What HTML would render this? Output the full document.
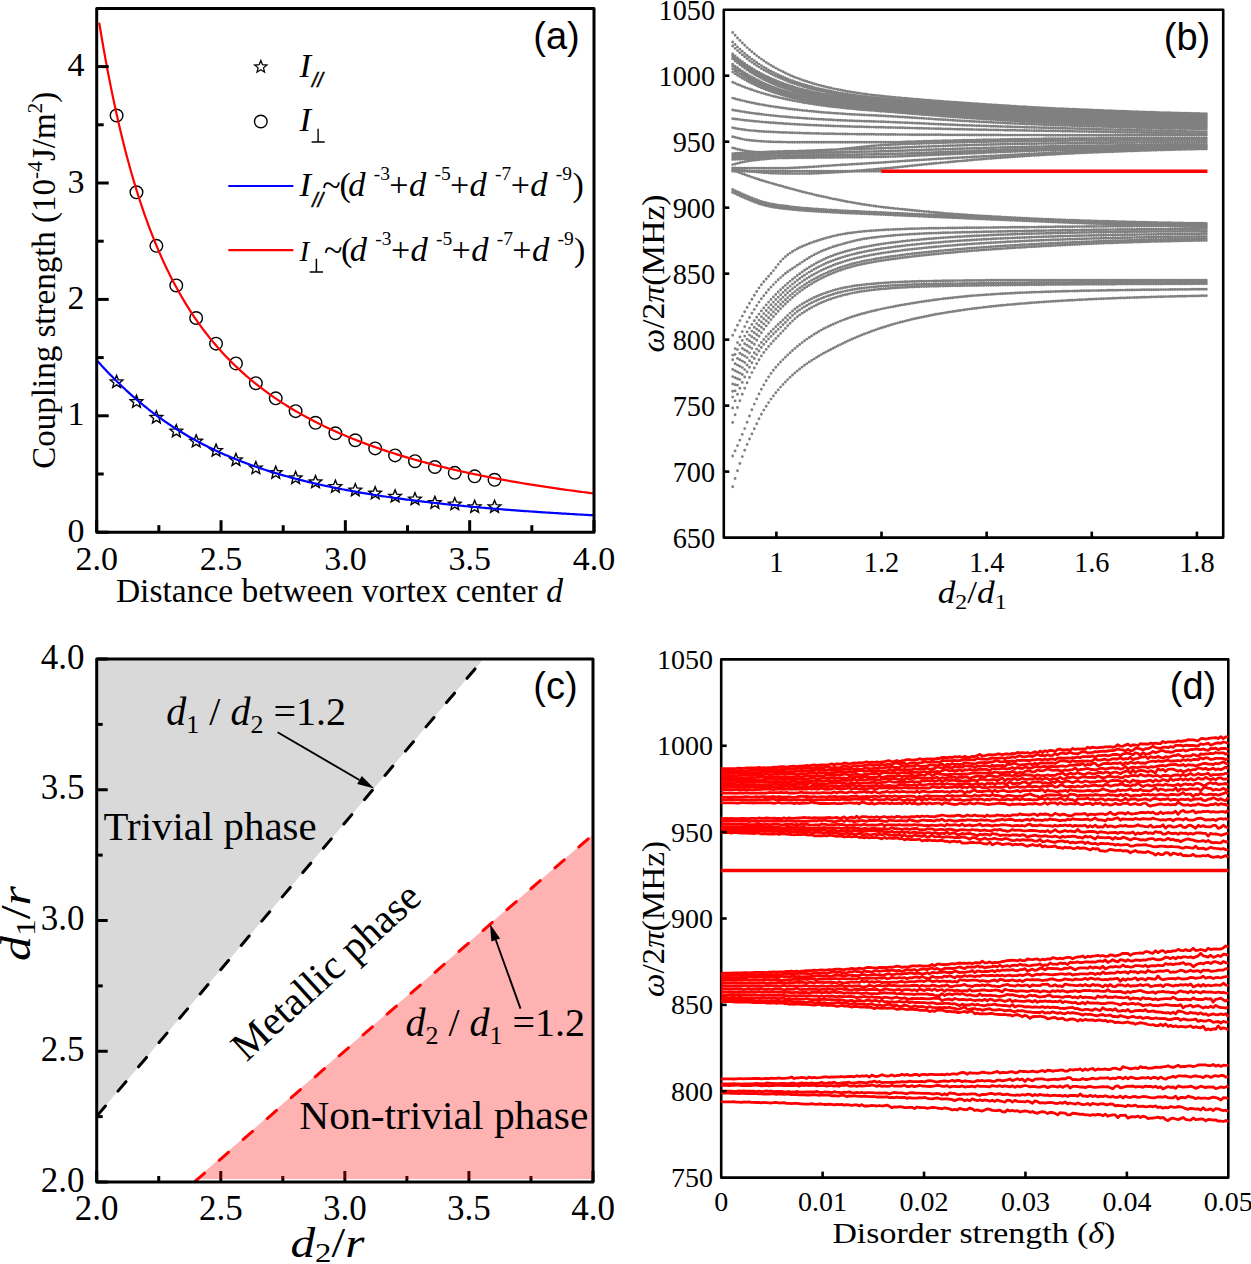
<!DOCTYPE html>
<html><head><meta charset="utf-8"><style>
html,body{margin:0;padding:0;background:#fff;}
svg{display:block;}
text{fill:#000;}
</style></head><body>
<svg width="1251" height="1264" viewBox="0 0 1251 1264">
<rect width="1251" height="1264" fill="#fff"/>
<path d="M116.59,375.44 L118.30,379.69 L122.87,380.00 L119.35,382.94 L120.47,387.38 L116.59,384.95 L112.71,387.38 L113.83,382.94 L110.32,380.00 L114.89,379.69ZM136.48,395.23 L138.19,399.48 L142.76,399.79 L139.25,402.73 L140.36,407.17 L136.48,404.74 L132.60,407.17 L133.72,402.73 L130.21,399.79 L134.78,399.48ZM156.38,410.95 L158.08,415.20 L162.65,415.51 L159.14,418.44 L160.26,422.89 L156.38,420.45 L152.50,422.89 L153.61,418.44 L150.10,415.51 L154.67,415.20ZM176.27,424.68 L177.97,428.93 L182.54,429.24 L179.03,432.18 L180.15,436.62 L176.27,434.19 L172.39,436.62 L173.51,432.18 L169.99,429.24 L174.56,428.93ZM196.16,434.81 L197.87,439.06 L202.44,439.37 L198.92,442.31 L200.04,446.75 L196.16,444.31 L192.28,446.75 L193.40,442.31 L189.88,439.37 L194.45,439.06ZM216.05,444.12 L217.76,448.37 L222.33,448.68 L218.81,451.62 L219.93,456.06 L216.05,453.62 L212.17,456.06 L213.29,451.62 L209.78,448.68 L214.35,448.37ZM235.94,453.43 L237.65,457.68 L242.22,457.99 L238.71,460.93 L239.82,465.37 L235.94,462.94 L232.06,465.37 L233.18,460.93 L229.67,457.99 L234.24,457.68ZM255.84,461.58 L257.54,465.83 L262.11,466.14 L258.60,469.08 L259.72,473.52 L255.84,471.08 L251.96,473.52 L253.07,469.08 L249.56,466.14 L254.13,465.83ZM275.73,466.24 L277.43,470.49 L282.00,470.80 L278.49,473.73 L279.61,478.18 L275.73,475.74 L271.85,478.18 L272.97,473.73 L269.45,470.80 L274.02,470.49ZM295.62,471.47 L297.33,475.72 L301.90,476.03 L298.38,478.97 L299.50,483.41 L295.62,480.98 L291.74,483.41 L292.86,478.97 L289.34,476.03 L293.91,475.72ZM315.51,475.55 L317.22,479.80 L321.79,480.11 L318.27,483.05 L319.39,487.49 L315.51,485.05 L311.63,487.49 L312.75,483.05 L309.24,480.11 L313.81,479.80ZM335.40,480.20 L337.11,484.45 L341.68,484.76 L338.17,487.70 L339.28,492.14 L335.40,489.71 L331.52,492.14 L332.64,487.70 L329.13,484.76 L333.70,484.45ZM355.30,483.70 L357.00,487.95 L361.57,488.26 L358.06,491.19 L359.18,495.64 L355.30,493.20 L351.42,495.64 L352.53,491.19 L349.02,488.26 L353.59,487.95ZM375.19,486.72 L376.89,490.97 L381.46,491.28 L377.95,494.22 L379.07,498.66 L375.19,496.23 L371.31,498.66 L372.43,494.22 L368.91,491.28 L373.48,490.97ZM395.08,489.87 L396.79,494.12 L401.36,494.43 L397.84,497.36 L398.96,501.80 L395.08,499.37 L391.20,501.80 L392.32,497.36 L388.80,494.43 L393.37,494.12ZM414.97,492.66 L416.68,496.91 L421.25,497.22 L417.73,500.16 L418.85,504.60 L414.97,502.16 L411.09,504.60 L412.21,500.16 L408.70,497.22 L413.27,496.91ZM434.86,496.27 L436.57,500.52 L441.14,500.83 L437.63,503.76 L438.74,508.21 L434.86,505.77 L430.98,508.21 L432.10,503.76 L428.59,500.83 L433.16,500.52ZM454.76,497.66 L456.46,501.91 L461.03,502.22 L457.52,505.16 L458.64,509.60 L454.76,507.17 L450.88,509.60 L451.99,505.16 L448.48,502.22 L453.05,501.91ZM474.65,500.34 L476.35,504.59 L480.92,504.90 L477.41,507.84 L478.53,512.28 L474.65,509.85 L470.77,512.28 L471.89,507.84 L468.37,504.90 L472.94,504.59ZM494.54,500.34 L496.25,504.59 L500.82,504.90 L497.30,507.84 L498.42,512.28 L494.54,509.85 L490.66,512.28 L491.78,507.84 L488.26,504.90 L492.83,504.59Z" fill="none" stroke="#000" stroke-width="1.4" stroke-linejoin="miter"/>
<circle cx="116.59" cy="115.49" r="6.3" fill="none" stroke="#000" stroke-width="1.4"/>
<circle cx="136.48" cy="192.31" r="6.3" fill="none" stroke="#000" stroke-width="1.4"/>
<circle cx="156.38" cy="245.86" r="6.3" fill="none" stroke="#000" stroke-width="1.4"/>
<circle cx="176.27" cy="285.43" r="6.3" fill="none" stroke="#000" stroke-width="1.4"/>
<circle cx="196.16" cy="318.02" r="6.3" fill="none" stroke="#000" stroke-width="1.4"/>
<circle cx="216.05" cy="343.63" r="6.3" fill="none" stroke="#000" stroke-width="1.4"/>
<circle cx="235.94" cy="363.42" r="6.3" fill="none" stroke="#000" stroke-width="1.4"/>
<circle cx="255.84" cy="383.21" r="6.3" fill="none" stroke="#000" stroke-width="1.4"/>
<circle cx="275.73" cy="398.34" r="6.3" fill="none" stroke="#000" stroke-width="1.4"/>
<circle cx="295.62" cy="411.14" r="6.3" fill="none" stroke="#000" stroke-width="1.4"/>
<circle cx="315.51" cy="422.78" r="6.3" fill="none" stroke="#000" stroke-width="1.4"/>
<circle cx="335.40" cy="433.26" r="6.3" fill="none" stroke="#000" stroke-width="1.4"/>
<circle cx="355.30" cy="440.24" r="6.3" fill="none" stroke="#000" stroke-width="1.4"/>
<circle cx="375.19" cy="448.39" r="6.3" fill="none" stroke="#000" stroke-width="1.4"/>
<circle cx="395.08" cy="455.38" r="6.3" fill="none" stroke="#000" stroke-width="1.4"/>
<circle cx="414.97" cy="461.20" r="6.3" fill="none" stroke="#000" stroke-width="1.4"/>
<circle cx="434.86" cy="467.02" r="6.3" fill="none" stroke="#000" stroke-width="1.4"/>
<circle cx="454.76" cy="472.84" r="6.3" fill="none" stroke="#000" stroke-width="1.4"/>
<circle cx="474.65" cy="476.33" r="6.3" fill="none" stroke="#000" stroke-width="1.4"/>
<circle cx="494.54" cy="479.82" r="6.3" fill="none" stroke="#000" stroke-width="1.4"/>
<path d="M99.19,22.58 L100.84,32.54 L102.49,42.20 L104.13,51.57 L105.78,60.66 L107.43,69.48 L109.08,78.05 L110.73,86.36 L112.38,94.44 L114.03,102.29 L115.68,109.91 L117.33,117.32 L118.98,124.52 L120.63,131.52 L122.28,138.33 L123.93,144.95 L125.58,151.40 L127.23,157.67 L128.88,163.77 L130.52,169.71 L132.17,175.49 L133.82,181.13 L135.47,186.62 L137.12,191.96 L138.77,197.17 L140.42,202.25 L142.07,207.21 L143.72,212.04 L145.37,216.75 L147.02,221.34 L148.67,225.83 L150.32,230.20 L151.97,234.47 L153.62,238.65 L155.27,242.72 L156.91,246.70 L158.56,250.59 L160.21,254.38 L161.86,258.10 L163.51,261.73 L165.16,265.27 L166.81,268.74 L168.46,272.14 L170.11,275.46 L171.76,278.71 L173.41,281.89 L175.06,285.00 L176.71,288.05 L178.36,291.03 L180.01,293.95 L181.66,296.81 L183.30,299.62 L184.95,302.37 L186.60,305.06 L188.25,307.70 L189.90,310.29 L191.55,312.83 L193.20,315.32 L194.85,317.76 L196.50,320.16 L198.15,322.51 L199.80,324.82 L201.45,327.08 L203.10,329.31 L204.75,331.49 L206.40,333.64 L208.05,335.74 L209.69,337.81 L211.34,339.84 L212.99,341.84 L214.64,343.81 L216.29,345.73 L217.94,347.63 L219.59,349.50 L221.24,351.33 L222.89,353.14 L224.54,354.91 L226.19,356.66 L227.84,358.38 L229.49,360.07 L231.14,361.73 L232.79,363.37 L234.44,364.98 L236.08,366.57 L237.73,368.13 L239.38,369.67 L241.03,371.18 L242.68,372.68 L244.33,374.15 L245.98,375.60 L247.63,377.02 L249.28,378.43 L250.93,379.82 L252.58,381.19 L254.23,382.53 L255.88,383.86 L257.53,385.17 L259.18,386.46 L260.83,387.74 L262.47,388.99 L264.12,390.23 L265.77,391.46 L267.42,392.66 L269.07,393.85 L270.72,395.03 L272.37,396.19 L274.02,397.33 L275.67,398.46 L277.32,399.58 L278.97,400.68 L280.62,401.76 L282.27,402.84 L283.92,403.90 L285.57,404.94 L287.22,405.98 L288.87,407.00 L290.51,408.01 L292.16,409.00 L293.81,409.99 L295.46,410.96 L297.11,411.92 L298.76,412.87 L300.41,413.81 L302.06,414.73 L303.71,415.65 L305.36,416.56 L307.01,417.45 L308.66,418.34 L310.31,419.21 L311.96,420.08 L313.61,420.93 L315.26,421.78 L316.90,422.62 L318.55,423.44 L320.20,424.26 L321.85,425.07 L323.50,425.87 L325.15,426.66 L326.80,427.45 L328.45,428.22 L330.10,428.99 L331.75,429.75 L333.40,430.50 L335.05,431.24 L336.70,431.97 L338.35,432.70 L340.00,433.42 L341.65,434.13 L343.29,434.84 L344.94,435.53 L346.59,436.23 L348.24,436.91 L349.89,437.59 L351.54,438.26 L353.19,438.92 L354.84,439.58 L356.49,440.23 L358.14,440.87 L359.79,441.51 L361.44,442.14 L363.09,442.76 L364.74,443.38 L366.39,443.99 L368.04,444.60 L369.68,445.20 L371.33,445.80 L372.98,446.39 L374.63,446.97 L376.28,447.55 L377.93,448.13 L379.58,448.69 L381.23,449.26 L382.88,449.81 L384.53,450.37 L386.18,450.91 L387.83,451.45 L389.48,451.99 L391.13,452.52 L392.78,453.05 L394.43,453.57 L396.07,454.09 L397.72,454.61 L399.37,455.11 L401.02,455.62 L402.67,456.12 L404.32,456.61 L405.97,457.10 L407.62,457.59 L409.27,458.07 L410.92,458.55 L412.57,459.02 L414.22,459.49 L415.87,459.96 L417.52,460.42 L419.17,460.88 L420.82,461.33 L422.46,461.78 L424.11,462.23 L425.76,462.67 L427.41,463.11 L429.06,463.54 L430.71,463.97 L432.36,464.40 L434.01,464.82 L435.66,465.24 L437.31,465.66 L438.96,466.07 L440.61,466.48 L442.26,466.89 L443.91,467.29 L445.56,467.69 L447.21,468.09 L448.85,468.48 L450.50,468.87 L452.15,469.26 L453.80,469.64 L455.45,470.02 L457.10,470.40 L458.75,470.77 L460.40,471.14 L462.05,471.51 L463.70,471.88 L465.35,472.24 L467.00,472.60 L468.65,472.95 L470.30,473.31 L471.95,473.66 L473.60,474.01 L475.24,474.35 L476.89,474.69 L478.54,475.03 L480.19,475.37 L481.84,475.71 L483.49,476.04 L485.14,476.37 L486.79,476.69 L488.44,477.02 L490.09,477.34 L491.74,477.66 L493.39,477.98 L495.04,478.29 L496.69,478.60 L498.34,478.91 L499.99,479.22 L501.63,479.52 L503.28,479.83 L504.93,480.13 L506.58,480.42 L508.23,480.72 L509.88,481.01 L511.53,481.31 L513.18,481.59 L514.83,481.88 L516.48,482.17 L518.13,482.45 L519.78,482.73 L521.43,483.01 L523.08,483.28 L524.73,483.56 L526.38,483.83 L528.02,484.10 L529.67,484.37 L531.32,484.64 L532.97,484.90 L534.62,485.16 L536.27,485.42 L537.92,485.68 L539.57,485.94 L541.22,486.19 L542.87,486.45 L544.52,486.70 L546.17,486.95 L547.82,487.19 L549.47,487.44 L551.12,487.68 L552.77,487.93 L554.41,488.17 L556.06,488.41 L557.71,488.64 L559.36,488.88 L561.01,489.11 L562.66,489.34 L564.31,489.57 L565.96,489.80 L567.61,490.03 L569.26,490.26 L570.91,490.48 L572.56,490.70 L574.21,490.92 L575.86,491.14 L577.51,491.36 L579.16,491.58 L580.80,491.79 L582.45,492.01 L584.10,492.22 L585.75,492.43 L587.40,492.64 L589.05,492.84 L590.70,493.05 L592.35,493.25 L594.00,493.46" fill="none" stroke="#ff0000" stroke-width="2.2"/>
<path d="M96.70,360.17 L98.36,362.01 L100.02,363.83 L101.67,365.64 L103.33,367.43 L104.99,369.20 L106.65,370.95 L108.30,372.69 L109.96,374.40 L111.62,376.10 L113.28,377.78 L114.93,379.45 L116.59,381.09 L118.25,382.72 L119.91,384.33 L121.57,385.92 L123.22,387.50 L124.88,389.05 L126.54,390.59 L128.20,392.11 L129.85,393.61 L131.51,395.10 L133.17,396.56 L134.83,398.01 L136.48,399.45 L138.14,400.86 L139.80,402.26 L141.46,403.64 L143.11,405.00 L144.77,406.35 L146.43,407.68 L148.09,408.99 L149.75,410.29 L151.40,411.57 L153.06,412.83 L154.72,414.08 L156.38,415.32 L158.03,416.53 L159.69,417.74 L161.35,418.92 L163.01,420.10 L164.66,421.25 L166.32,422.40 L167.98,423.52 L169.64,424.64 L171.29,425.74 L172.95,426.82 L174.61,427.89 L176.27,428.95 L177.93,430.00 L179.58,431.03 L181.24,432.04 L182.90,433.05 L184.56,434.04 L186.21,435.02 L187.87,435.99 L189.53,436.94 L191.19,437.89 L192.84,438.82 L194.50,439.73 L196.16,440.64 L197.82,441.54 L199.48,442.42 L201.13,443.29 L202.79,444.15 L204.45,445.01 L206.11,445.85 L207.76,446.67 L209.42,447.49 L211.08,448.30 L212.74,449.10 L214.39,449.89 L216.05,450.67 L217.71,451.44 L219.37,452.19 L221.03,452.94 L222.68,453.68 L224.34,454.42 L226.00,455.14 L227.66,455.85 L229.31,456.55 L230.97,457.25 L232.63,457.94 L234.29,458.62 L235.94,459.29 L237.60,459.95 L239.26,460.60 L240.92,461.25 L242.57,461.88 L244.23,462.51 L245.89,463.14 L247.55,463.75 L249.21,464.36 L250.86,464.96 L252.52,465.55 L254.18,466.14 L255.84,466.72 L257.49,467.29 L259.15,467.85 L260.81,468.41 L262.47,468.96 L264.12,469.51 L265.78,470.05 L267.44,470.58 L269.10,471.11 L270.76,471.63 L272.41,472.14 L274.07,472.65 L275.73,473.15 L277.39,473.65 L279.04,474.14 L280.70,474.62 L282.36,475.10 L284.02,475.57 L285.67,476.04 L287.33,476.51 L288.99,476.96 L290.65,477.42 L292.30,477.86 L293.96,478.30 L295.62,478.74 L297.28,479.17 L298.94,479.60 L300.59,480.02 L302.25,480.44 L303.91,480.86 L305.57,481.26 L307.22,481.67 L308.88,482.07 L310.54,482.46 L312.20,482.85 L313.85,483.24 L315.51,483.62 L317.17,484.00 L318.83,484.38 L320.49,484.75 L322.14,485.11 L323.80,485.48 L325.46,485.83 L327.12,486.19 L328.77,486.54 L330.43,486.89 L332.09,487.23 L333.75,487.57 L335.40,487.90 L337.06,488.24 L338.72,488.57 L340.38,488.89 L342.03,489.21 L343.69,489.53 L345.35,489.85 L347.01,490.16 L348.67,490.47 L350.32,490.78 L351.98,491.08 L353.64,491.38 L355.30,491.68 L356.95,491.97 L358.61,492.26 L360.27,492.55 L361.93,492.83 L363.58,493.11 L365.24,493.39 L366.90,493.67 L368.56,493.94 L370.22,494.21 L371.87,494.48 L373.53,494.75 L375.19,495.01 L376.85,495.27 L378.50,495.53 L380.16,495.78 L381.82,496.04 L383.48,496.29 L385.13,496.53 L386.79,496.78 L388.45,497.02 L390.11,497.26 L391.76,497.50 L393.42,497.74 L395.08,497.97 L396.74,498.20 L398.40,498.43 L400.05,498.66 L401.71,498.88 L403.37,499.11 L405.03,499.33 L406.68,499.55 L408.34,499.76 L410.00,499.98 L411.66,500.19 L413.31,500.40 L414.97,500.61 L416.63,500.82 L418.29,501.02 L419.94,501.22 L421.60,501.43 L423.26,501.63 L424.92,501.82 L426.58,502.02 L428.23,502.21 L429.89,502.41 L431.55,502.60 L433.21,502.78 L434.86,502.97 L436.52,503.16 L438.18,503.34 L439.84,503.52 L441.49,503.70 L443.15,503.88 L444.81,504.06 L446.47,504.24 L448.13,504.41 L449.78,504.58 L451.44,504.75 L453.10,504.92 L454.76,505.09 L456.41,505.26 L458.07,505.43 L459.73,505.59 L461.39,505.75 L463.04,505.91 L464.70,506.07 L466.36,506.23 L468.02,506.39 L469.68,506.54 L471.33,506.70 L472.99,506.85 L474.65,507.00 L476.31,507.15 L477.96,507.30 L479.62,507.45 L481.28,507.60 L482.94,507.74 L484.59,507.89 L486.25,508.03 L487.91,508.17 L489.57,508.32 L491.22,508.46 L492.88,508.59 L494.54,508.73 L496.20,508.87 L497.86,509.00 L499.51,509.14 L501.17,509.27 L502.83,509.40 L504.49,509.53 L506.14,509.66 L507.80,509.79 L509.46,509.92 L511.12,510.05 L512.77,510.17 L514.43,510.30 L516.09,510.42 L517.75,510.54 L519.41,510.67 L521.06,510.79 L522.72,510.91 L524.38,511.03 L526.04,511.14 L527.69,511.26 L529.35,511.38 L531.01,511.49 L532.67,511.61 L534.32,511.72 L535.98,511.83 L537.64,511.95 L539.30,512.06 L540.95,512.17 L542.61,512.28 L544.27,512.39 L545.93,512.49 L547.59,512.60 L549.24,512.71 L550.90,512.81 L552.56,512.92 L554.22,513.02 L555.87,513.12 L557.53,513.22 L559.19,513.33 L560.85,513.43 L562.50,513.53 L564.16,513.63 L565.82,513.72 L567.48,513.82 L569.13,513.92 L570.79,514.02 L572.45,514.11 L574.11,514.21 L575.77,514.30 L577.42,514.39 L579.08,514.49 L580.74,514.58 L582.40,514.67 L584.05,514.76 L585.71,514.85 L587.37,514.94 L589.03,515.03 L590.68,515.12 L592.34,515.21 L594.00,515.29" fill="none" stroke="#0000ff" stroke-width="2.2"/>
<rect x="96.70" y="8.60" width="497.30" height="523.60" fill="none" stroke="#000" stroke-width="3" stroke-linejoin="round"/>
<line x1="96.70" y1="532.20" x2="108.70" y2="532.20" stroke="#000" stroke-width="3" />
<text x="84.5" y="541.7" text-anchor="end" style="font-size:34px;font-family:'Liberation Serif', serif;" >0</text>
<line x1="96.70" y1="415.80" x2="108.70" y2="415.80" stroke="#000" stroke-width="3" />
<text x="84.5" y="425.3" text-anchor="end" style="font-size:34px;font-family:'Liberation Serif', serif;" >1</text>
<line x1="96.70" y1="299.40" x2="108.70" y2="299.40" stroke="#000" stroke-width="3" />
<text x="84.5" y="308.9" text-anchor="end" style="font-size:34px;font-family:'Liberation Serif', serif;" >2</text>
<line x1="96.70" y1="183.00" x2="108.70" y2="183.00" stroke="#000" stroke-width="3" />
<text x="84.5" y="192.5" text-anchor="end" style="font-size:34px;font-family:'Liberation Serif', serif;" >3</text>
<line x1="96.70" y1="66.60" x2="108.70" y2="66.60" stroke="#000" stroke-width="3" />
<text x="84.5" y="76.1" text-anchor="end" style="font-size:34px;font-family:'Liberation Serif', serif;" >4</text>
<line x1="96.70" y1="474.00" x2="103.70" y2="474.00" stroke="#000" stroke-width="3" />
<line x1="96.70" y1="357.60" x2="103.70" y2="357.60" stroke="#000" stroke-width="3" />
<line x1="96.70" y1="241.20" x2="103.70" y2="241.20" stroke="#000" stroke-width="3" />
<line x1="96.70" y1="124.80" x2="103.70" y2="124.80" stroke="#000" stroke-width="3" />
<line x1="96.70" y1="532.20" x2="96.70" y2="520.20" stroke="#000" stroke-width="3" />
<text x="96.7" y="569.9" text-anchor="middle" style="font-size:34px;font-family:'Liberation Serif', serif;" >2.0</text>
<line x1="221.03" y1="532.20" x2="221.03" y2="520.20" stroke="#000" stroke-width="3" />
<text x="221.0" y="569.9" text-anchor="middle" style="font-size:34px;font-family:'Liberation Serif', serif;" >2.5</text>
<line x1="345.35" y1="532.20" x2="345.35" y2="520.20" stroke="#000" stroke-width="3" />
<text x="345.4" y="569.9" text-anchor="middle" style="font-size:34px;font-family:'Liberation Serif', serif;" >3.0</text>
<line x1="469.68" y1="532.20" x2="469.68" y2="520.20" stroke="#000" stroke-width="3" />
<text x="469.7" y="569.9" text-anchor="middle" style="font-size:34px;font-family:'Liberation Serif', serif;" >3.5</text>
<line x1="594.00" y1="532.20" x2="594.00" y2="520.20" stroke="#000" stroke-width="3" />
<text x="594.0" y="569.9" text-anchor="middle" style="font-size:34px;font-family:'Liberation Serif', serif;" >4.0</text>
<line x1="158.86" y1="532.20" x2="158.86" y2="525.20" stroke="#000" stroke-width="3" />
<line x1="283.19" y1="532.20" x2="283.19" y2="525.20" stroke="#000" stroke-width="3" />
<line x1="407.51" y1="532.20" x2="407.51" y2="525.20" stroke="#000" stroke-width="3" />
<line x1="531.84" y1="532.20" x2="531.84" y2="525.20" stroke="#000" stroke-width="3" />
<text x="339.4" y="602.3" text-anchor="middle" style="font-size:34px;font-family:'Liberation Serif', serif;" textLength="447" lengthAdjust="spacingAndGlyphs">Distance between vortex center <tspan font-style="italic">d</tspan></text>
<text transform="translate(55,280.2) rotate(-90)" text-anchor="middle" textLength="377" lengthAdjust="spacingAndGlyphs" style="font-size:34px;font-family:'Liberation Serif', serif">Coupling strength (10<tspan dy="-13" style="font-size:22px">-4</tspan><tspan dy="13">J/m</tspan><tspan dy="-13" style="font-size:22px">2</tspan><tspan dy="13">)</tspan></text>
<text x="556.5" y="48.5" text-anchor="middle" style="font-size:38px;font-family:'Liberation Sans', sans-serif;" >(a)</text>
<path d="M260.80,60.60 L262.46,64.72 L266.89,65.02 L263.48,67.87 L264.56,72.18 L260.80,69.82 L257.04,72.18 L258.12,67.87 L254.71,65.02 L259.14,64.72Z" fill="none" stroke="#000" stroke-width="1.3"/>
<circle cx="260.8" cy="121.5" r="6.3" fill="none" stroke="#000" stroke-width="1.4"/>
<text x="299.6" y="76.5" style="font-size:34.6px;font-family:'Liberation Serif', serif;font-style:italic">I</text>
<text x="312.0" y="86.5" style="font-size:19.5px;font-family:'Liberation Sans', sans-serif;font-style:italic;stroke:#000;stroke-width:0.5">//</text>
<text x="299.6" y="131.1" style="font-size:34.6px;font-family:'Liberation Serif', serif;font-style:italic">I</text>
<path d="M311.6 142.0H324.7M318.1 142.0V128.7" stroke="#000" stroke-width="1.4" fill="none"/>
<line x1="228.30" y1="186.00" x2="293.40" y2="186.00" stroke="#0000ff" stroke-width="2.2" />
<line x1="228.30" y1="250.20" x2="293.40" y2="250.20" stroke="#ff0000" stroke-width="2.2" />
<text x="299.4" y="196.0" style="font-size:34.6px;font-family:'Liberation Serif', serif;font-style:italic">I</text>
<text x="312.3" y="206.5" style="font-size:19.5px;font-family:'Liberation Sans', sans-serif;font-style:italic;stroke:#000;stroke-width:0.5">//</text>
<text x="322.3" y="196.0" style="font-size:34px;font-family:'Liberation Serif', serif;">~</text>
<text x="339.4" y="196.0" style="font-size:34px;font-family:'Liberation Serif', serif;">(</text>
<text x="348.2" y="196.0" style="font-size:34.5px;font-family:'Liberation Serif', serif;font-style:italic">d</text>
<text x="373.7" y="179.7" style="font-size:19.5px;font-family:'Liberation Serif', serif;">-3</text>
<text x="389.3" y="196.0" style="font-size:34px;font-family:'Liberation Serif', serif;">+</text>
<text x="408.9" y="196.0" style="font-size:34.5px;font-family:'Liberation Serif', serif;font-style:italic">d</text>
<text x="434.4" y="179.7" style="font-size:19.5px;font-family:'Liberation Serif', serif;">-5</text>
<text x="450.0" y="196.0" style="font-size:34px;font-family:'Liberation Serif', serif;">+</text>
<text x="469.6" y="196.0" style="font-size:34.5px;font-family:'Liberation Serif', serif;font-style:italic">d</text>
<text x="495.1" y="179.7" style="font-size:19.5px;font-family:'Liberation Serif', serif;">-7</text>
<text x="510.7" y="196.0" style="font-size:34px;font-family:'Liberation Serif', serif;">+</text>
<text x="530.3" y="196.0" style="font-size:34.5px;font-family:'Liberation Serif', serif;font-style:italic">d</text>
<text x="555.8" y="179.7" style="font-size:19.5px;font-family:'Liberation Serif', serif;">-9</text>
<text x="572.4" y="196.0" style="font-size:34px;font-family:'Liberation Serif', serif;">)</text>
<text x="299.4" y="260.8" style="font-size:29px;font-family:'Liberation Serif', serif;font-style:italic">I</text>
<path d="M309.7 272.0H323.0M316.4 272.0V258.7" stroke="#000" stroke-width="1.5" fill="none"/>
<text x="323.9" y="260.8" style="font-size:34px;font-family:'Liberation Serif', serif;">~</text>
<text x="341.0" y="260.8" style="font-size:34px;font-family:'Liberation Serif', serif;">(</text>
<text x="349.8" y="260.8" style="font-size:34.5px;font-family:'Liberation Serif', serif;font-style:italic">d</text>
<text x="375.3" y="244.5" style="font-size:19.5px;font-family:'Liberation Serif', serif;">-3</text>
<text x="390.9" y="260.8" style="font-size:34px;font-family:'Liberation Serif', serif;">+</text>
<text x="410.5" y="260.8" style="font-size:34.5px;font-family:'Liberation Serif', serif;font-style:italic">d</text>
<text x="436.0" y="244.5" style="font-size:19.5px;font-family:'Liberation Serif', serif;">-5</text>
<text x="451.6" y="260.8" style="font-size:34px;font-family:'Liberation Serif', serif;">+</text>
<text x="471.2" y="260.8" style="font-size:34.5px;font-family:'Liberation Serif', serif;font-style:italic">d</text>
<text x="496.7" y="244.5" style="font-size:19.5px;font-family:'Liberation Serif', serif;">-7</text>
<text x="512.3" y="260.8" style="font-size:34px;font-family:'Liberation Serif', serif;">+</text>
<text x="531.9" y="260.8" style="font-size:34.5px;font-family:'Liberation Serif', serif;font-style:italic">d</text>
<text x="557.4" y="244.5" style="font-size:19.5px;font-family:'Liberation Serif', serif;">-9</text>
<text x="574.0" y="260.8" style="font-size:34px;font-family:'Liberation Serif', serif;">)</text>
<path d="M732.7 32.5h0M735.1 35.3h0M737.5 38.0h0M739.9 40.5h0M742.3 43.0h0M744.7 45.3h0M747.1 47.6h0M749.5 49.7h0M751.9 51.8h0M754.3 53.7h0M756.7 55.6h0M759.0 57.4h0M761.4 59.1h0M763.8 60.8h0M766.2 62.4h0M768.6 63.9h0M771.0 65.4h0M773.4 66.8h0M775.8 68.1h0M778.2 69.4h0M780.6 70.6h0M783.0 71.8h0M785.4 73.0h0M787.7 74.1h0M790.1 75.2h0M792.5 76.2h0M794.9 77.2h0M797.3 78.1h0M799.7 79.0h0M802.1 79.9h0M804.5 80.7h0M806.9 81.5h0M809.3 82.3h0M811.7 83.0h0M814.1 83.7h0M816.5 84.4h0M818.8 85.1h0M821.2 85.7h0M823.6 86.3h0M826.0 86.9h0M828.4 87.5h0M830.8 88.0h0M833.2 88.6h0M835.6 89.1h0M838.0 89.5h0M840.4 90.0h0M842.8 90.5h0M845.2 90.9h0M847.5 91.4h0M849.9 91.8h0M852.3 92.2h0M854.7 92.5h0M857.1 92.9h0M859.5 93.3h0M861.9 93.6h0M864.3 93.9h0M866.7 94.3h0M869.1 94.6h0M871.5 94.9h0M873.9 95.2h0M876.2 95.4h0M878.6 95.7h0M881.0 96.0h0M883.4 96.2h0M885.8 96.5h0M888.2 96.7h0M890.6 96.9h0M893.0 97.2h0M895.4 97.4h0M897.8 97.6h0M900.2 97.8h0M902.6 98.1h0M905.0 98.3h0M907.3 98.5h0M909.7 98.7h0M912.1 98.9h0M914.5 99.1h0M916.9 99.3h0M919.3 99.5h0M921.7 99.7h0M924.1 99.9h0M926.5 100.1h0M928.9 100.3h0M931.3 100.5h0M933.7 100.7h0M936.0 100.9h0M938.4 101.0h0M940.8 101.2h0M943.2 101.4h0M945.6 101.6h0M948.0 101.7h0M950.4 101.9h0M952.8 102.1h0M955.2 102.3h0M957.6 102.4h0M960.0 102.6h0M962.4 102.8h0M964.7 102.9h0M967.1 103.1h0M969.5 103.3h0M971.9 103.4h0M974.3 103.6h0M976.7 103.8h0M979.1 103.9h0M981.5 104.1h0M983.9 104.2h0M986.3 104.4h0M988.7 104.6h0M991.1 104.7h0M993.4 104.9h0M995.8 105.0h0M998.2 105.2h0M1000.6 105.4h0M1003.0 105.5h0M1005.4 105.7h0M1007.8 105.8h0M1010.2 106.0h0M1012.6 106.1h0M1015.0 106.3h0M1017.4 106.4h0M1019.8 106.6h0M1022.2 106.7h0M1024.5 106.8h0M1026.9 107.0h0M1029.3 107.1h0M1031.7 107.2h0M1034.1 107.4h0M1036.5 107.5h0M1038.9 107.6h0M1041.3 107.8h0M1043.7 107.9h0M1046.1 108.0h0M1048.5 108.1h0M1050.9 108.2h0M1053.2 108.4h0M1055.6 108.5h0M1058.0 108.6h0M1060.4 108.7h0M1062.8 108.8h0M1065.2 108.9h0M1067.6 109.0h0M1070.0 109.1h0M1072.4 109.2h0M1074.8 109.3h0M1077.2 109.4h0M1079.6 109.5h0M1081.9 109.6h0M1084.3 109.7h0M1086.7 109.8h0M1089.1 109.9h0M1091.5 110.0h0M1093.9 110.1h0M1096.3 110.2h0M1098.7 110.3h0M1101.1 110.4h0M1103.5 110.5h0M1105.9 110.6h0M1108.3 110.7h0M1110.7 110.8h0M1113.0 110.9h0M1115.4 111.0h0M1117.8 111.1h0M1120.2 111.2h0M1122.6 111.3h0M1125.0 111.3h0M1127.4 111.4h0M1129.8 111.5h0M1132.2 111.6h0M1134.6 111.7h0M1137.0 111.8h0M1139.4 111.9h0M1141.7 111.9h0M1144.1 112.0h0M1146.5 112.1h0M1148.9 112.2h0M1151.3 112.3h0M1153.7 112.3h0M1156.1 112.4h0M1158.5 112.5h0M1160.9 112.6h0M1163.3 112.6h0M1165.7 112.7h0M1168.1 112.8h0M1170.4 112.8h0M1172.8 112.9h0M1175.2 113.0h0M1177.6 113.0h0M1180.0 113.1h0M1182.4 113.2h0M1184.8 113.2h0M1187.2 113.3h0M1189.6 113.3h0M1192.0 113.4h0M1194.4 113.4h0M1196.8 113.5h0M1199.1 113.5h0M1201.5 113.6h0M1203.9 113.6h0M1206.3 113.7h0M732.7 42.0h0M735.1 44.5h0M737.5 46.9h0M739.9 49.1h0M742.3 51.3h0M744.7 53.4h0M747.1 55.4h0M749.5 57.3h0M751.9 59.1h0M754.3 60.8h0M756.7 62.5h0M759.0 64.1h0M761.4 65.6h0M763.8 67.1h0M766.2 68.5h0M768.6 69.9h0M771.0 71.2h0M773.4 72.5h0M775.8 73.6h0M778.2 74.8h0M780.6 75.9h0M783.0 76.9h0M785.4 78.0h0M787.7 78.9h0M790.1 79.9h0M792.5 80.8h0M794.9 81.6h0M797.3 82.5h0M799.7 83.3h0M802.1 84.1h0M804.5 84.8h0M806.9 85.5h0M809.3 86.2h0M811.7 86.8h0M814.1 87.5h0M816.5 88.1h0M818.8 88.7h0M821.2 89.2h0M823.6 89.8h0M826.0 90.3h0M828.4 90.8h0M830.8 91.3h0M833.2 91.8h0M835.6 92.2h0M838.0 92.7h0M840.4 93.1h0M842.8 93.5h0M845.2 93.9h0M847.5 94.3h0M849.9 94.6h0M852.3 95.0h0M854.7 95.3h0M857.1 95.6h0M859.5 95.9h0M861.9 96.3h0M864.3 96.5h0M866.7 96.8h0M869.1 97.1h0M871.5 97.4h0M873.9 97.6h0M876.2 97.9h0M878.6 98.1h0M881.0 98.3h0M883.4 98.6h0M885.8 98.8h0M888.2 99.0h0M890.6 99.2h0M893.0 99.4h0M895.4 99.6h0M897.8 99.9h0M900.2 100.1h0M902.6 100.3h0M905.0 100.5h0M907.3 100.6h0M909.7 100.8h0M912.1 101.0h0M914.5 101.2h0M916.9 101.4h0M919.3 101.6h0M921.7 101.8h0M924.1 101.9h0M926.5 102.1h0M928.9 102.3h0M931.3 102.5h0M933.7 102.6h0M936.0 102.8h0M938.4 103.0h0M940.8 103.1h0M943.2 103.3h0M945.6 103.5h0M948.0 103.6h0M950.4 103.8h0M952.8 104.0h0M955.2 104.1h0M957.6 104.3h0M960.0 104.4h0M962.4 104.6h0M964.7 104.7h0M967.1 104.9h0M969.5 105.0h0M971.9 105.2h0M974.3 105.3h0M976.7 105.5h0M979.1 105.6h0M981.5 105.8h0M983.9 105.9h0M986.3 106.1h0M988.7 106.2h0M991.1 106.4h0M993.4 106.5h0M995.8 106.7h0M998.2 106.8h0M1000.6 106.9h0M1003.0 107.1h0M1005.4 107.2h0M1007.8 107.4h0M1010.2 107.5h0M1012.6 107.6h0M1015.0 107.8h0M1017.4 107.9h0M1019.8 108.0h0M1022.2 108.2h0M1024.5 108.3h0M1026.9 108.4h0M1029.3 108.5h0M1031.7 108.7h0M1034.1 108.8h0M1036.5 108.9h0M1038.9 109.0h0M1041.3 109.1h0M1043.7 109.2h0M1046.1 109.4h0M1048.5 109.5h0M1050.9 109.6h0M1053.2 109.7h0M1055.6 109.8h0M1058.0 109.9h0M1060.4 110.0h0M1062.8 110.1h0M1065.2 110.2h0M1067.6 110.3h0M1070.0 110.4h0M1072.4 110.5h0M1074.8 110.6h0M1077.2 110.7h0M1079.6 110.8h0M1081.9 110.9h0M1084.3 111.0h0M1086.7 111.1h0M1089.1 111.2h0M1091.5 111.3h0M1093.9 111.4h0M1096.3 111.5h0M1098.7 111.6h0M1101.1 111.7h0M1103.5 111.8h0M1105.9 111.9h0M1108.3 112.0h0M1110.7 112.1h0M1113.0 112.1h0M1115.4 112.2h0M1117.8 112.3h0M1120.2 112.4h0M1122.6 112.5h0M1125.0 112.6h0M1127.4 112.7h0M1129.8 112.8h0M1132.2 112.8h0M1134.6 112.9h0M1137.0 113.0h0M1139.4 113.1h0M1141.7 113.2h0M1144.1 113.3h0M1146.5 113.3h0M1148.9 113.4h0M1151.3 113.5h0M1153.7 113.6h0M1156.1 113.6h0M1158.5 113.7h0M1160.9 113.8h0M1163.3 113.9h0M1165.7 113.9h0M1168.1 114.0h0M1170.4 114.1h0M1172.8 114.1h0M1175.2 114.2h0M1177.6 114.3h0M1180.0 114.3h0M1182.4 114.4h0M1184.8 114.5h0M1187.2 114.5h0M1189.6 114.6h0M1192.0 114.7h0M1194.4 114.7h0M1196.8 114.8h0M1199.1 114.8h0M1201.5 114.9h0M1203.9 114.9h0M1206.3 115.0h0M732.7 46.0h0M735.1 48.4h0M737.5 50.6h0M739.9 52.8h0M742.3 54.9h0M744.7 56.8h0M747.1 58.7h0M749.5 60.6h0M751.9 62.3h0M754.3 64.0h0M756.7 65.6h0M759.0 67.1h0M761.4 68.6h0M763.8 70.0h0M766.2 71.3h0M768.6 72.6h0M771.0 73.9h0M773.4 75.1h0M775.8 76.2h0M778.2 77.3h0M780.6 78.3h0M783.0 79.3h0M785.4 80.3h0M787.7 81.3h0M790.1 82.2h0M792.5 83.0h0M794.9 83.8h0M797.3 84.6h0M799.7 85.4h0M802.1 86.1h0M804.5 86.9h0M806.9 87.5h0M809.3 88.2h0M811.7 88.8h0M814.1 89.4h0M816.5 90.0h0M818.8 90.6h0M821.2 91.1h0M823.6 91.6h0M826.0 92.1h0M828.4 92.6h0M830.8 93.1h0M833.2 93.5h0M835.6 93.9h0M838.0 94.4h0M840.4 94.8h0M842.8 95.2h0M845.2 95.5h0M847.5 95.9h0M849.9 96.2h0M852.3 96.6h0M854.7 96.9h0M857.1 97.2h0M859.5 97.5h0M861.9 97.8h0M864.3 98.1h0M866.7 98.3h0M869.1 98.6h0M871.5 98.9h0M873.9 99.1h0M876.2 99.3h0M878.6 99.6h0M881.0 99.8h0M883.4 100.0h0M885.8 100.2h0M888.2 100.4h0M890.6 100.7h0M893.0 100.9h0M895.4 101.1h0M897.8 101.3h0M900.2 101.5h0M902.6 101.7h0M905.0 101.9h0M907.3 102.1h0M909.7 102.2h0M912.1 102.4h0M914.5 102.6h0M916.9 102.8h0M919.3 103.0h0M921.7 103.2h0M924.1 103.3h0M926.5 103.5h0M928.9 103.7h0M931.3 103.9h0M933.7 104.0h0M936.0 104.2h0M938.4 104.4h0M940.8 104.5h0M943.2 104.7h0M945.6 104.9h0M948.0 105.0h0M950.4 105.2h0M952.8 105.3h0M955.2 105.5h0M957.6 105.7h0M960.0 105.8h0M962.4 106.0h0M964.7 106.1h0M967.1 106.3h0M969.5 106.4h0M971.9 106.6h0M974.3 106.7h0M976.7 106.9h0M979.1 107.0h0M981.5 107.2h0M983.9 107.3h0M986.3 107.4h0M988.7 107.6h0M991.1 107.7h0M993.4 107.9h0M995.8 108.0h0M998.2 108.2h0M1000.6 108.3h0M1003.0 108.4h0M1005.4 108.6h0M1007.8 108.7h0M1010.2 108.8h0M1012.6 109.0h0M1015.0 109.1h0M1017.4 109.2h0M1019.8 109.4h0M1022.2 109.5h0M1024.5 109.6h0M1026.9 109.7h0M1029.3 109.9h0M1031.7 110.0h0M1034.1 110.1h0M1036.5 110.2h0M1038.9 110.4h0M1041.3 110.5h0M1043.7 110.6h0M1046.1 110.7h0M1048.5 110.8h0M1050.9 110.9h0M1053.2 111.0h0M1055.6 111.1h0M1058.0 111.2h0M1060.4 111.3h0M1062.8 111.4h0M1065.2 111.5h0M1067.6 111.6h0M1070.0 111.7h0M1072.4 111.8h0M1074.8 111.9h0M1077.2 112.0h0M1079.6 112.1h0M1081.9 112.2h0M1084.3 112.3h0M1086.7 112.4h0M1089.1 112.5h0M1091.5 112.6h0M1093.9 112.7h0M1096.3 112.8h0M1098.7 112.9h0M1101.1 113.0h0M1103.5 113.1h0M1105.9 113.2h0M1108.3 113.2h0M1110.7 113.3h0M1113.0 113.4h0M1115.4 113.5h0M1117.8 113.6h0M1120.2 113.7h0M1122.6 113.8h0M1125.0 113.9h0M1127.4 113.9h0M1129.8 114.0h0M1132.2 114.1h0M1134.6 114.2h0M1137.0 114.3h0M1139.4 114.3h0M1141.7 114.4h0M1144.1 114.5h0M1146.5 114.6h0M1148.9 114.7h0M1151.3 114.7h0M1153.7 114.8h0M1156.1 114.9h0M1158.5 115.0h0M1160.9 115.0h0M1163.3 115.1h0M1165.7 115.2h0M1168.1 115.2h0M1170.4 115.3h0M1172.8 115.4h0M1175.2 115.4h0M1177.6 115.5h0M1180.0 115.6h0M1182.4 115.6h0M1184.8 115.7h0M1187.2 115.7h0M1189.6 115.8h0M1192.0 115.9h0M1194.4 115.9h0M1196.8 116.0h0M1199.1 116.0h0M1201.5 116.1h0M1203.9 116.1h0M1206.3 116.2h0M732.7 53.9h0M735.1 56.0h0M737.5 58.0h0M739.9 59.9h0M742.3 61.7h0M744.7 63.5h0M747.1 65.1h0M749.5 66.7h0M751.9 68.3h0M754.3 69.7h0M756.7 71.1h0M759.0 72.5h0M761.4 73.8h0M763.8 75.0h0M766.2 76.2h0M768.6 77.3h0M771.0 78.4h0M773.4 79.5h0M775.8 80.5h0M778.2 81.4h0M780.6 82.4h0M783.0 83.3h0M785.4 84.1h0M787.7 84.9h0M790.1 85.7h0M792.5 86.5h0M794.9 87.2h0M797.3 87.9h0M799.7 88.6h0M802.1 89.2h0M804.5 89.9h0M806.9 90.5h0M809.3 91.0h0M811.7 91.6h0M814.1 92.1h0M816.5 92.6h0M818.8 93.1h0M821.2 93.6h0M823.6 94.1h0M826.0 94.5h0M828.4 94.9h0M830.8 95.3h0M833.2 95.7h0M835.6 96.1h0M838.0 96.5h0M840.4 96.8h0M842.8 97.2h0M845.2 97.5h0M847.5 97.8h0M849.9 98.1h0M852.3 98.4h0M854.7 98.7h0M857.1 99.0h0M859.5 99.2h0M861.9 99.5h0M864.3 99.7h0M866.7 100.0h0M869.1 100.2h0M871.5 100.4h0M873.9 100.6h0M876.2 100.8h0M878.6 101.0h0M881.0 101.3h0M883.4 101.5h0M885.8 101.7h0M888.2 101.9h0M890.6 102.1h0M893.0 102.3h0M895.4 102.5h0M897.8 102.6h0M900.2 102.8h0M902.6 103.0h0M905.0 103.2h0M907.3 103.4h0M909.7 103.6h0M912.1 103.8h0M914.5 104.0h0M916.9 104.2h0M919.3 104.3h0M921.7 104.5h0M924.1 104.7h0M926.5 104.9h0M928.9 105.0h0M931.3 105.2h0M933.7 105.4h0M936.0 105.6h0M938.4 105.7h0M940.8 105.9h0M943.2 106.1h0M945.6 106.2h0M948.0 106.4h0M950.4 106.6h0M952.8 106.7h0M955.2 106.9h0M957.6 107.0h0M960.0 107.2h0M962.4 107.3h0M964.7 107.5h0M967.1 107.6h0M969.5 107.8h0M971.9 107.9h0M974.3 108.1h0M976.7 108.2h0M979.1 108.4h0M981.5 108.5h0M983.9 108.7h0M986.3 108.8h0M988.7 109.0h0M991.1 109.1h0M993.4 109.2h0M995.8 109.4h0M998.2 109.5h0M1000.6 109.7h0M1003.0 109.8h0M1005.4 109.9h0M1007.8 110.1h0M1010.2 110.2h0M1012.6 110.3h0M1015.0 110.5h0M1017.4 110.6h0M1019.8 110.7h0M1022.2 110.8h0M1024.5 111.0h0M1026.9 111.1h0M1029.3 111.2h0M1031.7 111.3h0M1034.1 111.5h0M1036.5 111.6h0M1038.9 111.7h0M1041.3 111.8h0M1043.7 111.9h0M1046.1 112.0h0M1048.5 112.1h0M1050.9 112.2h0M1053.2 112.3h0M1055.6 112.4h0M1058.0 112.5h0M1060.4 112.6h0M1062.8 112.7h0M1065.2 112.8h0M1067.6 112.9h0M1070.0 113.0h0M1072.4 113.1h0M1074.8 113.2h0M1077.2 113.3h0M1079.6 113.4h0M1081.9 113.5h0M1084.3 113.6h0M1086.7 113.7h0M1089.1 113.8h0M1091.5 113.9h0M1093.9 114.0h0M1096.3 114.1h0M1098.7 114.2h0M1101.1 114.3h0M1103.5 114.3h0M1105.9 114.4h0M1108.3 114.5h0M1110.7 114.6h0M1113.0 114.7h0M1115.4 114.8h0M1117.8 114.9h0M1120.2 115.0h0M1122.6 115.0h0M1125.0 115.1h0M1127.4 115.2h0M1129.8 115.3h0M1132.2 115.4h0M1134.6 115.4h0M1137.0 115.5h0M1139.4 115.6h0M1141.7 115.7h0M1144.1 115.8h0M1146.5 115.8h0M1148.9 115.9h0M1151.3 116.0h0M1153.7 116.1h0M1156.1 116.1h0M1158.5 116.2h0M1160.9 116.3h0M1163.3 116.3h0M1165.7 116.4h0M1168.1 116.5h0M1170.4 116.5h0M1172.8 116.6h0M1175.2 116.7h0M1177.6 116.7h0M1180.0 116.8h0M1182.4 116.8h0M1184.8 116.9h0M1187.2 117.0h0M1189.6 117.0h0M1192.0 117.1h0M1194.4 117.1h0M1196.8 117.2h0M1199.1 117.2h0M1201.5 117.3h0M1203.9 117.3h0M1206.3 117.4h0M732.7 55.5h0M735.1 57.6h0M737.5 59.5h0M739.9 61.4h0M742.3 63.2h0M744.7 65.0h0M747.1 66.6h0M749.5 68.2h0M751.9 69.8h0M754.3 71.2h0M756.7 72.6h0M759.0 74.0h0M761.4 75.2h0M763.8 76.5h0M766.2 77.7h0M768.6 78.8h0M771.0 79.9h0M773.4 80.9h0M775.8 81.9h0M778.2 82.9h0M780.6 83.8h0M783.0 84.7h0M785.4 85.5h0M787.7 86.3h0M790.1 87.1h0M792.5 87.9h0M794.9 88.6h0M797.3 89.3h0M799.7 90.0h0M802.1 90.6h0M804.5 91.3h0M806.9 91.8h0M809.3 92.4h0M811.7 93.0h0M814.1 93.5h0M816.5 94.0h0M818.8 94.5h0M821.2 95.0h0M823.6 95.4h0M826.0 95.9h0M828.4 96.3h0M830.8 96.7h0M833.2 97.1h0M835.6 97.4h0M838.0 97.8h0M840.4 98.2h0M842.8 98.5h0M845.2 98.8h0M847.5 99.2h0M849.9 99.5h0M852.3 99.8h0M854.7 100.0h0M857.1 100.3h0M859.5 100.6h0M861.9 100.8h0M864.3 101.1h0M866.7 101.3h0M869.1 101.5h0M871.5 101.7h0M873.9 101.9h0M876.2 102.2h0M878.6 102.4h0M881.0 102.6h0M883.4 102.8h0M885.8 103.0h0M888.2 103.2h0M890.6 103.4h0M893.0 103.6h0M895.4 103.8h0M897.8 104.0h0M900.2 104.2h0M902.6 104.3h0M905.0 104.5h0M907.3 104.7h0M909.7 104.9h0M912.1 105.1h0M914.5 105.3h0M916.9 105.5h0M919.3 105.6h0M921.7 105.8h0M924.1 106.0h0M926.5 106.2h0M928.9 106.4h0M931.3 106.5h0M933.7 106.7h0M936.0 106.9h0M938.4 107.0h0M940.8 107.2h0M943.2 107.4h0M945.6 107.5h0M948.0 107.7h0M950.4 107.9h0M952.8 108.0h0M955.2 108.2h0M957.6 108.3h0M960.0 108.5h0M962.4 108.7h0M964.7 108.8h0M967.1 109.0h0M969.5 109.1h0M971.9 109.3h0M974.3 109.4h0M976.7 109.6h0M979.1 109.7h0M981.5 109.8h0M983.9 110.0h0M986.3 110.1h0M988.7 110.3h0M991.1 110.4h0M993.4 110.6h0M995.8 110.7h0M998.2 110.8h0M1000.6 111.0h0M1003.0 111.1h0M1005.4 111.3h0M1007.8 111.4h0M1010.2 111.5h0M1012.6 111.7h0M1015.0 111.8h0M1017.4 111.9h0M1019.8 112.0h0M1022.2 112.2h0M1024.5 112.3h0M1026.9 112.4h0M1029.3 112.5h0M1031.7 112.7h0M1034.1 112.8h0M1036.5 112.9h0M1038.9 113.0h0M1041.3 113.1h0M1043.7 113.2h0M1046.1 113.4h0M1048.5 113.5h0M1050.9 113.6h0M1053.2 113.7h0M1055.6 113.8h0M1058.0 113.9h0M1060.4 114.0h0M1062.8 114.1h0M1065.2 114.2h0M1067.6 114.3h0M1070.0 114.4h0M1072.4 114.4h0M1074.8 114.5h0M1077.2 114.6h0M1079.6 114.7h0M1081.9 114.8h0M1084.3 114.9h0M1086.7 115.0h0M1089.1 115.1h0M1091.5 115.2h0M1093.9 115.3h0M1096.3 115.4h0M1098.7 115.5h0M1101.1 115.5h0M1103.5 115.6h0M1105.9 115.7h0M1108.3 115.8h0M1110.7 115.9h0M1113.0 116.0h0M1115.4 116.1h0M1117.8 116.1h0M1120.2 116.2h0M1122.6 116.3h0M1125.0 116.4h0M1127.4 116.5h0M1129.8 116.6h0M1132.2 116.6h0M1134.6 116.7h0M1137.0 116.8h0M1139.4 116.9h0M1141.7 116.9h0M1144.1 117.0h0M1146.5 117.1h0M1148.9 117.2h0M1151.3 117.2h0M1153.7 117.3h0M1156.1 117.4h0M1158.5 117.4h0M1160.9 117.5h0M1163.3 117.6h0M1165.7 117.6h0M1168.1 117.7h0M1170.4 117.8h0M1172.8 117.8h0M1175.2 117.9h0M1177.6 117.9h0M1180.0 118.0h0M1182.4 118.1h0M1184.8 118.1h0M1187.2 118.2h0M1189.6 118.2h0M1192.0 118.3h0M1194.4 118.3h0M1196.8 118.4h0M1199.1 118.4h0M1201.5 118.5h0M1203.9 118.5h0M1206.3 118.6h0M732.7 57.2h0M735.1 59.3h0M737.5 61.2h0M739.9 63.1h0M742.3 64.9h0M744.7 66.6h0M747.1 68.3h0M749.5 69.8h0M751.9 71.4h0M754.3 72.8h0M756.7 74.2h0M759.0 75.5h0M761.4 76.8h0M763.8 78.0h0M766.2 79.2h0M768.6 80.3h0M771.0 81.4h0M773.4 82.4h0M775.8 83.4h0M778.2 84.4h0M780.6 85.3h0M783.0 86.1h0M785.4 87.0h0M787.7 87.8h0M790.1 88.6h0M792.5 89.3h0M794.9 90.1h0M797.3 90.7h0M799.7 91.4h0M802.1 92.1h0M804.5 92.7h0M806.9 93.3h0M809.3 93.8h0M811.7 94.4h0M814.1 94.9h0M816.5 95.4h0M818.8 95.9h0M821.2 96.4h0M823.6 96.8h0M826.0 97.2h0M828.4 97.7h0M830.8 98.1h0M833.2 98.4h0M835.6 98.8h0M838.0 99.2h0M840.4 99.5h0M842.8 99.9h0M845.2 100.2h0M847.5 100.5h0M849.9 100.8h0M852.3 101.1h0M854.7 101.4h0M857.1 101.6h0M859.5 101.9h0M861.9 102.2h0M864.3 102.4h0M866.7 102.6h0M869.1 102.8h0M871.5 103.1h0M873.9 103.3h0M876.2 103.5h0M878.6 103.7h0M881.0 103.9h0M883.4 104.1h0M885.8 104.3h0M888.2 104.5h0M890.6 104.7h0M893.0 104.9h0M895.4 105.1h0M897.8 105.3h0M900.2 105.5h0M902.6 105.7h0M905.0 105.9h0M907.3 106.0h0M909.7 106.2h0M912.1 106.4h0M914.5 106.6h0M916.9 106.8h0M919.3 107.0h0M921.7 107.1h0M924.1 107.3h0M926.5 107.5h0M928.9 107.7h0M931.3 107.8h0M933.7 108.0h0M936.0 108.2h0M938.4 108.4h0M940.8 108.5h0M943.2 108.7h0M945.6 108.9h0M948.0 109.0h0M950.4 109.2h0M952.8 109.3h0M955.2 109.5h0M957.6 109.7h0M960.0 109.8h0M962.4 110.0h0M964.7 110.1h0M967.1 110.3h0M969.5 110.4h0M971.9 110.6h0M974.3 110.7h0M976.7 110.9h0M979.1 111.0h0M981.5 111.2h0M983.9 111.3h0M986.3 111.5h0M988.7 111.6h0M991.1 111.7h0M993.4 111.9h0M995.8 112.0h0M998.2 112.2h0M1000.6 112.3h0M1003.0 112.4h0M1005.4 112.6h0M1007.8 112.7h0M1010.2 112.8h0M1012.6 113.0h0M1015.0 113.1h0M1017.4 113.2h0M1019.8 113.4h0M1022.2 113.5h0M1024.5 113.6h0M1026.9 113.7h0M1029.3 113.9h0M1031.7 114.0h0M1034.1 114.1h0M1036.5 114.2h0M1038.9 114.3h0M1041.3 114.5h0M1043.7 114.6h0M1046.1 114.7h0M1048.5 114.8h0M1050.9 114.9h0M1053.2 115.0h0M1055.6 115.1h0M1058.0 115.2h0M1060.4 115.3h0M1062.8 115.4h0M1065.2 115.5h0M1067.6 115.6h0M1070.0 115.7h0M1072.4 115.8h0M1074.8 115.9h0M1077.2 115.9h0M1079.6 116.0h0M1081.9 116.1h0M1084.3 116.2h0M1086.7 116.3h0M1089.1 116.4h0M1091.5 116.5h0M1093.9 116.6h0M1096.3 116.7h0M1098.7 116.8h0M1101.1 116.8h0M1103.5 116.9h0M1105.9 117.0h0M1108.3 117.1h0M1110.7 117.2h0M1113.0 117.3h0M1115.4 117.3h0M1117.8 117.4h0M1120.2 117.5h0M1122.6 117.6h0M1125.0 117.7h0M1127.4 117.7h0M1129.8 117.8h0M1132.2 117.9h0M1134.6 118.0h0M1137.0 118.1h0M1139.4 118.1h0M1141.7 118.2h0M1144.1 118.3h0M1146.5 118.3h0M1148.9 118.4h0M1151.3 118.5h0M1153.7 118.6h0M1156.1 118.6h0M1158.5 118.7h0M1160.9 118.8h0M1163.3 118.8h0M1165.7 118.9h0M1168.1 118.9h0M1170.4 119.0h0M1172.8 119.1h0M1175.2 119.1h0M1177.6 119.2h0M1180.0 119.2h0M1182.4 119.3h0M1184.8 119.3h0M1187.2 119.4h0M1189.6 119.4h0M1192.0 119.5h0M1194.4 119.5h0M1196.8 119.6h0M1199.1 119.6h0M1201.5 119.7h0M1203.9 119.7h0M1206.3 119.7h0M732.7 58.9h0M735.1 61.0h0M737.5 62.9h0M739.9 64.8h0M742.3 66.5h0M744.7 68.3h0M747.1 69.9h0M749.5 71.5h0M751.9 73.0h0M754.3 74.4h0M756.7 75.8h0M759.0 77.1h0M761.4 78.3h0M763.8 79.6h0M766.2 80.7h0M768.6 81.8h0M771.0 82.9h0M773.4 83.9h0M775.8 84.9h0M778.2 85.8h0M780.6 86.7h0M783.0 87.6h0M785.4 88.5h0M787.7 89.3h0M790.1 90.0h0M792.5 90.8h0M794.9 91.5h0M797.3 92.2h0M799.7 92.8h0M802.1 93.5h0M804.5 94.1h0M806.9 94.7h0M809.3 95.2h0M811.7 95.8h0M814.1 96.3h0M816.5 96.8h0M818.8 97.3h0M821.2 97.7h0M823.6 98.2h0M826.0 98.6h0M828.4 99.0h0M830.8 99.4h0M833.2 99.8h0M835.6 100.2h0M838.0 100.5h0M840.4 100.9h0M842.8 101.2h0M845.2 101.5h0M847.5 101.9h0M849.9 102.2h0M852.3 102.4h0M854.7 102.7h0M857.1 103.0h0M859.5 103.2h0M861.9 103.5h0M864.3 103.7h0M866.7 103.9h0M869.1 104.2h0M871.5 104.4h0M873.9 104.6h0M876.2 104.8h0M878.6 105.0h0M881.0 105.2h0M883.4 105.4h0M885.8 105.6h0M888.2 105.8h0M890.6 106.0h0M893.0 106.2h0M895.4 106.4h0M897.8 106.6h0M900.2 106.8h0M902.6 107.0h0M905.0 107.2h0M907.3 107.4h0M909.7 107.5h0M912.1 107.7h0M914.5 107.9h0M916.9 108.1h0M919.3 108.3h0M921.7 108.5h0M924.1 108.6h0M926.5 108.8h0M928.9 109.0h0M931.3 109.2h0M933.7 109.3h0M936.0 109.5h0M938.4 109.7h0M940.8 109.8h0M943.2 110.0h0M945.6 110.2h0M948.0 110.3h0M950.4 110.5h0M952.8 110.7h0M955.2 110.8h0M957.6 111.0h0M960.0 111.1h0M962.4 111.3h0M964.7 111.4h0M967.1 111.6h0M969.5 111.7h0M971.9 111.9h0M974.3 112.0h0M976.7 112.2h0M979.1 112.3h0M981.5 112.5h0M983.9 112.6h0M986.3 112.8h0M988.7 112.9h0M991.1 113.1h0M993.4 113.2h0M995.8 113.3h0M998.2 113.5h0M1000.6 113.6h0M1003.0 113.8h0M1005.4 113.9h0M1007.8 114.0h0M1010.2 114.2h0M1012.6 114.3h0M1015.0 114.4h0M1017.4 114.6h0M1019.8 114.7h0M1022.2 114.8h0M1024.5 115.0h0M1026.9 115.1h0M1029.3 115.2h0M1031.7 115.3h0M1034.1 115.4h0M1036.5 115.6h0M1038.9 115.7h0M1041.3 115.8h0M1043.7 115.9h0M1046.1 116.0h0M1048.5 116.1h0M1050.9 116.2h0M1053.2 116.3h0M1055.6 116.4h0M1058.0 116.5h0M1060.4 116.6h0M1062.8 116.7h0M1065.2 116.8h0M1067.6 116.9h0M1070.0 117.0h0M1072.4 117.1h0M1074.8 117.2h0M1077.2 117.3h0M1079.6 117.3h0M1081.9 117.4h0M1084.3 117.5h0M1086.7 117.6h0M1089.1 117.7h0M1091.5 117.8h0M1093.9 117.9h0M1096.3 118.0h0M1098.7 118.0h0M1101.1 118.1h0M1103.5 118.2h0M1105.9 118.3h0M1108.3 118.4h0M1110.7 118.5h0M1113.0 118.5h0M1115.4 118.6h0M1117.8 118.7h0M1120.2 118.8h0M1122.6 118.9h0M1125.0 118.9h0M1127.4 119.0h0M1129.8 119.1h0M1132.2 119.2h0M1134.6 119.2h0M1137.0 119.3h0M1139.4 119.4h0M1141.7 119.5h0M1144.1 119.5h0M1146.5 119.6h0M1148.9 119.7h0M1151.3 119.7h0M1153.7 119.8h0M1156.1 119.9h0M1158.5 119.9h0M1160.9 120.0h0M1163.3 120.1h0M1165.7 120.1h0M1168.1 120.2h0M1170.4 120.2h0M1172.8 120.3h0M1175.2 120.3h0M1177.6 120.4h0M1180.0 120.5h0M1182.4 120.5h0M1184.8 120.6h0M1187.2 120.6h0M1189.6 120.6h0M1192.0 120.7h0M1194.4 120.7h0M1196.8 120.8h0M1199.1 120.8h0M1201.5 120.9h0M1203.9 120.9h0M1206.3 120.9h0M732.7 64.2h0M735.1 66.1h0M737.5 67.8h0M739.9 69.5h0M742.3 71.2h0M744.7 72.7h0M747.1 74.2h0M749.5 75.7h0M751.9 77.0h0M754.3 78.3h0M756.7 79.6h0M759.0 80.8h0M761.4 82.0h0M763.8 83.1h0M766.2 84.1h0M768.6 85.2h0M771.0 86.1h0M773.4 87.1h0M775.8 88.0h0M778.2 88.8h0M780.6 89.6h0M783.0 90.4h0M785.4 91.2h0M787.7 91.9h0M790.1 92.7h0M792.5 93.3h0M794.9 94.0h0M797.3 94.6h0M799.7 95.2h0M802.1 95.8h0M804.5 96.4h0M806.9 96.9h0M809.3 97.4h0M811.7 97.9h0M814.1 98.4h0M816.5 98.8h0M818.8 99.3h0M821.2 99.7h0M823.6 100.1h0M826.0 100.5h0M828.4 100.9h0M830.8 101.2h0M833.2 101.6h0M835.6 101.9h0M838.0 102.3h0M840.4 102.6h0M842.8 102.9h0M845.2 103.2h0M847.5 103.5h0M849.9 103.7h0M852.3 104.0h0M854.7 104.3h0M857.1 104.5h0M859.5 104.7h0M861.9 105.0h0M864.3 105.2h0M866.7 105.4h0M869.1 105.6h0M871.5 105.8h0M873.9 106.0h0M876.2 106.2h0M878.6 106.3h0M881.0 106.5h0M883.4 106.7h0M885.8 106.9h0M888.2 107.1h0M890.6 107.3h0M893.0 107.5h0M895.4 107.7h0M897.8 107.9h0M900.2 108.1h0M902.6 108.2h0M905.0 108.4h0M907.3 108.6h0M909.7 108.8h0M912.1 109.0h0M914.5 109.2h0M916.9 109.4h0M919.3 109.5h0M921.7 109.7h0M924.1 109.9h0M926.5 110.1h0M928.9 110.3h0M931.3 110.4h0M933.7 110.6h0M936.0 110.8h0M938.4 111.0h0M940.8 111.1h0M943.2 111.3h0M945.6 111.5h0M948.0 111.6h0M950.4 111.8h0M952.8 112.0h0M955.2 112.1h0M957.6 112.3h0M960.0 112.5h0M962.4 112.6h0M964.7 112.8h0M967.1 112.9h0M969.5 113.1h0M971.9 113.2h0M974.3 113.4h0M976.7 113.5h0M979.1 113.7h0M981.5 113.8h0M983.9 114.0h0M986.3 114.1h0M988.7 114.2h0M991.1 114.4h0M993.4 114.5h0M995.8 114.7h0M998.2 114.8h0M1000.6 115.0h0M1003.0 115.1h0M1005.4 115.2h0M1007.8 115.4h0M1010.2 115.5h0M1012.6 115.6h0M1015.0 115.8h0M1017.4 115.9h0M1019.8 116.0h0M1022.2 116.2h0M1024.5 116.3h0M1026.9 116.4h0M1029.3 116.5h0M1031.7 116.7h0M1034.1 116.8h0M1036.5 116.9h0M1038.9 117.0h0M1041.3 117.1h0M1043.7 117.2h0M1046.1 117.3h0M1048.5 117.4h0M1050.9 117.5h0M1053.2 117.6h0M1055.6 117.7h0M1058.0 117.8h0M1060.4 117.9h0M1062.8 118.0h0M1065.2 118.1h0M1067.6 118.2h0M1070.0 118.3h0M1072.4 118.4h0M1074.8 118.5h0M1077.2 118.6h0M1079.6 118.6h0M1081.9 118.7h0M1084.3 118.8h0M1086.7 118.9h0M1089.1 119.0h0M1091.5 119.1h0M1093.9 119.2h0M1096.3 119.3h0M1098.7 119.3h0M1101.1 119.4h0M1103.5 119.5h0M1105.9 119.6h0M1108.3 119.7h0M1110.7 119.7h0M1113.0 119.8h0M1115.4 119.9h0M1117.8 120.0h0M1120.2 120.1h0M1122.6 120.1h0M1125.0 120.2h0M1127.4 120.3h0M1129.8 120.4h0M1132.2 120.4h0M1134.6 120.5h0M1137.0 120.6h0M1139.4 120.7h0M1141.7 120.7h0M1144.1 120.8h0M1146.5 120.9h0M1148.9 120.9h0M1151.3 121.0h0M1153.7 121.1h0M1156.1 121.1h0M1158.5 121.2h0M1160.9 121.2h0M1163.3 121.3h0M1165.7 121.4h0M1168.1 121.4h0M1170.4 121.5h0M1172.8 121.5h0M1175.2 121.6h0M1177.6 121.6h0M1180.0 121.7h0M1182.4 121.7h0M1184.8 121.8h0M1187.2 121.8h0M1189.6 121.9h0M1192.0 121.9h0M1194.4 121.9h0M1196.8 122.0h0M1199.1 122.0h0M1201.5 122.1h0M1203.9 122.1h0M1206.3 122.1h0M732.7 66.4h0M735.1 68.3h0M737.5 70.0h0M739.9 71.6h0M742.3 73.2h0M744.7 74.7h0M747.1 76.2h0M749.5 77.6h0M751.9 78.9h0M754.3 80.2h0M756.7 81.4h0M759.0 82.6h0M761.4 83.7h0M763.8 84.8h0M766.2 85.8h0M768.6 86.8h0M771.0 87.8h0M773.4 88.7h0M775.8 89.5h0M778.2 90.4h0M780.6 91.2h0M783.0 91.9h0M785.4 92.7h0M787.7 93.4h0M790.1 94.1h0M792.5 94.8h0M794.9 95.4h0M797.3 96.0h0M799.7 96.6h0M802.1 97.2h0M804.5 97.7h0M806.9 98.2h0M809.3 98.7h0M811.7 99.2h0M814.1 99.6h0M816.5 100.1h0M818.8 100.5h0M821.2 100.9h0M823.6 101.3h0M826.0 101.7h0M828.4 102.1h0M830.8 102.4h0M833.2 102.8h0M835.6 103.1h0M838.0 103.4h0M840.4 103.7h0M842.8 104.0h0M845.2 104.3h0M847.5 104.6h0M849.9 104.9h0M852.3 105.1h0M854.7 105.4h0M857.1 105.6h0M859.5 105.8h0M861.9 106.1h0M864.3 106.3h0M866.7 106.5h0M869.1 106.6h0M871.5 106.8h0M873.9 107.0h0M876.2 107.2h0M878.6 107.4h0M881.0 107.6h0M883.4 107.8h0M885.8 108.0h0M888.2 108.2h0M890.6 108.4h0M893.0 108.5h0M895.4 108.7h0M897.8 108.9h0M900.2 109.1h0M902.6 109.3h0M905.0 109.5h0M907.3 109.7h0M909.7 109.9h0M912.1 110.1h0M914.5 110.3h0M916.9 110.5h0M919.3 110.6h0M921.7 110.8h0M924.1 111.0h0M926.5 111.2h0M928.9 111.4h0M931.3 111.6h0M933.7 111.8h0M936.0 111.9h0M938.4 112.1h0M940.8 112.3h0M943.2 112.5h0M945.6 112.6h0M948.0 112.8h0M950.4 113.0h0M952.8 113.2h0M955.2 113.3h0M957.6 113.5h0M960.0 113.6h0M962.4 113.8h0M964.7 114.0h0M967.1 114.1h0M969.5 114.3h0M971.9 114.4h0M974.3 114.6h0M976.7 114.7h0M979.1 114.9h0M981.5 115.0h0M983.9 115.2h0M986.3 115.3h0M988.7 115.5h0M991.1 115.6h0M993.4 115.8h0M995.8 115.9h0M998.2 116.1h0M1000.6 116.2h0M1003.0 116.4h0M1005.4 116.5h0M1007.8 116.6h0M1010.2 116.8h0M1012.6 116.9h0M1015.0 117.1h0M1017.4 117.2h0M1019.8 117.3h0M1022.2 117.5h0M1024.5 117.6h0M1026.9 117.7h0M1029.3 117.8h0M1031.7 118.0h0M1034.1 118.1h0M1036.5 118.2h0M1038.9 118.3h0M1041.3 118.4h0M1043.7 118.5h0M1046.1 118.7h0M1048.5 118.8h0M1050.9 118.9h0M1053.2 119.0h0M1055.6 119.1h0M1058.0 119.2h0M1060.4 119.2h0M1062.8 119.3h0M1065.2 119.4h0M1067.6 119.5h0M1070.0 119.6h0M1072.4 119.7h0M1074.8 119.8h0M1077.2 119.9h0M1079.6 120.0h0M1081.9 120.0h0M1084.3 120.1h0M1086.7 120.2h0M1089.1 120.3h0M1091.5 120.4h0M1093.9 120.5h0M1096.3 120.6h0M1098.7 120.6h0M1101.1 120.7h0M1103.5 120.8h0M1105.9 120.9h0M1108.3 121.0h0M1110.7 121.0h0M1113.0 121.1h0M1115.4 121.2h0M1117.8 121.3h0M1120.2 121.4h0M1122.6 121.4h0M1125.0 121.5h0M1127.4 121.6h0M1129.8 121.7h0M1132.2 121.7h0M1134.6 121.8h0M1137.0 121.9h0M1139.4 121.9h0M1141.7 122.0h0M1144.1 122.1h0M1146.5 122.1h0M1148.9 122.2h0M1151.3 122.3h0M1153.7 122.3h0M1156.1 122.4h0M1158.5 122.4h0M1160.9 122.5h0M1163.3 122.6h0M1165.7 122.6h0M1168.1 122.7h0M1170.4 122.7h0M1172.8 122.8h0M1175.2 122.8h0M1177.6 122.9h0M1180.0 122.9h0M1182.4 123.0h0M1184.8 123.0h0M1187.2 123.0h0M1189.6 123.1h0M1192.0 123.1h0M1194.4 123.2h0M1196.8 123.2h0M1199.1 123.2h0M1201.5 123.3h0M1203.9 123.3h0M1206.3 123.3h0M732.7 69.1h0M735.1 70.8h0M737.5 72.5h0M739.9 74.1h0M742.3 75.6h0M744.7 77.0h0M747.1 78.4h0M749.5 79.8h0M751.9 81.0h0M754.3 82.3h0M756.7 83.4h0M759.0 84.5h0M761.4 85.6h0M763.8 86.7h0M766.2 87.6h0M768.6 88.6h0M771.0 89.5h0M773.4 90.4h0M775.8 91.2h0M778.2 92.0h0M780.6 92.8h0M783.0 93.5h0M785.4 94.2h0M787.7 94.9h0M790.1 95.6h0M792.5 96.2h0M794.9 96.8h0M797.3 97.4h0M799.7 98.0h0M802.1 98.5h0M804.5 99.0h0M806.9 99.5h0M809.3 100.0h0M811.7 100.5h0M814.1 100.9h0M816.5 101.3h0M818.8 101.8h0M821.2 102.2h0M823.6 102.5h0M826.0 102.9h0M828.4 103.3h0M830.8 103.6h0M833.2 103.9h0M835.6 104.2h0M838.0 104.5h0M840.4 104.8h0M842.8 105.1h0M845.2 105.4h0M847.5 105.7h0M849.9 105.9h0M852.3 106.2h0M854.7 106.4h0M857.1 106.6h0M859.5 106.8h0M861.9 107.0h0M864.3 107.2h0M866.7 107.4h0M869.1 107.6h0M871.5 107.8h0M873.9 108.0h0M876.2 108.1h0M878.6 108.3h0M881.0 108.5h0M883.4 108.7h0M885.8 108.9h0M888.2 109.1h0M890.6 109.3h0M893.0 109.5h0M895.4 109.7h0M897.8 109.9h0M900.2 110.1h0M902.6 110.3h0M905.0 110.4h0M907.3 110.6h0M909.7 110.8h0M912.1 111.0h0M914.5 111.2h0M916.9 111.4h0M919.3 111.6h0M921.7 111.8h0M924.1 112.0h0M926.5 112.2h0M928.9 112.4h0M931.3 112.6h0M933.7 112.8h0M936.0 113.0h0M938.4 113.2h0M940.8 113.3h0M943.2 113.5h0M945.6 113.7h0M948.0 113.9h0M950.4 114.1h0M952.8 114.3h0M955.2 114.4h0M957.6 114.6h0M960.0 114.8h0M962.4 114.9h0M964.7 115.1h0M967.1 115.3h0M969.5 115.4h0M971.9 115.6h0M974.3 115.7h0M976.7 115.9h0M979.1 116.1h0M981.5 116.2h0M983.9 116.4h0M986.3 116.5h0M988.7 116.7h0M991.1 116.8h0M993.4 117.0h0M995.8 117.1h0M998.2 117.3h0M1000.6 117.4h0M1003.0 117.6h0M1005.4 117.7h0M1007.8 117.9h0M1010.2 118.0h0M1012.6 118.2h0M1015.0 118.3h0M1017.4 118.5h0M1019.8 118.6h0M1022.2 118.7h0M1024.5 118.9h0M1026.9 119.0h0M1029.3 119.1h0M1031.7 119.3h0M1034.1 119.4h0M1036.5 119.5h0M1038.9 119.6h0M1041.3 119.7h0M1043.7 119.9h0M1046.1 120.0h0M1048.5 120.1h0M1050.9 120.2h0M1053.2 120.3h0M1055.6 120.4h0M1058.0 120.5h0M1060.4 120.6h0M1062.8 120.7h0M1065.2 120.7h0M1067.6 120.8h0M1070.0 120.9h0M1072.4 121.0h0M1074.8 121.1h0M1077.2 121.2h0M1079.6 121.3h0M1081.9 121.4h0M1084.3 121.4h0M1086.7 121.5h0M1089.1 121.6h0M1091.5 121.7h0M1093.9 121.8h0M1096.3 121.9h0M1098.7 122.0h0M1101.1 122.0h0M1103.5 122.1h0M1105.9 122.2h0M1108.3 122.3h0M1110.7 122.4h0M1113.0 122.4h0M1115.4 122.5h0M1117.8 122.6h0M1120.2 122.7h0M1122.6 122.7h0M1125.0 122.8h0M1127.4 122.9h0M1129.8 123.0h0M1132.2 123.0h0M1134.6 123.1h0M1137.0 123.2h0M1139.4 123.2h0M1141.7 123.3h0M1144.1 123.4h0M1146.5 123.4h0M1148.9 123.5h0M1151.3 123.5h0M1153.7 123.6h0M1156.1 123.7h0M1158.5 123.7h0M1160.9 123.8h0M1163.3 123.8h0M1165.7 123.9h0M1168.1 123.9h0M1170.4 124.0h0M1172.8 124.0h0M1175.2 124.1h0M1177.6 124.1h0M1180.0 124.2h0M1182.4 124.2h0M1184.8 124.2h0M1187.2 124.3h0M1189.6 124.3h0M1192.0 124.3h0M1194.4 124.4h0M1196.8 124.4h0M1199.1 124.4h0M1201.5 124.5h0M1203.9 124.5h0M1206.3 124.5h0M732.7 72.1h0M735.1 73.8h0M737.5 75.3h0M739.9 76.8h0M742.3 78.3h0M744.7 79.6h0M747.1 81.0h0M749.5 82.2h0M751.9 83.4h0M754.3 84.6h0M756.7 85.7h0M759.0 86.8h0M761.4 87.8h0M763.8 88.8h0M766.2 89.7h0M768.6 90.6h0M771.0 91.5h0M773.4 92.3h0M775.8 93.1h0M778.2 93.8h0M780.6 94.5h0M783.0 95.3h0M785.4 95.9h0M787.7 96.6h0M790.1 97.2h0M792.5 97.8h0M794.9 98.4h0M797.3 98.9h0M799.7 99.5h0M802.1 100.0h0M804.5 100.5h0M806.9 100.9h0M809.3 101.4h0M811.7 101.8h0M814.1 102.2h0M816.5 102.6h0M818.8 103.0h0M821.2 103.4h0M823.6 103.8h0M826.0 104.1h0M828.4 104.5h0M830.8 104.8h0M833.2 105.1h0M835.6 105.4h0M838.0 105.7h0M840.4 106.0h0M842.8 106.2h0M845.2 106.5h0M847.5 106.7h0M849.9 107.0h0M852.3 107.2h0M854.7 107.4h0M857.1 107.6h0M859.5 107.8h0M861.9 108.0h0M864.3 108.2h0M866.7 108.4h0M869.1 108.6h0M871.5 108.7h0M873.9 108.9h0M876.2 109.1h0M878.6 109.3h0M881.0 109.4h0M883.4 109.6h0M885.8 109.8h0M888.2 110.0h0M890.6 110.2h0M893.0 110.4h0M895.4 110.6h0M897.8 110.8h0M900.2 111.0h0M902.6 111.2h0M905.0 111.4h0M907.3 111.6h0M909.7 111.8h0M912.1 112.0h0M914.5 112.2h0M916.9 112.4h0M919.3 112.6h0M921.7 112.8h0M924.1 113.0h0M926.5 113.2h0M928.9 113.4h0M931.3 113.6h0M933.7 113.8h0M936.0 114.0h0M938.4 114.2h0M940.8 114.4h0M943.2 114.6h0M945.6 114.8h0M948.0 115.0h0M950.4 115.2h0M952.8 115.4h0M955.2 115.5h0M957.6 115.7h0M960.0 115.9h0M962.4 116.1h0M964.7 116.2h0M967.1 116.4h0M969.5 116.6h0M971.9 116.7h0M974.3 116.9h0M976.7 117.1h0M979.1 117.2h0M981.5 117.4h0M983.9 117.5h0M986.3 117.7h0M988.7 117.9h0M991.1 118.0h0M993.4 118.2h0M995.8 118.3h0M998.2 118.5h0M1000.6 118.7h0M1003.0 118.8h0M1005.4 119.0h0M1007.8 119.1h0M1010.2 119.3h0M1012.6 119.4h0M1015.0 119.6h0M1017.4 119.7h0M1019.8 119.9h0M1022.2 120.0h0M1024.5 120.1h0M1026.9 120.3h0M1029.3 120.4h0M1031.7 120.5h0M1034.1 120.7h0M1036.5 120.8h0M1038.9 120.9h0M1041.3 121.0h0M1043.7 121.2h0M1046.1 121.3h0M1048.5 121.4h0M1050.9 121.5h0M1053.2 121.6h0M1055.6 121.7h0M1058.0 121.8h0M1060.4 121.9h0M1062.8 122.0h0M1065.2 122.1h0M1067.6 122.2h0M1070.0 122.2h0M1072.4 122.3h0M1074.8 122.4h0M1077.2 122.5h0M1079.6 122.6h0M1081.9 122.7h0M1084.3 122.8h0M1086.7 122.9h0M1089.1 123.0h0M1091.5 123.0h0M1093.9 123.1h0M1096.3 123.2h0M1098.7 123.3h0M1101.1 123.4h0M1103.5 123.5h0M1105.9 123.5h0M1108.3 123.6h0M1110.7 123.7h0M1113.0 123.8h0M1115.4 123.9h0M1117.8 123.9h0M1120.2 124.0h0M1122.6 124.1h0M1125.0 124.2h0M1127.4 124.2h0M1129.8 124.3h0M1132.2 124.4h0M1134.6 124.4h0M1137.0 124.5h0M1139.4 124.6h0M1141.7 124.6h0M1144.1 124.7h0M1146.5 124.8h0M1148.9 124.8h0M1151.3 124.9h0M1153.7 125.0h0M1156.1 125.0h0M1158.5 125.1h0M1160.9 125.1h0M1163.3 125.2h0M1165.7 125.2h0M1168.1 125.3h0M1170.4 125.3h0M1172.8 125.4h0M1175.2 125.4h0M1177.6 125.5h0M1180.0 125.5h0M1182.4 125.5h0M1184.8 125.6h0M1187.2 125.6h0M1189.6 125.6h0M1192.0 125.7h0M1194.4 125.7h0M1196.8 125.7h0M1199.1 125.8h0M1201.5 125.8h0M1203.9 125.8h0M1206.3 125.8h0M732.7 82.3h0M735.1 83.3h0M737.5 84.4h0M739.9 85.3h0M742.3 86.3h0M744.7 87.2h0M747.1 88.1h0M749.5 89.0h0M751.9 89.8h0M754.3 90.6h0M756.7 91.4h0M759.0 92.1h0M761.4 92.9h0M763.8 93.6h0M766.2 94.3h0M768.6 94.9h0M771.0 95.6h0M773.4 96.2h0M775.8 96.8h0M778.2 97.4h0M780.6 97.9h0M783.0 98.5h0M785.4 99.0h0M787.7 99.5h0M790.1 100.0h0M792.5 100.5h0M794.9 100.9h0M797.3 101.4h0M799.7 101.8h0M802.1 102.3h0M804.5 102.7h0M806.9 103.1h0M809.3 103.5h0M811.7 103.8h0M814.1 104.2h0M816.5 104.6h0M818.8 104.9h0M821.2 105.2h0M823.6 105.6h0M826.0 105.9h0M828.4 106.2h0M830.8 106.5h0M833.2 106.8h0M835.6 107.1h0M838.0 107.3h0M840.4 107.6h0M842.8 107.9h0M845.2 108.1h0M847.5 108.4h0M849.9 108.6h0M852.3 108.8h0M854.7 109.1h0M857.1 109.3h0M859.5 109.5h0M861.9 109.7h0M864.3 109.9h0M866.7 110.1h0M869.1 110.2h0M871.5 110.4h0M873.9 110.6h0M876.2 110.8h0M878.6 111.0h0M881.0 111.2h0M883.4 111.3h0M885.8 111.5h0M888.2 111.7h0M890.6 111.9h0M893.0 112.1h0M895.4 112.3h0M897.8 112.5h0M900.2 112.7h0M902.6 112.9h0M905.0 113.1h0M907.3 113.3h0M909.7 113.5h0M912.1 113.7h0M914.5 113.9h0M916.9 114.1h0M919.3 114.3h0M921.7 114.5h0M924.1 114.7h0M926.5 114.8h0M928.9 115.0h0M931.3 115.2h0M933.7 115.4h0M936.0 115.6h0M938.4 115.8h0M940.8 116.0h0M943.2 116.2h0M945.6 116.4h0M948.0 116.5h0M950.4 116.7h0M952.8 116.9h0M955.2 117.1h0M957.6 117.2h0M960.0 117.4h0M962.4 117.6h0M964.7 117.7h0M967.1 117.9h0M969.5 118.1h0M971.9 118.2h0M974.3 118.4h0M976.7 118.5h0M979.1 118.7h0M981.5 118.8h0M983.9 119.0h0M986.3 119.2h0M988.7 119.3h0M991.1 119.5h0M993.4 119.6h0M995.8 119.8h0M998.2 119.9h0M1000.6 120.1h0M1003.0 120.2h0M1005.4 120.4h0M1007.8 120.5h0M1010.2 120.7h0M1012.6 120.8h0M1015.0 121.0h0M1017.4 121.1h0M1019.8 121.2h0M1022.2 121.4h0M1024.5 121.5h0M1026.9 121.6h0M1029.3 121.8h0M1031.7 121.9h0M1034.1 122.0h0M1036.5 122.1h0M1038.9 122.3h0M1041.3 122.4h0M1043.7 122.5h0M1046.1 122.6h0M1048.5 122.7h0M1050.9 122.8h0M1053.2 122.9h0M1055.6 123.0h0M1058.0 123.1h0M1060.4 123.2h0M1062.8 123.3h0M1065.2 123.4h0M1067.6 123.5h0M1070.0 123.6h0M1072.4 123.7h0M1074.8 123.7h0M1077.2 123.8h0M1079.6 123.9h0M1081.9 124.0h0M1084.3 124.1h0M1086.7 124.2h0M1089.1 124.3h0M1091.5 124.3h0M1093.9 124.4h0M1096.3 124.5h0M1098.7 124.6h0M1101.1 124.7h0M1103.5 124.8h0M1105.9 124.8h0M1108.3 124.9h0M1110.7 125.0h0M1113.0 125.1h0M1115.4 125.1h0M1117.8 125.2h0M1120.2 125.3h0M1122.6 125.4h0M1125.0 125.4h0M1127.4 125.5h0M1129.8 125.6h0M1132.2 125.7h0M1134.6 125.7h0M1137.0 125.8h0M1139.4 125.9h0M1141.7 125.9h0M1144.1 126.0h0M1146.5 126.1h0M1148.9 126.1h0M1151.3 126.2h0M1153.7 126.2h0M1156.1 126.3h0M1158.5 126.4h0M1160.9 126.4h0M1163.3 126.5h0M1165.7 126.5h0M1168.1 126.6h0M1170.4 126.6h0M1172.8 126.7h0M1175.2 126.7h0M1177.6 126.8h0M1180.0 126.8h0M1182.4 126.8h0M1184.8 126.9h0M1187.2 126.9h0M1189.6 127.0h0M1192.0 127.0h0M1194.4 127.0h0M1196.8 127.0h0M1199.1 127.1h0M1201.5 127.1h0M1203.9 127.1h0M1206.3 127.1h0M732.7 98.1h0M735.1 98.8h0M737.5 99.4h0M739.9 100.0h0M742.3 100.6h0M744.7 101.1h0M747.1 101.7h0M749.5 102.2h0M751.9 102.7h0M754.3 103.2h0M756.7 103.7h0M759.0 104.2h0M761.4 104.6h0M763.8 105.0h0M766.2 105.4h0M768.6 105.9h0M771.0 106.2h0M773.4 106.6h0M775.8 107.0h0M778.2 107.3h0M780.6 107.7h0M783.0 108.0h0M785.4 108.3h0M787.7 108.7h0M790.1 109.0h0M792.5 109.3h0M794.9 109.5h0M797.3 109.8h0M799.7 110.1h0M802.1 110.4h0M804.5 110.6h0M806.9 110.8h0M809.3 111.1h0M811.7 111.3h0M814.1 111.5h0M816.5 111.8h0M818.8 112.0h0M821.2 112.2h0M823.6 112.4h0M826.0 112.6h0M828.4 112.8h0M830.8 112.9h0M833.2 113.1h0M835.6 113.3h0M838.0 113.4h0M840.4 113.6h0M842.8 113.8h0M845.2 113.9h0M847.5 114.1h0M849.9 114.2h0M852.3 114.4h0M854.7 114.5h0M857.1 114.6h0M859.5 114.8h0M861.9 114.9h0M864.3 115.0h0M866.7 115.1h0M869.1 115.2h0M871.5 115.3h0M873.9 115.4h0M876.2 115.5h0M878.6 115.7h0M881.0 115.8h0M883.4 115.9h0M885.8 116.0h0M888.2 116.2h0M890.6 116.3h0M893.0 116.5h0M895.4 116.6h0M897.8 116.7h0M900.2 116.9h0M902.6 117.0h0M905.0 117.2h0M907.3 117.3h0M909.7 117.5h0M912.1 117.7h0M914.5 117.8h0M916.9 118.0h0M919.3 118.1h0M921.7 118.3h0M924.1 118.4h0M926.5 118.6h0M928.9 118.8h0M931.3 118.9h0M933.7 119.1h0M936.0 119.2h0M938.4 119.4h0M940.8 119.5h0M943.2 119.7h0M945.6 119.8h0M948.0 120.0h0M950.4 120.1h0M952.8 120.3h0M955.2 120.4h0M957.6 120.6h0M960.0 120.7h0M962.4 120.9h0M964.7 121.0h0M967.1 121.1h0M969.5 121.2h0M971.9 121.4h0M974.3 121.5h0M976.7 121.6h0M979.1 121.7h0M981.5 121.9h0M983.9 122.0h0M986.3 122.1h0M988.7 122.2h0M991.1 122.3h0M993.4 122.5h0M995.8 122.6h0M998.2 122.7h0M1000.6 122.8h0M1003.0 122.9h0M1005.4 123.0h0M1007.8 123.2h0M1010.2 123.3h0M1012.6 123.4h0M1015.0 123.5h0M1017.4 123.6h0M1019.8 123.7h0M1022.2 123.8h0M1024.5 123.9h0M1026.9 124.0h0M1029.3 124.1h0M1031.7 124.2h0M1034.1 124.3h0M1036.5 124.4h0M1038.9 124.5h0M1041.3 124.6h0M1043.7 124.7h0M1046.1 124.8h0M1048.5 124.9h0M1050.9 125.0h0M1053.2 125.1h0M1055.6 125.2h0M1058.0 125.2h0M1060.4 125.3h0M1062.8 125.4h0M1065.2 125.5h0M1067.6 125.6h0M1070.0 125.6h0M1072.4 125.7h0M1074.8 125.8h0M1077.2 125.9h0M1079.6 125.9h0M1081.9 126.0h0M1084.3 126.1h0M1086.7 126.2h0M1089.1 126.3h0M1091.5 126.3h0M1093.9 126.4h0M1096.3 126.5h0M1098.7 126.6h0M1101.1 126.6h0M1103.5 126.7h0M1105.9 126.8h0M1108.3 126.8h0M1110.7 126.9h0M1113.0 127.0h0M1115.4 127.1h0M1117.8 127.1h0M1120.2 127.2h0M1122.6 127.3h0M1125.0 127.3h0M1127.4 127.4h0M1129.8 127.5h0M1132.2 127.5h0M1134.6 127.6h0M1137.0 127.7h0M1139.4 127.7h0M1141.7 127.8h0M1144.1 127.8h0M1146.5 127.9h0M1148.9 128.0h0M1151.3 128.0h0M1153.7 128.1h0M1156.1 128.1h0M1158.5 128.2h0M1160.9 128.3h0M1163.3 128.3h0M1165.7 128.4h0M1168.1 128.4h0M1170.4 128.5h0M1172.8 128.5h0M1175.2 128.6h0M1177.6 128.6h0M1180.0 128.7h0M1182.4 128.7h0M1184.8 128.8h0M1187.2 128.8h0M1189.6 128.8h0M1192.0 128.9h0M1194.4 128.9h0M1196.8 129.0h0M1199.1 129.0h0M1201.5 129.0h0M1203.9 129.1h0M1206.3 129.1h0M732.7 110.0h0M735.1 110.4h0M737.5 110.8h0M739.9 111.2h0M742.3 111.6h0M744.7 112.0h0M747.1 112.4h0M749.5 112.7h0M751.9 113.1h0M754.3 113.4h0M756.7 113.7h0M759.0 114.0h0M761.4 114.3h0M763.8 114.6h0M766.2 114.9h0M768.6 115.1h0M771.0 115.4h0M773.4 115.6h0M775.8 115.9h0M778.2 116.1h0M780.6 116.4h0M783.0 116.6h0M785.4 116.8h0M787.7 117.0h0M790.1 117.2h0M792.5 117.4h0M794.9 117.6h0M797.3 117.8h0M799.7 117.9h0M802.1 118.1h0M804.5 118.3h0M806.9 118.5h0M809.3 118.6h0M811.7 118.8h0M814.1 118.9h0M816.5 119.1h0M818.8 119.2h0M821.2 119.3h0M823.6 119.5h0M826.0 119.6h0M828.4 119.7h0M830.8 119.8h0M833.2 120.0h0M835.6 120.1h0M838.0 120.2h0M840.4 120.3h0M842.8 120.4h0M845.2 120.5h0M847.5 120.6h0M849.9 120.7h0M852.3 120.8h0M854.7 120.9h0M857.1 121.0h0M859.5 121.0h0M861.9 121.1h0M864.3 121.2h0M866.7 121.3h0M869.1 121.3h0M871.5 121.4h0M873.9 121.5h0M876.2 121.6h0M878.6 121.6h0M881.0 121.7h0M883.4 121.8h0M885.8 121.9h0M888.2 122.0h0M890.6 122.1h0M893.0 122.2h0M895.4 122.3h0M897.8 122.4h0M900.2 122.5h0M902.6 122.6h0M905.0 122.7h0M907.3 122.8h0M909.7 122.9h0M912.1 123.0h0M914.5 123.1h0M916.9 123.2h0M919.3 123.3h0M921.7 123.4h0M924.1 123.5h0M926.5 123.6h0M928.9 123.7h0M931.3 123.9h0M933.7 124.0h0M936.0 124.1h0M938.4 124.2h0M940.8 124.3h0M943.2 124.4h0M945.6 124.5h0M948.0 124.6h0M950.4 124.7h0M952.8 124.8h0M955.2 124.9h0M957.6 125.0h0M960.0 125.1h0M962.4 125.2h0M964.7 125.3h0M967.1 125.4h0M969.5 125.4h0M971.9 125.5h0M974.3 125.6h0M976.7 125.7h0M979.1 125.8h0M981.5 125.9h0M983.9 125.9h0M986.3 126.0h0M988.7 126.1h0M991.1 126.2h0M993.4 126.3h0M995.8 126.3h0M998.2 126.4h0M1000.6 126.5h0M1003.0 126.6h0M1005.4 126.6h0M1007.8 126.7h0M1010.2 126.8h0M1012.6 126.9h0M1015.0 126.9h0M1017.4 127.0h0M1019.8 127.1h0M1022.2 127.1h0M1024.5 127.2h0M1026.9 127.3h0M1029.3 127.4h0M1031.7 127.4h0M1034.1 127.5h0M1036.5 127.6h0M1038.9 127.6h0M1041.3 127.7h0M1043.7 127.8h0M1046.1 127.8h0M1048.5 127.9h0M1050.9 128.0h0M1053.2 128.0h0M1055.6 128.1h0M1058.0 128.2h0M1060.4 128.2h0M1062.8 128.3h0M1065.2 128.3h0M1067.6 128.4h0M1070.0 128.5h0M1072.4 128.5h0M1074.8 128.6h0M1077.2 128.7h0M1079.6 128.7h0M1081.9 128.8h0M1084.3 128.9h0M1086.7 128.9h0M1089.1 129.0h0M1091.5 129.0h0M1093.9 129.1h0M1096.3 129.2h0M1098.7 129.2h0M1101.1 129.3h0M1103.5 129.4h0M1105.9 129.4h0M1108.3 129.5h0M1110.7 129.5h0M1113.0 129.6h0M1115.4 129.7h0M1117.8 129.7h0M1120.2 129.8h0M1122.6 129.8h0M1125.0 129.9h0M1127.4 130.0h0M1129.8 130.0h0M1132.2 130.1h0M1134.6 130.1h0M1137.0 130.2h0M1139.4 130.3h0M1141.7 130.3h0M1144.1 130.4h0M1146.5 130.4h0M1148.9 130.5h0M1151.3 130.5h0M1153.7 130.6h0M1156.1 130.7h0M1158.5 130.7h0M1160.9 130.8h0M1163.3 130.8h0M1165.7 130.9h0M1168.1 130.9h0M1170.4 131.0h0M1172.8 131.0h0M1175.2 131.1h0M1177.6 131.1h0M1180.0 131.2h0M1182.4 131.2h0M1184.8 131.3h0M1187.2 131.4h0M1189.6 131.4h0M1192.0 131.5h0M1194.4 131.5h0M1196.8 131.6h0M1199.1 131.6h0M1201.5 131.7h0M1203.9 131.7h0M1206.3 131.8h0M732.7 118.7h0M735.1 119.0h0M737.5 119.3h0M739.9 119.6h0M742.3 119.9h0M744.7 120.2h0M747.1 120.4h0M749.5 120.7h0M751.9 120.9h0M754.3 121.2h0M756.7 121.4h0M759.0 121.6h0M761.4 121.9h0M763.8 122.1h0M766.2 122.3h0M768.6 122.5h0M771.0 122.7h0M773.4 122.8h0M775.8 123.0h0M778.2 123.2h0M780.6 123.3h0M783.0 123.5h0M785.4 123.7h0M787.7 123.8h0M790.1 124.0h0M792.5 124.1h0M794.9 124.3h0M797.3 124.4h0M799.7 124.5h0M802.1 124.6h0M804.5 124.8h0M806.9 124.9h0M809.3 125.0h0M811.7 125.1h0M814.1 125.2h0M816.5 125.3h0M818.8 125.4h0M821.2 125.5h0M823.6 125.6h0M826.0 125.7h0M828.4 125.8h0M830.8 125.9h0M833.2 126.0h0M835.6 126.1h0M838.0 126.1h0M840.4 126.2h0M842.8 126.3h0M845.2 126.4h0M847.5 126.4h0M849.9 126.5h0M852.3 126.6h0M854.7 126.7h0M857.1 126.7h0M859.5 126.8h0M861.9 126.8h0M864.3 126.9h0M866.7 127.0h0M869.1 127.0h0M871.5 127.1h0M873.9 127.1h0M876.2 127.2h0M878.6 127.2h0M881.0 127.3h0M883.4 127.3h0M885.8 127.4h0M888.2 127.5h0M890.6 127.5h0M893.0 127.6h0M895.4 127.6h0M897.8 127.7h0M900.2 127.8h0M902.6 127.8h0M905.0 127.9h0M907.3 127.9h0M909.7 128.0h0M912.1 128.1h0M914.5 128.1h0M916.9 128.2h0M919.3 128.3h0M921.7 128.3h0M924.1 128.4h0M926.5 128.4h0M928.9 128.5h0M931.3 128.6h0M933.7 128.6h0M936.0 128.7h0M938.4 128.8h0M940.8 128.8h0M943.2 128.9h0M945.6 128.9h0M948.0 129.0h0M950.4 129.0h0M952.8 129.1h0M955.2 129.2h0M957.6 129.2h0M960.0 129.3h0M962.4 129.3h0M964.7 129.4h0M967.1 129.4h0M969.5 129.5h0M971.9 129.5h0M974.3 129.6h0M976.7 129.6h0M979.1 129.7h0M981.5 129.7h0M983.9 129.8h0M986.3 129.8h0M988.7 129.9h0M991.1 129.9h0M993.4 129.9h0M995.8 130.0h0M998.2 130.0h0M1000.6 130.1h0M1003.0 130.1h0M1005.4 130.2h0M1007.8 130.2h0M1010.2 130.2h0M1012.6 130.3h0M1015.0 130.3h0M1017.4 130.4h0M1019.8 130.4h0M1022.2 130.4h0M1024.5 130.5h0M1026.9 130.5h0M1029.3 130.6h0M1031.7 130.6h0M1034.1 130.7h0M1036.5 130.7h0M1038.9 130.7h0M1041.3 130.8h0M1043.7 130.8h0M1046.1 130.9h0M1048.5 130.9h0M1050.9 130.9h0M1053.2 131.0h0M1055.6 131.0h0M1058.0 131.1h0M1060.4 131.1h0M1062.8 131.2h0M1065.2 131.2h0M1067.6 131.3h0M1070.0 131.3h0M1072.4 131.3h0M1074.8 131.4h0M1077.2 131.4h0M1079.6 131.5h0M1081.9 131.5h0M1084.3 131.6h0M1086.7 131.6h0M1089.1 131.7h0M1091.5 131.7h0M1093.9 131.8h0M1096.3 131.8h0M1098.7 131.8h0M1101.1 131.9h0M1103.5 131.9h0M1105.9 132.0h0M1108.3 132.0h0M1110.7 132.1h0M1113.0 132.1h0M1115.4 132.2h0M1117.8 132.2h0M1120.2 132.3h0M1122.6 132.3h0M1125.0 132.4h0M1127.4 132.4h0M1129.8 132.5h0M1132.2 132.5h0M1134.6 132.5h0M1137.0 132.6h0M1139.4 132.6h0M1141.7 132.7h0M1144.1 132.7h0M1146.5 132.8h0M1148.9 132.8h0M1151.3 132.9h0M1153.7 132.9h0M1156.1 133.0h0M1158.5 133.0h0M1160.9 133.1h0M1163.3 133.1h0M1165.7 133.2h0M1168.1 133.2h0M1170.4 133.3h0M1172.8 133.3h0M1175.2 133.4h0M1177.6 133.4h0M1180.0 133.5h0M1182.4 133.5h0M1184.8 133.6h0M1187.2 133.6h0M1189.6 133.7h0M1192.0 133.7h0M1194.4 133.8h0M1196.8 133.8h0M1199.1 133.8h0M1201.5 133.9h0M1203.9 133.9h0M1206.3 134.0h0M732.7 127.8h0M735.1 128.3h0M737.5 128.7h0M739.9 129.1h0M742.3 129.5h0M744.7 129.8h0M747.1 130.1h0M749.5 130.4h0M751.9 130.6h0M754.3 130.8h0M756.7 131.0h0M759.0 131.2h0M761.4 131.4h0M763.8 131.5h0M766.2 131.7h0M768.6 131.8h0M771.0 131.9h0M773.4 132.0h0M775.8 132.1h0M778.2 132.3h0M780.6 132.4h0M783.0 132.5h0M785.4 132.5h0M787.7 132.6h0M790.1 132.7h0M792.5 132.8h0M794.9 132.9h0M797.3 132.9h0M799.7 133.0h0M802.1 133.1h0M804.5 133.2h0M806.9 133.2h0M809.3 133.3h0M811.7 133.4h0M814.1 133.4h0M816.5 133.5h0M818.8 133.5h0M821.2 133.6h0M823.6 133.7h0M826.0 133.7h0M828.4 133.7h0M830.8 133.8h0M833.2 133.8h0M835.6 133.9h0M838.0 133.9h0M840.4 133.9h0M842.8 134.0h0M845.2 134.0h0M847.5 134.0h0M849.9 134.1h0M852.3 134.1h0M854.7 134.1h0M857.1 134.2h0M859.5 134.2h0M861.9 134.2h0M864.3 134.2h0M866.7 134.3h0M869.1 134.3h0M871.5 134.3h0M873.9 134.3h0M876.2 134.4h0M878.6 134.4h0M881.0 134.4h0M883.4 134.4h0M885.8 134.5h0M888.2 134.5h0M890.6 134.5h0M893.0 134.5h0M895.4 134.5h0M897.8 134.6h0M900.2 134.6h0M902.6 134.6h0M905.0 134.6h0M907.3 134.6h0M909.7 134.7h0M912.1 134.7h0M914.5 134.7h0M916.9 134.7h0M919.3 134.7h0M921.7 134.7h0M924.1 134.8h0M926.5 134.8h0M928.9 134.8h0M931.3 134.8h0M933.7 134.8h0M936.0 134.8h0M938.4 134.8h0M940.8 134.8h0M943.2 134.9h0M945.6 134.9h0M948.0 134.9h0M950.4 134.9h0M952.8 134.9h0M955.2 134.9h0M957.6 134.9h0M960.0 134.9h0M962.4 134.9h0M964.7 134.9h0M967.1 134.9h0M969.5 135.0h0M971.9 135.0h0M974.3 135.0h0M976.7 135.0h0M979.1 135.0h0M981.5 135.0h0M983.9 135.0h0M986.3 135.0h0M988.7 135.0h0M991.1 135.0h0M993.4 135.0h0M995.8 135.0h0M998.2 135.0h0M1000.6 135.0h0M1003.0 135.1h0M1005.4 135.1h0M1007.8 135.1h0M1010.2 135.1h0M1012.6 135.1h0M1015.0 135.1h0M1017.4 135.1h0M1019.8 135.1h0M1022.2 135.1h0M1024.5 135.1h0M1026.9 135.1h0M1029.3 135.1h0M1031.7 135.1h0M1034.1 135.1h0M1036.5 135.1h0M1038.9 135.1h0M1041.3 135.1h0M1043.7 135.1h0M1046.1 135.2h0M1048.5 135.2h0M1050.9 135.2h0M1053.2 135.2h0M1055.6 135.2h0M1058.0 135.2h0M1060.4 135.2h0M1062.8 135.2h0M1065.2 135.2h0M1067.6 135.2h0M1070.0 135.2h0M1072.4 135.2h0M1074.8 135.2h0M1077.2 135.2h0M1079.6 135.2h0M1081.9 135.2h0M1084.3 135.2h0M1086.7 135.2h0M1089.1 135.2h0M1091.5 135.2h0M1093.9 135.2h0M1096.3 135.2h0M1098.7 135.2h0M1101.1 135.2h0M1103.5 135.2h0M1105.9 135.2h0M1108.3 135.2h0M1110.7 135.2h0M1113.0 135.2h0M1115.4 135.2h0M1117.8 135.2h0M1120.2 135.2h0M1122.6 135.2h0M1125.0 135.2h0M1127.4 135.2h0M1129.8 135.2h0M1132.2 135.2h0M1134.6 135.2h0M1137.0 135.2h0M1139.4 135.2h0M1141.7 135.2h0M1144.1 135.2h0M1146.5 135.2h0M1148.9 135.2h0M1151.3 135.2h0M1153.7 135.2h0M1156.1 135.2h0M1158.5 135.2h0M1160.9 135.2h0M1163.3 135.2h0M1165.7 135.2h0M1168.1 135.2h0M1170.4 135.2h0M1172.8 135.2h0M1175.2 135.2h0M1177.6 135.2h0M1180.0 135.2h0M1182.4 135.2h0M1184.8 135.2h0M1187.2 135.2h0M1189.6 135.2h0M1192.0 135.2h0M1194.4 135.2h0M1196.8 135.2h0M1199.1 135.2h0M1201.5 135.2h0M1203.9 135.2h0M1206.3 135.2h0M732.7 136.7h0M735.1 137.3h0M737.5 137.9h0M739.9 138.5h0M742.3 139.1h0M744.7 139.6h0M747.1 140.0h0M749.5 140.3h0M751.9 140.5h0M754.3 140.7h0M756.7 140.9h0M759.0 141.1h0M761.4 141.3h0M763.8 141.4h0M766.2 141.6h0M768.6 141.7h0M771.0 141.8h0M773.4 141.9h0M775.8 141.9h0M778.2 142.0h0M780.6 142.0h0M783.0 142.1h0M785.4 142.1h0M787.7 142.2h0M790.1 142.2h0M792.5 142.3h0M794.9 142.3h0M797.3 142.3h0M799.7 142.3h0M802.1 142.3h0M804.5 142.3h0M806.9 142.3h0M809.3 142.3h0M811.7 142.3h0M814.1 142.3h0M816.5 142.3h0M818.8 142.3h0M821.2 142.3h0M823.6 142.3h0M826.0 142.3h0M828.4 142.3h0M830.8 142.3h0M833.2 142.3h0M835.6 142.3h0M838.0 142.3h0M840.4 142.3h0M842.8 142.3h0M845.2 142.3h0M847.5 142.3h0M849.9 142.3h0M852.3 142.3h0M854.7 142.3h0M857.1 142.3h0M859.5 142.3h0M861.9 142.3h0M864.3 142.3h0M866.7 142.3h0M869.1 142.3h0M871.5 142.3h0M873.9 142.3h0M876.2 142.3h0M878.6 142.3h0M881.0 142.3h0M883.4 142.3h0M885.8 142.3h0M888.2 142.3h0M890.6 142.3h0M893.0 142.2h0M895.4 142.2h0M897.8 142.1h0M900.2 142.1h0M902.6 142.0h0M905.0 141.9h0M907.3 141.8h0M909.7 141.8h0M912.1 141.7h0M914.5 141.6h0M916.9 141.5h0M919.3 141.4h0M921.7 141.4h0M924.1 141.3h0M926.5 141.2h0M928.9 141.2h0M931.3 141.1h0M933.7 141.0h0M936.0 141.0h0M938.4 140.9h0M940.8 140.9h0M943.2 140.8h0M945.6 140.7h0M948.0 140.7h0M950.4 140.6h0M952.8 140.6h0M955.2 140.5h0M957.6 140.5h0M960.0 140.4h0M962.4 140.3h0M964.7 140.3h0M967.1 140.2h0M969.5 140.2h0M971.9 140.1h0M974.3 140.1h0M976.7 140.0h0M979.1 139.9h0M981.5 139.9h0M983.9 139.8h0M986.3 139.8h0M988.7 139.7h0M991.1 139.7h0M993.4 139.6h0M995.8 139.6h0M998.2 139.6h0M1000.6 139.5h0M1003.0 139.5h0M1005.4 139.4h0M1007.8 139.4h0M1010.2 139.3h0M1012.6 139.3h0M1015.0 139.3h0M1017.4 139.2h0M1019.8 139.2h0M1022.2 139.2h0M1024.5 139.1h0M1026.9 139.1h0M1029.3 139.1h0M1031.7 139.0h0M1034.1 139.0h0M1036.5 138.9h0M1038.9 138.9h0M1041.3 138.9h0M1043.7 138.8h0M1046.1 138.8h0M1048.5 138.8h0M1050.9 138.7h0M1053.2 138.7h0M1055.6 138.7h0M1058.0 138.7h0M1060.4 138.6h0M1062.8 138.6h0M1065.2 138.6h0M1067.6 138.6h0M1070.0 138.5h0M1072.4 138.5h0M1074.8 138.5h0M1077.2 138.5h0M1079.6 138.4h0M1081.9 138.4h0M1084.3 138.4h0M1086.7 138.4h0M1089.1 138.4h0M1091.5 138.4h0M1093.9 138.4h0M1096.3 138.4h0M1098.7 138.3h0M1101.1 138.3h0M1103.5 138.3h0M1105.9 138.3h0M1108.3 138.3h0M1110.7 138.3h0M1113.0 138.3h0M1115.4 138.3h0M1117.8 138.3h0M1120.2 138.3h0M1122.6 138.3h0M1125.0 138.3h0M1127.4 138.2h0M1129.8 138.2h0M1132.2 138.2h0M1134.6 138.2h0M1137.0 138.2h0M1139.4 138.2h0M1141.7 138.2h0M1144.1 138.2h0M1146.5 138.2h0M1148.9 138.2h0M1151.3 138.2h0M1153.7 138.2h0M1156.1 138.2h0M1158.5 138.2h0M1160.9 138.2h0M1163.3 138.2h0M1165.7 138.2h0M1168.1 138.1h0M1170.4 138.1h0M1172.8 138.1h0M1175.2 138.1h0M1177.6 138.1h0M1180.0 138.1h0M1182.4 138.1h0M1184.8 138.1h0M1187.2 138.1h0M1189.6 138.1h0M1192.0 138.1h0M1194.4 138.1h0M1196.8 138.1h0M1199.1 138.1h0M1201.5 138.1h0M1203.9 138.1h0M1206.3 138.1h0M732.7 147.9h0M735.1 148.5h0M737.5 149.2h0M739.9 149.8h0M742.3 150.3h0M744.7 150.8h0M747.1 151.2h0M749.5 151.5h0M751.9 151.7h0M754.3 151.9h0M756.7 152.1h0M759.0 152.3h0M761.4 152.4h0M763.8 152.5h0M766.2 152.7h0M768.6 152.8h0M771.0 152.8h0M773.4 152.9h0M775.8 152.9h0M778.2 152.9h0M780.6 152.9h0M783.0 152.8h0M785.4 152.8h0M787.7 152.7h0M790.1 152.7h0M792.5 152.6h0M794.9 152.5h0M797.3 152.4h0M799.7 152.3h0M802.1 152.3h0M804.5 152.2h0M806.9 152.0h0M809.3 151.9h0M811.7 151.7h0M814.1 151.5h0M816.5 151.3h0M818.8 151.1h0M821.2 150.9h0M823.6 150.7h0M826.0 150.5h0M828.4 150.3h0M830.8 150.1h0M833.2 149.9h0M835.6 149.7h0M838.0 149.4h0M840.4 149.2h0M842.8 148.9h0M845.2 148.7h0M847.5 148.4h0M849.9 148.2h0M852.3 147.9h0M854.7 147.6h0M857.1 147.4h0M859.5 147.1h0M861.9 146.9h0M864.3 146.6h0M866.7 146.4h0M869.1 146.2h0M871.5 146.0h0M873.9 145.8h0M876.2 145.6h0M878.6 145.4h0M881.0 145.3h0M883.4 145.1h0M885.8 145.0h0M888.2 144.9h0M890.6 144.7h0M893.0 144.6h0M895.4 144.5h0M897.8 144.4h0M900.2 144.3h0M902.6 144.1h0M905.0 144.0h0M907.3 143.9h0M909.7 143.8h0M912.1 143.7h0M914.5 143.7h0M916.9 143.6h0M919.3 143.5h0M921.7 143.4h0M924.1 143.3h0M926.5 143.2h0M928.9 143.2h0M931.3 143.1h0M933.7 143.0h0M936.0 142.9h0M938.4 142.9h0M940.8 142.8h0M943.2 142.7h0M945.6 142.7h0M948.0 142.6h0M950.4 142.5h0M952.8 142.5h0M955.2 142.4h0M957.6 142.4h0M960.0 142.3h0M962.4 142.2h0M964.7 142.2h0M967.1 142.1h0M969.5 142.1h0M971.9 142.0h0M974.3 142.0h0M976.7 141.9h0M979.1 141.9h0M981.5 141.8h0M983.9 141.8h0M986.3 141.7h0M988.7 141.7h0M991.1 141.6h0M993.4 141.6h0M995.8 141.5h0M998.2 141.5h0M1000.6 141.5h0M1003.0 141.4h0M1005.4 141.4h0M1007.8 141.4h0M1010.2 141.3h0M1012.6 141.3h0M1015.0 141.3h0M1017.4 141.2h0M1019.8 141.2h0M1022.2 141.2h0M1024.5 141.1h0M1026.9 141.1h0M1029.3 141.1h0M1031.7 141.0h0M1034.1 141.0h0M1036.5 141.0h0M1038.9 140.9h0M1041.3 140.9h0M1043.7 140.9h0M1046.1 140.9h0M1048.5 140.8h0M1050.9 140.8h0M1053.2 140.8h0M1055.6 140.8h0M1058.0 140.7h0M1060.4 140.7h0M1062.8 140.7h0M1065.2 140.7h0M1067.6 140.7h0M1070.0 140.6h0M1072.4 140.6h0M1074.8 140.6h0M1077.2 140.6h0M1079.6 140.6h0M1081.9 140.5h0M1084.3 140.5h0M1086.7 140.5h0M1089.1 140.5h0M1091.5 140.5h0M1093.9 140.5h0M1096.3 140.5h0M1098.7 140.5h0M1101.1 140.4h0M1103.5 140.4h0M1105.9 140.4h0M1108.3 140.4h0M1110.7 140.4h0M1113.0 140.4h0M1115.4 140.4h0M1117.8 140.4h0M1120.2 140.3h0M1122.6 140.3h0M1125.0 140.3h0M1127.4 140.3h0M1129.8 140.3h0M1132.2 140.3h0M1134.6 140.3h0M1137.0 140.3h0M1139.4 140.3h0M1141.7 140.2h0M1144.1 140.2h0M1146.5 140.2h0M1148.9 140.2h0M1151.3 140.2h0M1153.7 140.2h0M1156.1 140.2h0M1158.5 140.2h0M1160.9 140.2h0M1163.3 140.2h0M1165.7 140.2h0M1168.1 140.2h0M1170.4 140.1h0M1172.8 140.1h0M1175.2 140.1h0M1177.6 140.1h0M1180.0 140.1h0M1182.4 140.1h0M1184.8 140.1h0M1187.2 140.1h0M1189.6 140.1h0M1192.0 140.1h0M1194.4 140.1h0M1196.8 140.1h0M1199.1 140.1h0M1201.5 140.1h0M1203.9 140.1h0M1206.3 140.1h0M732.7 153.6h0M735.1 153.4h0M737.5 153.3h0M739.9 153.2h0M742.3 153.1h0M744.7 153.0h0M747.1 152.9h0M749.5 152.8h0M751.9 152.7h0M754.3 152.6h0M756.7 152.4h0M759.0 152.3h0M761.4 152.2h0M763.8 152.1h0M766.2 152.0h0M768.6 151.9h0M771.0 151.8h0M773.4 151.7h0M775.8 151.6h0M778.2 151.5h0M780.6 151.4h0M783.0 151.4h0M785.4 151.3h0M787.7 151.3h0M790.1 151.2h0M792.5 151.2h0M794.9 151.1h0M797.3 151.1h0M799.7 151.0h0M802.1 150.9h0M804.5 150.9h0M806.9 150.8h0M809.3 150.7h0M811.7 150.6h0M814.1 150.5h0M816.5 150.4h0M818.8 150.3h0M821.2 150.2h0M823.6 150.1h0M826.0 150.0h0M828.4 149.9h0M830.8 149.8h0M833.2 149.7h0M835.6 149.6h0M838.0 149.6h0M840.4 149.5h0M842.8 149.4h0M845.2 149.3h0M847.5 149.3h0M849.9 149.2h0M852.3 149.1h0M854.7 149.1h0M857.1 149.0h0M859.5 148.9h0M861.9 148.9h0M864.3 148.8h0M866.7 148.7h0M869.1 148.7h0M871.5 148.6h0M873.9 148.5h0M876.2 148.4h0M878.6 148.4h0M881.0 148.3h0M883.4 148.2h0M885.8 148.1h0M888.2 148.0h0M890.6 148.0h0M893.0 147.9h0M895.4 147.8h0M897.8 147.7h0M900.2 147.6h0M902.6 147.5h0M905.0 147.4h0M907.3 147.3h0M909.7 147.2h0M912.1 147.1h0M914.5 147.0h0M916.9 146.9h0M919.3 146.8h0M921.7 146.7h0M924.1 146.6h0M926.5 146.6h0M928.9 146.5h0M931.3 146.4h0M933.7 146.3h0M936.0 146.2h0M938.4 146.2h0M940.8 146.1h0M943.2 146.0h0M945.6 145.9h0M948.0 145.8h0M950.4 145.8h0M952.8 145.7h0M955.2 145.6h0M957.6 145.5h0M960.0 145.4h0M962.4 145.4h0M964.7 145.3h0M967.1 145.2h0M969.5 145.1h0M971.9 145.1h0M974.3 145.0h0M976.7 144.9h0M979.1 144.9h0M981.5 144.8h0M983.9 144.7h0M986.3 144.7h0M988.7 144.6h0M991.1 144.5h0M993.4 144.5h0M995.8 144.4h0M998.2 144.4h0M1000.6 144.3h0M1003.0 144.3h0M1005.4 144.2h0M1007.8 144.1h0M1010.2 144.1h0M1012.6 144.1h0M1015.0 144.0h0M1017.4 144.0h0M1019.8 143.9h0M1022.2 143.9h0M1024.5 143.8h0M1026.9 143.8h0M1029.3 143.8h0M1031.7 143.7h0M1034.1 143.7h0M1036.5 143.7h0M1038.9 143.6h0M1041.3 143.6h0M1043.7 143.5h0M1046.1 143.5h0M1048.5 143.5h0M1050.9 143.4h0M1053.2 143.4h0M1055.6 143.4h0M1058.0 143.3h0M1060.4 143.3h0M1062.8 143.3h0M1065.2 143.3h0M1067.6 143.2h0M1070.0 143.2h0M1072.4 143.2h0M1074.8 143.2h0M1077.2 143.1h0M1079.6 143.1h0M1081.9 143.1h0M1084.3 143.1h0M1086.7 143.0h0M1089.1 143.0h0M1091.5 143.0h0M1093.9 143.0h0M1096.3 143.0h0M1098.7 142.9h0M1101.1 142.9h0M1103.5 142.9h0M1105.9 142.9h0M1108.3 142.9h0M1110.7 142.8h0M1113.0 142.8h0M1115.4 142.8h0M1117.8 142.8h0M1120.2 142.8h0M1122.6 142.7h0M1125.0 142.7h0M1127.4 142.7h0M1129.8 142.7h0M1132.2 142.7h0M1134.6 142.7h0M1137.0 142.6h0M1139.4 142.6h0M1141.7 142.6h0M1144.1 142.6h0M1146.5 142.6h0M1148.9 142.6h0M1151.3 142.6h0M1153.7 142.5h0M1156.1 142.5h0M1158.5 142.5h0M1160.9 142.5h0M1163.3 142.5h0M1165.7 142.5h0M1168.1 142.5h0M1170.4 142.4h0M1172.8 142.4h0M1175.2 142.4h0M1177.6 142.4h0M1180.0 142.4h0M1182.4 142.4h0M1184.8 142.4h0M1187.2 142.4h0M1189.6 142.4h0M1192.0 142.4h0M1194.4 142.4h0M1196.8 142.4h0M1199.1 142.3h0M1201.5 142.3h0M1203.9 142.3h0M1206.3 142.3h0M732.7 155.5h0M735.1 155.4h0M737.5 155.3h0M739.9 155.2h0M742.3 155.1h0M744.7 155.0h0M747.1 154.9h0M749.5 154.8h0M751.9 154.7h0M754.3 154.6h0M756.7 154.5h0M759.0 154.4h0M761.4 154.3h0M763.8 154.2h0M766.2 154.1h0M768.6 154.1h0M771.0 154.0h0M773.4 153.9h0M775.8 153.8h0M778.2 153.8h0M780.6 153.7h0M783.0 153.6h0M785.4 153.6h0M787.7 153.5h0M790.1 153.5h0M792.5 153.4h0M794.9 153.3h0M797.3 153.3h0M799.7 153.2h0M802.1 153.2h0M804.5 153.1h0M806.9 153.0h0M809.3 153.0h0M811.7 152.9h0M814.1 152.9h0M816.5 152.8h0M818.8 152.7h0M821.2 152.7h0M823.6 152.6h0M826.0 152.6h0M828.4 152.5h0M830.8 152.5h0M833.2 152.4h0M835.6 152.3h0M838.0 152.3h0M840.4 152.2h0M842.8 152.2h0M845.2 152.1h0M847.5 152.1h0M849.9 152.0h0M852.3 152.0h0M854.7 151.9h0M857.1 151.9h0M859.5 151.8h0M861.9 151.8h0M864.3 151.7h0M866.7 151.7h0M869.1 151.6h0M871.5 151.6h0M873.9 151.5h0M876.2 151.4h0M878.6 151.4h0M881.0 151.3h0M883.4 151.3h0M885.8 151.2h0M888.2 151.1h0M890.6 151.0h0M893.0 151.0h0M895.4 150.9h0M897.8 150.8h0M900.2 150.7h0M902.6 150.7h0M905.0 150.6h0M907.3 150.5h0M909.7 150.4h0M912.1 150.3h0M914.5 150.2h0M916.9 150.2h0M919.3 150.1h0M921.7 150.0h0M924.1 149.9h0M926.5 149.8h0M928.9 149.8h0M931.3 149.7h0M933.7 149.6h0M936.0 149.5h0M938.4 149.5h0M940.8 149.4h0M943.2 149.3h0M945.6 149.2h0M948.0 149.1h0M950.4 149.1h0M952.8 149.0h0M955.2 148.9h0M957.6 148.8h0M960.0 148.8h0M962.4 148.7h0M964.7 148.6h0M967.1 148.5h0M969.5 148.5h0M971.9 148.4h0M974.3 148.3h0M976.7 148.2h0M979.1 148.2h0M981.5 148.1h0M983.9 148.0h0M986.3 147.9h0M988.7 147.9h0M991.1 147.8h0M993.4 147.7h0M995.8 147.7h0M998.2 147.6h0M1000.6 147.5h0M1003.0 147.5h0M1005.4 147.4h0M1007.8 147.3h0M1010.2 147.3h0M1012.6 147.2h0M1015.0 147.2h0M1017.4 147.1h0M1019.8 147.1h0M1022.2 147.0h0M1024.5 146.9h0M1026.9 146.9h0M1029.3 146.8h0M1031.7 146.8h0M1034.1 146.7h0M1036.5 146.7h0M1038.9 146.6h0M1041.3 146.6h0M1043.7 146.5h0M1046.1 146.4h0M1048.5 146.4h0M1050.9 146.3h0M1053.2 146.3h0M1055.6 146.2h0M1058.0 146.2h0M1060.4 146.2h0M1062.8 146.1h0M1065.2 146.1h0M1067.6 146.0h0M1070.0 146.0h0M1072.4 145.9h0M1074.8 145.9h0M1077.2 145.8h0M1079.6 145.8h0M1081.9 145.8h0M1084.3 145.7h0M1086.7 145.7h0M1089.1 145.7h0M1091.5 145.6h0M1093.9 145.6h0M1096.3 145.6h0M1098.7 145.5h0M1101.1 145.5h0M1103.5 145.5h0M1105.9 145.5h0M1108.3 145.4h0M1110.7 145.4h0M1113.0 145.4h0M1115.4 145.3h0M1117.8 145.3h0M1120.2 145.3h0M1122.6 145.3h0M1125.0 145.2h0M1127.4 145.2h0M1129.8 145.2h0M1132.2 145.1h0M1134.6 145.1h0M1137.0 145.1h0M1139.4 145.1h0M1141.7 145.0h0M1144.1 145.0h0M1146.5 145.0h0M1148.9 145.0h0M1151.3 144.9h0M1153.7 144.9h0M1156.1 144.9h0M1158.5 144.9h0M1160.9 144.9h0M1163.3 144.8h0M1165.7 144.8h0M1168.1 144.8h0M1170.4 144.8h0M1172.8 144.8h0M1175.2 144.7h0M1177.6 144.7h0M1180.0 144.7h0M1182.4 144.7h0M1184.8 144.7h0M1187.2 144.7h0M1189.6 144.6h0M1192.0 144.6h0M1194.4 144.6h0M1196.8 144.6h0M1199.1 144.6h0M1201.5 144.6h0M1203.9 144.6h0M1206.3 144.6h0M732.7 157.5h0M735.1 157.4h0M737.5 157.3h0M739.9 157.2h0M742.3 157.0h0M744.7 156.9h0M747.1 156.8h0M749.5 156.7h0M751.9 156.7h0M754.3 156.6h0M756.7 156.5h0M759.0 156.4h0M761.4 156.3h0M763.8 156.3h0M766.2 156.2h0M768.6 156.1h0M771.0 156.1h0M773.4 156.0h0M775.8 155.9h0M778.2 155.9h0M780.6 155.8h0M783.0 155.8h0M785.4 155.7h0M787.7 155.7h0M790.1 155.6h0M792.5 155.6h0M794.9 155.5h0M797.3 155.5h0M799.7 155.5h0M802.1 155.4h0M804.5 155.4h0M806.9 155.3h0M809.3 155.3h0M811.7 155.2h0M814.1 155.2h0M816.5 155.1h0M818.8 155.1h0M821.2 155.0h0M823.6 155.0h0M826.0 154.9h0M828.4 154.9h0M830.8 154.8h0M833.2 154.8h0M835.6 154.8h0M838.0 154.7h0M840.4 154.7h0M842.8 154.7h0M845.2 154.7h0M847.5 154.6h0M849.9 154.6h0M852.3 154.6h0M854.7 154.6h0M857.1 154.5h0M859.5 154.5h0M861.9 154.5h0M864.3 154.5h0M866.7 154.4h0M869.1 154.4h0M871.5 154.4h0M873.9 154.3h0M876.2 154.3h0M878.6 154.3h0M881.0 154.2h0M883.4 154.2h0M885.8 154.1h0M888.2 154.1h0M890.6 154.0h0M893.0 153.9h0M895.4 153.9h0M897.8 153.8h0M900.2 153.7h0M902.6 153.6h0M905.0 153.6h0M907.3 153.5h0M909.7 153.4h0M912.1 153.3h0M914.5 153.2h0M916.9 153.1h0M919.3 153.0h0M921.7 152.9h0M924.1 152.9h0M926.5 152.8h0M928.9 152.7h0M931.3 152.6h0M933.7 152.5h0M936.0 152.4h0M938.4 152.3h0M940.8 152.3h0M943.2 152.2h0M945.6 152.1h0M948.0 152.0h0M950.4 151.9h0M952.8 151.8h0M955.2 151.7h0M957.6 151.6h0M960.0 151.5h0M962.4 151.4h0M964.7 151.4h0M967.1 151.3h0M969.5 151.2h0M971.9 151.1h0M974.3 151.0h0M976.7 150.9h0M979.1 150.8h0M981.5 150.7h0M983.9 150.6h0M986.3 150.5h0M988.7 150.4h0M991.1 150.3h0M993.4 150.3h0M995.8 150.2h0M998.2 150.1h0M1000.6 150.0h0M1003.0 149.9h0M1005.4 149.8h0M1007.8 149.8h0M1010.2 149.7h0M1012.6 149.6h0M1015.0 149.5h0M1017.4 149.5h0M1019.8 149.4h0M1022.2 149.3h0M1024.5 149.2h0M1026.9 149.2h0M1029.3 149.1h0M1031.7 149.0h0M1034.1 148.9h0M1036.5 148.9h0M1038.9 148.8h0M1041.3 148.7h0M1043.7 148.7h0M1046.1 148.6h0M1048.5 148.5h0M1050.9 148.5h0M1053.2 148.4h0M1055.6 148.3h0M1058.0 148.3h0M1060.4 148.2h0M1062.8 148.1h0M1065.2 148.1h0M1067.6 148.0h0M1070.0 148.0h0M1072.4 147.9h0M1074.8 147.8h0M1077.2 147.8h0M1079.6 147.7h0M1081.9 147.7h0M1084.3 147.6h0M1086.7 147.6h0M1089.1 147.5h0M1091.5 147.5h0M1093.9 147.4h0M1096.3 147.4h0M1098.7 147.4h0M1101.1 147.3h0M1103.5 147.3h0M1105.9 147.2h0M1108.3 147.2h0M1110.7 147.1h0M1113.0 147.1h0M1115.4 147.1h0M1117.8 147.0h0M1120.2 147.0h0M1122.6 146.9h0M1125.0 146.9h0M1127.4 146.9h0M1129.8 146.8h0M1132.2 146.8h0M1134.6 146.7h0M1137.0 146.7h0M1139.4 146.7h0M1141.7 146.6h0M1144.1 146.6h0M1146.5 146.6h0M1148.9 146.5h0M1151.3 146.5h0M1153.7 146.4h0M1156.1 146.4h0M1158.5 146.4h0M1160.9 146.4h0M1163.3 146.3h0M1165.7 146.3h0M1168.1 146.3h0M1170.4 146.2h0M1172.8 146.2h0M1175.2 146.2h0M1177.6 146.2h0M1180.0 146.1h0M1182.4 146.1h0M1184.8 146.1h0M1187.2 146.1h0M1189.6 146.0h0M1192.0 146.0h0M1194.4 146.0h0M1196.8 146.0h0M1199.1 146.0h0M1201.5 145.9h0M1203.9 145.9h0M1206.3 145.9h0M732.7 159.5h0M735.1 159.4h0M737.5 159.3h0M739.9 159.2h0M742.3 159.1h0M744.7 159.0h0M747.1 158.9h0M749.5 158.9h0M751.9 158.8h0M754.3 158.7h0M756.7 158.6h0M759.0 158.6h0M761.4 158.5h0M763.8 158.4h0M766.2 158.4h0M768.6 158.3h0M771.0 158.3h0M773.4 158.2h0M775.8 158.2h0M778.2 158.1h0M780.6 158.1h0M783.0 158.1h0M785.4 158.0h0M787.7 158.0h0M790.1 157.9h0M792.5 157.9h0M794.9 157.9h0M797.3 157.8h0M799.7 157.8h0M802.1 157.8h0M804.5 157.8h0M806.9 157.7h0M809.3 157.7h0M811.7 157.7h0M814.1 157.7h0M816.5 157.6h0M818.8 157.6h0M821.2 157.6h0M823.6 157.6h0M826.0 157.5h0M828.4 157.5h0M830.8 157.5h0M833.2 157.5h0M835.6 157.4h0M838.0 157.4h0M840.4 157.4h0M842.8 157.4h0M845.2 157.3h0M847.5 157.3h0M849.9 157.3h0M852.3 157.3h0M854.7 157.2h0M857.1 157.2h0M859.5 157.2h0M861.9 157.2h0M864.3 157.1h0M866.7 157.1h0M869.1 157.1h0M871.5 157.0h0M873.9 157.0h0M876.2 156.9h0M878.6 156.9h0M881.0 156.9h0M883.4 156.8h0M885.8 156.8h0M888.2 156.7h0M890.6 156.6h0M893.0 156.6h0M895.4 156.5h0M897.8 156.4h0M900.2 156.3h0M902.6 156.2h0M905.0 156.1h0M907.3 156.0h0M909.7 155.9h0M912.1 155.8h0M914.5 155.7h0M916.9 155.6h0M919.3 155.5h0M921.7 155.4h0M924.1 155.3h0M926.5 155.2h0M928.9 155.1h0M931.3 155.0h0M933.7 154.9h0M936.0 154.8h0M938.4 154.7h0M940.8 154.6h0M943.2 154.5h0M945.6 154.4h0M948.0 154.3h0M950.4 154.2h0M952.8 154.1h0M955.2 154.0h0M957.6 153.9h0M960.0 153.8h0M962.4 153.7h0M964.7 153.6h0M967.1 153.5h0M969.5 153.4h0M971.9 153.3h0M974.3 153.2h0M976.7 153.1h0M979.1 153.0h0M981.5 152.9h0M983.9 152.8h0M986.3 152.6h0M988.7 152.5h0M991.1 152.4h0M993.4 152.3h0M995.8 152.2h0M998.2 152.1h0M1000.6 152.1h0M1003.0 152.0h0M1005.4 151.9h0M1007.8 151.8h0M1010.2 151.7h0M1012.6 151.6h0M1015.0 151.5h0M1017.4 151.4h0M1019.8 151.3h0M1022.2 151.2h0M1024.5 151.1h0M1026.9 151.0h0M1029.3 151.0h0M1031.7 150.9h0M1034.1 150.8h0M1036.5 150.7h0M1038.9 150.6h0M1041.3 150.5h0M1043.7 150.4h0M1046.1 150.3h0M1048.5 150.3h0M1050.9 150.2h0M1053.2 150.1h0M1055.6 150.0h0M1058.0 149.9h0M1060.4 149.8h0M1062.8 149.8h0M1065.2 149.7h0M1067.6 149.6h0M1070.0 149.5h0M1072.4 149.5h0M1074.8 149.4h0M1077.2 149.3h0M1079.6 149.3h0M1081.9 149.2h0M1084.3 149.1h0M1086.7 149.1h0M1089.1 149.0h0M1091.5 148.9h0M1093.9 148.9h0M1096.3 148.8h0M1098.7 148.8h0M1101.1 148.7h0M1103.5 148.7h0M1105.9 148.6h0M1108.3 148.5h0M1110.7 148.5h0M1113.0 148.4h0M1115.4 148.4h0M1117.8 148.3h0M1120.2 148.3h0M1122.6 148.2h0M1125.0 148.2h0M1127.4 148.1h0M1129.8 148.1h0M1132.2 148.0h0M1134.6 148.0h0M1137.0 147.9h0M1139.4 147.9h0M1141.7 147.8h0M1144.1 147.8h0M1146.5 147.7h0M1148.9 147.7h0M1151.3 147.6h0M1153.7 147.6h0M1156.1 147.5h0M1158.5 147.5h0M1160.9 147.5h0M1163.3 147.4h0M1165.7 147.4h0M1168.1 147.3h0M1170.4 147.3h0M1172.8 147.3h0M1175.2 147.2h0M1177.6 147.2h0M1180.0 147.1h0M1182.4 147.1h0M1184.8 147.1h0M1187.2 147.0h0M1189.6 147.0h0M1192.0 147.0h0M1194.4 147.0h0M1196.8 146.9h0M1199.1 146.9h0M1201.5 146.9h0M1203.9 146.9h0M1206.3 146.8h0M732.7 164.6h0M735.1 164.0h0M737.5 163.4h0M739.9 162.8h0M742.3 162.2h0M744.7 161.7h0M747.1 161.3h0M749.5 160.9h0M751.9 160.6h0M754.3 160.3h0M756.7 160.0h0M759.0 159.7h0M761.4 159.4h0M763.8 159.2h0M766.2 159.0h0M768.6 158.8h0M771.0 158.6h0M773.4 158.4h0M775.8 158.2h0M778.2 158.1h0M780.6 157.9h0M783.0 157.8h0M785.4 157.7h0M787.7 157.5h0M790.1 157.4h0M792.5 157.3h0M794.9 157.2h0M797.3 157.1h0M799.7 157.0h0M802.1 156.9h0M804.5 156.8h0M806.9 156.6h0M809.3 156.5h0M811.7 156.4h0M814.1 156.2h0M816.5 156.1h0M818.8 156.0h0M821.2 155.9h0M823.6 155.7h0M826.0 155.6h0M828.4 155.6h0M830.8 155.5h0M833.2 155.4h0M835.6 155.3h0M838.0 155.2h0M840.4 155.2h0M842.8 155.1h0M845.2 155.1h0M847.5 155.0h0M849.9 154.9h0M852.3 154.9h0M854.7 154.8h0M857.1 154.8h0M859.5 154.7h0M861.9 154.7h0M864.3 154.6h0M866.7 154.6h0M869.1 154.5h0M871.5 154.4h0M873.9 154.4h0M876.2 154.3h0M878.6 154.3h0M881.0 154.2h0M883.4 154.2h0M885.8 154.1h0M888.2 154.0h0M890.6 154.0h0M893.0 153.9h0M895.4 153.9h0M897.8 153.8h0M900.2 153.7h0M902.6 153.7h0M905.0 153.6h0M907.3 153.6h0M909.7 153.5h0M912.1 153.4h0M914.5 153.4h0M916.9 153.3h0M919.3 153.3h0M921.7 153.2h0M924.1 153.1h0M926.5 153.1h0M928.9 153.0h0M931.3 153.0h0M933.7 152.9h0M936.0 152.8h0M938.4 152.8h0M940.8 152.7h0M943.2 152.7h0M945.6 152.6h0M948.0 152.5h0M950.4 152.5h0M952.8 152.4h0M955.2 152.3h0M957.6 152.3h0M960.0 152.2h0M962.4 152.2h0M964.7 152.1h0M967.1 152.0h0M969.5 152.0h0M971.9 151.9h0M974.3 151.8h0M976.7 151.8h0M979.1 151.7h0M981.5 151.6h0M983.9 151.6h0M986.3 151.5h0M988.7 151.5h0M991.1 151.4h0M993.4 151.3h0M995.8 151.3h0M998.2 151.2h0M1000.6 151.2h0M1003.0 151.1h0M1005.4 151.1h0M1007.8 151.0h0M1010.2 151.0h0M1012.6 150.9h0M1015.0 150.9h0M1017.4 150.8h0M1019.8 150.8h0M1022.2 150.7h0M1024.5 150.7h0M1026.9 150.6h0M1029.3 150.6h0M1031.7 150.6h0M1034.1 150.5h0M1036.5 150.5h0M1038.9 150.4h0M1041.3 150.4h0M1043.7 150.4h0M1046.1 150.3h0M1048.5 150.3h0M1050.9 150.2h0M1053.2 150.2h0M1055.6 150.2h0M1058.0 150.1h0M1060.4 150.1h0M1062.8 150.0h0M1065.2 150.0h0M1067.6 150.0h0M1070.0 149.9h0M1072.4 149.9h0M1074.8 149.9h0M1077.2 149.8h0M1079.6 149.8h0M1081.9 149.7h0M1084.3 149.7h0M1086.7 149.7h0M1089.1 149.6h0M1091.5 149.6h0M1093.9 149.6h0M1096.3 149.5h0M1098.7 149.5h0M1101.1 149.4h0M1103.5 149.4h0M1105.9 149.4h0M1108.3 149.3h0M1110.7 149.3h0M1113.0 149.3h0M1115.4 149.2h0M1117.8 149.2h0M1120.2 149.2h0M1122.6 149.1h0M1125.0 149.1h0M1127.4 149.0h0M1129.8 149.0h0M1132.2 149.0h0M1134.6 148.9h0M1137.0 148.9h0M1139.4 148.9h0M1141.7 148.8h0M1144.1 148.8h0M1146.5 148.8h0M1148.9 148.7h0M1151.3 148.7h0M1153.7 148.6h0M1156.1 148.6h0M1158.5 148.6h0M1160.9 148.5h0M1163.3 148.5h0M1165.7 148.5h0M1168.1 148.4h0M1170.4 148.4h0M1172.8 148.4h0M1175.2 148.3h0M1177.6 148.3h0M1180.0 148.3h0M1182.4 148.2h0M1184.8 148.2h0M1187.2 148.2h0M1189.6 148.1h0M1192.0 148.1h0M1194.4 148.1h0M1196.8 148.0h0M1199.1 148.0h0M1201.5 148.0h0M1203.9 147.9h0M1206.3 147.9h0M732.7 167.9h0M735.1 168.0h0M737.5 168.1h0M739.9 168.2h0M742.3 168.2h0M744.7 168.3h0M747.1 168.3h0M749.5 168.3h0M751.9 168.3h0M754.3 168.3h0M756.7 168.3h0M759.0 168.3h0M761.4 168.3h0M763.8 168.3h0M766.2 168.3h0M768.6 168.3h0M771.0 168.3h0M773.4 168.3h0M775.8 168.3h0M778.2 168.3h0M780.6 168.3h0M783.0 168.2h0M785.4 168.2h0M787.7 168.1h0M790.1 168.0h0M792.5 167.9h0M794.9 167.8h0M797.3 167.7h0M799.7 167.5h0M802.1 167.4h0M804.5 167.3h0M806.9 167.2h0M809.3 167.0h0M811.7 166.9h0M814.1 166.7h0M816.5 166.6h0M818.8 166.4h0M821.2 166.2h0M823.6 166.0h0M826.0 165.9h0M828.4 165.7h0M830.8 165.6h0M833.2 165.4h0M835.6 165.3h0M838.0 165.1h0M840.4 165.0h0M842.8 164.8h0M845.2 164.7h0M847.5 164.6h0M849.9 164.4h0M852.3 164.3h0M854.7 164.1h0M857.1 164.0h0M859.5 163.9h0M861.9 163.7h0M864.3 163.6h0M866.7 163.4h0M869.1 163.3h0M871.5 163.1h0M873.9 163.0h0M876.2 162.9h0M878.6 162.7h0M881.0 162.6h0M883.4 162.4h0M885.8 162.3h0M888.2 162.1h0M890.6 161.9h0M893.0 161.8h0M895.4 161.6h0M897.8 161.5h0M900.2 161.3h0M902.6 161.1h0M905.0 161.0h0M907.3 160.8h0M909.7 160.7h0M912.1 160.5h0M914.5 160.3h0M916.9 160.2h0M919.3 160.0h0M921.7 159.9h0M924.1 159.7h0M926.5 159.6h0M928.9 159.4h0M931.3 159.3h0M933.7 159.1h0M936.0 159.0h0M938.4 158.8h0M940.8 158.7h0M943.2 158.6h0M945.6 158.4h0M948.0 158.3h0M950.4 158.2h0M952.8 158.0h0M955.2 157.9h0M957.6 157.8h0M960.0 157.6h0M962.4 157.5h0M964.7 157.4h0M967.1 157.2h0M969.5 157.1h0M971.9 157.0h0M974.3 156.8h0M976.7 156.7h0M979.1 156.6h0M981.5 156.5h0M983.9 156.3h0M986.3 156.2h0M988.7 156.1h0M991.1 156.0h0M993.4 155.9h0M995.8 155.7h0M998.2 155.6h0M1000.6 155.5h0M1003.0 155.4h0M1005.4 155.2h0M1007.8 155.1h0M1010.2 155.0h0M1012.6 154.9h0M1015.0 154.8h0M1017.4 154.6h0M1019.8 154.5h0M1022.2 154.4h0M1024.5 154.3h0M1026.9 154.2h0M1029.3 154.0h0M1031.7 153.9h0M1034.1 153.8h0M1036.5 153.7h0M1038.9 153.5h0M1041.3 153.4h0M1043.7 153.3h0M1046.1 153.2h0M1048.5 153.1h0M1050.9 152.9h0M1053.2 152.8h0M1055.6 152.7h0M1058.0 152.6h0M1060.4 152.5h0M1062.8 152.4h0M1065.2 152.2h0M1067.6 152.1h0M1070.0 152.0h0M1072.4 151.9h0M1074.8 151.8h0M1077.2 151.7h0M1079.6 151.6h0M1081.9 151.5h0M1084.3 151.4h0M1086.7 151.4h0M1089.1 151.3h0M1091.5 151.2h0M1093.9 151.1h0M1096.3 151.0h0M1098.7 150.9h0M1101.1 150.9h0M1103.5 150.8h0M1105.9 150.7h0M1108.3 150.6h0M1110.7 150.6h0M1113.0 150.5h0M1115.4 150.4h0M1117.8 150.3h0M1120.2 150.3h0M1122.6 150.2h0M1125.0 150.1h0M1127.4 150.0h0M1129.8 150.0h0M1132.2 149.9h0M1134.6 149.8h0M1137.0 149.8h0M1139.4 149.7h0M1141.7 149.6h0M1144.1 149.6h0M1146.5 149.5h0M1148.9 149.4h0M1151.3 149.4h0M1153.7 149.3h0M1156.1 149.3h0M1158.5 149.2h0M1160.9 149.1h0M1163.3 149.1h0M1165.7 149.0h0M1168.1 149.0h0M1170.4 148.9h0M1172.8 148.9h0M1175.2 148.8h0M1177.6 148.8h0M1180.0 148.7h0M1182.4 148.7h0M1184.8 148.6h0M1187.2 148.6h0M1189.6 148.5h0M1192.0 148.5h0M1194.4 148.5h0M1196.8 148.4h0M1199.1 148.4h0M1201.5 148.4h0M1203.9 148.3h0M1206.3 148.3h0M732.7 169.4h0M735.1 169.7h0M737.5 170.0h0M739.9 170.3h0M742.3 170.6h0M744.7 170.8h0M747.1 171.1h0M749.5 171.3h0M751.9 171.5h0M754.3 171.8h0M756.7 172.0h0M759.0 172.2h0M761.4 172.4h0M763.8 172.7h0M766.2 172.8h0M768.6 173.0h0M771.0 173.2h0M773.4 173.3h0M775.8 173.3h0M778.2 173.4h0M780.6 173.4h0M783.0 173.5h0M785.4 173.5h0M787.7 173.5h0M790.1 173.5h0M792.5 173.6h0M794.9 173.6h0M797.3 173.6h0M799.7 173.6h0M802.1 173.6h0M804.5 173.6h0M806.9 173.6h0M809.3 173.5h0M811.7 173.5h0M814.1 173.4h0M816.5 173.3h0M818.8 173.2h0M821.2 173.1h0M823.6 172.9h0M826.0 172.8h0M828.4 172.7h0M830.8 172.6h0M833.2 172.5h0M835.6 172.3h0M838.0 172.2h0M840.4 172.1h0M842.8 171.9h0M845.2 171.7h0M847.5 171.6h0M849.9 171.4h0M852.3 171.2h0M854.7 171.0h0M857.1 170.8h0M859.5 170.6h0M861.9 170.4h0M864.3 170.2h0M866.7 170.0h0M869.1 169.8h0M871.5 169.6h0M873.9 169.4h0M876.2 169.2h0M878.6 169.0h0M881.0 168.8h0M883.4 168.6h0M885.8 168.3h0M888.2 168.1h0M890.6 167.9h0M893.0 167.7h0M895.4 167.4h0M897.8 167.2h0M900.2 166.9h0M902.6 166.7h0M905.0 166.4h0M907.3 166.2h0M909.7 165.9h0M912.1 165.7h0M914.5 165.4h0M916.9 165.2h0M919.3 164.9h0M921.7 164.7h0M924.1 164.4h0M926.5 164.2h0M928.9 163.9h0M931.3 163.7h0M933.7 163.5h0M936.0 163.3h0M938.4 163.1h0M940.8 162.8h0M943.2 162.6h0M945.6 162.4h0M948.0 162.2h0M950.4 162.0h0M952.8 161.7h0M955.2 161.5h0M957.6 161.3h0M960.0 161.1h0M962.4 160.9h0M964.7 160.7h0M967.1 160.5h0M969.5 160.2h0M971.9 160.0h0M974.3 159.8h0M976.7 159.6h0M979.1 159.4h0M981.5 159.2h0M983.9 159.0h0M986.3 158.8h0M988.7 158.6h0M991.1 158.5h0M993.4 158.3h0M995.8 158.1h0M998.2 157.9h0M1000.6 157.7h0M1003.0 157.5h0M1005.4 157.4h0M1007.8 157.2h0M1010.2 157.0h0M1012.6 156.9h0M1015.0 156.7h0M1017.4 156.6h0M1019.8 156.4h0M1022.2 156.2h0M1024.5 156.1h0M1026.9 155.9h0M1029.3 155.8h0M1031.7 155.6h0M1034.1 155.5h0M1036.5 155.3h0M1038.9 155.2h0M1041.3 155.1h0M1043.7 154.9h0M1046.1 154.8h0M1048.5 154.6h0M1050.9 154.5h0M1053.2 154.4h0M1055.6 154.2h0M1058.0 154.1h0M1060.4 154.0h0M1062.8 153.8h0M1065.2 153.7h0M1067.6 153.6h0M1070.0 153.5h0M1072.4 153.4h0M1074.8 153.2h0M1077.2 153.1h0M1079.6 153.0h0M1081.9 152.9h0M1084.3 152.8h0M1086.7 152.7h0M1089.1 152.6h0M1091.5 152.5h0M1093.9 152.4h0M1096.3 152.3h0M1098.7 152.2h0M1101.1 152.1h0M1103.5 152.0h0M1105.9 151.9h0M1108.3 151.8h0M1110.7 151.8h0M1113.0 151.7h0M1115.4 151.6h0M1117.8 151.5h0M1120.2 151.4h0M1122.6 151.3h0M1125.0 151.2h0M1127.4 151.1h0M1129.8 151.0h0M1132.2 151.0h0M1134.6 150.9h0M1137.0 150.8h0M1139.4 150.7h0M1141.7 150.6h0M1144.1 150.5h0M1146.5 150.5h0M1148.9 150.4h0M1151.3 150.3h0M1153.7 150.2h0M1156.1 150.2h0M1158.5 150.1h0M1160.9 150.0h0M1163.3 150.0h0M1165.7 149.9h0M1168.1 149.8h0M1170.4 149.7h0M1172.8 149.7h0M1175.2 149.6h0M1177.6 149.6h0M1180.0 149.5h0M1182.4 149.4h0M1184.8 149.4h0M1187.2 149.3h0M1189.6 149.3h0M1192.0 149.2h0M1194.4 149.2h0M1196.8 149.1h0M1199.1 149.1h0M1201.5 149.0h0M1203.9 149.0h0M1206.3 149.0h0M732.7 170.0h0M735.1 171.0h0M737.5 171.9h0M739.9 172.8h0M742.3 173.7h0M744.7 174.5h0M747.1 175.4h0M749.5 176.3h0M751.9 177.1h0M754.3 177.9h0M756.7 178.7h0M759.0 179.5h0M761.4 180.2h0M763.8 180.9h0M766.2 181.7h0M768.6 182.4h0M771.0 183.1h0M773.4 183.8h0M775.8 184.5h0M778.2 185.2h0M780.6 185.8h0M783.0 186.5h0M785.4 187.2h0M787.7 187.8h0M790.1 188.5h0M792.5 189.1h0M794.9 189.8h0M797.3 190.4h0M799.7 191.0h0M802.1 191.7h0M804.5 192.3h0M806.9 192.9h0M809.3 193.4h0M811.7 194.0h0M814.1 194.6h0M816.5 195.2h0M818.8 195.7h0M821.2 196.3h0M823.6 196.8h0M826.0 197.3h0M828.4 197.8h0M830.8 198.4h0M833.2 198.9h0M835.6 199.3h0M838.0 199.8h0M840.4 200.3h0M842.8 200.8h0M845.2 201.2h0M847.5 201.7h0M849.9 202.1h0M852.3 202.5h0M854.7 202.9h0M857.1 203.4h0M859.5 203.8h0M861.9 204.2h0M864.3 204.5h0M866.7 204.9h0M869.1 205.3h0M871.5 205.6h0M873.9 206.0h0M876.2 206.3h0M878.6 206.6h0M881.0 206.9h0M883.4 207.2h0M885.8 207.5h0M888.2 207.8h0M890.6 208.1h0M893.0 208.3h0M895.4 208.6h0M897.8 208.8h0M900.2 209.1h0M902.6 209.3h0M905.0 209.5h0M907.3 209.8h0M909.7 210.0h0M912.1 210.2h0M914.5 210.5h0M916.9 210.7h0M919.3 210.9h0M921.7 211.1h0M924.1 211.4h0M926.5 211.6h0M928.9 211.8h0M931.3 212.1h0M933.7 212.3h0M936.0 212.5h0M938.4 212.7h0M940.8 213.0h0M943.2 213.2h0M945.6 213.4h0M948.0 213.6h0M950.4 213.8h0M952.8 214.0h0M955.2 214.2h0M957.6 214.3h0M960.0 214.5h0M962.4 214.7h0M964.7 214.8h0M967.1 215.0h0M969.5 215.1h0M971.9 215.3h0M974.3 215.4h0M976.7 215.6h0M979.1 215.7h0M981.5 215.9h0M983.9 216.0h0M986.3 216.2h0M988.7 216.3h0M991.1 216.4h0M993.4 216.6h0M995.8 216.7h0M998.2 216.8h0M1000.6 217.0h0M1003.0 217.1h0M1005.4 217.2h0M1007.8 217.4h0M1010.2 217.5h0M1012.6 217.6h0M1015.0 217.7h0M1017.4 217.9h0M1019.8 218.0h0M1022.2 218.1h0M1024.5 218.2h0M1026.9 218.3h0M1029.3 218.4h0M1031.7 218.6h0M1034.1 218.7h0M1036.5 218.8h0M1038.9 218.9h0M1041.3 219.0h0M1043.7 219.1h0M1046.1 219.2h0M1048.5 219.3h0M1050.9 219.4h0M1053.2 219.5h0M1055.6 219.6h0M1058.0 219.7h0M1060.4 219.8h0M1062.8 219.9h0M1065.2 220.0h0M1067.6 220.1h0M1070.0 220.1h0M1072.4 220.2h0M1074.8 220.3h0M1077.2 220.4h0M1079.6 220.5h0M1081.9 220.6h0M1084.3 220.6h0M1086.7 220.7h0M1089.1 220.8h0M1091.5 220.9h0M1093.9 220.9h0M1096.3 221.0h0M1098.7 221.1h0M1101.1 221.1h0M1103.5 221.2h0M1105.9 221.3h0M1108.3 221.3h0M1110.7 221.4h0M1113.0 221.5h0M1115.4 221.5h0M1117.8 221.6h0M1120.2 221.7h0M1122.6 221.7h0M1125.0 221.8h0M1127.4 221.9h0M1129.8 221.9h0M1132.2 222.0h0M1134.6 222.0h0M1137.0 222.1h0M1139.4 222.2h0M1141.7 222.2h0M1144.1 222.3h0M1146.5 222.3h0M1148.9 222.4h0M1151.3 222.4h0M1153.7 222.5h0M1156.1 222.5h0M1158.5 222.6h0M1160.9 222.7h0M1163.3 222.7h0M1165.7 222.7h0M1168.1 222.8h0M1170.4 222.8h0M1172.8 222.9h0M1175.2 222.9h0M1177.6 223.0h0M1180.0 223.0h0M1182.4 223.0h0M1184.8 223.1h0M1187.2 223.1h0M1189.6 223.2h0M1192.0 223.2h0M1194.4 223.2h0M1196.8 223.3h0M1199.1 223.3h0M1201.5 223.3h0M1203.9 223.3h0M1206.3 223.4h0M732.7 189.4h0M735.1 190.6h0M737.5 191.7h0M739.9 192.8h0M742.3 193.9h0M744.7 195.0h0M747.1 196.0h0M749.5 197.0h0M751.9 198.0h0M754.3 198.9h0M756.7 199.8h0M759.0 200.6h0M761.4 201.4h0M763.8 202.1h0M766.2 202.8h0M768.6 203.4h0M771.0 203.9h0M773.4 204.3h0M775.8 204.7h0M778.2 205.1h0M780.6 205.4h0M783.0 205.7h0M785.4 206.0h0M787.7 206.3h0M790.1 206.6h0M792.5 206.9h0M794.9 207.2h0M797.3 207.4h0M799.7 207.6h0M802.1 207.9h0M804.5 208.1h0M806.9 208.3h0M809.3 208.5h0M811.7 208.7h0M814.1 208.9h0M816.5 209.0h0M818.8 209.2h0M821.2 209.4h0M823.6 209.5h0M826.0 209.7h0M828.4 209.9h0M830.8 210.0h0M833.2 210.2h0M835.6 210.3h0M838.0 210.5h0M840.4 210.6h0M842.8 210.7h0M845.2 210.9h0M847.5 211.0h0M849.9 211.1h0M852.3 211.2h0M854.7 211.3h0M857.1 211.4h0M859.5 211.5h0M861.9 211.7h0M864.3 211.8h0M866.7 211.9h0M869.1 212.0h0M871.5 212.1h0M873.9 212.2h0M876.2 212.3h0M878.6 212.4h0M881.0 212.5h0M883.4 212.6h0M885.8 212.7h0M888.2 212.9h0M890.6 213.0h0M893.0 213.1h0M895.4 213.2h0M897.8 213.3h0M900.2 213.4h0M902.6 213.5h0M905.0 213.6h0M907.3 213.7h0M909.7 213.9h0M912.1 214.0h0M914.5 214.1h0M916.9 214.2h0M919.3 214.3h0M921.7 214.4h0M924.1 214.5h0M926.5 214.6h0M928.9 214.7h0M931.3 214.8h0M933.7 214.9h0M936.0 215.0h0M938.4 215.1h0M940.8 215.2h0M943.2 215.3h0M945.6 215.4h0M948.0 215.5h0M950.4 215.7h0M952.8 215.8h0M955.2 215.9h0M957.6 216.0h0M960.0 216.1h0M962.4 216.2h0M964.7 216.3h0M967.1 216.4h0M969.5 216.5h0M971.9 216.6h0M974.3 216.7h0M976.7 216.8h0M979.1 216.9h0M981.5 217.0h0M983.9 217.1h0M986.3 217.2h0M988.7 217.3h0M991.1 217.4h0M993.4 217.5h0M995.8 217.6h0M998.2 217.7h0M1000.6 217.8h0M1003.0 217.9h0M1005.4 218.1h0M1007.8 218.2h0M1010.2 218.3h0M1012.6 218.4h0M1015.0 218.5h0M1017.4 218.6h0M1019.8 218.7h0M1022.2 218.8h0M1024.5 218.9h0M1026.9 219.0h0M1029.3 219.1h0M1031.7 219.2h0M1034.1 219.3h0M1036.5 219.4h0M1038.9 219.5h0M1041.3 219.6h0M1043.7 219.7h0M1046.1 219.8h0M1048.5 219.9h0M1050.9 220.0h0M1053.2 220.1h0M1055.6 220.2h0M1058.0 220.3h0M1060.4 220.4h0M1062.8 220.5h0M1065.2 220.6h0M1067.6 220.6h0M1070.0 220.7h0M1072.4 220.8h0M1074.8 220.9h0M1077.2 221.0h0M1079.6 221.1h0M1081.9 221.2h0M1084.3 221.3h0M1086.7 221.3h0M1089.1 221.4h0M1091.5 221.5h0M1093.9 221.6h0M1096.3 221.7h0M1098.7 221.8h0M1101.1 221.8h0M1103.5 221.9h0M1105.9 222.0h0M1108.3 222.1h0M1110.7 222.1h0M1113.0 222.2h0M1115.4 222.3h0M1117.8 222.4h0M1120.2 222.4h0M1122.6 222.5h0M1125.0 222.6h0M1127.4 222.7h0M1129.8 222.7h0M1132.2 222.8h0M1134.6 222.9h0M1137.0 223.0h0M1139.4 223.0h0M1141.7 223.1h0M1144.1 223.2h0M1146.5 223.2h0M1148.9 223.3h0M1151.3 223.4h0M1153.7 223.4h0M1156.1 223.5h0M1158.5 223.6h0M1160.9 223.6h0M1163.3 223.7h0M1165.7 223.8h0M1168.1 223.8h0M1170.4 223.9h0M1172.8 224.0h0M1175.2 224.0h0M1177.6 224.1h0M1180.0 224.2h0M1182.4 224.2h0M1184.8 224.3h0M1187.2 224.3h0M1189.6 224.4h0M1192.0 224.5h0M1194.4 224.5h0M1196.8 224.6h0M1199.1 224.6h0M1201.5 224.7h0M1203.9 224.7h0M1206.3 224.8h0M732.7 191.4h0M735.1 192.6h0M737.5 193.7h0M739.9 194.8h0M742.3 195.9h0M744.7 197.0h0M747.1 198.1h0M749.5 199.1h0M751.9 200.1h0M754.3 201.0h0M756.7 201.9h0M759.0 202.7h0M761.4 203.5h0M763.8 204.2h0M766.2 204.8h0M768.6 205.4h0M771.0 205.9h0M773.4 206.3h0M775.8 206.6h0M778.2 207.0h0M780.6 207.3h0M783.0 207.6h0M785.4 207.8h0M787.7 208.1h0M790.1 208.4h0M792.5 208.6h0M794.9 208.8h0M797.3 209.0h0M799.7 209.3h0M802.1 209.4h0M804.5 209.6h0M806.9 209.8h0M809.3 210.0h0M811.7 210.1h0M814.1 210.3h0M816.5 210.5h0M818.8 210.6h0M821.2 210.8h0M823.6 210.9h0M826.0 211.1h0M828.4 211.2h0M830.8 211.3h0M833.2 211.5h0M835.6 211.6h0M838.0 211.7h0M840.4 211.8h0M842.8 212.0h0M845.2 212.1h0M847.5 212.2h0M849.9 212.3h0M852.3 212.4h0M854.7 212.5h0M857.1 212.6h0M859.5 212.7h0M861.9 212.8h0M864.3 212.9h0M866.7 213.0h0M869.1 213.1h0M871.5 213.2h0M873.9 213.3h0M876.2 213.4h0M878.6 213.5h0M881.0 213.6h0M883.4 213.7h0M885.8 213.8h0M888.2 213.9h0M890.6 214.0h0M893.0 214.1h0M895.4 214.2h0M897.8 214.4h0M900.2 214.5h0M902.6 214.6h0M905.0 214.7h0M907.3 214.8h0M909.7 214.9h0M912.1 215.0h0M914.5 215.1h0M916.9 215.3h0M919.3 215.4h0M921.7 215.5h0M924.1 215.6h0M926.5 215.7h0M928.9 215.8h0M931.3 215.9h0M933.7 216.1h0M936.0 216.2h0M938.4 216.3h0M940.8 216.4h0M943.2 216.5h0M945.6 216.6h0M948.0 216.7h0M950.4 216.8h0M952.8 216.9h0M955.2 217.0h0M957.6 217.1h0M960.0 217.3h0M962.4 217.4h0M964.7 217.5h0M967.1 217.6h0M969.5 217.7h0M971.9 217.8h0M974.3 217.9h0M976.7 218.0h0M979.1 218.1h0M981.5 218.2h0M983.9 218.3h0M986.3 218.4h0M988.7 218.5h0M991.1 218.6h0M993.4 218.7h0M995.8 218.8h0M998.2 218.9h0M1000.6 219.0h0M1003.0 219.1h0M1005.4 219.2h0M1007.8 219.3h0M1010.2 219.4h0M1012.6 219.5h0M1015.0 219.6h0M1017.4 219.7h0M1019.8 219.8h0M1022.2 219.9h0M1024.5 220.0h0M1026.9 220.1h0M1029.3 220.2h0M1031.7 220.3h0M1034.1 220.4h0M1036.5 220.5h0M1038.9 220.6h0M1041.3 220.7h0M1043.7 220.8h0M1046.1 220.9h0M1048.5 221.0h0M1050.9 221.1h0M1053.2 221.2h0M1055.6 221.2h0M1058.0 221.3h0M1060.4 221.4h0M1062.8 221.5h0M1065.2 221.6h0M1067.6 221.7h0M1070.0 221.8h0M1072.4 221.9h0M1074.8 222.0h0M1077.2 222.1h0M1079.6 222.1h0M1081.9 222.2h0M1084.3 222.3h0M1086.7 222.4h0M1089.1 222.5h0M1091.5 222.6h0M1093.9 222.6h0M1096.3 222.7h0M1098.7 222.8h0M1101.1 222.9h0M1103.5 223.0h0M1105.9 223.1h0M1108.3 223.1h0M1110.7 223.2h0M1113.0 223.3h0M1115.4 223.4h0M1117.8 223.5h0M1120.2 223.5h0M1122.6 223.6h0M1125.0 223.7h0M1127.4 223.8h0M1129.8 223.9h0M1132.2 223.9h0M1134.6 224.0h0M1137.0 224.1h0M1139.4 224.2h0M1141.7 224.2h0M1144.1 224.3h0M1146.5 224.4h0M1148.9 224.5h0M1151.3 224.5h0M1153.7 224.6h0M1156.1 224.7h0M1158.5 224.8h0M1160.9 224.8h0M1163.3 224.9h0M1165.7 225.0h0M1168.1 225.0h0M1170.4 225.1h0M1172.8 225.2h0M1175.2 225.2h0M1177.6 225.3h0M1180.0 225.4h0M1182.4 225.5h0M1184.8 225.5h0M1187.2 225.6h0M1189.6 225.7h0M1192.0 225.7h0M1194.4 225.8h0M1196.8 225.9h0M1199.1 225.9h0M1201.5 226.0h0M1203.9 226.0h0M1206.3 226.1h0M732.7 192.5h0M735.1 193.6h0M737.5 194.7h0M739.9 195.9h0M742.3 197.0h0M744.7 198.0h0M747.1 199.1h0M749.5 200.1h0M751.9 201.0h0M754.3 202.0h0M756.7 202.8h0M759.0 203.7h0M761.4 204.4h0M763.8 205.1h0M766.2 205.8h0M768.6 206.3h0M771.0 206.8h0M773.4 207.2h0M775.8 207.6h0M778.2 207.9h0M780.6 208.2h0M783.0 208.5h0M785.4 208.8h0M787.7 209.0h0M790.1 209.3h0M792.5 209.5h0M794.9 209.8h0M797.3 210.0h0M799.7 210.2h0M802.1 210.4h0M804.5 210.6h0M806.9 210.7h0M809.3 210.9h0M811.7 211.1h0M814.1 211.2h0M816.5 211.4h0M818.8 211.5h0M821.2 211.7h0M823.6 211.8h0M826.0 212.0h0M828.4 212.1h0M830.8 212.3h0M833.2 212.4h0M835.6 212.5h0M838.0 212.6h0M840.4 212.8h0M842.8 212.9h0M845.2 213.0h0M847.5 213.1h0M849.9 213.2h0M852.3 213.3h0M854.7 213.4h0M857.1 213.5h0M859.5 213.6h0M861.9 213.7h0M864.3 213.8h0M866.7 213.9h0M869.1 214.0h0M871.5 214.1h0M873.9 214.2h0M876.2 214.3h0M878.6 214.4h0M881.0 214.5h0M883.4 214.6h0M885.8 214.7h0M888.2 214.8h0M890.6 214.9h0M893.0 215.0h0M895.4 215.2h0M897.8 215.3h0M900.2 215.4h0M902.6 215.5h0M905.0 215.6h0M907.3 215.7h0M909.7 215.8h0M912.1 215.9h0M914.5 216.0h0M916.9 216.1h0M919.3 216.2h0M921.7 216.3h0M924.1 216.5h0M926.5 216.6h0M928.9 216.7h0M931.3 216.8h0M933.7 216.9h0M936.0 217.0h0M938.4 217.1h0M940.8 217.2h0M943.2 217.3h0M945.6 217.4h0M948.0 217.5h0M950.4 217.6h0M952.8 217.7h0M955.2 217.8h0M957.6 217.9h0M960.0 218.0h0M962.4 218.1h0M964.7 218.3h0M967.1 218.4h0M969.5 218.5h0M971.9 218.6h0M974.3 218.7h0M976.7 218.8h0M979.1 218.9h0M981.5 219.0h0M983.9 219.1h0M986.3 219.2h0M988.7 219.3h0M991.1 219.4h0M993.4 219.5h0M995.8 219.6h0M998.2 219.7h0M1000.6 219.8h0M1003.0 219.9h0M1005.4 220.0h0M1007.8 220.1h0M1010.2 220.2h0M1012.6 220.3h0M1015.0 220.4h0M1017.4 220.5h0M1019.8 220.6h0M1022.2 220.7h0M1024.5 220.8h0M1026.9 220.9h0M1029.3 221.0h0M1031.7 221.1h0M1034.1 221.2h0M1036.5 221.3h0M1038.9 221.4h0M1041.3 221.5h0M1043.7 221.6h0M1046.1 221.7h0M1048.5 221.8h0M1050.9 221.9h0M1053.2 222.0h0M1055.6 222.1h0M1058.0 222.2h0M1060.4 222.3h0M1062.8 222.4h0M1065.2 222.5h0M1067.6 222.6h0M1070.0 222.7h0M1072.4 222.8h0M1074.8 222.9h0M1077.2 223.0h0M1079.6 223.1h0M1081.9 223.1h0M1084.3 223.2h0M1086.7 223.3h0M1089.1 223.4h0M1091.5 223.5h0M1093.9 223.6h0M1096.3 223.7h0M1098.7 223.7h0M1101.1 223.8h0M1103.5 223.9h0M1105.9 224.0h0M1108.3 224.1h0M1110.7 224.2h0M1113.0 224.2h0M1115.4 224.3h0M1117.8 224.4h0M1120.2 224.5h0M1122.6 224.6h0M1125.0 224.6h0M1127.4 224.7h0M1129.8 224.8h0M1132.2 224.9h0M1134.6 224.9h0M1137.0 225.0h0M1139.4 225.1h0M1141.7 225.2h0M1144.1 225.2h0M1146.5 225.3h0M1148.9 225.4h0M1151.3 225.5h0M1153.7 225.5h0M1156.1 225.6h0M1158.5 225.7h0M1160.9 225.8h0M1163.3 225.8h0M1165.7 225.9h0M1168.1 226.0h0M1170.4 226.0h0M1172.8 226.1h0M1175.2 226.2h0M1177.6 226.3h0M1180.0 226.3h0M1182.4 226.4h0M1184.8 226.5h0M1187.2 226.5h0M1189.6 226.6h0M1192.0 226.7h0M1194.4 226.7h0M1196.8 226.8h0M1199.1 226.8h0M1201.5 226.9h0M1203.9 227.0h0M1206.3 227.0h0M732.7 335.2h0M735.1 330.2h0M737.5 325.3h0M739.9 320.6h0M742.3 316.1h0M744.7 311.7h0M747.1 307.4h0M749.5 303.3h0M751.9 299.2h0M754.3 295.2h0M756.7 291.5h0M759.0 287.9h0M761.4 284.7h0M763.8 281.8h0M766.2 279.0h0M768.6 276.3h0M771.0 273.5h0M773.4 270.6h0M775.8 267.5h0M778.2 264.4h0M780.6 261.5h0M783.0 258.9h0M785.4 256.8h0M787.7 254.8h0M790.1 253.1h0M792.5 251.5h0M794.9 250.1h0M797.3 248.7h0M799.7 247.5h0M802.1 246.4h0M804.5 245.4h0M806.9 244.4h0M809.3 243.5h0M811.7 242.6h0M814.1 241.8h0M816.5 241.0h0M818.8 240.2h0M821.2 239.5h0M823.6 238.7h0M826.0 238.0h0M828.4 237.4h0M830.8 236.7h0M833.2 236.1h0M835.6 235.6h0M838.0 235.0h0M840.4 234.6h0M842.8 234.1h0M845.2 233.7h0M847.5 233.3h0M849.9 233.0h0M852.3 232.7h0M854.7 232.4h0M857.1 232.1h0M859.5 231.8h0M861.9 231.6h0M864.3 231.3h0M866.7 231.1h0M869.1 230.9h0M871.5 230.7h0M873.9 230.6h0M876.2 230.4h0M878.6 230.3h0M881.0 230.1h0M883.4 230.0h0M885.8 229.8h0M888.2 229.7h0M890.6 229.6h0M893.0 229.5h0M895.4 229.4h0M897.8 229.3h0M900.2 229.2h0M902.6 229.1h0M905.0 229.0h0M907.3 228.9h0M909.7 228.8h0M912.1 228.8h0M914.5 228.7h0M916.9 228.6h0M919.3 228.6h0M921.7 228.5h0M924.1 228.4h0M926.5 228.4h0M928.9 228.3h0M931.3 228.3h0M933.7 228.3h0M936.0 228.2h0M938.4 228.2h0M940.8 228.1h0M943.2 228.1h0M945.6 228.1h0M948.0 228.0h0M950.4 228.0h0M952.8 228.0h0M955.2 228.0h0M957.6 227.9h0M960.0 227.9h0M962.4 227.9h0M964.7 227.8h0M967.1 227.8h0M969.5 227.8h0M971.9 227.8h0M974.3 227.7h0M976.7 227.7h0M979.1 227.7h0M981.5 227.7h0M983.9 227.6h0M986.3 227.6h0M988.7 227.6h0M991.1 227.6h0M993.4 227.5h0M995.8 227.5h0M998.2 227.5h0M1000.6 227.4h0M1003.0 227.4h0M1005.4 227.4h0M1007.8 227.4h0M1010.2 227.3h0M1012.6 227.3h0M1015.0 227.3h0M1017.4 227.3h0M1019.8 227.2h0M1022.2 227.2h0M1024.5 227.2h0M1026.9 227.2h0M1029.3 227.1h0M1031.7 227.1h0M1034.1 227.1h0M1036.5 227.1h0M1038.9 227.0h0M1041.3 227.0h0M1043.7 227.0h0M1046.1 227.0h0M1048.5 226.9h0M1050.9 226.9h0M1053.2 226.9h0M1055.6 226.8h0M1058.0 226.8h0M1060.4 226.8h0M1062.8 226.8h0M1065.2 226.7h0M1067.6 226.7h0M1070.0 226.7h0M1072.4 226.7h0M1074.8 226.6h0M1077.2 226.6h0M1079.6 226.6h0M1081.9 226.6h0M1084.3 226.6h0M1086.7 226.5h0M1089.1 226.5h0M1091.5 226.5h0M1093.9 226.5h0M1096.3 226.4h0M1098.7 226.4h0M1101.1 226.4h0M1103.5 226.4h0M1105.9 226.4h0M1108.3 226.3h0M1110.7 226.3h0M1113.0 226.3h0M1115.4 226.3h0M1117.8 226.3h0M1120.2 226.2h0M1122.6 226.2h0M1125.0 226.2h0M1127.4 226.2h0M1129.8 226.2h0M1132.2 226.2h0M1134.6 226.1h0M1137.0 226.1h0M1139.4 226.1h0M1141.7 226.1h0M1144.1 226.1h0M1146.5 226.1h0M1148.9 226.0h0M1151.3 226.0h0M1153.7 226.0h0M1156.1 226.0h0M1158.5 226.0h0M1160.9 226.0h0M1163.3 226.0h0M1165.7 225.9h0M1168.1 225.9h0M1170.4 225.9h0M1172.8 225.9h0M1175.2 225.9h0M1177.6 225.9h0M1180.0 225.9h0M1182.4 225.9h0M1184.8 225.8h0M1187.2 225.8h0M1189.6 225.8h0M1192.0 225.8h0M1194.4 225.8h0M1196.8 225.8h0M1199.1 225.8h0M1201.5 225.8h0M1203.9 225.8h0M1206.3 225.7h0M732.7 355.1h0M735.1 348.6h0M737.5 342.6h0M739.9 336.9h0M742.3 331.6h0M744.7 326.6h0M747.1 321.9h0M749.5 317.5h0M751.9 313.3h0M754.3 309.4h0M756.7 305.6h0M759.0 302.1h0M761.4 298.8h0M763.8 295.7h0M766.2 292.7h0M768.6 289.8h0M771.0 287.1h0M773.4 284.6h0M775.8 282.1h0M778.2 279.8h0M780.6 277.6h0M783.0 275.5h0M785.4 273.5h0M787.7 271.7h0M790.1 270.0h0M792.5 268.5h0M794.9 266.9h0M797.3 265.3h0M799.7 263.7h0M802.1 262.1h0M804.5 260.5h0M806.9 259.0h0M809.3 257.5h0M811.7 256.1h0M814.1 254.8h0M816.5 253.6h0M818.8 252.4h0M821.2 251.3h0M823.6 250.3h0M826.0 249.4h0M828.4 248.5h0M830.8 247.6h0M833.2 246.8h0M835.6 246.0h0M838.0 245.3h0M840.4 244.6h0M842.8 243.9h0M845.2 243.2h0M847.5 242.6h0M849.9 242.0h0M852.3 241.4h0M854.7 240.8h0M857.1 240.3h0M859.5 239.7h0M861.9 239.3h0M864.3 238.8h0M866.7 238.5h0M869.1 238.1h0M871.5 237.8h0M873.9 237.5h0M876.2 237.2h0M878.6 236.9h0M881.0 236.6h0M883.4 236.4h0M885.8 236.1h0M888.2 235.9h0M890.6 235.7h0M893.0 235.5h0M895.4 235.3h0M897.8 235.1h0M900.2 234.9h0M902.6 234.7h0M905.0 234.6h0M907.3 234.4h0M909.7 234.3h0M912.1 234.1h0M914.5 234.0h0M916.9 233.9h0M919.3 233.7h0M921.7 233.6h0M924.1 233.5h0M926.5 233.4h0M928.9 233.3h0M931.3 233.2h0M933.7 233.1h0M936.0 233.1h0M938.4 233.0h0M940.8 232.9h0M943.2 232.8h0M945.6 232.8h0M948.0 232.7h0M950.4 232.6h0M952.8 232.6h0M955.2 232.5h0M957.6 232.4h0M960.0 232.4h0M962.4 232.3h0M964.7 232.3h0M967.1 232.2h0M969.5 232.2h0M971.9 232.1h0M974.3 232.0h0M976.7 232.0h0M979.1 231.9h0M981.5 231.9h0M983.9 231.8h0M986.3 231.8h0M988.7 231.7h0M991.1 231.7h0M993.4 231.6h0M995.8 231.6h0M998.2 231.5h0M1000.6 231.5h0M1003.0 231.4h0M1005.4 231.4h0M1007.8 231.3h0M1010.2 231.3h0M1012.6 231.2h0M1015.0 231.2h0M1017.4 231.2h0M1019.8 231.1h0M1022.2 231.1h0M1024.5 231.0h0M1026.9 231.0h0M1029.3 230.9h0M1031.7 230.9h0M1034.1 230.8h0M1036.5 230.8h0M1038.9 230.7h0M1041.3 230.7h0M1043.7 230.7h0M1046.1 230.6h0M1048.5 230.6h0M1050.9 230.5h0M1053.2 230.5h0M1055.6 230.4h0M1058.0 230.4h0M1060.4 230.4h0M1062.8 230.3h0M1065.2 230.3h0M1067.6 230.2h0M1070.0 230.2h0M1072.4 230.2h0M1074.8 230.1h0M1077.2 230.1h0M1079.6 230.1h0M1081.9 230.0h0M1084.3 230.0h0M1086.7 229.9h0M1089.1 229.9h0M1091.5 229.9h0M1093.9 229.8h0M1096.3 229.8h0M1098.7 229.8h0M1101.1 229.8h0M1103.5 229.7h0M1105.9 229.7h0M1108.3 229.7h0M1110.7 229.6h0M1113.0 229.6h0M1115.4 229.6h0M1117.8 229.5h0M1120.2 229.5h0M1122.6 229.5h0M1125.0 229.5h0M1127.4 229.4h0M1129.8 229.4h0M1132.2 229.4h0M1134.6 229.4h0M1137.0 229.3h0M1139.4 229.3h0M1141.7 229.3h0M1144.1 229.3h0M1146.5 229.2h0M1148.9 229.2h0M1151.3 229.2h0M1153.7 229.2h0M1156.1 229.2h0M1158.5 229.1h0M1160.9 229.1h0M1163.3 229.1h0M1165.7 229.1h0M1168.1 229.1h0M1170.4 229.0h0M1172.8 229.0h0M1175.2 229.0h0M1177.6 229.0h0M1180.0 229.0h0M1182.4 228.9h0M1184.8 228.9h0M1187.2 228.9h0M1189.6 228.9h0M1192.0 228.9h0M1194.4 228.9h0M1196.8 228.8h0M1199.1 228.8h0M1201.5 228.8h0M1203.9 228.8h0M1206.3 228.8h0M732.7 359.7h0M735.1 354.5h0M737.5 349.6h0M739.9 344.9h0M742.3 340.4h0M744.7 336.1h0M747.1 332.0h0M749.5 328.1h0M751.9 324.4h0M754.3 320.8h0M756.7 317.3h0M759.0 314.1h0M761.4 310.9h0M763.8 307.9h0M766.2 304.9h0M768.6 302.1h0M771.0 299.5h0M773.4 296.9h0M775.8 294.4h0M778.2 292.0h0M780.6 289.7h0M783.0 287.5h0M785.4 285.4h0M787.7 283.3h0M790.1 281.3h0M792.5 279.3h0M794.9 277.4h0M797.3 275.5h0M799.7 273.7h0M802.1 272.0h0M804.5 270.3h0M806.9 268.7h0M809.3 267.2h0M811.7 265.8h0M814.1 264.4h0M816.5 263.0h0M818.8 261.8h0M821.2 260.6h0M823.6 259.4h0M826.0 258.3h0M828.4 257.3h0M830.8 256.3h0M833.2 255.4h0M835.6 254.5h0M838.0 253.7h0M840.4 252.9h0M842.8 252.2h0M845.2 251.5h0M847.5 250.9h0M849.9 250.2h0M852.3 249.6h0M854.7 249.1h0M857.1 248.5h0M859.5 248.0h0M861.9 247.5h0M864.3 247.0h0M866.7 246.6h0M869.1 246.1h0M871.5 245.7h0M873.9 245.3h0M876.2 244.9h0M878.6 244.5h0M881.0 244.1h0M883.4 243.8h0M885.8 243.4h0M888.2 243.1h0M890.6 242.8h0M893.0 242.5h0M895.4 242.2h0M897.8 241.9h0M900.2 241.6h0M902.6 241.3h0M905.0 241.1h0M907.3 240.8h0M909.7 240.6h0M912.1 240.3h0M914.5 240.1h0M916.9 239.9h0M919.3 239.7h0M921.7 239.4h0M924.1 239.2h0M926.5 239.0h0M928.9 238.8h0M931.3 238.7h0M933.7 238.5h0M936.0 238.3h0M938.4 238.1h0M940.8 237.9h0M943.2 237.8h0M945.6 237.6h0M948.0 237.4h0M950.4 237.3h0M952.8 237.1h0M955.2 237.0h0M957.6 236.8h0M960.0 236.7h0M962.4 236.6h0M964.7 236.4h0M967.1 236.3h0M969.5 236.2h0M971.9 236.0h0M974.3 235.9h0M976.7 235.8h0M979.1 235.7h0M981.5 235.6h0M983.9 235.5h0M986.3 235.4h0M988.7 235.2h0M991.1 235.1h0M993.4 235.0h0M995.8 234.9h0M998.2 234.8h0M1000.6 234.8h0M1003.0 234.7h0M1005.4 234.6h0M1007.8 234.5h0M1010.2 234.4h0M1012.6 234.3h0M1015.0 234.2h0M1017.4 234.1h0M1019.8 234.1h0M1022.2 234.0h0M1024.5 233.9h0M1026.9 233.8h0M1029.3 233.8h0M1031.7 233.7h0M1034.1 233.6h0M1036.5 233.6h0M1038.9 233.5h0M1041.3 233.4h0M1043.7 233.4h0M1046.1 233.3h0M1048.5 233.2h0M1050.9 233.2h0M1053.2 233.1h0M1055.6 233.1h0M1058.0 233.0h0M1060.4 233.0h0M1062.8 232.9h0M1065.2 232.9h0M1067.6 232.8h0M1070.0 232.8h0M1072.4 232.7h0M1074.8 232.7h0M1077.2 232.6h0M1079.6 232.6h0M1081.9 232.5h0M1084.3 232.5h0M1086.7 232.5h0M1089.1 232.4h0M1091.5 232.4h0M1093.9 232.3h0M1096.3 232.3h0M1098.7 232.3h0M1101.1 232.2h0M1103.5 232.2h0M1105.9 232.2h0M1108.3 232.1h0M1110.7 232.1h0M1113.0 232.1h0M1115.4 232.0h0M1117.8 232.0h0M1120.2 232.0h0M1122.6 231.9h0M1125.0 231.9h0M1127.4 231.9h0M1129.8 231.8h0M1132.2 231.8h0M1134.6 231.8h0M1137.0 231.8h0M1139.4 231.7h0M1141.7 231.7h0M1144.1 231.7h0M1146.5 231.7h0M1148.9 231.6h0M1151.3 231.6h0M1153.7 231.6h0M1156.1 231.6h0M1158.5 231.5h0M1160.9 231.5h0M1163.3 231.5h0M1165.7 231.5h0M1168.1 231.5h0M1170.4 231.4h0M1172.8 231.4h0M1175.2 231.4h0M1177.6 231.4h0M1180.0 231.4h0M1182.4 231.3h0M1184.8 231.3h0M1187.2 231.3h0M1189.6 231.3h0M1192.0 231.3h0M1194.4 231.2h0M1196.8 231.2h0M1199.1 231.2h0M1201.5 231.2h0M1203.9 231.2h0M1206.3 231.2h0M732.7 369.4h0M735.1 363.8h0M737.5 358.4h0M739.9 353.3h0M742.3 348.4h0M744.7 343.8h0M747.1 339.3h0M749.5 335.1h0M751.9 331.1h0M754.3 327.3h0M756.7 323.6h0M759.0 320.1h0M761.4 316.8h0M763.8 313.6h0M766.2 310.5h0M768.6 307.6h0M771.0 304.8h0M773.4 302.1h0M775.8 299.5h0M778.2 297.1h0M780.6 294.7h0M783.0 292.4h0M785.4 290.2h0M787.7 288.1h0M790.1 286.1h0M792.5 284.1h0M794.9 282.2h0M797.3 280.3h0M799.7 278.5h0M802.1 276.8h0M804.5 275.2h0M806.9 273.6h0M809.3 272.1h0M811.7 270.7h0M814.1 269.3h0M816.5 268.0h0M818.8 266.8h0M821.2 265.6h0M823.6 264.4h0M826.0 263.3h0M828.4 262.3h0M830.8 261.3h0M833.2 260.4h0M835.6 259.5h0M838.0 258.7h0M840.4 257.9h0M842.8 257.1h0M845.2 256.4h0M847.5 255.7h0M849.9 255.1h0M852.3 254.4h0M854.7 253.9h0M857.1 253.3h0M859.5 252.8h0M861.9 252.2h0M864.3 251.7h0M866.7 251.3h0M869.1 250.8h0M871.5 250.4h0M873.9 250.0h0M876.2 249.5h0M878.6 249.2h0M881.0 248.8h0M883.4 248.4h0M885.8 248.1h0M888.2 247.7h0M890.6 247.4h0M893.0 247.1h0M895.4 246.8h0M897.8 246.4h0M900.2 246.2h0M902.6 245.9h0M905.0 245.6h0M907.3 245.3h0M909.7 245.1h0M912.1 244.8h0M914.5 244.6h0M916.9 244.3h0M919.3 244.1h0M921.7 243.8h0M924.1 243.6h0M926.5 243.4h0M928.9 243.2h0M931.3 243.0h0M933.7 242.8h0M936.0 242.6h0M938.4 242.4h0M940.8 242.2h0M943.2 242.0h0M945.6 241.8h0M948.0 241.6h0M950.4 241.5h0M952.8 241.3h0M955.2 241.1h0M957.6 240.9h0M960.0 240.8h0M962.4 240.6h0M964.7 240.5h0M967.1 240.3h0M969.5 240.2h0M971.9 240.0h0M974.3 239.9h0M976.7 239.7h0M979.1 239.6h0M981.5 239.5h0M983.9 239.3h0M986.3 239.2h0M988.7 239.1h0M991.1 239.0h0M993.4 238.8h0M995.8 238.7h0M998.2 238.6h0M1000.6 238.5h0M1003.0 238.4h0M1005.4 238.3h0M1007.8 238.2h0M1010.2 238.1h0M1012.6 238.0h0M1015.0 237.9h0M1017.4 237.8h0M1019.8 237.7h0M1022.2 237.6h0M1024.5 237.5h0M1026.9 237.4h0M1029.3 237.3h0M1031.7 237.2h0M1034.1 237.1h0M1036.5 237.0h0M1038.9 236.9h0M1041.3 236.9h0M1043.7 236.8h0M1046.1 236.7h0M1048.5 236.6h0M1050.9 236.5h0M1053.2 236.5h0M1055.6 236.4h0M1058.0 236.3h0M1060.4 236.3h0M1062.8 236.2h0M1065.2 236.1h0M1067.6 236.1h0M1070.0 236.0h0M1072.4 235.9h0M1074.8 235.9h0M1077.2 235.8h0M1079.6 235.8h0M1081.9 235.7h0M1084.3 235.6h0M1086.7 235.6h0M1089.1 235.5h0M1091.5 235.5h0M1093.9 235.4h0M1096.3 235.4h0M1098.7 235.3h0M1101.1 235.3h0M1103.5 235.2h0M1105.9 235.2h0M1108.3 235.1h0M1110.7 235.1h0M1113.0 235.0h0M1115.4 235.0h0M1117.8 234.9h0M1120.2 234.9h0M1122.6 234.9h0M1125.0 234.8h0M1127.4 234.8h0M1129.8 234.7h0M1132.2 234.7h0M1134.6 234.7h0M1137.0 234.6h0M1139.4 234.6h0M1141.7 234.6h0M1144.1 234.5h0M1146.5 234.5h0M1148.9 234.5h0M1151.3 234.4h0M1153.7 234.4h0M1156.1 234.4h0M1158.5 234.3h0M1160.9 234.3h0M1163.3 234.3h0M1165.7 234.2h0M1168.1 234.2h0M1170.4 234.2h0M1172.8 234.1h0M1175.2 234.1h0M1177.6 234.1h0M1180.0 234.1h0M1182.4 234.0h0M1184.8 234.0h0M1187.2 234.0h0M1189.6 234.0h0M1192.0 233.9h0M1194.4 233.9h0M1196.8 233.9h0M1199.1 233.9h0M1201.5 233.8h0M1203.9 233.8h0M1206.3 233.8h0M732.7 376.6h0M735.1 370.7h0M737.5 365.1h0M739.9 359.8h0M742.3 354.7h0M744.7 349.9h0M747.1 345.3h0M749.5 340.9h0M751.9 336.8h0M754.3 332.8h0M756.7 329.1h0M759.0 325.5h0M761.4 322.0h0M763.8 318.8h0M766.2 315.6h0M768.6 312.6h0M771.0 309.8h0M773.4 307.0h0M775.8 304.4h0M778.2 301.9h0M780.6 299.5h0M783.0 297.2h0M785.4 295.0h0M787.7 292.8h0M790.1 290.8h0M792.5 288.8h0M794.9 286.9h0M797.3 285.1h0M799.7 283.3h0M802.1 281.6h0M804.5 280.0h0M806.9 278.4h0M809.3 277.0h0M811.7 275.5h0M814.1 274.2h0M816.5 272.9h0M818.8 271.6h0M821.2 270.4h0M823.6 269.3h0M826.0 268.2h0M828.4 267.2h0M830.8 266.2h0M833.2 265.2h0M835.6 264.3h0M838.0 263.5h0M840.4 262.7h0M842.8 261.9h0M845.2 261.1h0M847.5 260.4h0M849.9 259.8h0M852.3 259.1h0M854.7 258.5h0M857.1 257.9h0M859.5 257.4h0M861.9 256.9h0M864.3 256.3h0M866.7 255.9h0M869.1 255.4h0M871.5 254.9h0M873.9 254.5h0M876.2 254.1h0M878.6 253.7h0M881.0 253.3h0M883.4 252.9h0M885.8 252.6h0M888.2 252.2h0M890.6 251.9h0M893.0 251.5h0M895.4 251.2h0M897.8 250.9h0M900.2 250.6h0M902.6 250.3h0M905.0 250.0h0M907.3 249.7h0M909.7 249.4h0M912.1 249.2h0M914.5 248.9h0M916.9 248.7h0M919.3 248.4h0M921.7 248.2h0M924.1 247.9h0M926.5 247.7h0M928.9 247.4h0M931.3 247.2h0M933.7 247.0h0M936.0 246.8h0M938.4 246.6h0M940.8 246.4h0M943.2 246.1h0M945.6 245.9h0M948.0 245.7h0M950.4 245.6h0M952.8 245.4h0M955.2 245.2h0M957.6 245.0h0M960.0 244.8h0M962.4 244.6h0M964.7 244.5h0M967.1 244.3h0M969.5 244.1h0M971.9 244.0h0M974.3 243.8h0M976.7 243.6h0M979.1 243.5h0M981.5 243.3h0M983.9 243.2h0M986.3 243.0h0M988.7 242.9h0M991.1 242.8h0M993.4 242.6h0M995.8 242.5h0M998.2 242.4h0M1000.6 242.2h0M1003.0 242.1h0M1005.4 242.0h0M1007.8 241.8h0M1010.2 241.7h0M1012.6 241.6h0M1015.0 241.5h0M1017.4 241.4h0M1019.8 241.2h0M1022.2 241.1h0M1024.5 241.0h0M1026.9 240.9h0M1029.3 240.8h0M1031.7 240.7h0M1034.1 240.6h0M1036.5 240.5h0M1038.9 240.4h0M1041.3 240.3h0M1043.7 240.2h0M1046.1 240.1h0M1048.5 240.0h0M1050.9 239.9h0M1053.2 239.8h0M1055.6 239.7h0M1058.0 239.7h0M1060.4 239.6h0M1062.8 239.5h0M1065.2 239.4h0M1067.6 239.3h0M1070.0 239.2h0M1072.4 239.2h0M1074.8 239.1h0M1077.2 239.0h0M1079.6 238.9h0M1081.9 238.9h0M1084.3 238.8h0M1086.7 238.7h0M1089.1 238.6h0M1091.5 238.6h0M1093.9 238.5h0M1096.3 238.4h0M1098.7 238.4h0M1101.1 238.3h0M1103.5 238.3h0M1105.9 238.2h0M1108.3 238.1h0M1110.7 238.1h0M1113.0 238.0h0M1115.4 238.0h0M1117.8 237.9h0M1120.2 237.9h0M1122.6 237.8h0M1125.0 237.8h0M1127.4 237.7h0M1129.8 237.7h0M1132.2 237.6h0M1134.6 237.6h0M1137.0 237.5h0M1139.4 237.5h0M1141.7 237.4h0M1144.1 237.4h0M1146.5 237.3h0M1148.9 237.3h0M1151.3 237.2h0M1153.7 237.2h0M1156.1 237.2h0M1158.5 237.1h0M1160.9 237.1h0M1163.3 237.0h0M1165.7 237.0h0M1168.1 237.0h0M1170.4 236.9h0M1172.8 236.9h0M1175.2 236.9h0M1177.6 236.8h0M1180.0 236.8h0M1182.4 236.7h0M1184.8 236.7h0M1187.2 236.7h0M1189.6 236.7h0M1192.0 236.6h0M1194.4 236.6h0M1196.8 236.6h0M1199.1 236.5h0M1201.5 236.5h0M1203.9 236.5h0M1206.3 236.4h0M732.7 383.9h0M735.1 377.7h0M737.5 371.9h0M739.9 366.3h0M742.3 361.1h0M744.7 356.1h0M747.1 351.3h0M749.5 346.8h0M751.9 342.5h0M754.3 338.4h0M756.7 334.5h0M759.0 330.8h0M761.4 327.3h0M763.8 323.9h0M766.2 320.7h0M768.6 317.7h0M771.0 314.7h0M773.4 311.9h0M775.8 309.3h0M778.2 306.7h0M780.6 304.3h0M783.0 301.9h0M785.4 299.7h0M787.7 297.6h0M790.1 295.5h0M792.5 293.5h0M794.9 291.6h0M797.3 289.8h0M799.7 288.0h0M802.1 286.4h0M804.5 284.8h0M806.9 283.2h0M809.3 281.8h0M811.7 280.3h0M814.1 279.0h0M816.5 277.7h0M818.8 276.5h0M821.2 275.3h0M823.6 274.1h0M826.0 273.1h0M828.4 272.0h0M830.8 271.0h0M833.2 270.1h0M835.6 269.1h0M838.0 268.3h0M840.4 267.4h0M842.8 266.6h0M845.2 265.9h0M847.5 265.1h0M849.9 264.5h0M852.3 263.8h0M854.7 263.2h0M857.1 262.6h0M859.5 262.1h0M861.9 261.5h0M864.3 261.0h0M866.7 260.5h0M869.1 260.1h0M871.5 259.6h0M873.9 259.2h0M876.2 258.8h0M878.6 258.4h0M881.0 258.0h0M883.4 257.6h0M885.8 257.2h0M888.2 256.9h0M890.6 256.5h0M893.0 256.2h0M895.4 255.9h0M897.8 255.6h0M900.2 255.2h0M902.6 254.9h0M905.0 254.6h0M907.3 254.3h0M909.7 254.1h0M912.1 253.8h0M914.5 253.5h0M916.9 253.2h0M919.3 253.0h0M921.7 252.7h0M924.1 252.5h0M926.5 252.2h0M928.9 252.0h0M931.3 251.7h0M933.7 251.5h0M936.0 251.2h0M938.4 251.0h0M940.8 250.8h0M943.2 250.6h0M945.6 250.3h0M948.0 250.1h0M950.4 249.9h0M952.8 249.7h0M955.2 249.5h0M957.6 249.3h0M960.0 249.1h0M962.4 248.9h0M964.7 248.7h0M967.1 248.5h0M969.5 248.3h0M971.9 248.1h0M974.3 247.9h0M976.7 247.8h0M979.1 247.6h0M981.5 247.4h0M983.9 247.2h0M986.3 247.1h0M988.7 246.9h0M991.1 246.7h0M993.4 246.6h0M995.8 246.4h0M998.2 246.3h0M1000.6 246.1h0M1003.0 246.0h0M1005.4 245.8h0M1007.8 245.7h0M1010.2 245.5h0M1012.6 245.4h0M1015.0 245.3h0M1017.4 245.1h0M1019.8 245.0h0M1022.2 244.8h0M1024.5 244.7h0M1026.9 244.6h0M1029.3 244.5h0M1031.7 244.3h0M1034.1 244.2h0M1036.5 244.1h0M1038.9 244.0h0M1041.3 243.8h0M1043.7 243.7h0M1046.1 243.6h0M1048.5 243.5h0M1050.9 243.3h0M1053.2 243.2h0M1055.6 243.1h0M1058.0 243.0h0M1060.4 242.9h0M1062.8 242.8h0M1065.2 242.7h0M1067.6 242.6h0M1070.0 242.5h0M1072.4 242.4h0M1074.8 242.3h0M1077.2 242.2h0M1079.6 242.1h0M1081.9 242.0h0M1084.3 241.9h0M1086.7 241.8h0M1089.1 241.7h0M1091.5 241.6h0M1093.9 241.5h0M1096.3 241.4h0M1098.7 241.3h0M1101.1 241.2h0M1103.5 241.1h0M1105.9 241.1h0M1108.3 241.0h0M1110.7 240.9h0M1113.0 240.8h0M1115.4 240.8h0M1117.8 240.7h0M1120.2 240.6h0M1122.6 240.5h0M1125.0 240.5h0M1127.4 240.4h0M1129.8 240.3h0M1132.2 240.3h0M1134.6 240.2h0M1137.0 240.1h0M1139.4 240.1h0M1141.7 240.0h0M1144.1 239.9h0M1146.5 239.9h0M1148.9 239.8h0M1151.3 239.8h0M1153.7 239.7h0M1156.1 239.7h0M1158.5 239.6h0M1160.9 239.5h0M1163.3 239.5h0M1165.7 239.4h0M1168.1 239.4h0M1170.4 239.3h0M1172.8 239.3h0M1175.2 239.2h0M1177.6 239.2h0M1180.0 239.1h0M1182.4 239.1h0M1184.8 239.1h0M1187.2 239.0h0M1189.6 239.0h0M1192.0 238.9h0M1194.4 238.9h0M1196.8 238.8h0M1199.1 238.8h0M1201.5 238.8h0M1203.9 238.7h0M1206.3 238.7h0M732.7 391.2h0M735.1 384.8h0M737.5 378.8h0M739.9 373.1h0M742.3 367.6h0M744.7 362.5h0M747.1 357.6h0M749.5 352.9h0M751.9 348.4h0M754.3 344.2h0M756.7 340.2h0M759.0 336.3h0M761.4 332.7h0M763.8 329.2h0M766.2 325.9h0M768.6 322.7h0M771.0 319.6h0M773.4 316.7h0M775.8 314.0h0M778.2 311.3h0M780.6 308.8h0M783.0 306.3h0M785.4 304.0h0M787.7 301.8h0M790.1 299.6h0M792.5 297.5h0M794.9 295.5h0M797.3 293.6h0M799.7 291.8h0M802.1 290.0h0M804.5 288.3h0M806.9 286.7h0M809.3 285.2h0M811.7 283.7h0M814.1 282.3h0M816.5 280.9h0M818.8 279.6h0M821.2 278.4h0M823.6 277.2h0M826.0 276.1h0M828.4 275.0h0M830.8 273.9h0M833.2 273.0h0M835.6 272.0h0M838.0 271.1h0M840.4 270.2h0M842.8 269.4h0M845.2 268.6h0M847.5 267.9h0M849.9 267.2h0M852.3 266.5h0M854.7 265.9h0M857.1 265.3h0M859.5 264.8h0M861.9 264.3h0M864.3 263.8h0M866.7 263.3h0M869.1 262.8h0M871.5 262.4h0M873.9 261.9h0M876.2 261.5h0M878.6 261.1h0M881.0 260.8h0M883.4 260.4h0M885.8 260.0h0M888.2 259.7h0M890.6 259.3h0M893.0 259.0h0M895.4 258.7h0M897.8 258.4h0M900.2 258.0h0M902.6 257.7h0M905.0 257.4h0M907.3 257.2h0M909.7 256.9h0M912.1 256.6h0M914.5 256.3h0M916.9 256.0h0M919.3 255.8h0M921.7 255.5h0M924.1 255.3h0M926.5 255.0h0M928.9 254.8h0M931.3 254.5h0M933.7 254.3h0M936.0 254.0h0M938.4 253.8h0M940.8 253.6h0M943.2 253.3h0M945.6 253.1h0M948.0 252.9h0M950.4 252.7h0M952.8 252.5h0M955.2 252.2h0M957.6 252.0h0M960.0 251.8h0M962.4 251.6h0M964.7 251.4h0M967.1 251.2h0M969.5 251.0h0M971.9 250.8h0M974.3 250.6h0M976.7 250.5h0M979.1 250.3h0M981.5 250.1h0M983.9 249.9h0M986.3 249.7h0M988.7 249.6h0M991.1 249.4h0M993.4 249.2h0M995.8 249.0h0M998.2 248.9h0M1000.6 248.7h0M1003.0 248.6h0M1005.4 248.4h0M1007.8 248.2h0M1010.2 248.1h0M1012.6 247.9h0M1015.0 247.8h0M1017.4 247.6h0M1019.8 247.5h0M1022.2 247.4h0M1024.5 247.2h0M1026.9 247.1h0M1029.3 246.9h0M1031.7 246.8h0M1034.1 246.7h0M1036.5 246.5h0M1038.9 246.4h0M1041.3 246.3h0M1043.7 246.1h0M1046.1 246.0h0M1048.5 245.9h0M1050.9 245.7h0M1053.2 245.6h0M1055.6 245.5h0M1058.0 245.3h0M1060.4 245.2h0M1062.8 245.1h0M1065.2 245.0h0M1067.6 244.8h0M1070.0 244.7h0M1072.4 244.6h0M1074.8 244.5h0M1077.2 244.4h0M1079.6 244.3h0M1081.9 244.1h0M1084.3 244.0h0M1086.7 243.9h0M1089.1 243.8h0M1091.5 243.7h0M1093.9 243.6h0M1096.3 243.5h0M1098.7 243.4h0M1101.1 243.3h0M1103.5 243.2h0M1105.9 243.1h0M1108.3 243.0h0M1110.7 243.0h0M1113.0 242.9h0M1115.4 242.8h0M1117.8 242.7h0M1120.2 242.6h0M1122.6 242.5h0M1125.0 242.4h0M1127.4 242.4h0M1129.8 242.3h0M1132.2 242.2h0M1134.6 242.1h0M1137.0 242.1h0M1139.4 242.0h0M1141.7 241.9h0M1144.1 241.8h0M1146.5 241.8h0M1148.9 241.7h0M1151.3 241.6h0M1153.7 241.6h0M1156.1 241.5h0M1158.5 241.4h0M1160.9 241.4h0M1163.3 241.3h0M1165.7 241.3h0M1168.1 241.2h0M1170.4 241.2h0M1172.8 241.1h0M1175.2 241.0h0M1177.6 241.0h0M1180.0 240.9h0M1182.4 240.9h0M1184.8 240.8h0M1187.2 240.8h0M1189.6 240.7h0M1192.0 240.7h0M1194.4 240.6h0M1196.8 240.6h0M1199.1 240.5h0M1201.5 240.5h0M1203.9 240.5h0M1206.3 240.4h0M732.7 397.1h0M735.1 390.9h0M737.5 385.1h0M739.9 379.6h0M742.3 374.5h0M744.7 369.6h0M747.1 365.0h0M749.5 360.7h0M751.9 356.6h0M754.3 352.7h0M756.7 349.1h0M759.0 345.6h0M761.4 342.4h0M763.8 339.4h0M766.2 336.6h0M768.6 334.0h0M771.0 331.5h0M773.4 329.1h0M775.8 326.8h0M778.2 324.5h0M780.6 322.3h0M783.0 320.0h0M785.4 317.7h0M787.7 315.4h0M790.1 313.1h0M792.5 311.0h0M794.9 309.0h0M797.3 307.2h0M799.7 305.6h0M802.1 304.0h0M804.5 302.6h0M806.9 301.2h0M809.3 299.9h0M811.7 298.7h0M814.1 297.5h0M816.5 296.5h0M818.8 295.5h0M821.2 294.5h0M823.6 293.6h0M826.0 292.7h0M828.4 291.9h0M830.8 291.1h0M833.2 290.4h0M835.6 289.8h0M838.0 289.1h0M840.4 288.5h0M842.8 288.0h0M845.2 287.5h0M847.5 287.1h0M849.9 286.6h0M852.3 286.2h0M854.7 285.8h0M857.1 285.5h0M859.5 285.2h0M861.9 284.9h0M864.3 284.6h0M866.7 284.3h0M869.1 284.1h0M871.5 283.9h0M873.9 283.7h0M876.2 283.5h0M878.6 283.3h0M881.0 283.1h0M883.4 282.9h0M885.8 282.8h0M888.2 282.6h0M890.6 282.5h0M893.0 282.3h0M895.4 282.2h0M897.8 282.1h0M900.2 282.0h0M902.6 281.9h0M905.0 281.8h0M907.3 281.7h0M909.7 281.6h0M912.1 281.5h0M914.5 281.5h0M916.9 281.4h0M919.3 281.3h0M921.7 281.3h0M924.1 281.2h0M926.5 281.2h0M928.9 281.1h0M931.3 281.1h0M933.7 281.0h0M936.0 281.0h0M938.4 280.9h0M940.8 280.9h0M943.2 280.8h0M945.6 280.8h0M948.0 280.8h0M950.4 280.7h0M952.8 280.7h0M955.2 280.6h0M957.6 280.6h0M960.0 280.6h0M962.4 280.6h0M964.7 280.5h0M967.1 280.5h0M969.5 280.5h0M971.9 280.5h0M974.3 280.4h0M976.7 280.4h0M979.1 280.4h0M981.5 280.4h0M983.9 280.4h0M986.3 280.3h0M988.7 280.3h0M991.1 280.3h0M993.4 280.3h0M995.8 280.3h0M998.2 280.3h0M1000.6 280.3h0M1003.0 280.3h0M1005.4 280.3h0M1007.8 280.3h0M1010.2 280.3h0M1012.6 280.3h0M1015.0 280.3h0M1017.4 280.3h0M1019.8 280.2h0M1022.2 280.2h0M1024.5 280.2h0M1026.9 280.2h0M1029.3 280.2h0M1031.7 280.2h0M1034.1 280.2h0M1036.5 280.2h0M1038.9 280.2h0M1041.3 280.2h0M1043.7 280.2h0M1046.1 280.2h0M1048.5 280.2h0M1050.9 280.2h0M1053.2 280.2h0M1055.6 280.2h0M1058.0 280.2h0M1060.4 280.2h0M1062.8 280.2h0M1065.2 280.2h0M1067.6 280.2h0M1070.0 280.2h0M1072.4 280.2h0M1074.8 280.2h0M1077.2 280.2h0M1079.6 280.2h0M1081.9 280.2h0M1084.3 280.2h0M1086.7 280.2h0M1089.1 280.2h0M1091.5 280.2h0M1093.9 280.2h0M1096.3 280.2h0M1098.7 280.2h0M1101.1 280.2h0M1103.5 280.2h0M1105.9 280.2h0M1108.3 280.2h0M1110.7 280.2h0M1113.0 280.2h0M1115.4 280.2h0M1117.8 280.2h0M1120.2 280.2h0M1122.6 280.2h0M1125.0 280.2h0M1127.4 280.2h0M1129.8 280.2h0M1132.2 280.2h0M1134.6 280.2h0M1137.0 280.2h0M1139.4 280.2h0M1141.7 280.2h0M1144.1 280.2h0M1146.5 280.2h0M1148.9 280.2h0M1151.3 280.2h0M1153.7 280.2h0M1156.1 280.2h0M1158.5 280.2h0M1160.9 280.2h0M1163.3 280.2h0M1165.7 280.2h0M1168.1 280.2h0M1170.4 280.2h0M1172.8 280.2h0M1175.2 280.2h0M1177.6 280.2h0M1180.0 280.2h0M1182.4 280.2h0M1184.8 280.2h0M1187.2 280.2h0M1189.6 280.2h0M1192.0 280.2h0M1194.4 280.2h0M1196.8 280.2h0M1199.1 280.2h0M1201.5 280.2h0M1203.9 280.2h0M1206.3 280.2h0M732.7 408.0h0M735.1 400.9h0M737.5 394.3h0M739.9 388.2h0M742.3 382.4h0M744.7 377.0h0M747.1 371.9h0M749.5 367.2h0M751.9 362.7h0M754.3 358.5h0M756.7 354.6h0M759.0 351.0h0M761.4 347.5h0M763.8 344.4h0M766.2 341.6h0M768.6 338.9h0M771.0 336.4h0M773.4 334.0h0M775.8 331.7h0M778.2 329.4h0M780.6 327.1h0M783.0 324.8h0M785.4 322.5h0M787.7 320.0h0M790.1 317.7h0M792.5 315.4h0M794.9 313.4h0M797.3 311.5h0M799.7 309.9h0M802.1 308.3h0M804.5 306.8h0M806.9 305.4h0M809.3 304.0h0M811.7 302.8h0M814.1 301.6h0M816.5 300.5h0M818.8 299.4h0M821.2 298.4h0M823.6 297.5h0M826.0 296.6h0M828.4 295.7h0M830.8 294.9h0M833.2 294.2h0M835.6 293.4h0M838.0 292.8h0M840.4 292.2h0M842.8 291.6h0M845.2 291.1h0M847.5 290.6h0M849.9 290.1h0M852.3 289.7h0M854.7 289.3h0M857.1 288.9h0M859.5 288.5h0M861.9 288.2h0M864.3 287.9h0M866.7 287.6h0M869.1 287.4h0M871.5 287.1h0M873.9 286.9h0M876.2 286.7h0M878.6 286.5h0M881.0 286.3h0M883.4 286.1h0M885.8 286.0h0M888.2 285.8h0M890.6 285.6h0M893.0 285.5h0M895.4 285.4h0M897.8 285.2h0M900.2 285.1h0M902.6 285.0h0M905.0 284.9h0M907.3 284.8h0M909.7 284.7h0M912.1 284.6h0M914.5 284.5h0M916.9 284.4h0M919.3 284.4h0M921.7 284.3h0M924.1 284.2h0M926.5 284.2h0M928.9 284.1h0M931.3 284.1h0M933.7 284.0h0M936.0 284.0h0M938.4 283.9h0M940.8 283.9h0M943.2 283.8h0M945.6 283.8h0M948.0 283.7h0M950.4 283.7h0M952.8 283.7h0M955.2 283.6h0M957.6 283.6h0M960.0 283.6h0M962.4 283.5h0M964.7 283.5h0M967.1 283.5h0M969.5 283.4h0M971.9 283.4h0M974.3 283.4h0M976.7 283.4h0M979.1 283.3h0M981.5 283.3h0M983.9 283.3h0M986.3 283.2h0M988.7 283.2h0M991.1 283.2h0M993.4 283.2h0M995.8 283.1h0M998.2 283.1h0M1000.6 283.1h0M1003.0 283.1h0M1005.4 283.1h0M1007.8 283.0h0M1010.2 283.0h0M1012.6 283.0h0M1015.0 283.0h0M1017.4 282.9h0M1019.8 282.9h0M1022.2 282.9h0M1024.5 282.9h0M1026.9 282.9h0M1029.3 282.8h0M1031.7 282.8h0M1034.1 282.8h0M1036.5 282.8h0M1038.9 282.8h0M1041.3 282.8h0M1043.7 282.7h0M1046.1 282.7h0M1048.5 282.7h0M1050.9 282.7h0M1053.2 282.7h0M1055.6 282.7h0M1058.0 282.6h0M1060.4 282.6h0M1062.8 282.6h0M1065.2 282.6h0M1067.6 282.6h0M1070.0 282.6h0M1072.4 282.6h0M1074.8 282.5h0M1077.2 282.5h0M1079.6 282.5h0M1081.9 282.5h0M1084.3 282.5h0M1086.7 282.5h0M1089.1 282.5h0M1091.5 282.5h0M1093.9 282.4h0M1096.3 282.4h0M1098.7 282.4h0M1101.1 282.4h0M1103.5 282.4h0M1105.9 282.4h0M1108.3 282.4h0M1110.7 282.4h0M1113.0 282.4h0M1115.4 282.4h0M1117.8 282.3h0M1120.2 282.3h0M1122.6 282.3h0M1125.0 282.3h0M1127.4 282.3h0M1129.8 282.3h0M1132.2 282.3h0M1134.6 282.3h0M1137.0 282.3h0M1139.4 282.3h0M1141.7 282.3h0M1144.1 282.3h0M1146.5 282.2h0M1148.9 282.2h0M1151.3 282.2h0M1153.7 282.2h0M1156.1 282.2h0M1158.5 282.2h0M1160.9 282.2h0M1163.3 282.2h0M1165.7 282.2h0M1168.1 282.2h0M1170.4 282.2h0M1172.8 282.2h0M1175.2 282.2h0M1177.6 282.2h0M1180.0 282.2h0M1182.4 282.1h0M1184.8 282.1h0M1187.2 282.1h0M1189.6 282.1h0M1192.0 282.1h0M1194.4 282.1h0M1196.8 282.1h0M1199.1 282.1h0M1201.5 282.1h0M1203.9 282.1h0M1206.3 282.1h0M732.7 422.5h0M735.1 414.7h0M737.5 407.5h0M739.9 400.7h0M742.3 394.3h0M744.7 388.3h0M747.1 382.7h0M749.5 377.5h0M751.9 372.6h0M754.3 368.0h0M756.7 363.7h0M759.0 359.7h0M761.4 355.9h0M763.8 352.5h0M766.2 349.4h0M768.6 346.4h0M771.0 343.7h0M773.4 341.0h0M775.8 338.5h0M778.2 335.9h0M780.6 333.4h0M783.0 330.9h0M785.4 328.4h0M787.7 325.8h0M790.1 323.3h0M792.5 320.9h0M794.9 318.7h0M797.3 316.8h0M799.7 314.9h0M802.1 313.3h0M804.5 311.7h0M806.9 310.2h0M809.3 308.7h0M811.7 307.4h0M814.1 306.1h0M816.5 305.0h0M818.8 303.8h0M821.2 302.8h0M823.6 301.7h0M826.0 300.8h0M828.4 299.8h0M830.8 299.0h0M833.2 298.1h0M835.6 297.4h0M838.0 296.6h0M840.4 296.0h0M842.8 295.3h0M845.2 294.7h0M847.5 294.2h0M849.9 293.6h0M852.3 293.1h0M854.7 292.6h0M857.1 292.2h0M859.5 291.8h0M861.9 291.4h0M864.3 291.0h0M866.7 290.7h0M869.1 290.4h0M871.5 290.1h0M873.9 289.8h0M876.2 289.6h0M878.6 289.3h0M881.0 289.1h0M883.4 288.9h0M885.8 288.7h0M888.2 288.5h0M890.6 288.3h0M893.0 288.1h0M895.4 287.9h0M897.8 287.8h0M900.2 287.6h0M902.6 287.5h0M905.0 287.4h0M907.3 287.2h0M909.7 287.1h0M912.1 287.0h0M914.5 286.9h0M916.9 286.8h0M919.3 286.7h0M921.7 286.6h0M924.1 286.6h0M926.5 286.5h0M928.9 286.4h0M931.3 286.3h0M933.7 286.3h0M936.0 286.2h0M938.4 286.2h0M940.8 286.1h0M943.2 286.0h0M945.6 286.0h0M948.0 285.9h0M950.4 285.9h0M952.8 285.8h0M955.2 285.8h0M957.6 285.8h0M960.0 285.7h0M962.4 285.7h0M964.7 285.6h0M967.1 285.6h0M969.5 285.6h0M971.9 285.5h0M974.3 285.5h0M976.7 285.5h0M979.1 285.4h0M981.5 285.4h0M983.9 285.4h0M986.3 285.3h0M988.7 285.3h0M991.1 285.3h0M993.4 285.2h0M995.8 285.2h0M998.2 285.2h0M1000.6 285.1h0M1003.0 285.1h0M1005.4 285.1h0M1007.8 285.1h0M1010.2 285.0h0M1012.6 285.0h0M1015.0 285.0h0M1017.4 284.9h0M1019.8 284.9h0M1022.2 284.9h0M1024.5 284.9h0M1026.9 284.8h0M1029.3 284.8h0M1031.7 284.8h0M1034.1 284.8h0M1036.5 284.7h0M1038.9 284.7h0M1041.3 284.7h0M1043.7 284.7h0M1046.1 284.6h0M1048.5 284.6h0M1050.9 284.6h0M1053.2 284.6h0M1055.6 284.6h0M1058.0 284.5h0M1060.4 284.5h0M1062.8 284.5h0M1065.2 284.5h0M1067.6 284.5h0M1070.0 284.4h0M1072.4 284.4h0M1074.8 284.4h0M1077.2 284.4h0M1079.6 284.4h0M1081.9 284.4h0M1084.3 284.3h0M1086.7 284.3h0M1089.1 284.3h0M1091.5 284.3h0M1093.9 284.3h0M1096.3 284.3h0M1098.7 284.3h0M1101.1 284.2h0M1103.5 284.2h0M1105.9 284.2h0M1108.3 284.2h0M1110.7 284.2h0M1113.0 284.2h0M1115.4 284.2h0M1117.8 284.1h0M1120.2 284.1h0M1122.6 284.1h0M1125.0 284.1h0M1127.4 284.1h0M1129.8 284.1h0M1132.2 284.1h0M1134.6 284.1h0M1137.0 284.1h0M1139.4 284.0h0M1141.7 284.0h0M1144.1 284.0h0M1146.5 284.0h0M1148.9 284.0h0M1151.3 284.0h0M1153.7 284.0h0M1156.1 284.0h0M1158.5 284.0h0M1160.9 284.0h0M1163.3 283.9h0M1165.7 283.9h0M1168.1 283.9h0M1170.4 283.9h0M1172.8 283.9h0M1175.2 283.9h0M1177.6 283.9h0M1180.0 283.9h0M1182.4 283.9h0M1184.8 283.9h0M1187.2 283.9h0M1189.6 283.9h0M1192.0 283.9h0M1194.4 283.8h0M1196.8 283.8h0M1199.1 283.8h0M1201.5 283.8h0M1203.9 283.8h0M1206.3 283.8h0M732.7 456.0h0M735.1 450.9h0M737.5 445.6h0M739.9 440.1h0M742.3 434.4h0M744.7 428.6h0M747.1 422.3h0M749.5 416.0h0M751.9 409.8h0M754.3 404.1h0M756.7 398.9h0M759.0 394.0h0M761.4 389.3h0M763.8 384.9h0M766.2 380.8h0M768.6 376.9h0M771.0 373.4h0M773.4 370.2h0M775.8 367.3h0M778.2 364.6h0M780.6 362.0h0M783.0 359.6h0M785.4 357.2h0M787.7 354.9h0M790.1 352.7h0M792.5 350.5h0M794.9 348.4h0M797.3 346.4h0M799.7 344.5h0M802.1 342.6h0M804.5 340.8h0M806.9 339.1h0M809.3 337.5h0M811.7 335.9h0M814.1 334.3h0M816.5 332.9h0M818.8 331.5h0M821.2 330.1h0M823.6 328.8h0M826.0 327.6h0M828.4 326.4h0M830.8 325.3h0M833.2 324.2h0M835.6 323.1h0M838.0 322.1h0M840.4 321.1h0M842.8 320.1h0M845.2 319.2h0M847.5 318.4h0M849.9 317.5h0M852.3 316.7h0M854.7 315.9h0M857.1 315.2h0M859.5 314.5h0M861.9 313.8h0M864.3 313.2h0M866.7 312.5h0M869.1 311.9h0M871.5 311.3h0M873.9 310.7h0M876.2 310.2h0M878.6 309.6h0M881.0 309.1h0M883.4 308.6h0M885.8 308.1h0M888.2 307.6h0M890.6 307.1h0M893.0 306.7h0M895.4 306.2h0M897.8 305.8h0M900.2 305.3h0M902.6 304.9h0M905.0 304.5h0M907.3 304.1h0M909.7 303.7h0M912.1 303.3h0M914.5 302.9h0M916.9 302.5h0M919.3 302.1h0M921.7 301.8h0M924.1 301.4h0M926.5 301.0h0M928.9 300.7h0M931.3 300.4h0M933.7 300.0h0M936.0 299.7h0M938.4 299.4h0M940.8 299.1h0M943.2 298.8h0M945.6 298.5h0M948.0 298.2h0M950.4 298.0h0M952.8 297.7h0M955.2 297.4h0M957.6 297.2h0M960.0 296.9h0M962.4 296.7h0M964.7 296.5h0M967.1 296.3h0M969.5 296.0h0M971.9 295.8h0M974.3 295.6h0M976.7 295.4h0M979.1 295.3h0M981.5 295.1h0M983.9 294.9h0M986.3 294.7h0M988.7 294.6h0M991.1 294.4h0M993.4 294.2h0M995.8 294.1h0M998.2 293.9h0M1000.6 293.8h0M1003.0 293.7h0M1005.4 293.5h0M1007.8 293.4h0M1010.2 293.3h0M1012.6 293.2h0M1015.0 293.0h0M1017.4 292.9h0M1019.8 292.8h0M1022.2 292.7h0M1024.5 292.6h0M1026.9 292.5h0M1029.3 292.4h0M1031.7 292.3h0M1034.1 292.2h0M1036.5 292.1h0M1038.9 292.1h0M1041.3 292.0h0M1043.7 291.9h0M1046.1 291.8h0M1048.5 291.7h0M1050.9 291.7h0M1053.2 291.6h0M1055.6 291.5h0M1058.0 291.4h0M1060.4 291.4h0M1062.8 291.3h0M1065.2 291.2h0M1067.6 291.2h0M1070.0 291.1h0M1072.4 291.1h0M1074.8 291.0h0M1077.2 291.0h0M1079.6 290.9h0M1081.9 290.8h0M1084.3 290.8h0M1086.7 290.7h0M1089.1 290.7h0M1091.5 290.6h0M1093.9 290.6h0M1096.3 290.6h0M1098.7 290.5h0M1101.1 290.5h0M1103.5 290.4h0M1105.9 290.4h0M1108.3 290.3h0M1110.7 290.3h0M1113.0 290.3h0M1115.4 290.2h0M1117.8 290.2h0M1120.2 290.1h0M1122.6 290.1h0M1125.0 290.1h0M1127.4 290.0h0M1129.8 290.0h0M1132.2 290.0h0M1134.6 289.9h0M1137.0 289.9h0M1139.4 289.9h0M1141.7 289.8h0M1144.1 289.8h0M1146.5 289.8h0M1148.9 289.8h0M1151.3 289.7h0M1153.7 289.7h0M1156.1 289.7h0M1158.5 289.7h0M1160.9 289.6h0M1163.3 289.6h0M1165.7 289.6h0M1168.1 289.6h0M1170.4 289.5h0M1172.8 289.5h0M1175.2 289.5h0M1177.6 289.5h0M1180.0 289.4h0M1182.4 289.4h0M1184.8 289.4h0M1187.2 289.4h0M1189.6 289.4h0M1192.0 289.3h0M1194.4 289.3h0M1196.8 289.3h0M1199.1 289.3h0M1201.5 289.3h0M1203.9 289.2h0M1206.3 289.2h0M732.7 486.8h0M735.1 478.5h0M737.5 470.8h0M739.9 463.5h0M742.3 456.6h0M744.7 450.2h0M747.1 444.4h0M749.5 439.0h0M751.9 433.9h0M754.3 428.8h0M756.7 423.7h0M759.0 418.8h0M761.4 414.3h0M763.8 410.1h0M766.2 406.2h0M768.6 402.6h0M771.0 399.1h0M773.4 395.9h0M775.8 392.8h0M778.2 389.9h0M780.6 387.1h0M783.0 384.5h0M785.4 382.0h0M787.7 379.6h0M790.1 377.3h0M792.5 375.0h0M794.9 372.9h0M797.3 370.9h0M799.7 369.0h0M802.1 367.1h0M804.5 365.3h0M806.9 363.6h0M809.3 361.9h0M811.7 360.4h0M814.1 358.9h0M816.5 357.4h0M818.8 356.0h0M821.2 354.6h0M823.6 353.3h0M826.0 352.0h0M828.4 350.7h0M830.8 349.5h0M833.2 348.2h0M835.6 347.0h0M838.0 345.8h0M840.4 344.6h0M842.8 343.4h0M845.2 342.3h0M847.5 341.1h0M849.9 340.0h0M852.3 339.0h0M854.7 337.9h0M857.1 336.9h0M859.5 335.9h0M861.9 334.9h0M864.3 334.0h0M866.7 333.1h0M869.1 332.2h0M871.5 331.3h0M873.9 330.4h0M876.2 329.6h0M878.6 328.8h0M881.0 328.0h0M883.4 327.2h0M885.8 326.5h0M888.2 325.7h0M890.6 325.0h0M893.0 324.3h0M895.4 323.6h0M897.8 322.9h0M900.2 322.3h0M902.6 321.7h0M905.0 321.1h0M907.3 320.5h0M909.7 319.9h0M912.1 319.3h0M914.5 318.7h0M916.9 318.2h0M919.3 317.7h0M921.7 317.2h0M924.1 316.7h0M926.5 316.2h0M928.9 315.7h0M931.3 315.2h0M933.7 314.8h0M936.0 314.3h0M938.4 313.9h0M940.8 313.5h0M943.2 313.1h0M945.6 312.7h0M948.0 312.3h0M950.4 311.9h0M952.8 311.5h0M955.2 311.2h0M957.6 310.8h0M960.0 310.5h0M962.4 310.1h0M964.7 309.8h0M967.1 309.4h0M969.5 309.1h0M971.9 308.8h0M974.3 308.5h0M976.7 308.2h0M979.1 307.9h0M981.5 307.6h0M983.9 307.3h0M986.3 307.1h0M988.7 306.8h0M991.1 306.5h0M993.4 306.3h0M995.8 306.0h0M998.2 305.8h0M1000.6 305.5h0M1003.0 305.3h0M1005.4 305.1h0M1007.8 304.8h0M1010.2 304.6h0M1012.6 304.4h0M1015.0 304.2h0M1017.4 304.0h0M1019.8 303.8h0M1022.2 303.6h0M1024.5 303.4h0M1026.9 303.2h0M1029.3 303.0h0M1031.7 302.8h0M1034.1 302.6h0M1036.5 302.5h0M1038.9 302.3h0M1041.3 302.1h0M1043.7 302.0h0M1046.1 301.8h0M1048.5 301.6h0M1050.9 301.5h0M1053.2 301.3h0M1055.6 301.2h0M1058.0 301.0h0M1060.4 300.9h0M1062.8 300.7h0M1065.2 300.6h0M1067.6 300.5h0M1070.0 300.3h0M1072.4 300.2h0M1074.8 300.1h0M1077.2 299.9h0M1079.6 299.8h0M1081.9 299.7h0M1084.3 299.6h0M1086.7 299.5h0M1089.1 299.3h0M1091.5 299.2h0M1093.9 299.1h0M1096.3 299.0h0M1098.7 298.9h0M1101.1 298.8h0M1103.5 298.7h0M1105.9 298.6h0M1108.3 298.5h0M1110.7 298.4h0M1113.0 298.3h0M1115.4 298.2h0M1117.8 298.1h0M1120.2 298.0h0M1122.6 297.9h0M1125.0 297.9h0M1127.4 297.8h0M1129.8 297.7h0M1132.2 297.6h0M1134.6 297.5h0M1137.0 297.5h0M1139.4 297.4h0M1141.7 297.3h0M1144.1 297.2h0M1146.5 297.2h0M1148.9 297.1h0M1151.3 297.0h0M1153.7 296.9h0M1156.1 296.9h0M1158.5 296.8h0M1160.9 296.7h0M1163.3 296.7h0M1165.7 296.6h0M1168.1 296.6h0M1170.4 296.5h0M1172.8 296.4h0M1175.2 296.4h0M1177.6 296.3h0M1180.0 296.3h0M1182.4 296.2h0M1184.8 296.2h0M1187.2 296.1h0M1189.6 296.1h0M1192.0 296.0h0M1194.4 296.0h0M1196.8 295.9h0M1199.1 295.9h0M1201.5 295.8h0M1203.9 295.8h0M1206.3 295.7h0" stroke="#808080" stroke-width="2.9" stroke-linecap="round" fill="none"/>
<path d="M732.7 171.2h0M735.1 171.2h0M737.5 171.2h0M739.9 171.2h0M742.3 171.2h0M744.7 171.2h0M747.1 171.2h0M749.5 171.2h0M751.9 171.2h0M754.3 171.2h0M756.7 171.2h0M759.0 171.2h0M761.4 171.2h0M763.8 171.2h0M766.2 171.2h0M768.6 171.2h0M771.0 171.2h0M773.4 171.2h0M775.8 171.2h0M778.2 171.2h0M780.6 171.2h0M783.0 171.2h0M785.4 171.2h0M787.7 171.2h0M790.1 171.2h0M792.5 171.2h0M794.9 171.2h0M797.3 171.2h0M799.7 171.2h0M802.1 171.2h0M804.5 171.2h0M806.9 171.2h0M809.3 171.2h0M811.7 171.2h0M814.1 171.2h0M816.5 171.2h0M818.8 171.2h0M821.2 171.2h0M823.6 171.2h0M826.0 171.2h0M828.4 171.2h0M830.8 171.2h0M833.2 171.2h0M835.6 171.2h0M838.0 171.2h0M840.4 171.2h0M842.8 171.2h0M845.2 171.2h0M847.5 171.2h0M849.9 171.2h0M852.3 171.2h0M854.7 171.2h0M857.1 171.2h0M859.5 171.2h0M861.9 171.2h0M864.3 171.2h0M866.7 171.2h0M869.1 171.2h0M871.5 171.2h0M873.9 171.2h0M876.2 171.2h0M878.6 171.2h0M881.0 171.2h0" stroke="#808080" stroke-width="2.9" stroke-linecap="round" fill="none"/>
<line x1="881.51" y1="171.24" x2="1207.43" y2="171.24" stroke="#ff0000" stroke-width="3.6" />
<rect x="723.80" y="9.70" width="499.40" height="527.90" fill="none" stroke="#000" stroke-width="2.6" stroke-linejoin="round"/>
<text transform="translate(715.2,547.9) scale(0.93,1)" text-anchor="end" style="font-size:30.5px;font-family:'Liberation Serif', serif">650</text>
<line x1="723.80" y1="471.61" x2="729.30" y2="471.61" stroke="#000" stroke-width="2.6" />
<text transform="translate(715.2,481.9) scale(0.93,1)" text-anchor="end" style="font-size:30.5px;font-family:'Liberation Serif', serif">700</text>
<line x1="723.80" y1="405.62" x2="729.30" y2="405.62" stroke="#000" stroke-width="2.6" />
<text transform="translate(715.2,415.9) scale(0.93,1)" text-anchor="end" style="font-size:30.5px;font-family:'Liberation Serif', serif">750</text>
<line x1="723.80" y1="339.64" x2="729.30" y2="339.64" stroke="#000" stroke-width="2.6" />
<text transform="translate(715.2,349.9) scale(0.93,1)" text-anchor="end" style="font-size:30.5px;font-family:'Liberation Serif', serif">800</text>
<line x1="723.80" y1="273.65" x2="729.30" y2="273.65" stroke="#000" stroke-width="2.6" />
<text transform="translate(715.2,284.0) scale(0.93,1)" text-anchor="end" style="font-size:30.5px;font-family:'Liberation Serif', serif">850</text>
<line x1="723.80" y1="207.66" x2="729.30" y2="207.66" stroke="#000" stroke-width="2.6" />
<text transform="translate(715.2,218.0) scale(0.93,1)" text-anchor="end" style="font-size:30.5px;font-family:'Liberation Serif', serif">900</text>
<line x1="723.80" y1="141.68" x2="729.30" y2="141.68" stroke="#000" stroke-width="2.6" />
<text transform="translate(715.2,152.0) scale(0.93,1)" text-anchor="end" style="font-size:30.5px;font-family:'Liberation Serif', serif">950</text>
<line x1="723.80" y1="75.69" x2="729.30" y2="75.69" stroke="#000" stroke-width="2.6" />
<text transform="translate(715.2,86.0) scale(0.93,1)" text-anchor="end" style="font-size:30.5px;font-family:'Liberation Serif', serif">1000</text>
<text transform="translate(715.2,20.0) scale(0.93,1)" text-anchor="end" style="font-size:30.5px;font-family:'Liberation Serif', serif">1050</text>
<line x1="776.37" y1="537.60" x2="776.37" y2="531.60" stroke="#000" stroke-width="2.6" />
<text transform="translate(776.4,571.8) scale(0.93,1)" text-anchor="middle" style="font-size:30.5px;font-family:'Liberation Serif', serif">1</text>
<line x1="881.51" y1="537.60" x2="881.51" y2="531.60" stroke="#000" stroke-width="2.6" />
<text transform="translate(881.5,571.8) scale(0.93,1)" text-anchor="middle" style="font-size:30.5px;font-family:'Liberation Serif', serif">1.2</text>
<line x1="986.64" y1="537.60" x2="986.64" y2="531.60" stroke="#000" stroke-width="2.6" />
<text transform="translate(986.6,571.8) scale(0.93,1)" text-anchor="middle" style="font-size:30.5px;font-family:'Liberation Serif', serif">1.4</text>
<line x1="1091.78" y1="537.60" x2="1091.78" y2="531.60" stroke="#000" stroke-width="2.6" />
<text transform="translate(1091.8,571.8) scale(0.93,1)" text-anchor="middle" style="font-size:30.5px;font-family:'Liberation Serif', serif">1.6</text>
<line x1="1196.92" y1="537.60" x2="1196.92" y2="531.60" stroke="#000" stroke-width="2.6" />
<text transform="translate(1196.9,571.8) scale(0.93,1)" text-anchor="middle" style="font-size:30.5px;font-family:'Liberation Serif', serif">1.8</text>
<text x="972.2" y="603.3" text-anchor="middle" style="font-size:31px;font-family:'Liberation Serif', serif;" textLength="69" lengthAdjust="spacingAndGlyphs"><tspan font-style="italic">d</tspan><tspan style="font-size:21px" dy="6">2</tspan><tspan dy="-6">/</tspan><tspan font-style="italic">d</tspan><tspan style="font-size:21px" dy="6">1</tspan></text>
<text transform="translate(664.2,273.5) rotate(-90)" text-anchor="middle" textLength="158" lengthAdjust="spacingAndGlyphs" style="font-size:32px;font-family:'Liberation Serif', serif"><tspan font-style="italic">ω</tspan>/2<tspan font-style="italic">π</tspan>(MHz)</text>
<text x="1187.0" y="49.5" text-anchor="middle" style="font-size:38px;font-family:'Liberation Sans', sans-serif;" >(b)</text>
<polygon points="96.7,659.0 483.4,659.0 96.7,1116.3" fill="rgba(0,0,0,0.15)"/>
<line x1="96.7" y1="1116.3" x2="483.4" y2="659.0" stroke="#000" stroke-width="3" stroke-dasharray="12.3 19.5" stroke-dashoffset="-1.2" stroke-linecap="round"/>
<line x1="194.4" y1="1182.0" x2="593.0" y2="834.7" stroke="#ff0000" stroke-width="3" stroke-dasharray="12.3 19.5" stroke-dashoffset="-1.2" stroke-linecap="round"/>
<rect x="96.70" y="659.00" width="496.30" height="523.00" fill="none" stroke="#000" stroke-width="3" stroke-linejoin="round"/>
<line x1="96.70" y1="1182.00" x2="107.70" y2="1182.00" stroke="#000" stroke-width="3" />
<text x="84.5" y="1191.5" text-anchor="end" style="font-size:35px;font-family:'Liberation Serif', serif;" >2.0</text>
<line x1="96.70" y1="1051.25" x2="107.70" y2="1051.25" stroke="#000" stroke-width="3" />
<text x="84.5" y="1060.8" text-anchor="end" style="font-size:35px;font-family:'Liberation Serif', serif;" >2.5</text>
<line x1="96.70" y1="920.50" x2="107.70" y2="920.50" stroke="#000" stroke-width="3" />
<text x="84.5" y="930.0" text-anchor="end" style="font-size:35px;font-family:'Liberation Serif', serif;" >3.0</text>
<line x1="96.70" y1="789.75" x2="107.70" y2="789.75" stroke="#000" stroke-width="3" />
<text x="84.5" y="799.2" text-anchor="end" style="font-size:35px;font-family:'Liberation Serif', serif;" >3.5</text>
<line x1="96.70" y1="659.00" x2="107.70" y2="659.00" stroke="#000" stroke-width="3" />
<text x="84.5" y="668.5" text-anchor="end" style="font-size:35px;font-family:'Liberation Serif', serif;" >4.0</text>
<line x1="96.70" y1="1116.62" x2="102.70" y2="1116.62" stroke="#000" stroke-width="3" />
<line x1="96.70" y1="985.88" x2="102.70" y2="985.88" stroke="#000" stroke-width="3" />
<line x1="96.70" y1="855.12" x2="102.70" y2="855.12" stroke="#000" stroke-width="3" />
<line x1="96.70" y1="724.38" x2="102.70" y2="724.38" stroke="#000" stroke-width="3" />
<line x1="96.70" y1="1182.00" x2="96.70" y2="1171.00" stroke="#000" stroke-width="3" />
<text x="96.7" y="1219.7" text-anchor="middle" style="font-size:35px;font-family:'Liberation Serif', serif;" >2.0</text>
<line x1="220.78" y1="1182.00" x2="220.78" y2="1171.00" stroke="#000" stroke-width="3" />
<text x="220.8" y="1219.7" text-anchor="middle" style="font-size:35px;font-family:'Liberation Serif', serif;" >2.5</text>
<line x1="344.85" y1="1182.00" x2="344.85" y2="1171.00" stroke="#000" stroke-width="3" />
<text x="344.9" y="1219.7" text-anchor="middle" style="font-size:35px;font-family:'Liberation Serif', serif;" >3.0</text>
<line x1="468.93" y1="1182.00" x2="468.93" y2="1171.00" stroke="#000" stroke-width="3" />
<text x="468.9" y="1219.7" text-anchor="middle" style="font-size:35px;font-family:'Liberation Serif', serif;" >3.5</text>
<line x1="593.00" y1="1182.00" x2="593.00" y2="1171.00" stroke="#000" stroke-width="3" />
<text x="593.0" y="1219.7" text-anchor="middle" style="font-size:35px;font-family:'Liberation Serif', serif;" >4.0</text>
<line x1="158.74" y1="1182.00" x2="158.74" y2="1176.00" stroke="#000" stroke-width="3" />
<line x1="282.81" y1="1182.00" x2="282.81" y2="1176.00" stroke="#000" stroke-width="3" />
<line x1="406.89" y1="1182.00" x2="406.89" y2="1176.00" stroke="#000" stroke-width="3" />
<line x1="530.96" y1="1182.00" x2="530.96" y2="1176.00" stroke="#000" stroke-width="3" />
<polygon points="196.2,1179.0 591.7,835.5 591.7,1179.0" fill="rgba(255,0,0,0.3)"/>
<text x="327.4" y="1257.2" text-anchor="middle" style="font-size:42px;font-family:'Liberation Serif', serif;" textLength="74" lengthAdjust="spacingAndGlyphs"><tspan font-style="italic">d</tspan><tspan style="font-size:28px" dy="5">2</tspan><tspan dy="-5">/</tspan><tspan font-style="italic">r</tspan></text>
<text transform="translate(30.4,923.5) rotate(-90)" text-anchor="middle" textLength="75" lengthAdjust="spacingAndGlyphs" style="font-size:42px;font-family:'Liberation Serif', serif"><tspan font-style="italic">d</tspan><tspan style="font-size:28px" dy="5">1</tspan><tspan dy="-5">/</tspan><tspan font-style="italic">r</tspan></text>
<text x="555.5" y="698.5" text-anchor="middle" style="font-size:38px;font-family:'Liberation Sans', sans-serif;" >(c)</text>
<text x="103.6" y="839.8" text-anchor="start" style="font-size:40.5px;font-family:'Liberation Serif', serif;" textLength="213" lengthAdjust="spacingAndGlyphs">Trivial phase</text>
<text x="299.3" y="1129.0" text-anchor="start" style="font-size:41px;font-family:'Liberation Serif', serif;" textLength="289" lengthAdjust="spacingAndGlyphs">Non-trivial phase</text>
<text transform="translate(325.5,971) rotate(-42.5)" text-anchor="middle" dominant-baseline="central" style="font-size:41px;font-family:'Liberation Serif', serif">Metallic phase</text>
<text x="166.3" y="724.7" style="font-size:40px;font-family:'Liberation Serif', serif"><tspan font-style="italic">d</tspan><tspan style="font-size:26px" dy="8">1</tspan><tspan dy="-8"> / </tspan><tspan font-style="italic">d</tspan><tspan style="font-size:26px" dy="8">2</tspan><tspan dy="-8"> =1.2</tspan></text>
<text x="405.4" y="1035.6" style="font-size:40px;font-family:'Liberation Serif', serif"><tspan font-style="italic">d</tspan><tspan style="font-size:26px" dy="8">2</tspan><tspan dy="-8"> / </tspan><tspan font-style="italic">d</tspan><tspan style="font-size:26px" dy="8">1</tspan><tspan dy="-8"> =1.2</tspan></text>
<line x1="277.6" y1="732.3" x2="359.5" y2="780.0" stroke="#000" stroke-width="1.9"/>
<polygon points="374.2,788.6 357.2,784.0 361.8,776.1" fill="#000"/>
<line x1="520.5" y1="1008.6" x2="495.8" y2="940.0" stroke="#000" stroke-width="1.9"/>
<polygon points="490,924 500.1,938.4 491.4,941.6" fill="#000"/>
<rect x="721.20" y="659.40" width="507.10" height="518.20" fill="none" stroke="#000" stroke-width="2.6" stroke-linejoin="round"/>
<polyline points="721.2,768.7 723.7,768.7 726.2,768.7 728.7,768.7 731.2,768.6 733.8,768.6 736.3,768.4 738.8,768.1 741.3,768.3 743.8,768.3 746.3,768.0 748.8,768.0 751.3,767.9 753.8,768.0 756.3,767.8 758.9,767.5 761.4,767.9 763.9,767.6 766.4,767.9 768.9,767.6 771.4,767.7 773.9,767.1 776.4,767.3 778.9,766.8 781.4,766.7 784.0,766.7 786.5,767.3 789.0,766.6 791.5,766.3 794.0,766.2 796.5,766.6 799.0,766.1 801.5,766.2 804.0,766.0 806.6,765.3 809.1,765.8 811.6,765.4 814.1,765.0 816.6,765.4 819.1,765.1 821.6,764.9 824.1,764.8 826.6,765.1 829.1,764.5 831.7,763.9 834.2,764.9 836.7,763.8 839.2,764.0 841.7,764.1 844.2,762.9 846.7,763.3 849.2,764.0 851.7,763.3 854.3,763.0 856.8,763.2 859.3,762.7 861.8,762.8 864.3,762.4 866.8,761.9 869.3,762.7 871.8,762.2 874.3,762.3 876.8,761.9 879.4,762.4 881.9,762.0 884.4,761.6 886.9,761.0 889.4,760.7 891.9,761.7 894.4,761.3 896.9,760.5 899.4,761.6 901.9,760.7 904.5,760.4 907.0,759.6 909.5,759.7 912.0,760.1 914.5,760.0 917.0,759.7 919.5,758.7 922.0,759.5 924.5,759.3 927.1,758.8 929.6,758.9 932.1,758.8 934.6,759.1 937.1,758.4 939.6,758.5 942.1,757.4 944.6,757.5 947.1,757.8 949.6,757.2 952.2,757.6 954.7,756.7 957.2,757.1 959.7,756.6 962.2,757.5 964.7,756.4 967.2,757.4 969.7,757.5 972.2,756.3 974.8,756.5 977.3,755.7 979.8,754.3 982.3,756.0 984.8,755.7 987.3,755.0 989.8,754.7 992.3,754.9 994.8,754.8 997.3,754.0 999.9,754.0 1002.4,754.8 1004.9,754.0 1007.4,753.8 1009.9,754.3 1012.4,753.3 1014.9,753.8 1017.4,752.5 1019.9,752.8 1022.4,752.7 1025.0,753.0 1027.5,752.5 1030.0,753.5 1032.5,752.8 1035.0,751.7 1037.5,753.1 1040.0,751.0 1042.5,752.5 1045.0,750.7 1047.6,751.6 1050.1,750.3 1052.6,750.6 1055.1,751.5 1057.6,749.5 1060.1,749.1 1062.6,750.0 1065.1,750.0 1067.6,749.7 1070.1,750.1 1072.7,748.5 1075.2,749.4 1077.7,748.9 1080.2,749.2 1082.7,748.9 1085.2,749.2 1087.7,747.2 1090.2,748.1 1092.7,747.1 1095.2,747.6 1097.8,747.9 1100.3,747.4 1102.8,747.4 1105.3,746.8 1107.8,746.9 1110.3,746.7 1112.8,747.3 1115.3,746.7 1117.8,744.7 1120.4,746.2 1122.9,746.3 1125.4,745.1 1127.9,744.1 1130.4,746.0 1132.9,744.9 1135.4,745.0 1137.9,745.7 1140.4,743.6 1142.9,744.0 1145.5,743.8 1148.0,744.2 1150.5,743.1 1153.0,743.6 1155.5,743.1 1158.0,743.7 1160.5,743.6 1163.0,741.4 1165.5,742.7 1168.1,741.8 1170.6,741.9 1173.1,742.0 1175.6,741.9 1178.1,740.8 1180.6,741.3 1183.1,741.0 1185.6,740.7 1188.1,739.6 1190.6,739.8 1193.2,739.8 1195.7,740.4 1198.2,740.8 1200.7,738.7 1203.2,738.5 1205.7,739.2 1208.2,738.5 1210.7,738.1 1213.2,737.8 1215.7,737.6 1218.3,738.5 1220.8,736.7 1223.3,738.7 1225.8,736.8 1228.3,736.9" fill="none" stroke="#ff0000" stroke-width="2.8" stroke-linejoin="round"/>
<polyline points="721.2,771.1 723.7,770.9 726.2,770.9 728.7,771.1 731.2,771.1 733.8,770.7 736.3,770.9 738.8,770.7 741.3,770.5 743.8,770.8 746.3,770.9 748.8,770.4 751.3,770.3 753.8,770.3 756.3,770.2 758.9,770.3 761.4,770.4 763.9,770.0 766.4,770.1 768.9,770.2 771.4,769.5 773.9,769.6 776.4,769.4 778.9,769.6 781.4,769.5 784.0,769.5 786.5,769.3 789.0,768.9 791.5,769.1 794.0,768.7 796.5,768.6 799.0,767.9 801.5,768.9 804.0,768.1 806.6,768.3 809.1,768.1 811.6,768.5 814.1,768.1 816.6,767.5 819.1,767.7 821.6,767.5 824.1,767.6 826.6,766.9 829.1,767.2 831.7,768.0 834.2,767.3 836.7,767.7 839.2,768.1 841.7,766.9 844.2,766.0 846.7,766.4 849.2,766.8 851.7,766.6 854.3,765.6 856.8,765.8 859.3,765.8 861.8,765.7 864.3,765.5 866.8,765.1 869.3,765.0 871.8,765.1 874.3,765.5 876.8,764.7 879.4,765.1 881.9,764.1 884.4,765.1 886.9,764.4 889.4,764.3 891.9,764.8 894.4,763.2 896.9,763.1 899.4,763.9 901.9,763.2 904.5,763.3 907.0,764.6 909.5,763.1 912.0,763.1 914.5,762.9 917.0,763.3 919.5,762.8 922.0,762.6 924.5,761.7 927.1,762.0 929.6,762.1 932.1,761.1 934.6,762.1 937.1,761.9 939.6,762.5 942.1,760.5 944.6,760.7 947.1,760.6 949.6,760.6 952.2,760.7 954.7,760.5 957.2,760.6 959.7,760.5 962.2,760.2 964.7,759.2 967.2,759.6 969.7,759.8 972.2,759.9 974.8,759.8 977.3,758.4 979.8,758.9 982.3,759.0 984.8,759.1 987.3,759.4 989.8,758.6 992.3,757.9 994.8,758.5 997.3,758.2 999.9,758.1 1002.4,757.7 1004.9,758.6 1007.4,757.6 1009.9,757.9 1012.4,756.6 1014.9,757.5 1017.4,756.5 1019.9,755.7 1022.4,756.7 1025.0,756.8 1027.5,756.1 1030.0,756.1 1032.5,756.5 1035.0,755.4 1037.5,754.3 1040.0,755.6 1042.5,755.4 1045.0,755.8 1047.6,754.7 1050.1,755.6 1052.6,755.4 1055.1,753.6 1057.6,754.9 1060.1,753.4 1062.6,752.9 1065.1,753.6 1067.6,753.3 1070.1,752.1 1072.7,753.4 1075.2,753.6 1077.7,753.9 1080.2,752.8 1082.7,751.6 1085.2,751.8 1087.7,753.0 1090.2,752.8 1092.7,752.3 1095.2,751.6 1097.8,751.8 1100.3,751.3 1102.8,751.1 1105.3,751.4 1107.8,751.0 1110.3,750.6 1112.8,750.7 1115.3,750.1 1117.8,748.9 1120.4,749.7 1122.9,749.9 1125.4,751.0 1127.9,749.3 1130.4,750.9 1132.9,750.3 1135.4,748.4 1137.9,748.4 1140.4,748.8 1142.9,749.9 1145.5,748.7 1148.0,748.7 1150.5,747.6 1153.0,746.1 1155.5,747.5 1158.0,748.1 1160.5,748.2 1163.0,747.2 1165.5,747.1 1168.1,747.7 1170.6,746.5 1173.1,747.4 1175.6,745.4 1178.1,745.3 1180.6,745.1 1183.1,746.1 1185.6,745.2 1188.1,745.5 1190.6,745.5 1193.2,745.3 1195.7,745.9 1198.2,745.8 1200.7,743.8 1203.2,744.5 1205.7,743.9 1208.2,743.1 1210.7,745.2 1213.2,744.2 1215.7,743.2 1218.3,742.9 1220.8,743.3 1223.3,742.0 1225.8,742.5 1228.3,743.5" fill="none" stroke="#ff0000" stroke-width="2.8" stroke-linejoin="round"/>
<polyline points="721.2,773.4 723.7,773.3 726.2,773.3 728.7,773.5 731.2,773.1 733.8,773.1 736.3,772.9 738.8,773.1 741.3,773.0 743.8,773.1 746.3,772.4 748.8,772.8 751.3,772.4 753.8,772.8 756.3,772.5 758.9,772.9 761.4,772.5 763.9,772.1 766.4,772.6 768.9,771.9 771.4,772.0 773.9,772.3 776.4,772.1 778.9,772.0 781.4,771.8 784.0,771.8 786.5,771.8 789.0,771.6 791.5,771.7 794.0,771.7 796.5,771.2 799.0,770.8 801.5,771.5 804.0,770.9 806.6,771.1 809.1,771.1 811.6,770.4 814.1,770.7 816.6,769.9 819.1,770.6 821.6,770.1 824.1,770.2 826.6,770.3 829.1,769.7 831.7,769.9 834.2,769.5 836.7,769.6 839.2,770.0 841.7,769.5 844.2,769.3 846.7,768.8 849.2,769.5 851.7,769.0 854.3,769.6 856.8,768.5 859.3,769.1 861.8,769.3 864.3,768.4 866.8,767.8 869.3,768.9 871.8,768.6 874.3,768.3 876.8,768.4 879.4,767.5 881.9,768.0 884.4,767.8 886.9,767.1 889.4,767.6 891.9,766.9 894.4,767.5 896.9,767.5 899.4,767.7 901.9,765.7 904.5,766.7 907.0,766.3 909.5,766.3 912.0,766.1 914.5,766.0 917.0,764.9 919.5,766.3 922.0,766.5 924.5,766.1 927.1,766.1 929.6,764.9 932.1,764.7 934.6,765.5 937.1,765.7 939.6,765.0 942.1,763.9 944.6,766.1 947.1,764.1 949.6,764.9 952.2,763.5 954.7,764.6 957.2,764.0 959.7,764.6 962.2,764.2 964.7,762.7 967.2,762.9 969.7,763.4 972.2,763.6 974.8,764.0 977.3,763.0 979.8,762.7 982.3,762.6 984.8,762.4 987.3,762.9 989.8,762.2 992.3,762.0 994.8,761.1 997.3,760.6 999.9,761.6 1002.4,761.9 1004.9,761.3 1007.4,761.5 1009.9,761.5 1012.4,760.9 1014.9,761.4 1017.4,760.2 1019.9,760.5 1022.4,760.1 1025.0,760.3 1027.5,760.5 1030.0,760.5 1032.5,759.9 1035.0,759.9 1037.5,759.3 1040.0,759.3 1042.5,760.1 1045.0,759.0 1047.6,759.8 1050.1,759.1 1052.6,758.8 1055.1,759.8 1057.6,758.2 1060.1,758.0 1062.6,758.1 1065.1,758.1 1067.6,758.0 1070.1,758.2 1072.7,757.6 1075.2,757.6 1077.7,757.0 1080.2,757.8 1082.7,756.6 1085.2,756.6 1087.7,756.6 1090.2,756.7 1092.7,755.8 1095.2,757.2 1097.8,755.6 1100.3,755.6 1102.8,755.4 1105.3,755.2 1107.8,755.8 1110.3,755.3 1112.8,754.5 1115.3,754.5 1117.8,754.5 1120.4,755.6 1122.9,754.0 1125.4,753.3 1127.9,753.3 1130.4,753.7 1132.9,754.9 1135.4,752.9 1137.9,753.5 1140.4,755.2 1142.9,752.8 1145.5,754.1 1148.0,753.8 1150.5,753.1 1153.0,751.5 1155.5,752.6 1158.0,752.0 1160.5,750.7 1163.0,750.6 1165.5,751.8 1168.1,751.7 1170.6,752.4 1173.1,751.8 1175.6,750.7 1178.1,750.6 1180.6,750.7 1183.1,749.8 1185.6,751.0 1188.1,750.3 1190.6,749.5 1193.2,749.5 1195.7,748.9 1198.2,749.3 1200.7,749.7 1203.2,749.0 1205.7,749.9 1208.2,750.3 1210.7,748.3 1213.2,748.7 1215.7,748.2 1218.3,749.7 1220.8,748.4 1223.3,748.5 1225.8,748.5 1228.3,749.5" fill="none" stroke="#ff0000" stroke-width="2.8" stroke-linejoin="round"/>
<polyline points="721.2,775.7 723.7,775.6 726.2,775.6 728.7,775.7 731.2,775.6 733.8,775.4 736.3,775.9 738.8,775.4 741.3,775.3 743.8,775.2 746.3,774.9 748.8,775.0 751.3,775.1 753.8,775.0 756.3,774.8 758.9,775.0 761.4,774.9 763.9,774.6 766.4,774.2 768.9,774.7 771.4,774.6 773.9,774.4 776.4,774.1 778.9,774.4 781.4,773.9 784.0,774.5 786.5,774.2 789.0,774.1 791.5,773.7 794.0,773.5 796.5,774.3 799.0,774.0 801.5,773.5 804.0,773.8 806.6,774.0 809.1,773.0 811.6,773.1 814.1,773.0 816.6,773.3 819.1,772.6 821.6,773.0 824.1,772.4 826.6,773.1 829.1,773.0 831.7,772.5 834.2,772.7 836.7,772.1 839.2,772.2 841.7,772.5 844.2,772.0 846.7,772.1 849.2,771.5 851.7,772.0 854.3,771.9 856.8,771.1 859.3,770.5 861.8,770.5 864.3,771.3 866.8,771.1 869.3,770.4 871.8,771.0 874.3,771.3 876.8,770.7 879.4,770.5 881.9,771.0 884.4,771.2 886.9,771.0 889.4,769.9 891.9,770.5 894.4,770.1 896.9,769.8 899.4,769.5 901.9,769.9 904.5,769.4 907.0,769.9 909.5,769.6 912.0,769.8 914.5,768.6 917.0,769.1 919.5,769.3 922.0,769.0 924.5,768.8 927.1,768.2 929.6,769.3 932.1,768.9 934.6,768.5 937.1,766.8 939.6,767.5 942.1,768.0 944.6,767.4 947.1,766.6 949.6,767.7 952.2,767.7 954.7,766.7 957.2,767.0 959.7,766.7 962.2,767.3 964.7,765.8 967.2,765.8 969.7,766.3 972.2,766.1 974.8,767.6 977.3,765.9 979.8,766.3 982.3,765.8 984.8,765.5 987.3,766.0 989.8,766.7 992.3,765.3 994.8,765.9 997.3,765.5 999.9,765.6 1002.4,765.3 1004.9,766.4 1007.4,764.1 1009.9,764.5 1012.4,763.9 1014.9,763.2 1017.4,764.3 1019.9,765.3 1022.4,764.6 1025.0,764.7 1027.5,764.1 1030.0,763.6 1032.5,764.9 1035.0,763.2 1037.5,764.3 1040.0,763.0 1042.5,763.1 1045.0,763.1 1047.6,762.8 1050.1,763.0 1052.6,762.9 1055.1,763.5 1057.6,762.3 1060.1,760.9 1062.6,760.7 1065.1,761.0 1067.6,761.3 1070.1,762.1 1072.7,760.5 1075.2,761.4 1077.7,761.3 1080.2,761.3 1082.7,760.9 1085.2,761.1 1087.7,760.8 1090.2,761.3 1092.7,760.7 1095.2,758.7 1097.8,760.2 1100.3,760.2 1102.8,759.5 1105.3,759.2 1107.8,760.4 1110.3,759.6 1112.8,758.7 1115.3,759.0 1117.8,759.0 1120.4,757.8 1122.9,759.3 1125.4,758.6 1127.9,758.9 1130.4,757.3 1132.9,759.7 1135.4,758.6 1137.9,758.4 1140.4,757.3 1142.9,757.2 1145.5,756.5 1148.0,758.6 1150.5,756.7 1153.0,757.4 1155.5,757.5 1158.0,756.4 1160.5,757.4 1163.0,758.2 1165.5,756.7 1168.1,757.4 1170.6,756.6 1173.1,755.7 1175.6,755.6 1178.1,754.5 1180.6,755.7 1183.1,756.6 1185.6,755.9 1188.1,755.9 1190.6,756.0 1193.2,754.5 1195.7,755.2 1198.2,756.2 1200.7,753.9 1203.2,754.4 1205.7,753.8 1208.2,753.9 1210.7,753.3 1213.2,753.7 1215.7,752.5 1218.3,753.0 1220.8,752.9 1223.3,752.8 1225.8,754.2 1228.3,752.9" fill="none" stroke="#ff0000" stroke-width="2.8" stroke-linejoin="round"/>
<polyline points="721.2,778.0 723.7,778.0 726.2,778.1 728.7,777.8 731.2,777.9 733.8,778.0 736.3,778.1 738.8,777.8 741.3,777.7 743.8,777.8 746.3,777.6 748.8,777.7 751.3,777.4 753.8,777.6 756.3,777.4 758.9,777.1 761.4,776.7 763.9,777.5 766.4,777.3 768.9,777.3 771.4,776.8 773.9,777.3 776.4,777.0 778.9,776.8 781.4,777.1 784.0,777.0 786.5,776.8 789.0,777.2 791.5,776.9 794.0,776.6 796.5,776.3 799.0,776.3 801.5,776.8 804.0,776.3 806.6,775.8 809.1,775.8 811.6,775.9 814.1,776.1 816.6,775.5 819.1,775.9 821.6,776.0 824.1,775.8 826.6,774.9 829.1,775.3 831.7,774.8 834.2,775.4 836.7,774.7 839.2,775.3 841.7,775.0 844.2,773.8 846.7,774.4 849.2,774.9 851.7,774.6 854.3,774.4 856.8,773.9 859.3,774.5 861.8,775.0 864.3,774.3 866.8,774.1 869.3,773.9 871.8,773.3 874.3,773.7 876.8,773.3 879.4,774.1 881.9,773.1 884.4,772.5 886.9,773.0 889.4,773.1 891.9,773.1 894.4,772.2 896.9,773.4 899.4,772.9 901.9,772.6 904.5,772.3 907.0,772.8 909.5,772.3 912.0,772.5 914.5,772.2 917.0,772.3 919.5,772.7 922.0,772.0 924.5,771.5 927.1,772.3 929.6,771.8 932.1,771.3 934.6,772.1 937.1,771.3 939.6,771.9 942.1,770.6 944.6,769.8 947.1,769.9 949.6,771.0 952.2,770.4 954.7,770.6 957.2,770.6 959.7,769.6 962.2,771.2 964.7,769.7 967.2,770.2 969.7,769.3 972.2,769.9 974.8,770.3 977.3,769.6 979.8,769.2 982.3,769.5 984.8,769.2 987.3,769.7 989.8,770.5 992.3,768.6 994.8,768.6 997.3,768.8 999.9,768.8 1002.4,768.1 1004.9,768.9 1007.4,768.9 1009.9,768.5 1012.4,767.5 1014.9,769.0 1017.4,767.3 1019.9,768.4 1022.4,768.5 1025.0,766.9 1027.5,767.7 1030.0,768.3 1032.5,767.6 1035.0,766.7 1037.5,766.4 1040.0,767.3 1042.5,766.7 1045.0,766.4 1047.6,767.2 1050.1,766.4 1052.6,766.5 1055.1,766.7 1057.6,766.6 1060.1,766.1 1062.6,766.0 1065.1,766.3 1067.6,766.1 1070.1,764.9 1072.7,765.4 1075.2,764.9 1077.7,764.5 1080.2,764.8 1082.7,763.5 1085.2,765.6 1087.7,764.3 1090.2,765.0 1092.7,763.3 1095.2,763.3 1097.8,765.8 1100.3,765.0 1102.8,763.7 1105.3,763.5 1107.8,763.4 1110.3,763.9 1112.8,763.4 1115.3,763.1 1117.8,763.5 1120.4,762.6 1122.9,764.9 1125.4,762.6 1127.9,763.7 1130.4,762.1 1132.9,762.9 1135.4,763.3 1137.9,762.2 1140.4,763.1 1142.9,762.9 1145.5,763.3 1148.0,762.0 1150.5,761.5 1153.0,761.0 1155.5,761.7 1158.0,760.7 1160.5,761.4 1163.0,761.3 1165.5,760.7 1168.1,760.2 1170.6,761.2 1173.1,761.0 1175.6,760.8 1178.1,760.5 1180.6,761.1 1183.1,759.5 1185.6,760.5 1188.1,759.6 1190.6,760.5 1193.2,759.5 1195.7,759.3 1198.2,759.9 1200.7,757.8 1203.2,759.0 1205.7,757.7 1208.2,758.2 1210.7,759.4 1213.2,759.1 1215.7,758.3 1218.3,758.4 1220.8,758.3 1223.3,758.5 1225.8,759.6 1228.3,758.2" fill="none" stroke="#ff0000" stroke-width="2.8" stroke-linejoin="round"/>
<polyline points="721.2,780.4 723.7,780.3 726.2,780.4 728.7,780.4 731.2,780.3 733.8,780.2 736.3,780.4 738.8,780.4 741.3,780.3 743.8,780.4 746.3,780.2 748.8,779.7 751.3,780.1 753.8,779.7 756.3,780.1 758.9,779.7 761.4,779.8 763.9,779.7 766.4,779.5 768.9,779.1 771.4,779.4 773.9,779.4 776.4,779.7 778.9,779.2 781.4,779.3 784.0,779.0 786.5,779.2 789.0,778.6 791.5,779.6 794.0,779.1 796.5,778.6 799.0,779.0 801.5,779.0 804.0,778.8 806.6,779.1 809.1,778.5 811.6,777.7 814.1,778.1 816.6,778.8 819.1,778.6 821.6,778.4 824.1,777.8 826.6,778.4 829.1,778.3 831.7,777.6 834.2,777.6 836.7,778.0 839.2,778.2 841.7,778.3 844.2,777.9 846.7,778.5 849.2,777.2 851.7,777.7 854.3,777.1 856.8,776.5 859.3,776.7 861.8,777.6 864.3,776.6 866.8,776.4 869.3,777.2 871.8,777.2 874.3,776.8 876.8,777.4 879.4,775.9 881.9,777.6 884.4,776.9 886.9,776.5 889.4,776.4 891.9,776.1 894.4,776.0 896.9,776.1 899.4,775.4 901.9,776.9 904.5,775.8 907.0,776.0 909.5,775.5 912.0,775.4 914.5,775.9 917.0,775.7 919.5,774.9 922.0,775.0 924.5,775.5 927.1,773.9 929.6,773.7 932.1,775.6 934.6,774.6 937.1,773.3 939.6,774.2 942.1,774.4 944.6,774.5 947.1,774.6 949.6,774.4 952.2,774.5 954.7,773.7 957.2,774.2 959.7,774.1 962.2,774.5 964.7,773.8 967.2,774.1 969.7,773.6 972.2,772.8 974.8,773.1 977.3,773.0 979.8,773.0 982.3,773.1 984.8,773.1 987.3,773.1 989.8,772.4 992.3,773.4 994.8,771.8 997.3,772.5 999.9,772.9 1002.4,772.7 1004.9,772.7 1007.4,772.1 1009.9,772.5 1012.4,771.3 1014.9,772.4 1017.4,773.2 1019.9,772.2 1022.4,772.9 1025.0,771.5 1027.5,770.7 1030.0,770.9 1032.5,772.1 1035.0,771.6 1037.5,769.9 1040.0,770.7 1042.5,770.8 1045.0,770.0 1047.6,769.0 1050.1,769.7 1052.6,770.4 1055.1,770.1 1057.6,769.8 1060.1,770.6 1062.6,770.8 1065.1,769.9 1067.6,770.5 1070.1,769.8 1072.7,769.6 1075.2,767.9 1077.7,770.1 1080.2,769.5 1082.7,769.4 1085.2,768.9 1087.7,768.3 1090.2,769.3 1092.7,769.5 1095.2,769.9 1097.8,769.3 1100.3,768.2 1102.8,768.4 1105.3,769.1 1107.8,768.5 1110.3,768.1 1112.8,767.7 1115.3,768.4 1117.8,768.0 1120.4,769.1 1122.9,768.5 1125.4,766.3 1127.9,769.1 1130.4,767.6 1132.9,767.1 1135.4,767.4 1137.9,767.6 1140.4,767.0 1142.9,766.8 1145.5,766.8 1148.0,768.0 1150.5,766.6 1153.0,767.0 1155.5,766.7 1158.0,766.0 1160.5,765.6 1163.0,765.3 1165.5,766.2 1168.1,765.0 1170.6,764.7 1173.1,764.7 1175.6,764.3 1178.1,765.4 1180.6,765.4 1183.1,764.5 1185.6,766.1 1188.1,764.7 1190.6,765.2 1193.2,765.0 1195.7,766.0 1198.2,765.2 1200.7,764.4 1203.2,763.5 1205.7,763.3 1208.2,764.1 1210.7,764.1 1213.2,764.5 1215.7,763.4 1218.3,763.8 1220.8,763.0 1223.3,761.9 1225.8,763.3 1228.3,764.4" fill="none" stroke="#ff0000" stroke-width="2.8" stroke-linejoin="round"/>
<polyline points="721.2,782.7 723.7,782.7 726.2,782.7 728.7,782.5 731.2,782.6 733.8,782.8 736.3,782.4 738.8,782.3 741.3,782.5 743.8,782.5 746.3,782.4 748.8,782.3 751.3,782.2 753.8,782.0 756.3,782.0 758.9,781.9 761.4,781.8 763.9,781.9 766.4,782.4 768.9,782.0 771.4,781.9 773.9,782.0 776.4,781.6 778.9,781.9 781.4,782.0 784.0,781.3 786.5,781.5 789.0,781.6 791.5,781.3 794.0,781.2 796.5,781.4 799.0,782.2 801.5,781.6 804.0,781.5 806.6,781.6 809.1,781.1 811.6,780.7 814.1,781.3 816.6,781.4 819.1,780.2 821.6,781.1 824.1,781.3 826.6,780.7 829.1,780.6 831.7,781.0 834.2,780.3 836.7,780.8 839.2,780.9 841.7,780.4 844.2,780.1 846.7,780.6 849.2,780.1 851.7,780.3 854.3,779.0 856.8,780.4 859.3,779.4 861.8,780.0 864.3,780.0 866.8,779.5 869.3,779.4 871.8,779.1 874.3,779.5 876.8,779.9 879.4,779.8 881.9,779.2 884.4,779.1 886.9,778.7 889.4,779.1 891.9,778.7 894.4,778.4 896.9,779.0 899.4,779.7 901.9,779.5 904.5,779.6 907.0,778.0 909.5,779.1 912.0,778.0 914.5,778.3 917.0,777.6 919.5,777.9 922.0,778.4 924.5,778.4 927.1,778.2 929.6,778.1 932.1,778.4 934.6,778.0 937.1,777.1 939.6,778.8 942.1,777.7 944.6,778.2 947.1,777.6 949.6,777.1 952.2,777.5 954.7,777.0 957.2,778.3 959.7,776.7 962.2,777.6 964.7,776.8 967.2,777.0 969.7,778.5 972.2,777.4 974.8,776.7 977.3,775.9 979.8,776.5 982.3,776.5 984.8,777.4 987.3,775.6 989.8,775.3 992.3,776.3 994.8,776.4 997.3,777.1 999.9,775.5 1002.4,774.3 1004.9,775.5 1007.4,775.1 1009.9,775.4 1012.4,776.3 1014.9,774.8 1017.4,776.3 1019.9,775.6 1022.4,775.2 1025.0,774.7 1027.5,775.0 1030.0,774.9 1032.5,775.6 1035.0,775.8 1037.5,774.9 1040.0,775.3 1042.5,775.6 1045.0,775.5 1047.6,774.9 1050.1,775.7 1052.6,775.3 1055.1,775.4 1057.6,774.1 1060.1,773.9 1062.6,772.7 1065.1,775.0 1067.6,774.4 1070.1,773.2 1072.7,773.9 1075.2,773.9 1077.7,772.4 1080.2,773.7 1082.7,774.2 1085.2,774.3 1087.7,773.0 1090.2,773.0 1092.7,774.1 1095.2,773.7 1097.8,772.5 1100.3,772.4 1102.8,773.2 1105.3,772.2 1107.8,772.2 1110.3,773.8 1112.8,772.6 1115.3,772.0 1117.8,772.7 1120.4,773.7 1122.9,772.3 1125.4,771.4 1127.9,770.7 1130.4,773.4 1132.9,769.8 1135.4,772.5 1137.9,770.8 1140.4,770.5 1142.9,770.6 1145.5,771.2 1148.0,772.1 1150.5,770.6 1153.0,771.6 1155.5,772.9 1158.0,768.7 1160.5,770.2 1163.0,769.3 1165.5,771.3 1168.1,769.3 1170.6,769.2 1173.1,769.1 1175.6,770.2 1178.1,771.1 1180.6,770.2 1183.1,771.7 1185.6,771.2 1188.1,769.7 1190.6,770.5 1193.2,769.7 1195.7,769.6 1198.2,767.9 1200.7,768.3 1203.2,769.3 1205.7,768.2 1208.2,769.7 1210.7,769.2 1213.2,768.1 1215.7,769.8 1218.3,768.9 1220.8,769.7 1223.3,768.4 1225.8,767.1 1228.3,768.9" fill="none" stroke="#ff0000" stroke-width="2.8" stroke-linejoin="round"/>
<polyline points="721.2,785.0 723.7,785.0 726.2,785.1 728.7,785.1 731.2,784.8 733.8,784.6 736.3,784.8 738.8,785.0 741.3,784.7 743.8,784.9 746.3,784.6 748.8,784.7 751.3,784.6 753.8,784.5 756.3,784.8 758.9,784.7 761.4,785.0 763.9,784.6 766.4,784.9 768.9,784.5 771.4,784.7 773.9,784.4 776.4,784.2 778.9,784.7 781.4,784.5 784.0,784.5 786.5,784.0 789.0,783.6 791.5,783.9 794.0,784.2 796.5,783.6 799.0,784.5 801.5,783.5 804.0,784.1 806.6,784.8 809.1,782.9 811.6,783.2 814.1,784.1 816.6,783.6 819.1,783.7 821.6,783.6 824.1,784.1 826.6,783.8 829.1,783.3 831.7,783.3 834.2,782.9 836.7,783.3 839.2,782.3 841.7,783.5 844.2,783.1 846.7,783.9 849.2,783.6 851.7,782.5 854.3,783.4 856.8,782.7 859.3,782.9 861.8,783.3 864.3,782.9 866.8,783.0 869.3,782.9 871.8,782.3 874.3,782.3 876.8,782.8 879.4,782.9 881.9,782.3 884.4,782.4 886.9,781.8 889.4,781.0 891.9,781.8 894.4,782.2 896.9,782.2 899.4,782.5 901.9,782.4 904.5,782.4 907.0,782.1 909.5,782.0 912.0,781.4 914.5,781.9 917.0,781.8 919.5,782.2 922.0,780.7 924.5,781.2 927.1,780.5 929.6,781.0 932.1,780.5 934.6,781.4 937.1,780.8 939.6,779.7 942.1,781.8 944.6,780.4 947.1,780.0 949.6,780.7 952.2,780.4 954.7,780.1 957.2,781.1 959.7,780.4 962.2,781.1 964.7,781.0 967.2,780.9 969.7,780.5 972.2,780.3 974.8,780.0 977.3,781.1 979.8,779.0 982.3,779.4 984.8,779.6 987.3,780.2 989.8,780.0 992.3,779.6 994.8,779.6 997.3,780.8 999.9,779.2 1002.4,777.8 1004.9,780.8 1007.4,778.9 1009.9,779.2 1012.4,779.5 1014.9,778.4 1017.4,780.0 1019.9,779.1 1022.4,778.2 1025.0,779.2 1027.5,779.3 1030.0,778.9 1032.5,779.2 1035.0,777.8 1037.5,779.4 1040.0,778.1 1042.5,779.5 1045.0,778.1 1047.6,778.6 1050.1,780.2 1052.6,778.4 1055.1,779.0 1057.6,778.6 1060.1,777.1 1062.6,778.9 1065.1,778.8 1067.6,777.0 1070.1,777.8 1072.7,776.8 1075.2,777.6 1077.7,778.3 1080.2,777.7 1082.7,776.7 1085.2,776.8 1087.7,777.4 1090.2,777.3 1092.7,777.4 1095.2,777.7 1097.8,775.8 1100.3,777.1 1102.8,777.9 1105.3,777.3 1107.8,776.4 1110.3,776.4 1112.8,776.9 1115.3,777.2 1117.8,776.6 1120.4,777.8 1122.9,777.5 1125.4,775.8 1127.9,776.7 1130.4,776.0 1132.9,775.3 1135.4,775.6 1137.9,776.1 1140.4,774.4 1142.9,775.4 1145.5,776.1 1148.0,775.2 1150.5,775.4 1153.0,776.3 1155.5,775.5 1158.0,775.6 1160.5,777.0 1163.0,775.5 1165.5,775.5 1168.1,775.6 1170.6,776.5 1173.1,775.4 1175.6,775.0 1178.1,774.9 1180.6,775.8 1183.1,774.3 1185.6,775.7 1188.1,774.8 1190.6,773.5 1193.2,775.1 1195.7,774.9 1198.2,773.5 1200.7,774.6 1203.2,774.5 1205.7,774.0 1208.2,773.2 1210.7,775.8 1213.2,774.6 1215.7,774.7 1218.3,774.7 1220.8,774.4 1223.3,774.3 1225.8,773.3 1228.3,774.2" fill="none" stroke="#ff0000" stroke-width="2.8" stroke-linejoin="round"/>
<polyline points="721.2,787.3 723.7,787.3 726.2,787.4 728.7,787.3 731.2,787.1 733.8,787.2 736.3,787.3 738.8,787.2 741.3,787.3 743.8,787.1 746.3,787.0 748.8,787.3 751.3,787.1 753.8,786.8 756.3,787.2 758.9,787.0 761.4,787.2 763.9,787.2 766.4,787.1 768.9,786.4 771.4,787.0 773.9,787.0 776.4,787.0 778.9,786.9 781.4,786.6 784.0,786.7 786.5,786.1 789.0,786.6 791.5,786.2 794.0,786.5 796.5,786.4 799.0,787.0 801.5,786.6 804.0,786.5 806.6,786.5 809.1,787.2 811.6,786.1 814.1,786.5 816.6,786.5 819.1,786.4 821.6,786.3 824.1,786.1 826.6,786.7 829.1,786.5 831.7,786.0 834.2,786.0 836.7,786.2 839.2,786.2 841.7,786.3 844.2,786.0 846.7,785.4 849.2,786.3 851.7,785.2 854.3,785.4 856.8,786.0 859.3,785.4 861.8,786.3 864.3,786.4 866.8,786.2 869.3,785.8 871.8,785.7 874.3,785.7 876.8,785.4 879.4,786.4 881.9,785.1 884.4,786.0 886.9,785.6 889.4,785.5 891.9,785.8 894.4,785.8 896.9,785.6 899.4,785.1 901.9,784.8 904.5,784.7 907.0,785.5 909.5,785.3 912.0,785.4 914.5,784.6 917.0,785.9 919.5,784.1 922.0,785.0 924.5,785.1 927.1,784.5 929.6,784.0 932.1,784.4 934.6,783.9 937.1,784.4 939.6,783.8 942.1,783.7 944.6,784.4 947.1,783.5 949.6,784.2 952.2,784.2 954.7,784.7 957.2,784.3 959.7,783.6 962.2,784.8 964.7,783.6 967.2,783.7 969.7,783.7 972.2,785.1 974.8,783.9 977.3,783.4 979.8,784.2 982.3,783.6 984.8,785.0 987.3,783.2 989.8,783.9 992.3,783.0 994.8,784.6 997.3,783.0 999.9,783.5 1002.4,782.8 1004.9,783.8 1007.4,783.6 1009.9,781.7 1012.4,783.6 1014.9,783.5 1017.4,783.2 1019.9,783.6 1022.4,782.2 1025.0,781.8 1027.5,783.3 1030.0,783.9 1032.5,782.0 1035.0,782.0 1037.5,782.1 1040.0,781.8 1042.5,783.1 1045.0,782.6 1047.6,783.4 1050.1,783.3 1052.6,781.7 1055.1,782.7 1057.6,780.7 1060.1,782.1 1062.6,782.6 1065.1,781.5 1067.6,780.8 1070.1,781.7 1072.7,782.8 1075.2,781.6 1077.7,780.9 1080.2,782.1 1082.7,782.3 1085.2,781.0 1087.7,781.5 1090.2,782.4 1092.7,781.8 1095.2,782.0 1097.8,781.2 1100.3,781.3 1102.8,780.5 1105.3,780.8 1107.8,782.4 1110.3,780.9 1112.8,780.5 1115.3,780.7 1117.8,780.3 1120.4,781.4 1122.9,781.6 1125.4,780.2 1127.9,781.6 1130.4,782.4 1132.9,779.9 1135.4,781.2 1137.9,780.8 1140.4,781.6 1142.9,781.5 1145.5,781.3 1148.0,780.7 1150.5,780.1 1153.0,782.0 1155.5,779.7 1158.0,781.1 1160.5,780.9 1163.0,779.5 1165.5,780.1 1168.1,781.2 1170.6,778.5 1173.1,780.5 1175.6,779.6 1178.1,779.6 1180.6,778.6 1183.1,780.0 1185.6,778.8 1188.1,780.1 1190.6,778.6 1193.2,780.0 1195.7,779.7 1198.2,777.8 1200.7,779.0 1203.2,779.1 1205.7,777.3 1208.2,778.8 1210.7,779.7 1213.2,778.4 1215.7,779.9 1218.3,777.9 1220.8,777.8 1223.3,779.2 1225.8,779.2 1228.3,778.5" fill="none" stroke="#ff0000" stroke-width="2.8" stroke-linejoin="round"/>
<polyline points="721.2,789.6 723.7,789.7 726.2,789.6 728.7,789.8 731.2,789.7 733.8,789.6 736.3,789.6 738.8,789.5 741.3,789.8 743.8,789.4 746.3,789.6 748.8,789.6 751.3,789.8 753.8,789.7 756.3,789.4 758.9,789.7 761.4,789.4 763.9,789.2 766.4,789.1 768.9,789.0 771.4,789.4 773.9,789.6 776.4,789.0 778.9,789.2 781.4,789.0 784.0,789.3 786.5,788.9 789.0,789.0 791.5,789.0 794.0,789.0 796.5,789.0 799.0,789.1 801.5,789.0 804.0,788.8 806.6,789.2 809.1,788.4 811.6,789.1 814.1,788.7 816.6,789.0 819.1,789.0 821.6,788.2 824.1,789.0 826.6,789.4 829.1,789.1 831.7,789.0 834.2,788.0 836.7,788.7 839.2,788.4 841.7,789.1 844.2,788.6 846.7,788.4 849.2,787.9 851.7,788.9 854.3,788.4 856.8,788.5 859.3,789.0 861.8,788.6 864.3,788.6 866.8,789.5 869.3,788.2 871.8,788.2 874.3,788.6 876.8,789.0 879.4,787.7 881.9,788.2 884.4,787.8 886.9,787.6 889.4,788.5 891.9,787.8 894.4,788.3 896.9,788.2 899.4,788.2 901.9,788.1 904.5,787.5 907.0,788.0 909.5,788.1 912.0,788.1 914.5,787.8 917.0,788.4 919.5,788.2 922.0,787.9 924.5,788.2 927.1,787.9 929.6,788.1 932.1,786.7 934.6,787.0 937.1,787.5 939.6,787.7 942.1,786.5 944.6,787.5 947.1,787.7 949.6,787.4 952.2,787.4 954.7,786.7 957.2,787.5 959.7,786.3 962.2,787.9 964.7,787.0 967.2,787.9 969.7,786.3 972.2,787.5 974.8,787.3 977.3,786.7 979.8,786.5 982.3,787.8 984.8,787.4 987.3,788.0 989.8,787.0 992.3,787.1 994.8,787.2 997.3,787.4 999.9,787.2 1002.4,787.4 1004.9,786.6 1007.4,785.9 1009.9,788.1 1012.4,786.9 1014.9,787.0 1017.4,786.4 1019.9,787.3 1022.4,786.8 1025.0,787.3 1027.5,786.2 1030.0,786.5 1032.5,786.7 1035.0,786.3 1037.5,786.7 1040.0,787.5 1042.5,786.0 1045.0,786.2 1047.6,786.5 1050.1,785.7 1052.6,785.5 1055.1,787.0 1057.6,786.8 1060.1,785.1 1062.6,785.2 1065.1,786.6 1067.6,786.9 1070.1,786.5 1072.7,786.4 1075.2,787.1 1077.7,785.9 1080.2,786.8 1082.7,786.7 1085.2,785.2 1087.7,786.3 1090.2,785.8 1092.7,785.3 1095.2,785.1 1097.8,785.9 1100.3,785.6 1102.8,786.2 1105.3,784.3 1107.8,785.1 1110.3,786.3 1112.8,785.5 1115.3,784.9 1117.8,785.1 1120.4,784.0 1122.9,784.3 1125.4,785.7 1127.9,785.3 1130.4,786.2 1132.9,785.0 1135.4,785.1 1137.9,783.1 1140.4,785.0 1142.9,786.6 1145.5,785.5 1148.0,784.9 1150.5,785.9 1153.0,785.6 1155.5,785.2 1158.0,784.6 1160.5,784.9 1163.0,785.5 1165.5,784.1 1168.1,785.1 1170.6,785.1 1173.1,785.7 1175.6,785.2 1178.1,784.0 1180.6,785.8 1183.1,784.5 1185.6,783.9 1188.1,784.7 1190.6,784.2 1193.2,785.2 1195.7,783.3 1198.2,783.4 1200.7,784.0 1203.2,785.6 1205.7,785.0 1208.2,783.3 1210.7,782.7 1213.2,783.8 1215.7,783.0 1218.3,784.5 1220.8,784.1 1223.3,783.9 1225.8,783.5 1228.3,785.1" fill="none" stroke="#ff0000" stroke-width="2.8" stroke-linejoin="round"/>
<polyline points="721.2,793.1 723.7,793.0 726.2,793.2 728.7,793.2 731.2,793.0 733.8,793.1 736.3,793.4 738.8,792.9 741.3,793.0 743.8,793.1 746.3,792.6 748.8,793.0 751.3,793.1 753.8,793.0 756.3,793.2 758.9,793.1 761.4,792.9 763.9,793.1 766.4,793.0 768.9,792.5 771.4,792.7 773.9,792.7 776.4,792.7 778.9,792.7 781.4,792.4 784.0,792.8 786.5,792.3 789.0,793.1 791.5,792.9 794.0,793.2 796.5,792.9 799.0,792.6 801.5,792.2 804.0,792.9 806.6,792.7 809.1,792.8 811.6,792.9 814.1,793.1 816.6,792.6 819.1,793.2 821.6,792.6 824.1,792.6 826.6,792.8 829.1,792.9 831.7,793.1 834.2,791.8 836.7,793.0 839.2,791.9 841.7,792.2 844.2,792.6 846.7,792.9 849.2,792.0 851.7,791.7 854.3,792.8 856.8,792.5 859.3,791.9 861.8,792.2 864.3,791.4 866.8,792.5 869.3,792.0 871.8,792.8 874.3,791.3 876.8,792.5 879.4,793.2 881.9,792.2 884.4,792.2 886.9,791.2 889.4,792.3 891.9,792.1 894.4,791.8 896.9,791.3 899.4,792.1 901.9,791.5 904.5,791.7 907.0,792.1 909.5,791.9 912.0,791.9 914.5,792.4 917.0,791.3 919.5,792.6 922.0,791.3 924.5,791.3 927.1,791.9 929.6,792.2 932.1,791.9 934.6,791.5 937.1,791.3 939.6,791.6 942.1,791.2 944.6,792.0 947.1,791.5 949.6,792.5 952.2,791.2 954.7,791.5 957.2,791.8 959.7,790.9 962.2,791.1 964.7,793.1 967.2,791.5 969.7,792.3 972.2,790.8 974.8,790.0 977.3,791.7 979.8,791.3 982.3,791.5 984.8,791.1 987.3,790.9 989.8,790.5 992.3,791.9 994.8,790.3 997.3,791.8 999.9,791.0 1002.4,790.5 1004.9,790.7 1007.4,791.7 1009.9,791.6 1012.4,791.4 1014.9,791.1 1017.4,790.3 1019.9,791.9 1022.4,790.7 1025.0,790.6 1027.5,790.6 1030.0,790.6 1032.5,789.9 1035.0,790.6 1037.5,790.3 1040.0,790.5 1042.5,789.6 1045.0,792.1 1047.6,789.9 1050.1,790.9 1052.6,790.9 1055.1,791.4 1057.6,791.9 1060.1,790.9 1062.6,791.1 1065.1,790.3 1067.6,791.6 1070.1,789.6 1072.7,790.4 1075.2,790.7 1077.7,791.0 1080.2,791.0 1082.7,791.2 1085.2,790.8 1087.7,790.4 1090.2,790.5 1092.7,791.4 1095.2,790.5 1097.8,790.9 1100.3,790.2 1102.8,788.9 1105.3,789.8 1107.8,790.4 1110.3,791.4 1112.8,791.2 1115.3,791.4 1117.8,789.6 1120.4,790.7 1122.9,790.0 1125.4,790.5 1127.9,789.9 1130.4,788.9 1132.9,790.5 1135.4,790.2 1137.9,790.5 1140.4,789.2 1142.9,790.6 1145.5,790.7 1148.0,790.9 1150.5,790.9 1153.0,789.4 1155.5,787.8 1158.0,790.5 1160.5,789.0 1163.0,789.5 1165.5,790.5 1168.1,789.8 1170.6,789.8 1173.1,790.1 1175.6,788.0 1178.1,791.0 1180.6,789.2 1183.1,789.2 1185.6,789.9 1188.1,789.3 1190.6,788.7 1193.2,789.2 1195.7,789.0 1198.2,788.7 1200.7,790.9 1203.2,788.1 1205.7,787.4 1208.2,788.4 1210.7,788.3 1213.2,790.3 1215.7,789.2 1218.3,789.8 1220.8,789.6 1223.3,788.2 1225.8,789.7 1228.3,789.1" fill="none" stroke="#ff0000" stroke-width="2.8" stroke-linejoin="round"/>
<polyline points="721.2,797.1 723.7,797.1 726.2,797.1 728.7,797.1 731.2,797.1 733.8,796.8 736.3,797.2 738.8,797.2 741.3,797.2 743.8,796.8 746.3,796.6 748.8,796.9 751.3,797.1 753.8,797.1 756.3,796.7 758.9,797.2 761.4,796.6 763.9,796.6 766.4,796.9 768.9,796.8 771.4,796.7 773.9,796.5 776.4,797.2 778.9,796.6 781.4,797.0 784.0,797.1 786.5,796.8 789.0,796.9 791.5,797.2 794.0,797.3 796.5,797.1 799.0,796.3 801.5,796.2 804.0,796.6 806.6,796.4 809.1,796.9 811.6,796.8 814.1,796.6 816.6,797.1 819.1,797.1 821.6,796.7 824.1,796.8 826.6,797.1 829.1,796.5 831.7,796.8 834.2,796.3 836.7,796.6 839.2,796.8 841.7,796.6 844.2,796.7 846.7,796.9 849.2,796.7 851.7,796.3 854.3,796.3 856.8,796.0 859.3,797.3 861.8,796.7 864.3,796.7 866.8,796.4 869.3,796.7 871.8,796.7 874.3,796.1 876.8,796.4 879.4,797.0 881.9,795.8 884.4,795.9 886.9,796.7 889.4,796.0 891.9,796.7 894.4,795.8 896.9,796.4 899.4,796.7 901.9,796.5 904.5,796.7 907.0,796.2 909.5,796.2 912.0,796.2 914.5,796.5 917.0,798.1 919.5,796.2 922.0,797.2 924.5,796.1 927.1,795.6 929.6,796.0 932.1,796.3 934.6,796.2 937.1,796.2 939.6,796.4 942.1,796.4 944.6,796.6 947.1,795.4 949.6,796.0 952.2,795.5 954.7,796.1 957.2,796.0 959.7,796.1 962.2,795.7 964.7,795.5 967.2,795.8 969.7,796.3 972.2,796.4 974.8,794.9 977.3,796.0 979.8,796.0 982.3,795.0 984.8,795.2 987.3,795.5 989.8,796.0 992.3,794.4 994.8,795.5 997.3,795.4 999.9,795.8 1002.4,796.6 1004.9,796.5 1007.4,795.4 1009.9,795.4 1012.4,795.8 1014.9,796.4 1017.4,796.5 1019.9,795.8 1022.4,796.5 1025.0,795.0 1027.5,794.8 1030.0,793.7 1032.5,795.0 1035.0,795.9 1037.5,796.1 1040.0,797.7 1042.5,795.9 1045.0,795.6 1047.6,794.8 1050.1,795.0 1052.6,795.0 1055.1,795.2 1057.6,794.9 1060.1,794.4 1062.6,796.1 1065.1,795.6 1067.6,796.2 1070.1,794.2 1072.7,794.4 1075.2,794.7 1077.7,796.1 1080.2,795.1 1082.7,795.4 1085.2,795.1 1087.7,795.3 1090.2,794.8 1092.7,795.4 1095.2,794.5 1097.8,794.9 1100.3,795.3 1102.8,795.1 1105.3,795.4 1107.8,794.4 1110.3,795.2 1112.8,794.8 1115.3,795.3 1117.8,796.0 1120.4,794.3 1122.9,795.7 1125.4,794.4 1127.9,794.6 1130.4,796.1 1132.9,795.6 1135.4,795.2 1137.9,795.4 1140.4,795.7 1142.9,794.2 1145.5,794.9 1148.0,794.4 1150.5,795.1 1153.0,794.5 1155.5,795.3 1158.0,794.7 1160.5,794.2 1163.0,794.6 1165.5,795.0 1168.1,795.4 1170.6,794.5 1173.1,794.3 1175.6,794.7 1178.1,795.1 1180.6,794.1 1183.1,792.5 1185.6,794.7 1188.1,794.2 1190.6,794.1 1193.2,796.5 1195.7,794.3 1198.2,794.9 1200.7,793.2 1203.2,794.5 1205.7,795.0 1208.2,794.5 1210.7,794.2 1213.2,794.7 1215.7,794.3 1218.3,795.3 1220.8,794.4 1223.3,793.6 1225.8,792.5 1228.3,793.6" fill="none" stroke="#ff0000" stroke-width="2.8" stroke-linejoin="round"/>
<polyline points="721.2,799.7 723.7,799.6 726.2,799.6 728.7,799.5 731.2,799.5 733.8,799.7 736.3,799.6 738.8,799.6 741.3,799.6 743.8,799.6 746.3,799.8 748.8,800.1 751.3,799.8 753.8,800.1 756.3,799.6 758.9,799.6 761.4,800.0 763.9,799.5 766.4,799.4 768.9,799.6 771.4,799.2 773.9,799.1 776.4,800.0 778.9,799.3 781.4,799.5 784.0,799.5 786.5,799.4 789.0,799.9 791.5,799.8 794.0,799.9 796.5,799.9 799.0,799.7 801.5,800.1 804.0,800.0 806.6,799.4 809.1,799.6 811.6,799.5 814.1,800.3 816.6,799.9 819.1,799.8 821.6,799.6 824.1,799.8 826.6,799.3 829.1,799.6 831.7,799.6 834.2,799.6 836.7,799.3 839.2,799.8 841.7,799.2 844.2,799.4 846.7,799.5 849.2,799.6 851.7,799.4 854.3,799.2 856.8,799.2 859.3,799.4 861.8,799.2 864.3,799.5 866.8,799.0 869.3,799.6 871.8,800.5 874.3,799.0 876.8,799.5 879.4,800.1 881.9,799.7 884.4,800.0 886.9,798.6 889.4,799.3 891.9,800.3 894.4,799.3 896.9,799.8 899.4,798.6 901.9,800.1 904.5,800.7 907.0,799.5 909.5,799.7 912.0,799.8 914.5,800.7 917.0,799.3 919.5,798.7 922.0,800.6 924.5,798.9 927.1,799.9 929.6,798.3 932.1,799.3 934.6,799.7 937.1,799.0 939.6,799.3 942.1,799.9 944.6,799.2 947.1,799.8 949.6,800.5 952.2,798.4 954.7,799.7 957.2,799.9 959.7,799.3 962.2,800.4 964.7,800.3 967.2,799.8 969.7,799.8 972.2,799.5 974.8,798.9 977.3,799.8 979.8,799.2 982.3,799.2 984.8,800.2 987.3,799.4 989.8,800.1 992.3,798.9 994.8,799.2 997.3,799.5 999.9,800.3 1002.4,799.4 1004.9,800.0 1007.4,799.1 1009.9,799.6 1012.4,800.0 1014.9,798.9 1017.4,799.0 1019.9,799.9 1022.4,798.7 1025.0,799.7 1027.5,799.7 1030.0,799.4 1032.5,800.0 1035.0,799.8 1037.5,799.6 1040.0,798.5 1042.5,798.5 1045.0,799.6 1047.6,798.4 1050.1,799.5 1052.6,799.2 1055.1,798.9 1057.6,799.3 1060.1,797.8 1062.6,799.3 1065.1,800.3 1067.6,798.6 1070.1,799.7 1072.7,799.7 1075.2,801.5 1077.7,798.8 1080.2,798.9 1082.7,798.9 1085.2,798.8 1087.7,798.2 1090.2,799.5 1092.7,798.8 1095.2,800.0 1097.8,799.7 1100.3,798.7 1102.8,799.1 1105.3,800.4 1107.8,799.2 1110.3,799.6 1112.8,800.0 1115.3,799.1 1117.8,799.7 1120.4,800.6 1122.9,800.2 1125.4,798.1 1127.9,800.5 1130.4,799.2 1132.9,799.0 1135.4,798.9 1137.9,800.3 1140.4,799.6 1142.9,799.3 1145.5,798.8 1148.0,799.9 1150.5,800.3 1153.0,798.6 1155.5,798.5 1158.0,799.1 1160.5,799.9 1163.0,799.1 1165.5,799.3 1168.1,798.7 1170.6,800.4 1173.1,799.3 1175.6,799.5 1178.1,800.2 1180.6,799.2 1183.1,799.3 1185.6,799.7 1188.1,799.0 1190.6,800.5 1193.2,799.4 1195.7,799.0 1198.2,799.1 1200.7,798.5 1203.2,800.3 1205.7,800.6 1208.2,799.2 1210.7,799.0 1213.2,797.6 1215.7,798.8 1218.3,800.1 1220.8,798.7 1223.3,800.0 1225.8,800.6 1228.3,797.2" fill="none" stroke="#ff0000" stroke-width="2.8" stroke-linejoin="round"/>
<polyline points="721.2,802.9 723.7,802.9 726.2,802.9 728.7,802.8 731.2,802.9 733.8,802.8 736.3,803.1 738.8,803.2 741.3,802.7 743.8,802.7 746.3,802.9 748.8,802.9 751.3,802.9 753.8,803.1 756.3,802.7 758.9,802.8 761.4,802.9 763.9,802.9 766.4,802.7 768.9,802.9 771.4,802.8 773.9,803.3 776.4,802.9 778.9,802.4 781.4,803.2 784.0,803.1 786.5,802.8 789.0,802.8 791.5,802.9 794.0,803.6 796.5,802.9 799.0,803.5 801.5,803.4 804.0,802.9 806.6,803.2 809.1,802.8 811.6,802.0 814.1,802.8 816.6,802.9 819.1,803.5 821.6,803.4 824.1,803.5 826.6,803.3 829.1,803.6 831.7,803.4 834.2,803.2 836.7,803.6 839.2,803.7 841.7,803.7 844.2,803.0 846.7,803.2 849.2,802.8 851.7,802.8 854.3,803.4 856.8,802.9 859.3,803.9 861.8,802.2 864.3,802.7 866.8,803.3 869.3,803.8 871.8,803.1 874.3,804.1 876.8,803.6 879.4,802.9 881.9,803.3 884.4,803.5 886.9,802.9 889.4,803.8 891.9,803.2 894.4,803.6 896.9,803.7 899.4,803.1 901.9,803.8 904.5,802.4 907.0,803.7 909.5,802.4 912.0,803.9 914.5,803.1 917.0,804.0 919.5,804.1 922.0,803.3 924.5,803.1 927.1,804.1 929.6,802.8 932.1,803.9 934.6,803.4 937.1,803.2 939.6,803.1 942.1,804.5 944.6,802.6 947.1,803.2 949.6,803.7 952.2,804.1 954.7,804.5 957.2,804.3 959.7,803.2 962.2,803.7 964.7,804.2 967.2,803.9 969.7,802.6 972.2,803.8 974.8,803.9 977.3,802.8 979.8,803.3 982.3,803.6 984.8,804.0 987.3,804.5 989.8,804.3 992.3,803.9 994.8,803.8 997.3,803.4 999.9,803.3 1002.4,803.5 1004.9,803.5 1007.4,804.3 1009.9,805.0 1012.4,804.0 1014.9,804.3 1017.4,804.1 1019.9,803.9 1022.4,804.5 1025.0,804.5 1027.5,803.8 1030.0,803.7 1032.5,804.2 1035.0,803.4 1037.5,803.9 1040.0,804.5 1042.5,803.8 1045.0,802.6 1047.6,804.3 1050.1,803.0 1052.6,802.9 1055.1,802.8 1057.6,804.4 1060.1,802.5 1062.6,803.8 1065.1,804.1 1067.6,804.0 1070.1,803.5 1072.7,803.9 1075.2,804.0 1077.7,803.0 1080.2,804.4 1082.7,804.7 1085.2,803.4 1087.7,803.5 1090.2,803.2 1092.7,804.7 1095.2,803.2 1097.8,803.7 1100.3,802.7 1102.8,804.9 1105.3,803.9 1107.8,804.2 1110.3,805.2 1112.8,804.6 1115.3,803.2 1117.8,804.4 1120.4,804.6 1122.9,803.4 1125.4,803.4 1127.9,803.4 1130.4,804.7 1132.9,804.2 1135.4,803.4 1137.9,804.6 1140.4,804.7 1142.9,803.5 1145.5,803.0 1148.0,805.1 1150.5,806.2 1153.0,805.3 1155.5,805.0 1158.0,804.3 1160.5,803.8 1163.0,804.4 1165.5,804.8 1168.1,804.1 1170.6,805.0 1173.1,804.3 1175.6,804.8 1178.1,802.2 1180.6,803.7 1183.1,805.0 1185.6,805.1 1188.1,804.7 1190.6,805.7 1193.2,804.9 1195.7,805.0 1198.2,803.7 1200.7,804.7 1203.2,805.0 1205.7,805.5 1208.2,805.4 1210.7,804.5 1213.2,804.6 1215.7,803.5 1218.3,805.0 1220.8,803.6 1223.3,804.3 1225.8,804.5 1228.3,806.2" fill="none" stroke="#ff0000" stroke-width="2.8" stroke-linejoin="round"/>
<polyline points="721.2,818.7 723.7,818.6 726.2,818.5 728.7,818.6 731.2,818.5 733.8,818.7 736.3,818.6 738.8,818.7 741.3,818.4 743.8,818.5 746.3,818.6 748.8,818.6 751.3,818.4 753.8,818.4 756.3,818.6 758.9,818.0 761.4,818.3 763.9,818.4 766.4,818.0 768.9,818.1 771.4,818.3 773.9,818.1 776.4,818.5 778.9,818.4 781.4,818.9 784.0,817.8 786.5,818.7 789.0,817.9 791.5,818.4 794.0,818.4 796.5,818.1 799.0,817.9 801.5,817.8 804.0,817.4 806.6,817.8 809.1,817.6 811.6,818.1 814.1,817.6 816.6,817.8 819.1,818.0 821.6,817.8 824.1,817.8 826.6,817.6 829.1,817.5 831.7,817.9 834.2,817.9 836.7,817.3 839.2,818.2 841.7,817.8 844.2,816.9 846.7,818.6 849.2,817.7 851.7,817.1 854.3,818.1 856.8,816.2 859.3,818.4 861.8,816.7 864.3,816.6 866.8,816.8 869.3,817.3 871.8,817.0 874.3,817.5 876.8,816.7 879.4,817.6 881.9,817.2 884.4,816.5 886.9,817.5 889.4,817.1 891.9,816.8 894.4,817.5 896.9,816.3 899.4,816.6 901.9,817.5 904.5,816.8 907.0,817.1 909.5,817.0 912.0,816.6 914.5,817.0 917.0,816.1 919.5,816.9 922.0,816.0 924.5,816.5 927.1,816.0 929.6,816.7 932.1,816.6 934.6,816.9 937.1,816.0 939.6,815.7 942.1,815.0 944.6,815.5 947.1,816.0 949.6,816.2 952.2,815.8 954.7,816.0 957.2,815.1 959.7,815.4 962.2,816.4 964.7,816.3 967.2,815.0 969.7,815.6 972.2,815.9 974.8,815.0 977.3,815.9 979.8,815.8 982.3,815.9 984.8,816.7 987.3,815.0 989.8,816.2 992.3,815.8 994.8,815.9 997.3,814.9 999.9,815.4 1002.4,815.3 1004.9,816.3 1007.4,815.3 1009.9,816.1 1012.4,814.9 1014.9,814.9 1017.4,815.1 1019.9,813.7 1022.4,814.6 1025.0,814.6 1027.5,814.8 1030.0,815.0 1032.5,814.2 1035.0,814.1 1037.5,815.6 1040.0,814.0 1042.5,814.3 1045.0,814.0 1047.6,814.3 1050.1,815.4 1052.6,815.3 1055.1,813.2 1057.6,814.2 1060.1,815.3 1062.6,814.1 1065.1,814.5 1067.6,815.5 1070.1,815.8 1072.7,815.3 1075.2,813.9 1077.7,814.1 1080.2,814.2 1082.7,813.8 1085.2,813.5 1087.7,815.4 1090.2,814.1 1092.7,814.4 1095.2,814.7 1097.8,814.1 1100.3,813.8 1102.8,813.8 1105.3,814.7 1107.8,813.9 1110.3,812.1 1112.8,814.2 1115.3,814.7 1117.8,813.2 1120.4,812.9 1122.9,813.0 1125.4,814.1 1127.9,812.5 1130.4,813.8 1132.9,814.0 1135.4,813.5 1137.9,813.1 1140.4,812.5 1142.9,812.5 1145.5,812.9 1148.0,812.2 1150.5,812.8 1153.0,812.1 1155.5,813.8 1158.0,813.9 1160.5,812.0 1163.0,813.7 1165.5,812.8 1168.1,812.6 1170.6,812.8 1173.1,812.8 1175.6,811.3 1178.1,814.3 1180.6,811.6 1183.1,810.4 1185.6,812.2 1188.1,812.2 1190.6,811.5 1193.2,810.6 1195.7,813.0 1198.2,811.9 1200.7,812.1 1203.2,811.4 1205.7,811.7 1208.2,811.2 1210.7,812.1 1213.2,811.6 1215.7,812.2 1218.3,812.1 1220.8,811.7 1223.3,811.6 1225.8,812.4 1228.3,810.1" fill="none" stroke="#ff0000" stroke-width="2.8" stroke-linejoin="round"/>
<polyline points="721.2,821.3 723.7,821.3 726.2,821.2 728.7,821.3 731.2,821.2 733.8,821.2 736.3,821.2 738.8,821.2 741.3,821.3 743.8,821.2 746.3,820.8 748.8,821.6 751.3,821.2 753.8,821.1 756.3,821.4 758.9,821.5 761.4,820.7 763.9,821.3 766.4,820.6 768.9,821.0 771.4,821.1 773.9,821.0 776.4,821.0 778.9,820.8 781.4,821.0 784.0,821.1 786.5,821.0 789.0,820.7 791.5,820.8 794.0,821.4 796.5,821.3 799.0,820.9 801.5,821.3 804.0,821.2 806.6,821.4 809.1,821.1 811.6,820.9 814.1,820.7 816.6,821.0 819.1,820.2 821.6,821.0 824.1,819.8 826.6,820.6 829.1,820.8 831.7,821.1 834.2,822.0 836.7,821.0 839.2,820.8 841.7,820.1 844.2,821.5 846.7,820.1 849.2,821.0 851.7,820.6 854.3,821.9 856.8,820.8 859.3,821.0 861.8,820.5 864.3,820.8 866.8,821.3 869.3,820.4 871.8,820.5 874.3,820.5 876.8,820.3 879.4,820.3 881.9,820.8 884.4,821.4 886.9,821.4 889.4,820.1 891.9,820.4 894.4,820.7 896.9,820.9 899.4,820.7 901.9,820.7 904.5,820.8 907.0,821.0 909.5,819.5 912.0,820.5 914.5,820.9 917.0,821.3 919.5,821.0 922.0,820.2 924.5,820.2 927.1,820.7 929.6,820.5 932.1,820.7 934.6,821.1 937.1,819.8 939.6,820.3 942.1,819.1 944.6,820.9 947.1,820.6 949.6,820.0 952.2,820.6 954.7,821.2 957.2,821.0 959.7,820.4 962.2,820.2 964.7,820.5 967.2,819.8 969.7,819.8 972.2,820.2 974.8,820.3 977.3,820.5 979.8,820.0 982.3,819.8 984.8,820.3 987.3,820.0 989.8,820.5 992.3,821.1 994.8,820.9 997.3,819.8 999.9,820.0 1002.4,819.2 1004.9,820.2 1007.4,819.7 1009.9,819.4 1012.4,819.5 1014.9,820.5 1017.4,820.3 1019.9,820.1 1022.4,820.8 1025.0,819.8 1027.5,819.4 1030.0,820.4 1032.5,818.8 1035.0,820.3 1037.5,820.2 1040.0,820.2 1042.5,820.5 1045.0,819.7 1047.6,820.0 1050.1,818.9 1052.6,819.6 1055.1,819.6 1057.6,820.1 1060.1,820.9 1062.6,820.0 1065.1,820.5 1067.6,819.2 1070.1,819.9 1072.7,818.7 1075.2,819.4 1077.7,819.3 1080.2,819.7 1082.7,819.7 1085.2,819.4 1087.7,819.1 1090.2,820.3 1092.7,819.4 1095.2,817.9 1097.8,819.8 1100.3,819.9 1102.8,820.2 1105.3,820.8 1107.8,818.8 1110.3,819.6 1112.8,819.4 1115.3,818.3 1117.8,817.8 1120.4,820.3 1122.9,818.8 1125.4,819.1 1127.9,819.3 1130.4,819.2 1132.9,819.6 1135.4,818.4 1137.9,819.1 1140.4,819.3 1142.9,818.6 1145.5,818.8 1148.0,819.1 1150.5,819.2 1153.0,818.1 1155.5,819.0 1158.0,819.5 1160.5,820.1 1163.0,819.7 1165.5,820.2 1168.1,819.3 1170.6,819.2 1173.1,820.9 1175.6,819.3 1178.1,818.8 1180.6,819.2 1183.1,820.0 1185.6,818.3 1188.1,819.8 1190.6,820.2 1193.2,820.1 1195.7,819.2 1198.2,818.4 1200.7,818.2 1203.2,819.0 1205.7,820.1 1208.2,819.7 1210.7,819.9 1213.2,819.3 1215.7,820.6 1218.3,819.0 1220.8,818.5 1223.3,819.2 1225.8,818.7 1228.3,819.8" fill="none" stroke="#ff0000" stroke-width="2.8" stroke-linejoin="round"/>
<polyline points="721.2,824.4 723.7,824.4 726.2,824.3 728.7,824.3 731.2,824.4 733.8,824.2 736.3,824.4 738.8,824.2 741.3,824.3 743.8,824.5 746.3,824.3 748.8,824.6 751.3,824.6 753.8,824.7 756.3,824.4 758.9,824.5 761.4,824.5 763.9,824.6 766.4,824.1 768.9,824.6 771.4,824.7 773.9,824.1 776.4,824.1 778.9,824.4 781.4,825.0 784.0,824.7 786.5,824.3 789.0,824.5 791.5,824.1 794.0,825.0 796.5,824.3 799.0,824.8 801.5,824.1 804.0,824.6 806.6,824.2 809.1,824.8 811.6,825.1 814.1,825.0 816.6,824.8 819.1,825.0 821.6,824.2 824.1,824.1 826.6,824.6 829.1,825.1 831.7,824.7 834.2,825.0 836.7,824.1 839.2,824.6 841.7,824.5 844.2,824.9 846.7,825.6 849.2,825.1 851.7,825.2 854.3,824.6 856.8,824.7 859.3,825.1 861.8,825.0 864.3,824.1 866.8,825.2 869.3,825.2 871.8,824.9 874.3,825.2 876.8,825.1 879.4,824.6 881.9,824.1 884.4,825.7 886.9,824.9 889.4,824.9 891.9,825.0 894.4,825.0 896.9,825.1 899.4,824.5 901.9,825.2 904.5,825.0 907.0,825.0 909.5,824.9 912.0,825.1 914.5,824.5 917.0,825.0 919.5,824.9 922.0,825.1 924.5,825.6 927.1,825.5 929.6,825.6 932.1,825.0 934.6,825.5 937.1,825.7 939.6,825.0 942.1,824.9 944.6,826.1 947.1,824.2 949.6,825.2 952.2,825.2 954.7,824.6 957.2,825.2 959.7,825.6 962.2,824.0 964.7,825.9 967.2,825.3 969.7,824.8 972.2,825.9 974.8,825.4 977.3,825.1 979.8,823.9 982.3,825.9 984.8,825.4 987.3,825.0 989.8,825.3 992.3,826.1 994.8,825.1 997.3,825.3 999.9,825.1 1002.4,824.7 1004.9,824.8 1007.4,825.2 1009.9,825.3 1012.4,826.2 1014.9,825.6 1017.4,825.4 1019.9,825.8 1022.4,825.5 1025.0,826.1 1027.5,824.6 1030.0,824.2 1032.5,825.8 1035.0,825.3 1037.5,825.8 1040.0,824.8 1042.5,825.3 1045.0,825.6 1047.6,825.8 1050.1,825.6 1052.6,826.4 1055.1,825.2 1057.6,826.2 1060.1,825.4 1062.6,825.6 1065.1,825.0 1067.6,825.8 1070.1,825.1 1072.7,826.4 1075.2,825.4 1077.7,826.0 1080.2,825.7 1082.7,825.8 1085.2,825.2 1087.7,827.3 1090.2,825.7 1092.7,827.0 1095.2,825.1 1097.8,827.3 1100.3,826.7 1102.8,827.2 1105.3,824.8 1107.8,826.9 1110.3,825.9 1112.8,826.4 1115.3,827.3 1117.8,826.3 1120.4,825.6 1122.9,826.2 1125.4,825.4 1127.9,826.4 1130.4,826.1 1132.9,826.4 1135.4,825.9 1137.9,824.7 1140.4,825.9 1142.9,826.0 1145.5,826.7 1148.0,826.8 1150.5,825.1 1153.0,827.1 1155.5,826.9 1158.0,826.3 1160.5,826.6 1163.0,824.8 1165.5,828.1 1168.1,826.0 1170.6,825.8 1173.1,827.2 1175.6,826.9 1178.1,826.0 1180.6,825.1 1183.1,827.1 1185.6,827.7 1188.1,825.7 1190.6,825.2 1193.2,826.7 1195.7,828.2 1198.2,825.3 1200.7,826.7 1203.2,825.6 1205.7,826.6 1208.2,826.9 1210.7,826.9 1213.2,825.4 1215.7,825.4 1218.3,828.4 1220.8,827.4 1223.3,825.2 1225.8,827.0 1228.3,827.8" fill="none" stroke="#ff0000" stroke-width="2.8" stroke-linejoin="round"/>
<polyline points="721.2,827.0 723.7,827.0 726.2,827.0 728.7,827.0 731.2,827.0 733.8,827.1 736.3,827.0 738.8,827.2 741.3,827.1 743.8,827.1 746.3,826.9 748.8,827.0 751.3,827.2 753.8,827.0 756.3,827.1 758.9,827.0 761.4,827.1 763.9,826.8 766.4,826.9 768.9,827.3 771.4,827.4 773.9,827.1 776.4,827.2 778.9,827.4 781.4,827.8 784.0,828.0 786.5,827.4 789.0,827.3 791.5,827.3 794.0,827.9 796.5,827.2 799.0,827.8 801.5,827.5 804.0,827.5 806.6,827.9 809.1,827.9 811.6,828.5 814.1,828.1 816.6,828.4 819.1,827.7 821.6,827.8 824.1,827.5 826.6,827.8 829.1,828.2 831.7,827.8 834.2,828.1 836.7,827.8 839.2,827.9 841.7,828.5 844.2,828.1 846.7,828.1 849.2,828.3 851.7,827.8 854.3,827.5 856.8,828.4 859.3,828.5 861.8,829.3 864.3,828.4 866.8,828.6 869.3,829.4 871.8,828.3 874.3,828.2 876.8,828.9 879.4,828.7 881.9,829.0 884.4,828.3 886.9,829.4 889.4,828.8 891.9,827.8 894.4,828.7 896.9,828.6 899.4,828.9 901.9,829.5 904.5,828.9 907.0,828.7 909.5,829.5 912.0,828.8 914.5,828.4 917.0,828.5 919.5,829.9 922.0,829.7 924.5,830.0 927.1,828.7 929.6,828.9 932.1,828.9 934.6,829.8 937.1,830.0 939.6,829.4 942.1,829.4 944.6,830.0 947.1,829.4 949.6,829.2 952.2,829.5 954.7,830.2 957.2,830.9 959.7,829.9 962.2,829.6 964.7,829.9 967.2,830.1 969.7,830.3 972.2,829.5 974.8,830.0 977.3,829.9 979.8,830.6 982.3,830.4 984.8,830.0 987.3,830.7 989.8,830.9 992.3,830.4 994.8,829.5 997.3,830.2 999.9,829.4 1002.4,830.4 1004.9,830.6 1007.4,831.3 1009.9,830.8 1012.4,829.6 1014.9,830.4 1017.4,830.1 1019.9,830.2 1022.4,830.7 1025.0,830.9 1027.5,830.7 1030.0,830.4 1032.5,830.5 1035.0,830.6 1037.5,830.8 1040.0,831.5 1042.5,831.2 1045.0,831.7 1047.6,830.4 1050.1,832.5 1052.6,831.3 1055.1,829.6 1057.6,831.5 1060.1,832.1 1062.6,831.4 1065.1,830.5 1067.6,831.5 1070.1,831.0 1072.7,831.4 1075.2,831.8 1077.7,829.4 1080.2,831.6 1082.7,832.1 1085.2,832.1 1087.7,831.5 1090.2,831.5 1092.7,831.3 1095.2,831.8 1097.8,833.0 1100.3,831.6 1102.8,832.2 1105.3,832.3 1107.8,833.2 1110.3,832.6 1112.8,832.7 1115.3,832.3 1117.8,833.4 1120.4,832.3 1122.9,832.3 1125.4,833.2 1127.9,832.9 1130.4,833.1 1132.9,831.9 1135.4,834.5 1137.9,832.9 1140.4,833.9 1142.9,833.1 1145.5,832.1 1148.0,833.3 1150.5,832.8 1153.0,833.6 1155.5,831.5 1158.0,832.3 1160.5,832.2 1163.0,834.1 1165.5,834.0 1168.1,832.3 1170.6,833.4 1173.1,833.5 1175.6,833.1 1178.1,834.3 1180.6,832.8 1183.1,833.4 1185.6,833.1 1188.1,834.1 1190.6,833.2 1193.2,834.2 1195.7,832.9 1198.2,832.8 1200.7,833.0 1203.2,833.4 1205.7,833.4 1208.2,836.1 1210.7,833.3 1213.2,834.2 1215.7,834.0 1218.3,834.3 1220.8,835.3 1223.3,834.6 1225.8,833.7 1228.3,833.1" fill="none" stroke="#ff0000" stroke-width="2.8" stroke-linejoin="round"/>
<polyline points="721.2,828.7 723.7,828.7 726.2,828.6 728.7,828.8 731.2,828.5 733.8,828.8 736.3,828.9 738.8,828.7 741.3,828.6 743.8,829.2 746.3,828.7 748.8,829.0 751.3,828.7 753.8,829.1 756.3,829.4 758.9,829.0 761.4,829.0 763.9,828.7 766.4,828.8 768.9,829.1 771.4,829.4 773.9,829.5 776.4,829.5 778.9,829.7 781.4,829.6 784.0,830.3 786.5,829.5 789.0,829.7 791.5,828.9 794.0,829.5 796.5,829.9 799.0,829.7 801.5,830.3 804.0,830.1 806.6,830.6 809.1,829.5 811.6,829.9 814.1,830.6 816.6,830.2 819.1,829.9 821.6,830.1 824.1,830.2 826.6,830.7 829.1,830.7 831.7,830.5 834.2,830.2 836.7,830.9 839.2,831.1 841.7,830.3 844.2,831.2 846.7,830.4 849.2,830.8 851.7,830.6 854.3,830.3 856.8,830.8 859.3,830.8 861.8,831.6 864.3,831.5 866.8,831.0 869.3,830.7 871.8,830.8 874.3,830.4 876.8,831.4 879.4,831.5 881.9,831.2 884.4,831.7 886.9,831.8 889.4,832.3 891.9,831.4 894.4,832.5 896.9,831.8 899.4,832.8 901.9,831.6 904.5,832.7 907.0,831.8 909.5,833.1 912.0,832.6 914.5,831.9 917.0,832.9 919.5,832.6 922.0,832.9 924.5,833.9 927.1,832.6 929.6,832.6 932.1,833.5 934.6,832.7 937.1,833.5 939.6,833.7 942.1,833.2 944.6,833.6 947.1,832.0 949.6,834.2 952.2,833.0 954.7,833.0 957.2,834.7 959.7,834.6 962.2,833.4 964.7,834.1 967.2,833.6 969.7,833.3 972.2,834.2 974.8,834.7 977.3,835.7 979.8,834.1 982.3,834.8 984.8,834.1 987.3,834.3 989.8,835.3 992.3,833.5 994.8,834.0 997.3,834.2 999.9,835.5 1002.4,835.1 1004.9,835.2 1007.4,835.2 1009.9,835.7 1012.4,834.8 1014.9,835.0 1017.4,835.0 1019.9,835.7 1022.4,834.6 1025.0,835.4 1027.5,837.3 1030.0,836.0 1032.5,835.7 1035.0,835.1 1037.5,836.0 1040.0,836.1 1042.5,836.4 1045.0,835.6 1047.6,836.4 1050.1,836.6 1052.6,836.8 1055.1,836.0 1057.6,836.8 1060.1,837.7 1062.6,836.2 1065.1,837.2 1067.6,836.5 1070.1,836.6 1072.7,836.1 1075.2,836.3 1077.7,837.5 1080.2,837.2 1082.7,838.1 1085.2,836.1 1087.7,837.1 1090.2,836.5 1092.7,837.7 1095.2,839.1 1097.8,836.6 1100.3,837.7 1102.8,837.7 1105.3,837.9 1107.8,837.5 1110.3,837.7 1112.8,839.3 1115.3,837.4 1117.8,838.7 1120.4,838.7 1122.9,837.2 1125.4,837.9 1127.9,838.9 1130.4,840.1 1132.9,838.7 1135.4,838.5 1137.9,839.0 1140.4,840.0 1142.9,839.7 1145.5,840.1 1148.0,839.1 1150.5,838.7 1153.0,838.6 1155.5,840.1 1158.0,839.4 1160.5,839.2 1163.0,840.1 1165.5,839.9 1168.1,838.3 1170.6,839.8 1173.1,839.4 1175.6,840.5 1178.1,840.2 1180.6,841.7 1183.1,840.4 1185.6,839.5 1188.1,838.9 1190.6,839.7 1193.2,840.2 1195.7,840.8 1198.2,841.4 1200.7,841.1 1203.2,840.6 1205.7,841.8 1208.2,840.5 1210.7,842.1 1213.2,842.9 1215.7,842.3 1218.3,842.9 1220.8,842.8 1223.3,840.8 1225.8,842.0 1228.3,841.7" fill="none" stroke="#ff0000" stroke-width="2.8" stroke-linejoin="round"/>
<polyline points="721.2,830.4 723.7,830.4 726.2,830.5 728.7,830.4 731.2,830.5 733.8,830.6 736.3,830.5 738.8,830.9 741.3,830.8 743.8,830.8 746.3,830.7 748.8,830.9 751.3,830.9 753.8,830.7 756.3,830.7 758.9,830.9 761.4,830.8 763.9,831.3 766.4,831.3 768.9,831.2 771.4,831.4 773.9,831.6 776.4,831.0 778.9,831.6 781.4,831.9 784.0,831.5 786.5,831.2 789.0,831.8 791.5,831.5 794.0,832.1 796.5,832.2 799.0,832.3 801.5,832.2 804.0,831.6 806.6,832.7 809.1,831.8 811.6,832.8 814.1,832.6 816.6,832.3 819.1,832.4 821.6,832.6 824.1,833.4 826.6,832.8 829.1,833.4 831.7,832.1 834.2,833.2 836.7,833.1 839.2,833.7 841.7,833.6 844.2,834.0 846.7,833.1 849.2,833.7 851.7,833.4 854.3,834.1 856.8,834.1 859.3,833.4 861.8,834.4 864.3,834.9 866.8,834.0 869.3,834.8 871.8,834.6 874.3,834.0 876.8,834.9 879.4,834.2 881.9,835.0 884.4,834.1 886.9,834.2 889.4,835.2 891.9,835.2 894.4,835.5 896.9,835.1 899.4,834.8 901.9,836.1 904.5,835.0 907.0,836.3 909.5,836.1 912.0,836.7 914.5,834.8 917.0,835.9 919.5,835.9 922.0,836.5 924.5,835.7 927.1,837.4 929.6,836.4 932.1,835.3 934.6,836.8 937.1,836.7 939.6,836.4 942.1,837.4 944.6,837.0 947.1,836.6 949.6,837.1 952.2,837.1 954.7,837.6 957.2,837.3 959.7,837.6 962.2,836.9 964.7,837.4 967.2,838.0 969.7,839.4 972.2,837.7 974.8,837.7 977.3,838.8 979.8,839.6 982.3,839.2 984.8,838.0 987.3,839.3 989.8,839.1 992.3,838.8 994.8,838.2 997.3,839.1 999.9,839.3 1002.4,839.6 1004.9,838.4 1007.4,838.8 1009.9,839.7 1012.4,840.6 1014.9,840.3 1017.4,839.6 1019.9,840.5 1022.4,839.6 1025.0,840.0 1027.5,840.2 1030.0,840.0 1032.5,840.2 1035.0,841.2 1037.5,841.0 1040.0,839.3 1042.5,841.8 1045.0,841.4 1047.6,840.5 1050.1,841.4 1052.6,842.0 1055.1,842.4 1057.6,841.3 1060.1,841.1 1062.6,840.9 1065.1,841.9 1067.6,841.4 1070.1,842.9 1072.7,842.2 1075.2,842.9 1077.7,842.4 1080.2,842.1 1082.7,842.0 1085.2,843.5 1087.7,842.1 1090.2,843.4 1092.7,843.9 1095.2,843.4 1097.8,844.5 1100.3,843.5 1102.8,843.4 1105.3,843.9 1107.8,843.5 1110.3,844.2 1112.8,844.1 1115.3,845.3 1117.8,844.3 1120.4,845.1 1122.9,844.9 1125.4,844.7 1127.9,844.6 1130.4,846.1 1132.9,846.2 1135.4,845.3 1137.9,844.9 1140.4,845.1 1142.9,844.8 1145.5,844.6 1148.0,845.3 1150.5,845.8 1153.0,846.7 1155.5,846.8 1158.0,846.5 1160.5,846.1 1163.0,846.2 1165.5,846.5 1168.1,846.8 1170.6,846.3 1173.1,846.7 1175.6,846.8 1178.1,846.9 1180.6,847.7 1183.1,848.2 1185.6,847.1 1188.1,847.3 1190.6,847.9 1193.2,848.2 1195.7,846.1 1198.2,848.7 1200.7,848.4 1203.2,848.1 1205.7,849.4 1208.2,848.5 1210.7,847.2 1213.2,848.1 1215.7,848.4 1218.3,848.6 1220.8,849.1 1223.3,848.5 1225.8,849.6 1228.3,849.9" fill="none" stroke="#ff0000" stroke-width="2.8" stroke-linejoin="round"/>
<polyline points="721.2,832.7 723.7,832.6 726.2,832.7 728.7,832.7 731.2,833.0 733.8,832.7 736.3,832.6 738.8,832.8 741.3,833.1 743.8,833.2 746.3,833.1 748.8,833.4 751.3,833.1 753.8,833.5 756.3,833.2 758.9,833.2 761.4,834.0 763.9,833.6 766.4,833.9 768.9,834.1 771.4,834.0 773.9,834.0 776.4,833.7 778.9,834.5 781.4,833.9 784.0,833.7 786.5,834.2 789.0,834.3 791.5,834.5 794.0,835.0 796.5,834.5 799.0,834.7 801.5,834.6 804.0,834.1 806.6,834.8 809.1,835.0 811.6,834.7 814.1,835.8 816.6,835.9 819.1,835.7 821.6,835.9 824.1,835.5 826.6,836.0 829.1,835.3 831.7,835.4 834.2,835.8 836.7,836.4 839.2,836.1 841.7,836.1 844.2,837.0 846.7,836.5 849.2,836.5 851.7,836.8 854.3,836.3 856.8,836.5 859.3,837.5 861.8,837.2 864.3,837.8 866.8,837.2 869.3,838.0 871.8,837.3 874.3,837.6 876.8,837.5 879.4,838.1 881.9,838.8 884.4,837.4 886.9,838.5 889.4,837.8 891.9,838.4 894.4,838.4 896.9,837.9 899.4,838.8 901.9,838.4 904.5,839.9 907.0,838.9 909.5,839.5 912.0,839.6 914.5,839.6 917.0,839.6 919.5,839.0 922.0,841.0 924.5,840.1 927.1,840.6 929.6,839.8 932.1,840.7 934.6,840.4 937.1,840.9 939.6,840.5 942.1,840.4 944.6,841.3 947.1,841.2 949.6,842.1 952.2,841.3 954.7,841.1 957.2,842.0 959.7,841.2 962.2,843.2 964.7,843.2 967.2,843.0 969.7,842.6 972.2,842.5 974.8,842.7 977.3,842.8 979.8,842.4 982.3,843.3 984.8,843.9 987.3,844.0 989.8,842.1 992.3,844.9 994.8,843.8 997.3,842.9 999.9,843.6 1002.4,844.6 1004.9,844.2 1007.4,843.8 1009.9,843.7 1012.4,845.1 1014.9,844.2 1017.4,844.7 1019.9,844.3 1022.4,844.2 1025.0,845.5 1027.5,846.3 1030.0,845.3 1032.5,844.5 1035.0,845.3 1037.5,845.8 1040.0,844.5 1042.5,846.9 1045.0,845.7 1047.6,846.9 1050.1,846.6 1052.6,846.7 1055.1,845.9 1057.6,847.7 1060.1,847.5 1062.6,848.4 1065.1,847.1 1067.6,847.9 1070.1,847.4 1072.7,848.6 1075.2,848.3 1077.7,847.4 1080.2,848.4 1082.7,848.0 1085.2,848.2 1087.7,849.0 1090.2,850.0 1092.7,848.3 1095.2,849.0 1097.8,848.6 1100.3,850.9 1102.8,850.8 1105.3,851.3 1107.8,850.5 1110.3,849.3 1112.8,849.8 1115.3,850.4 1117.8,850.4 1120.4,850.1 1122.9,851.0 1125.4,850.6 1127.9,851.0 1130.4,852.8 1132.9,851.6 1135.4,850.5 1137.9,852.0 1140.4,851.9 1142.9,852.4 1145.5,852.5 1148.0,851.4 1150.5,852.6 1153.0,853.3 1155.5,855.1 1158.0,853.3 1160.5,854.5 1163.0,854.6 1165.5,852.7 1168.1,852.9 1170.6,855.1 1173.1,853.1 1175.6,853.6 1178.1,854.7 1180.6,853.6 1183.1,855.7 1185.6,855.5 1188.1,855.8 1190.6,855.7 1193.2,854.3 1195.7,856.2 1198.2,856.2 1200.7,856.2 1203.2,855.5 1205.7,856.0 1208.2,855.2 1210.7,856.7 1213.2,857.3 1215.7,856.8 1218.3,856.5 1220.8,857.5 1223.3,856.6 1225.8,855.5 1228.3,857.7" fill="none" stroke="#ff0000" stroke-width="2.8" stroke-linejoin="round"/>
<polyline points="721.2,973.3 723.7,973.2 726.2,973.2 728.7,973.2 731.2,973.2 733.8,973.0 736.3,972.9 738.8,973.0 741.3,972.9 743.8,972.6 746.3,972.6 748.8,972.9 751.3,972.6 753.8,972.5 756.3,972.3 758.9,972.4 761.4,972.5 763.9,972.3 766.4,972.6 768.9,972.1 771.4,972.2 773.9,971.8 776.4,972.1 778.9,971.9 781.4,971.9 784.0,971.9 786.5,971.3 789.0,971.5 791.5,971.2 794.0,971.6 796.5,971.1 799.0,971.6 801.5,971.1 804.0,971.0 806.6,970.6 809.1,970.6 811.6,970.6 814.1,970.2 816.6,970.3 819.1,970.1 821.6,969.9 824.1,970.1 826.6,970.1 829.1,969.7 831.7,969.9 834.2,969.5 836.7,969.1 839.2,969.1 841.7,969.5 844.2,969.7 846.7,969.1 849.2,969.1 851.7,968.4 854.3,968.9 856.8,968.8 859.3,968.2 861.8,968.7 864.3,968.4 866.8,967.5 869.3,967.4 871.8,967.7 874.3,967.8 876.8,968.2 879.4,967.4 881.9,967.5 884.4,967.3 886.9,967.6 889.4,967.2 891.9,967.2 894.4,966.8 896.9,966.1 899.4,966.5 901.9,967.4 904.5,967.0 907.0,967.1 909.5,966.6 912.0,965.8 914.5,965.8 917.0,966.2 919.5,965.6 922.0,966.0 924.5,966.2 927.1,966.1 929.6,965.7 932.1,964.4 934.6,965.7 937.1,964.2 939.6,964.0 942.1,964.7 944.6,964.5 947.1,964.7 949.6,964.2 952.2,963.7 954.7,964.0 957.2,963.3 959.7,963.0 962.2,963.4 964.7,963.2 967.2,963.3 969.7,963.0 972.2,963.7 974.8,962.7 977.3,962.6 979.8,963.1 982.3,961.2 984.8,962.9 987.3,962.8 989.8,961.9 992.3,963.1 994.8,962.3 997.3,962.6 999.9,962.1 1002.4,961.5 1004.9,961.1 1007.4,960.5 1009.9,960.5 1012.4,960.1 1014.9,960.3 1017.4,960.9 1019.9,959.7 1022.4,960.6 1025.0,960.6 1027.5,959.0 1030.0,959.4 1032.5,959.6 1035.0,959.1 1037.5,958.9 1040.0,960.2 1042.5,959.2 1045.0,959.8 1047.6,958.8 1050.1,959.2 1052.6,957.7 1055.1,958.1 1057.6,958.8 1060.1,958.2 1062.6,958.8 1065.1,957.8 1067.6,957.3 1070.1,957.4 1072.7,958.8 1075.2,957.5 1077.7,956.8 1080.2,956.8 1082.7,956.0 1085.2,957.6 1087.7,956.2 1090.2,956.8 1092.7,956.1 1095.2,955.8 1097.8,955.4 1100.3,956.2 1102.8,955.5 1105.3,956.3 1107.8,956.4 1110.3,954.8 1112.8,955.1 1115.3,956.1 1117.8,955.3 1120.4,954.6 1122.9,953.3 1125.4,953.5 1127.9,953.5 1130.4,955.3 1132.9,953.9 1135.4,953.3 1137.9,953.2 1140.4,953.0 1142.9,953.4 1145.5,951.7 1148.0,951.7 1150.5,952.8 1153.0,953.3 1155.5,950.8 1158.0,952.7 1160.5,951.2 1163.0,950.5 1165.5,952.5 1168.1,951.4 1170.6,951.7 1173.1,950.9 1175.6,950.9 1178.1,949.4 1180.6,950.4 1183.1,950.7 1185.6,949.6 1188.1,950.6 1190.6,950.5 1193.2,948.2 1195.7,950.5 1198.2,950.1 1200.7,949.5 1203.2,950.2 1205.7,950.9 1208.2,948.2 1210.7,949.5 1213.2,949.2 1215.7,948.9 1218.3,949.2 1220.8,949.1 1223.3,947.9 1225.8,945.9 1228.3,947.1" fill="none" stroke="#ff0000" stroke-width="2.8" stroke-linejoin="round"/>
<polyline points="721.2,975.5 723.7,975.6 726.2,975.5 728.7,975.5 731.2,975.3 733.8,975.4 736.3,975.3 738.8,975.3 741.3,975.3 743.8,975.4 746.3,975.0 748.8,975.3 751.3,975.2 753.8,975.0 756.3,975.0 758.9,974.8 761.4,974.5 763.9,974.6 766.4,974.6 768.9,974.6 771.4,974.3 773.9,974.9 776.4,974.3 778.9,974.6 781.4,974.6 784.0,974.2 786.5,974.2 789.0,973.9 791.5,973.6 794.0,974.6 796.5,973.8 799.0,973.1 801.5,973.4 804.0,973.1 806.6,973.5 809.1,973.9 811.6,973.8 814.1,973.0 816.6,972.9 819.1,973.4 821.6,973.1 824.1,972.9 826.6,973.5 829.1,972.9 831.7,972.1 834.2,971.8 836.7,972.6 839.2,971.7 841.7,972.6 844.2,972.6 846.7,973.1 849.2,971.7 851.7,972.2 854.3,971.0 856.8,971.7 859.3,971.7 861.8,972.5 864.3,970.9 866.8,971.7 869.3,971.5 871.8,972.3 874.3,970.8 876.8,970.7 879.4,971.3 881.9,970.9 884.4,970.7 886.9,970.3 889.4,970.6 891.9,969.8 894.4,970.6 896.9,970.7 899.4,970.5 901.9,971.5 904.5,970.5 907.0,969.5 909.5,969.8 912.0,970.2 914.5,969.5 917.0,970.7 919.5,969.7 922.0,969.2 924.5,969.0 927.1,969.6 929.6,968.6 932.1,968.0 934.6,969.2 937.1,968.4 939.6,969.6 942.1,969.7 944.6,968.2 947.1,968.4 949.6,968.2 952.2,968.5 954.7,968.3 957.2,967.5 959.7,966.9 962.2,967.9 964.7,968.6 967.2,966.8 969.7,967.1 972.2,967.0 974.8,967.2 977.3,965.8 979.8,967.0 982.3,966.6 984.8,967.9 987.3,967.1 989.8,967.0 992.3,966.5 994.8,966.2 997.3,966.8 999.9,965.1 1002.4,966.7 1004.9,966.2 1007.4,965.7 1009.9,966.5 1012.4,965.3 1014.9,965.1 1017.4,965.6 1019.9,964.1 1022.4,965.1 1025.0,964.9 1027.5,965.6 1030.0,965.9 1032.5,965.2 1035.0,964.8 1037.5,964.8 1040.0,963.9 1042.5,965.9 1045.0,964.9 1047.6,965.3 1050.1,963.0 1052.6,964.2 1055.1,964.1 1057.6,964.3 1060.1,962.9 1062.6,963.6 1065.1,963.1 1067.6,964.5 1070.1,962.2 1072.7,962.6 1075.2,962.4 1077.7,961.8 1080.2,962.7 1082.7,962.5 1085.2,961.8 1087.7,961.9 1090.2,962.2 1092.7,961.9 1095.2,962.2 1097.8,961.2 1100.3,960.9 1102.8,961.5 1105.3,960.0 1107.8,962.4 1110.3,961.3 1112.8,959.7 1115.3,961.2 1117.8,961.9 1120.4,959.6 1122.9,960.1 1125.4,961.3 1127.9,959.7 1130.4,960.9 1132.9,961.0 1135.4,960.0 1137.9,960.1 1140.4,960.5 1142.9,959.8 1145.5,960.2 1148.0,959.2 1150.5,959.2 1153.0,958.5 1155.5,959.3 1158.0,959.8 1160.5,959.7 1163.0,958.7 1165.5,957.2 1168.1,957.6 1170.6,958.6 1173.1,957.3 1175.6,958.8 1178.1,957.0 1180.6,957.9 1183.1,956.9 1185.6,956.9 1188.1,957.5 1190.6,956.9 1193.2,957.9 1195.7,956.9 1198.2,955.9 1200.7,953.3 1203.2,955.9 1205.7,956.3 1208.2,957.1 1210.7,955.2 1213.2,957.3 1215.7,956.5 1218.3,955.4 1220.8,956.6 1223.3,954.2 1225.8,954.4 1228.3,955.7" fill="none" stroke="#ff0000" stroke-width="2.8" stroke-linejoin="round"/>
<polyline points="721.2,977.7 723.7,977.8 726.2,977.8 728.7,977.6 731.2,977.6 733.8,977.6 736.3,977.6 738.8,977.7 741.3,977.5 743.8,977.7 746.3,977.5 748.8,977.1 751.3,977.1 753.8,977.4 756.3,977.4 758.9,976.9 761.4,976.8 763.9,977.5 766.4,977.2 768.9,977.0 771.4,976.7 773.9,977.2 776.4,976.7 778.9,976.9 781.4,976.1 784.0,976.6 786.5,976.7 789.0,976.8 791.5,976.3 794.0,976.3 796.5,976.8 799.0,976.4 801.5,976.8 804.0,976.6 806.6,976.7 809.1,976.7 811.6,976.4 814.1,976.4 816.6,975.8 819.1,975.7 821.6,976.0 824.1,976.3 826.6,975.5 829.1,976.5 831.7,976.4 834.2,975.3 836.7,975.3 839.2,975.1 841.7,975.5 844.2,975.9 846.7,975.5 849.2,975.0 851.7,975.5 854.3,975.4 856.8,975.6 859.3,975.5 861.8,974.5 864.3,974.6 866.8,975.3 869.3,975.2 871.8,974.9 874.3,974.3 876.8,975.0 879.4,974.5 881.9,975.4 884.4,974.9 886.9,974.0 889.4,973.7 891.9,974.7 894.4,974.4 896.9,973.6 899.4,974.1 901.9,974.1 904.5,973.5 907.0,973.6 909.5,973.0 912.0,973.1 914.5,973.7 917.0,973.4 919.5,973.3 922.0,973.9 924.5,973.7 927.1,972.6 929.6,973.9 932.1,972.4 934.6,972.7 937.1,972.9 939.6,972.4 942.1,972.4 944.6,971.9 947.1,972.7 949.6,972.5 952.2,972.5 954.7,971.2 957.2,971.6 959.7,972.6 962.2,972.2 964.7,972.3 967.2,971.9 969.7,971.7 972.2,970.4 974.8,972.7 977.3,970.9 979.8,971.2 982.3,971.8 984.8,971.4 987.3,971.5 989.8,971.1 992.3,970.5 994.8,971.9 997.3,970.1 999.9,971.1 1002.4,969.8 1004.9,970.4 1007.4,969.8 1009.9,970.1 1012.4,969.7 1014.9,970.3 1017.4,970.8 1019.9,969.7 1022.4,969.6 1025.0,968.6 1027.5,971.2 1030.0,970.0 1032.5,969.1 1035.0,970.5 1037.5,969.7 1040.0,968.1 1042.5,968.5 1045.0,969.9 1047.6,968.3 1050.1,968.4 1052.6,968.5 1055.1,968.7 1057.6,968.7 1060.1,969.4 1062.6,969.1 1065.1,968.1 1067.6,968.4 1070.1,967.2 1072.7,968.6 1075.2,969.9 1077.7,968.4 1080.2,967.9 1082.7,967.8 1085.2,967.9 1087.7,968.4 1090.2,966.7 1092.7,968.1 1095.2,967.1 1097.8,967.7 1100.3,968.3 1102.8,966.3 1105.3,969.0 1107.8,967.7 1110.3,966.7 1112.8,967.2 1115.3,966.3 1117.8,966.8 1120.4,967.0 1122.9,965.0 1125.4,966.7 1127.9,966.5 1130.4,967.1 1132.9,966.8 1135.4,965.6 1137.9,965.6 1140.4,965.9 1142.9,966.4 1145.5,965.2 1148.0,967.0 1150.5,965.8 1153.0,965.7 1155.5,966.0 1158.0,965.2 1160.5,965.7 1163.0,965.7 1165.5,963.6 1168.1,964.3 1170.6,963.9 1173.1,964.7 1175.6,963.9 1178.1,963.9 1180.6,963.5 1183.1,962.5 1185.6,964.4 1188.1,964.0 1190.6,964.1 1193.2,966.8 1195.7,965.0 1198.2,963.8 1200.7,963.2 1203.2,964.0 1205.7,962.6 1208.2,962.3 1210.7,963.6 1213.2,962.0 1215.7,961.7 1218.3,962.6 1220.8,963.7 1223.3,961.6 1225.8,962.8 1228.3,962.9" fill="none" stroke="#ff0000" stroke-width="2.8" stroke-linejoin="round"/>
<polyline points="721.2,980.3 723.7,980.4 726.2,980.2 728.7,980.2 731.2,980.1 733.8,980.2 736.3,980.3 738.8,980.2 741.3,980.0 743.8,980.2 746.3,979.6 748.8,980.2 751.3,980.2 753.8,979.8 756.3,979.9 758.9,980.0 761.4,980.0 763.9,979.8 766.4,979.7 768.9,979.7 771.4,979.9 773.9,979.7 776.4,979.5 778.9,979.5 781.4,980.6 784.0,979.9 786.5,979.9 789.0,979.7 791.5,979.5 794.0,979.2 796.5,979.3 799.0,979.5 801.5,979.4 804.0,978.8 806.6,979.5 809.1,979.2 811.6,978.7 814.1,979.1 816.6,979.9 819.1,979.0 821.6,979.2 824.1,979.1 826.6,978.6 829.1,978.8 831.7,979.0 834.2,978.5 836.7,978.7 839.2,978.8 841.7,978.6 844.2,978.6 846.7,978.8 849.2,978.8 851.7,978.6 854.3,978.9 856.8,979.0 859.3,977.9 861.8,978.5 864.3,978.4 866.8,978.4 869.3,978.3 871.8,978.2 874.3,978.1 876.8,978.5 879.4,977.6 881.9,978.4 884.4,977.5 886.9,978.8 889.4,978.4 891.9,977.4 894.4,977.9 896.9,978.1 899.4,977.5 901.9,978.2 904.5,977.6 907.0,978.7 909.5,977.7 912.0,977.8 914.5,977.1 917.0,976.9 919.5,977.8 922.0,976.4 924.5,977.5 927.1,978.2 929.6,978.4 932.1,976.2 934.6,977.1 937.1,977.3 939.6,977.3 942.1,977.4 944.6,976.1 947.1,976.8 949.6,975.7 952.2,976.8 954.7,977.9 957.2,976.1 959.7,976.7 962.2,976.6 964.7,975.5 967.2,976.5 969.7,975.6 972.2,976.2 974.8,976.6 977.3,975.8 979.8,976.4 982.3,975.3 984.8,975.4 987.3,975.9 989.8,975.5 992.3,975.4 994.8,975.9 997.3,975.1 999.9,975.8 1002.4,975.2 1004.9,976.1 1007.4,975.4 1009.9,975.1 1012.4,975.8 1014.9,975.6 1017.4,975.6 1019.9,974.7 1022.4,975.6 1025.0,974.8 1027.5,974.0 1030.0,974.7 1032.5,975.9 1035.0,974.8 1037.5,974.1 1040.0,974.9 1042.5,973.9 1045.0,974.2 1047.6,974.3 1050.1,974.7 1052.6,974.8 1055.1,974.5 1057.6,974.3 1060.1,973.9 1062.6,973.9 1065.1,974.3 1067.6,974.0 1070.1,973.7 1072.7,975.1 1075.2,974.4 1077.7,974.4 1080.2,973.9 1082.7,973.9 1085.2,973.8 1087.7,974.2 1090.2,973.1 1092.7,973.3 1095.2,974.6 1097.8,973.3 1100.3,974.1 1102.8,972.0 1105.3,973.5 1107.8,973.4 1110.3,973.0 1112.8,973.1 1115.3,973.0 1117.8,971.7 1120.4,972.6 1122.9,972.1 1125.4,971.8 1127.9,973.3 1130.4,971.3 1132.9,972.0 1135.4,971.7 1137.9,973.0 1140.4,971.7 1142.9,971.9 1145.5,972.6 1148.0,970.4 1150.5,971.6 1153.0,972.2 1155.5,971.8 1158.0,971.2 1160.5,970.9 1163.0,971.3 1165.5,970.7 1168.1,970.5 1170.6,972.5 1173.1,971.9 1175.6,972.2 1178.1,971.3 1180.6,970.2 1183.1,970.7 1185.6,972.0 1188.1,971.3 1190.6,970.2 1193.2,971.4 1195.7,971.0 1198.2,970.6 1200.7,972.2 1203.2,970.1 1205.7,970.4 1208.2,970.1 1210.7,971.3 1213.2,971.1 1215.7,970.9 1218.3,970.1 1220.8,970.2 1223.3,970.1 1225.8,968.6 1228.3,969.0" fill="none" stroke="#ff0000" stroke-width="2.8" stroke-linejoin="round"/>
<polyline points="721.2,983.1 723.7,983.1 726.2,982.9 728.7,983.1 731.2,982.9 733.8,982.8 736.3,983.1 738.8,983.1 741.3,983.0 743.8,983.2 746.3,983.2 748.8,983.0 751.3,982.8 753.8,983.0 756.3,983.0 758.9,983.0 761.4,983.2 763.9,982.5 766.4,983.4 768.9,983.0 771.4,982.7 773.9,983.2 776.4,982.6 778.9,982.4 781.4,983.0 784.0,982.7 786.5,983.0 789.0,982.5 791.5,982.6 794.0,982.6 796.5,982.2 799.0,982.5 801.5,982.1 804.0,982.4 806.6,983.0 809.1,982.4 811.6,982.3 814.1,983.0 816.6,982.0 819.1,982.4 821.6,982.3 824.1,982.7 826.6,982.3 829.1,982.2 831.7,982.5 834.2,982.3 836.7,983.1 839.2,981.7 841.7,982.7 844.2,983.1 846.7,982.6 849.2,982.5 851.7,981.9 854.3,982.5 856.8,982.0 859.3,982.5 861.8,981.1 864.3,981.8 866.8,981.1 869.3,982.4 871.8,981.6 874.3,982.4 876.8,981.6 879.4,981.6 881.9,982.6 884.4,982.4 886.9,982.3 889.4,982.5 891.9,982.1 894.4,982.2 896.9,982.4 899.4,981.6 901.9,981.4 904.5,982.3 907.0,981.9 909.5,981.6 912.0,981.6 914.5,981.9 917.0,981.1 919.5,981.0 922.0,981.1 924.5,981.5 927.1,980.3 929.6,980.4 932.1,981.5 934.6,981.4 937.1,980.6 939.6,981.7 942.1,981.0 944.6,981.2 947.1,981.5 949.6,981.2 952.2,982.0 954.7,981.4 957.2,982.2 959.7,979.7 962.2,980.1 964.7,980.2 967.2,980.7 969.7,980.3 972.2,980.1 974.8,980.2 977.3,980.3 979.8,981.3 982.3,980.5 984.8,981.0 987.3,981.4 989.8,981.3 992.3,980.4 994.8,980.0 997.3,981.4 999.9,979.5 1002.4,979.6 1004.9,980.7 1007.4,980.7 1009.9,980.5 1012.4,979.8 1014.9,980.6 1017.4,981.0 1019.9,980.1 1022.4,981.6 1025.0,980.1 1027.5,979.5 1030.0,980.0 1032.5,979.6 1035.0,979.8 1037.5,979.6 1040.0,980.0 1042.5,980.6 1045.0,980.1 1047.6,980.0 1050.1,979.1 1052.6,978.8 1055.1,979.6 1057.6,980.3 1060.1,980.3 1062.6,979.9 1065.1,978.8 1067.6,979.5 1070.1,979.7 1072.7,980.2 1075.2,979.0 1077.7,979.4 1080.2,979.6 1082.7,979.4 1085.2,978.3 1087.7,979.6 1090.2,978.2 1092.7,978.5 1095.2,979.3 1097.8,978.7 1100.3,979.4 1102.8,979.8 1105.3,979.4 1107.8,979.8 1110.3,978.8 1112.8,979.1 1115.3,978.7 1117.8,978.4 1120.4,981.3 1122.9,978.8 1125.4,980.3 1127.9,978.8 1130.4,979.5 1132.9,978.8 1135.4,977.8 1137.9,980.1 1140.4,978.6 1142.9,978.8 1145.5,980.1 1148.0,978.2 1150.5,978.6 1153.0,979.0 1155.5,979.1 1158.0,976.0 1160.5,978.8 1163.0,979.8 1165.5,979.1 1168.1,978.7 1170.6,978.6 1173.1,978.4 1175.6,979.1 1178.1,977.8 1180.6,978.6 1183.1,979.2 1185.6,978.8 1188.1,978.4 1190.6,977.4 1193.2,977.6 1195.7,978.3 1198.2,977.9 1200.7,977.7 1203.2,976.2 1205.7,978.3 1208.2,977.4 1210.7,977.2 1213.2,978.5 1215.7,977.6 1218.3,977.5 1220.8,978.0 1223.3,977.1 1225.8,976.7 1228.3,976.6" fill="none" stroke="#ff0000" stroke-width="2.8" stroke-linejoin="round"/>
<polyline points="721.2,986.0 723.7,986.0 726.2,985.8 728.7,986.1 731.2,986.0 733.8,985.9 736.3,986.0 738.8,985.9 741.3,986.0 743.8,985.9 746.3,985.8 748.8,986.1 751.3,986.0 753.8,986.0 756.3,986.1 758.9,986.0 761.4,986.3 763.9,985.8 766.4,985.6 768.9,985.6 771.4,985.7 773.9,986.2 776.4,985.6 778.9,986.2 781.4,986.0 784.0,985.4 786.5,986.3 789.0,985.7 791.5,985.9 794.0,986.0 796.5,986.2 799.0,985.8 801.5,986.1 804.0,985.6 806.6,985.5 809.1,986.4 811.6,986.1 814.1,986.0 816.6,986.3 819.1,986.3 821.6,985.9 824.1,986.0 826.6,986.5 829.1,986.1 831.7,985.7 834.2,986.4 836.7,986.3 839.2,985.2 841.7,985.3 844.2,986.5 846.7,986.4 849.2,985.7 851.7,986.4 854.3,986.0 856.8,986.0 859.3,985.6 861.8,986.9 864.3,986.8 866.8,986.4 869.3,985.4 871.8,985.9 874.3,986.6 876.8,985.6 879.4,985.5 881.9,985.9 884.4,986.0 886.9,985.6 889.4,985.2 891.9,985.7 894.4,985.5 896.9,985.8 899.4,986.0 901.9,986.2 904.5,985.6 907.0,985.9 909.5,985.9 912.0,985.3 914.5,985.5 917.0,985.3 919.5,986.5 922.0,985.4 924.5,986.0 927.1,986.1 929.6,986.2 932.1,985.1 934.6,985.3 937.1,986.1 939.6,986.3 942.1,985.7 944.6,985.9 947.1,984.8 949.6,986.5 952.2,986.7 954.7,985.8 957.2,985.6 959.7,985.6 962.2,985.2 964.7,984.4 967.2,985.8 969.7,985.9 972.2,986.6 974.8,985.5 977.3,985.1 979.8,985.8 982.3,984.9 984.8,985.6 987.3,984.7 989.8,985.4 992.3,986.2 994.8,986.0 997.3,986.5 999.9,986.6 1002.4,985.4 1004.9,985.0 1007.4,984.3 1009.9,985.6 1012.4,985.7 1014.9,986.2 1017.4,984.9 1019.9,985.3 1022.4,985.9 1025.0,985.1 1027.5,985.1 1030.0,986.7 1032.5,985.0 1035.0,985.4 1037.5,985.7 1040.0,985.7 1042.5,984.3 1045.0,984.4 1047.6,984.2 1050.1,986.2 1052.6,985.9 1055.1,984.8 1057.6,986.2 1060.1,985.9 1062.6,986.6 1065.1,984.1 1067.6,984.7 1070.1,985.1 1072.7,985.2 1075.2,985.7 1077.7,985.6 1080.2,984.9 1082.7,985.9 1085.2,984.5 1087.7,985.7 1090.2,986.0 1092.7,984.4 1095.2,985.4 1097.8,984.9 1100.3,985.6 1102.8,986.9 1105.3,984.9 1107.8,986.3 1110.3,984.5 1112.8,986.4 1115.3,986.6 1117.8,985.0 1120.4,985.0 1122.9,985.2 1125.4,986.2 1127.9,984.6 1130.4,986.3 1132.9,985.6 1135.4,985.8 1137.9,985.5 1140.4,984.6 1142.9,985.7 1145.5,984.8 1148.0,984.7 1150.5,986.5 1153.0,986.1 1155.5,985.5 1158.0,985.6 1160.5,984.9 1163.0,986.7 1165.5,984.6 1168.1,984.6 1170.6,985.3 1173.1,986.2 1175.6,985.1 1178.1,985.5 1180.6,984.7 1183.1,985.2 1185.6,984.5 1188.1,985.4 1190.6,983.9 1193.2,986.9 1195.7,985.9 1198.2,984.7 1200.7,986.3 1203.2,984.5 1205.7,986.0 1208.2,985.0 1210.7,985.8 1213.2,985.4 1215.7,984.9 1218.3,985.1 1220.8,985.3 1223.3,983.2 1225.8,985.0 1228.3,985.8" fill="none" stroke="#ff0000" stroke-width="2.8" stroke-linejoin="round"/>
<polyline points="721.2,989.0 723.7,988.9 726.2,988.9 728.7,988.8 731.2,989.1 733.8,988.9 736.3,988.8 738.8,989.0 741.3,989.0 743.8,989.6 746.3,989.2 748.8,988.7 751.3,989.4 753.8,989.2 756.3,989.0 758.9,989.0 761.4,988.7 763.9,989.5 766.4,989.1 768.9,988.9 771.4,989.5 773.9,989.2 776.4,988.7 778.9,988.8 781.4,989.0 784.0,990.0 786.5,989.3 789.0,989.1 791.5,989.3 794.0,989.3 796.5,988.3 799.0,989.3 801.5,989.6 804.0,989.2 806.6,989.4 809.1,989.4 811.6,989.4 814.1,989.1 816.6,989.3 819.1,989.8 821.6,989.4 824.1,989.2 826.6,989.6 829.1,989.0 831.7,989.2 834.2,989.9 836.7,989.4 839.2,988.7 841.7,988.9 844.2,989.5 846.7,989.2 849.2,989.8 851.7,990.2 854.3,989.3 856.8,989.5 859.3,989.4 861.8,989.6 864.3,989.5 866.8,989.9 869.3,989.5 871.8,989.3 874.3,989.7 876.8,989.3 879.4,990.6 881.9,990.1 884.4,989.1 886.9,989.0 889.4,989.7 891.9,989.9 894.4,990.4 896.9,989.7 899.4,989.5 901.9,990.6 904.5,989.6 907.0,989.7 909.5,989.7 912.0,990.5 914.5,989.7 917.0,990.8 919.5,989.2 922.0,989.9 924.5,990.6 927.1,989.3 929.6,989.5 932.1,990.4 934.6,988.9 937.1,990.7 939.6,990.0 942.1,989.5 944.6,991.4 947.1,989.6 949.6,990.2 952.2,990.2 954.7,990.8 957.2,990.1 959.7,990.9 962.2,990.8 964.7,990.6 967.2,991.0 969.7,989.4 972.2,991.1 974.8,990.8 977.3,990.6 979.8,990.4 982.3,990.0 984.8,990.0 987.3,990.7 989.8,990.7 992.3,990.5 994.8,990.0 997.3,990.1 999.9,990.9 1002.4,991.9 1004.9,989.3 1007.4,990.0 1009.9,990.5 1012.4,990.4 1014.9,991.0 1017.4,991.3 1019.9,990.9 1022.4,990.9 1025.0,991.2 1027.5,991.7 1030.0,991.0 1032.5,990.4 1035.0,991.2 1037.5,990.8 1040.0,992.2 1042.5,991.0 1045.0,991.0 1047.6,991.7 1050.1,992.1 1052.6,990.7 1055.1,991.5 1057.6,990.7 1060.1,991.3 1062.6,990.6 1065.1,991.3 1067.6,992.1 1070.1,991.2 1072.7,991.4 1075.2,990.7 1077.7,991.5 1080.2,991.5 1082.7,990.6 1085.2,990.4 1087.7,990.7 1090.2,990.5 1092.7,991.0 1095.2,990.8 1097.8,990.7 1100.3,991.1 1102.8,991.3 1105.3,991.3 1107.8,989.7 1110.3,991.4 1112.8,991.6 1115.3,991.7 1117.8,991.5 1120.4,991.3 1122.9,992.4 1125.4,993.0 1127.9,991.4 1130.4,992.8 1132.9,991.4 1135.4,991.5 1137.9,990.8 1140.4,990.4 1142.9,991.4 1145.5,992.1 1148.0,992.6 1150.5,992.4 1153.0,991.8 1155.5,993.4 1158.0,991.8 1160.5,991.9 1163.0,991.4 1165.5,992.2 1168.1,991.8 1170.6,992.5 1173.1,992.3 1175.6,993.4 1178.1,991.9 1180.6,990.8 1183.1,991.9 1185.6,991.8 1188.1,992.9 1190.6,991.0 1193.2,992.7 1195.7,991.5 1198.2,992.1 1200.7,993.0 1203.2,991.4 1205.7,992.2 1208.2,992.1 1210.7,991.9 1213.2,992.3 1215.7,992.6 1218.3,992.0 1220.8,992.7 1223.3,992.3 1225.8,993.0 1228.3,993.7" fill="none" stroke="#ff0000" stroke-width="2.8" stroke-linejoin="round"/>
<polyline points="721.2,991.7 723.7,991.8 726.2,991.8 728.7,991.7 731.2,992.0 733.8,991.8 736.3,992.1 738.8,992.0 741.3,991.9 743.8,992.3 746.3,992.2 748.8,991.9 751.3,991.9 753.8,992.0 756.3,992.2 758.9,991.5 761.4,992.1 763.9,992.3 766.4,991.7 768.9,992.0 771.4,992.2 773.9,991.9 776.4,992.2 778.9,992.0 781.4,992.2 784.0,992.6 786.5,992.0 789.0,992.3 791.5,992.7 794.0,992.6 796.5,992.1 799.0,992.6 801.5,992.5 804.0,992.3 806.6,992.5 809.1,993.1 811.6,992.4 814.1,992.3 816.6,992.4 819.1,992.1 821.6,992.6 824.1,992.5 826.6,992.2 829.1,992.9 831.7,992.2 834.2,992.2 836.7,992.6 839.2,992.2 841.7,992.7 844.2,993.4 846.7,992.6 849.2,993.0 851.7,993.0 854.3,993.1 856.8,992.6 859.3,993.0 861.8,993.6 864.3,993.1 866.8,993.0 869.3,993.7 871.8,993.6 874.3,993.6 876.8,993.8 879.4,993.4 881.9,993.1 884.4,992.7 886.9,993.1 889.4,993.2 891.9,993.2 894.4,993.1 896.9,994.0 899.4,993.5 901.9,993.7 904.5,994.0 907.0,994.2 909.5,994.2 912.0,994.2 914.5,994.7 917.0,993.8 919.5,994.2 922.0,994.1 924.5,994.1 927.1,993.9 929.6,994.6 932.1,994.4 934.6,995.3 937.1,995.6 939.6,995.5 942.1,993.7 944.6,995.6 947.1,994.3 949.6,993.8 952.2,994.9 954.7,993.8 957.2,993.7 959.7,994.3 962.2,993.5 964.7,994.5 967.2,995.3 969.7,994.7 972.2,995.3 974.8,995.8 977.3,995.8 979.8,993.8 982.3,995.5 984.8,995.2 987.3,995.7 989.8,995.2 992.3,995.5 994.8,995.6 997.3,996.2 999.9,996.4 1002.4,996.0 1004.9,995.4 1007.4,994.3 1009.9,995.0 1012.4,994.6 1014.9,995.4 1017.4,995.8 1019.9,996.7 1022.4,995.9 1025.0,997.3 1027.5,996.2 1030.0,995.0 1032.5,995.8 1035.0,995.4 1037.5,996.4 1040.0,997.1 1042.5,996.6 1045.0,996.5 1047.6,995.5 1050.1,995.1 1052.6,996.9 1055.1,996.7 1057.6,996.6 1060.1,996.8 1062.6,997.5 1065.1,996.6 1067.6,996.5 1070.1,996.5 1072.7,997.6 1075.2,996.9 1077.7,998.1 1080.2,996.3 1082.7,997.7 1085.2,997.2 1087.7,997.4 1090.2,997.5 1092.7,997.9 1095.2,998.5 1097.8,996.0 1100.3,997.1 1102.8,997.2 1105.3,995.9 1107.8,997.5 1110.3,997.1 1112.8,997.5 1115.3,996.7 1117.8,997.3 1120.4,997.5 1122.9,997.9 1125.4,997.6 1127.9,997.0 1130.4,999.4 1132.9,998.0 1135.4,998.3 1137.9,998.3 1140.4,999.6 1142.9,997.6 1145.5,998.8 1148.0,998.4 1150.5,998.7 1153.0,999.6 1155.5,998.7 1158.0,999.9 1160.5,999.2 1163.0,998.8 1165.5,998.6 1168.1,998.6 1170.6,998.8 1173.1,997.1 1175.6,998.5 1178.1,999.8 1180.6,999.4 1183.1,999.5 1185.6,999.1 1188.1,999.5 1190.6,999.8 1193.2,997.8 1195.7,999.2 1198.2,999.5 1200.7,999.5 1203.2,999.5 1205.7,998.3 1208.2,999.1 1210.7,998.6 1213.2,1002.1 1215.7,999.3 1218.3,998.8 1220.8,998.1 1223.3,999.7 1225.8,1001.2 1228.3,999.4" fill="none" stroke="#ff0000" stroke-width="2.8" stroke-linejoin="round"/>
<polyline points="721.2,994.7 723.7,994.8 726.2,994.8 728.7,994.6 731.2,994.6 733.8,994.7 736.3,995.0 738.8,994.4 741.3,995.1 743.8,994.9 746.3,995.2 748.8,994.7 751.3,994.9 753.8,994.8 756.3,995.0 758.9,995.1 761.4,995.1 763.9,995.6 766.4,995.0 768.9,995.0 771.4,995.4 773.9,995.3 776.4,995.3 778.9,995.0 781.4,995.3 784.0,995.5 786.5,995.7 789.0,996.0 791.5,995.8 794.0,995.7 796.5,995.8 799.0,995.7 801.5,995.6 804.0,995.7 806.6,995.8 809.1,995.7 811.6,995.9 814.1,996.1 816.6,995.9 819.1,996.8 821.6,995.7 824.1,996.7 826.6,996.0 829.1,996.4 831.7,996.0 834.2,996.4 836.7,996.9 839.2,996.1 841.7,996.5 844.2,996.6 846.7,996.7 849.2,996.4 851.7,996.5 854.3,996.8 856.8,997.6 859.3,997.2 861.8,997.0 864.3,996.3 866.8,997.0 869.3,997.3 871.8,996.7 874.3,997.4 876.8,997.4 879.4,997.4 881.9,998.2 884.4,997.1 886.9,997.4 889.4,997.8 891.9,998.3 894.4,997.7 896.9,997.2 899.4,998.2 901.9,998.5 904.5,997.8 907.0,998.9 909.5,999.3 912.0,998.4 914.5,998.6 917.0,998.5 919.5,998.7 922.0,998.3 924.5,998.6 927.1,998.9 929.6,998.9 932.1,998.4 934.6,998.2 937.1,998.3 939.6,998.5 942.1,1000.8 944.6,999.6 947.1,999.3 949.6,999.0 952.2,1000.1 954.7,998.5 957.2,999.2 959.7,999.8 962.2,999.4 964.7,999.7 967.2,1000.0 969.7,999.4 972.2,1000.0 974.8,1000.6 977.3,1000.2 979.8,1000.0 982.3,1000.6 984.8,999.3 987.3,1000.8 989.8,999.1 992.3,999.7 994.8,1000.9 997.3,1000.3 999.9,999.7 1002.4,1000.6 1004.9,1001.3 1007.4,1000.6 1009.9,999.5 1012.4,1001.7 1014.9,1000.5 1017.4,1000.9 1019.9,1001.1 1022.4,1001.3 1025.0,1001.4 1027.5,1000.6 1030.0,1000.9 1032.5,1002.0 1035.0,1000.4 1037.5,1002.3 1040.0,1001.1 1042.5,1001.5 1045.0,1000.9 1047.6,1001.5 1050.1,1001.1 1052.6,1001.9 1055.1,1001.3 1057.6,1001.8 1060.1,1000.7 1062.6,1002.7 1065.1,1001.5 1067.6,1002.0 1070.1,1002.3 1072.7,1002.9 1075.2,1002.3 1077.7,1003.7 1080.2,1003.7 1082.7,1002.3 1085.2,1004.0 1087.7,1001.9 1090.2,1003.2 1092.7,1002.9 1095.2,1003.1 1097.8,1002.9 1100.3,1003.5 1102.8,1003.7 1105.3,1003.6 1107.8,1002.8 1110.3,1002.8 1112.8,1002.8 1115.3,1003.5 1117.8,1004.0 1120.4,1005.2 1122.9,1003.5 1125.4,1003.4 1127.9,1004.4 1130.4,1003.6 1132.9,1003.3 1135.4,1004.3 1137.9,1003.7 1140.4,1004.3 1142.9,1005.9 1145.5,1005.0 1148.0,1005.1 1150.5,1004.4 1153.0,1005.6 1155.5,1005.3 1158.0,1005.8 1160.5,1005.2 1163.0,1005.2 1165.5,1004.5 1168.1,1004.8 1170.6,1005.3 1173.1,1005.3 1175.6,1005.5 1178.1,1005.6 1180.6,1004.6 1183.1,1007.8 1185.6,1006.1 1188.1,1005.8 1190.6,1005.2 1193.2,1007.0 1195.7,1006.0 1198.2,1005.6 1200.7,1006.8 1203.2,1008.0 1205.7,1006.9 1208.2,1007.6 1210.7,1006.2 1213.2,1007.5 1215.7,1005.4 1218.3,1006.9 1220.8,1007.7 1223.3,1007.6 1225.8,1008.1 1228.3,1007.0" fill="none" stroke="#ff0000" stroke-width="2.8" stroke-linejoin="round"/>
<polyline points="721.2,997.4 723.7,997.5 726.2,997.4 728.7,997.6 731.2,997.5 733.8,997.3 736.3,997.8 738.8,997.5 741.3,997.5 743.8,998.1 746.3,998.0 748.8,998.0 751.3,997.7 753.8,998.0 756.3,998.0 758.9,997.9 761.4,998.0 763.9,998.1 766.4,998.2 768.9,997.9 771.4,998.5 773.9,997.9 776.4,998.5 778.9,998.7 781.4,998.3 784.0,998.4 786.5,999.2 789.0,998.6 791.5,999.2 794.0,999.1 796.5,998.6 799.0,999.2 801.5,998.9 804.0,999.2 806.6,998.5 809.1,999.2 811.6,999.7 814.1,999.7 816.6,999.7 819.1,999.4 821.6,999.5 824.1,999.2 826.6,999.6 829.1,999.7 831.7,999.7 834.2,999.9 836.7,999.8 839.2,999.7 841.7,999.8 844.2,1000.4 846.7,1001.0 849.2,1000.7 851.7,1000.3 854.3,1001.5 856.8,1000.7 859.3,1000.4 861.8,1000.9 864.3,1001.3 866.8,1000.1 869.3,1000.3 871.8,1001.1 874.3,1000.5 876.8,1000.6 879.4,1001.8 881.9,1000.1 884.4,1001.8 886.9,1001.6 889.4,1002.1 891.9,1001.6 894.4,1002.4 896.9,1001.8 899.4,1001.3 901.9,1001.9 904.5,1002.2 907.0,1001.3 909.5,1002.7 912.0,1001.8 914.5,1002.5 917.0,1002.3 919.5,1002.5 922.0,1002.6 924.5,1002.7 927.1,1003.2 929.6,1003.2 932.1,1002.7 934.6,1003.1 937.1,1003.8 939.6,1003.6 942.1,1003.7 944.6,1003.4 947.1,1003.4 949.6,1003.5 952.2,1004.0 954.7,1003.7 957.2,1004.6 959.7,1005.6 962.2,1004.1 964.7,1005.1 967.2,1004.8 969.7,1005.0 972.2,1004.0 974.8,1005.2 977.3,1004.4 979.8,1005.0 982.3,1005.5 984.8,1005.8 987.3,1004.7 989.8,1004.8 992.3,1004.7 994.8,1004.1 997.3,1005.1 999.9,1005.2 1002.4,1005.6 1004.9,1005.5 1007.4,1005.9 1009.9,1006.3 1012.4,1004.6 1014.9,1007.1 1017.4,1005.9 1019.9,1005.9 1022.4,1006.2 1025.0,1007.0 1027.5,1006.6 1030.0,1006.9 1032.5,1007.3 1035.0,1006.8 1037.5,1007.1 1040.0,1007.3 1042.5,1006.6 1045.0,1007.8 1047.6,1006.9 1050.1,1007.7 1052.6,1007.1 1055.1,1007.5 1057.6,1007.5 1060.1,1008.4 1062.6,1008.4 1065.1,1008.5 1067.6,1007.9 1070.1,1007.6 1072.7,1007.5 1075.2,1008.7 1077.7,1008.4 1080.2,1009.7 1082.7,1010.2 1085.2,1009.3 1087.7,1009.3 1090.2,1010.0 1092.7,1010.3 1095.2,1008.8 1097.8,1009.8 1100.3,1010.6 1102.8,1007.8 1105.3,1009.4 1107.8,1009.9 1110.3,1009.3 1112.8,1010.4 1115.3,1008.8 1117.8,1011.2 1120.4,1011.1 1122.9,1010.4 1125.4,1011.0 1127.9,1009.5 1130.4,1011.8 1132.9,1011.3 1135.4,1010.6 1137.9,1010.5 1140.4,1010.3 1142.9,1010.9 1145.5,1009.6 1148.0,1011.7 1150.5,1011.3 1153.0,1010.9 1155.5,1011.9 1158.0,1012.0 1160.5,1012.2 1163.0,1012.5 1165.5,1013.0 1168.1,1012.6 1170.6,1013.5 1173.1,1012.1 1175.6,1013.8 1178.1,1011.0 1180.6,1011.4 1183.1,1012.0 1185.6,1013.1 1188.1,1013.6 1190.6,1012.2 1193.2,1013.2 1195.7,1013.0 1198.2,1014.1 1200.7,1012.8 1203.2,1014.4 1205.7,1013.8 1208.2,1015.4 1210.7,1014.6 1213.2,1013.8 1215.7,1014.7 1218.3,1014.8 1220.8,1013.9 1223.3,1014.7 1225.8,1013.7 1228.3,1016.9" fill="none" stroke="#ff0000" stroke-width="2.8" stroke-linejoin="round"/>
<polyline points="721.2,999.9 723.7,999.9 726.2,1000.0 728.7,1000.1 731.2,999.9 733.8,1000.2 736.3,1000.2 738.8,1000.1 741.3,1000.3 743.8,1000.2 746.3,1000.5 748.8,1000.3 751.3,1000.2 753.8,1000.4 756.3,1001.0 758.9,1000.5 761.4,1000.7 763.9,1001.0 766.4,1000.5 768.9,1001.4 771.4,1000.5 773.9,1001.2 776.4,1000.7 778.9,1001.2 781.4,1001.7 784.0,1001.3 786.5,1001.3 789.0,1001.3 791.5,1001.3 794.0,1002.0 796.5,1001.6 799.0,1001.6 801.5,1002.0 804.0,1002.3 806.6,1002.4 809.1,1001.9 811.6,1002.0 814.1,1002.6 816.6,1002.9 819.1,1002.1 821.6,1003.2 824.1,1002.6 826.6,1003.1 829.1,1003.5 831.7,1002.9 834.2,1003.1 836.7,1002.6 839.2,1002.3 841.7,1003.4 844.2,1003.0 846.7,1003.1 849.2,1003.8 851.7,1004.1 854.3,1003.1 856.8,1004.1 859.3,1004.0 861.8,1004.2 864.3,1004.3 866.8,1004.6 869.3,1004.1 871.8,1003.9 874.3,1004.8 876.8,1005.3 879.4,1004.8 881.9,1005.6 884.4,1005.3 886.9,1004.5 889.4,1004.1 891.9,1005.1 894.4,1005.9 896.9,1005.2 899.4,1006.7 901.9,1006.1 904.5,1005.1 907.0,1005.6 909.5,1006.8 912.0,1007.0 914.5,1005.9 917.0,1006.4 919.5,1006.8 922.0,1006.4 924.5,1007.0 927.1,1007.8 929.6,1006.5 932.1,1007.4 934.6,1007.7 937.1,1008.0 939.6,1007.3 942.1,1007.9 944.6,1007.3 947.1,1007.9 949.6,1007.2 952.2,1008.2 954.7,1008.4 957.2,1009.3 959.7,1008.9 962.2,1008.0 964.7,1006.8 967.2,1009.4 969.7,1009.4 972.2,1008.7 974.8,1008.7 977.3,1009.5 979.8,1009.2 982.3,1010.3 984.8,1009.6 987.3,1009.0 989.8,1008.7 992.3,1009.9 994.8,1010.1 997.3,1009.8 999.9,1009.5 1002.4,1010.0 1004.9,1010.9 1007.4,1010.3 1009.9,1010.1 1012.4,1011.2 1014.9,1011.8 1017.4,1010.7 1019.9,1010.9 1022.4,1010.7 1025.0,1011.4 1027.5,1011.9 1030.0,1011.9 1032.5,1012.4 1035.0,1012.5 1037.5,1012.4 1040.0,1012.5 1042.5,1011.6 1045.0,1013.2 1047.6,1012.6 1050.1,1013.1 1052.6,1011.8 1055.1,1012.7 1057.6,1013.3 1060.1,1012.6 1062.6,1013.3 1065.1,1013.8 1067.6,1012.5 1070.1,1013.2 1072.7,1012.6 1075.2,1013.1 1077.7,1013.5 1080.2,1014.1 1082.7,1015.1 1085.2,1014.0 1087.7,1014.5 1090.2,1014.2 1092.7,1014.9 1095.2,1015.5 1097.8,1015.8 1100.3,1014.8 1102.8,1014.5 1105.3,1015.7 1107.8,1015.3 1110.3,1014.8 1112.8,1016.5 1115.3,1016.3 1117.8,1017.0 1120.4,1015.5 1122.9,1016.3 1125.4,1016.9 1127.9,1017.9 1130.4,1017.0 1132.9,1016.3 1135.4,1017.3 1137.9,1017.6 1140.4,1016.9 1142.9,1018.5 1145.5,1017.6 1148.0,1017.4 1150.5,1018.5 1153.0,1018.7 1155.5,1018.0 1158.0,1018.4 1160.5,1018.7 1163.0,1018.5 1165.5,1018.6 1168.1,1019.6 1170.6,1019.6 1173.1,1018.8 1175.6,1018.5 1178.1,1018.4 1180.6,1020.3 1183.1,1018.9 1185.6,1019.3 1188.1,1020.1 1190.6,1019.8 1193.2,1019.7 1195.7,1019.0 1198.2,1021.4 1200.7,1020.3 1203.2,1021.0 1205.7,1021.2 1208.2,1020.2 1210.7,1020.6 1213.2,1022.3 1215.7,1021.8 1218.3,1021.5 1220.8,1023.0 1223.3,1021.3 1225.8,1022.2 1228.3,1022.2" fill="none" stroke="#ff0000" stroke-width="2.8" stroke-linejoin="round"/>
<polyline points="721.2,1001.6 723.7,1001.5 726.2,1001.7 728.7,1001.7 731.2,1001.6 733.8,1001.9 736.3,1002.0 738.8,1002.2 741.3,1001.8 743.8,1002.0 746.3,1002.1 748.8,1002.2 751.3,1002.3 753.8,1002.6 756.3,1002.6 758.9,1002.5 761.4,1002.6 763.9,1002.3 766.4,1003.0 768.9,1003.0 771.4,1003.2 773.9,1002.7 776.4,1003.5 778.9,1003.0 781.4,1003.0 784.0,1003.5 786.5,1003.3 789.0,1004.3 791.5,1003.9 794.0,1004.4 796.5,1003.9 799.0,1004.1 801.5,1004.4 804.0,1004.0 806.6,1004.3 809.1,1004.7 811.6,1004.8 814.1,1005.2 816.6,1004.9 819.1,1004.1 821.6,1005.3 824.1,1005.0 826.6,1005.5 829.1,1005.1 831.7,1005.3 834.2,1005.7 836.7,1006.4 839.2,1006.0 841.7,1005.5 844.2,1006.2 846.7,1005.9 849.2,1006.5 851.7,1007.2 854.3,1006.4 856.8,1006.5 859.3,1007.0 861.8,1007.1 864.3,1006.9 866.8,1007.4 869.3,1007.1 871.8,1007.5 874.3,1008.6 876.8,1007.7 879.4,1008.1 881.9,1008.3 884.4,1007.9 886.9,1008.4 889.4,1008.0 891.9,1007.9 894.4,1008.5 896.9,1009.4 899.4,1009.2 901.9,1008.5 904.5,1009.2 907.0,1009.6 909.5,1009.4 912.0,1009.2 914.5,1009.5 917.0,1009.4 919.5,1010.3 922.0,1010.2 924.5,1010.3 927.1,1010.3 929.6,1011.6 932.1,1010.7 934.6,1011.4 937.1,1010.1 939.6,1010.2 942.1,1010.2 944.6,1010.9 947.1,1011.7 949.6,1011.1 952.2,1011.8 954.7,1011.5 957.2,1012.5 959.7,1012.5 962.2,1012.0 964.7,1011.4 967.2,1012.6 969.7,1011.4 972.2,1011.3 974.8,1013.8 977.3,1013.2 979.8,1013.9 982.3,1013.6 984.8,1013.9 987.3,1013.8 989.8,1013.3 992.3,1013.5 994.8,1014.1 997.3,1014.4 999.9,1014.5 1002.4,1014.6 1004.9,1014.5 1007.4,1015.0 1009.9,1014.8 1012.4,1016.1 1014.9,1014.9 1017.4,1014.5 1019.9,1015.6 1022.4,1016.8 1025.0,1015.2 1027.5,1016.4 1030.0,1018.3 1032.5,1016.7 1035.0,1016.3 1037.5,1016.6 1040.0,1016.2 1042.5,1016.7 1045.0,1017.2 1047.6,1018.8 1050.1,1018.4 1052.6,1017.7 1055.1,1017.5 1057.6,1018.8 1060.1,1018.7 1062.6,1018.1 1065.1,1019.9 1067.6,1020.1 1070.1,1019.1 1072.7,1018.9 1075.2,1019.6 1077.7,1021.0 1080.2,1019.5 1082.7,1020.6 1085.2,1019.4 1087.7,1020.1 1090.2,1020.0 1092.7,1019.9 1095.2,1020.9 1097.8,1020.1 1100.3,1020.0 1102.8,1020.8 1105.3,1020.3 1107.8,1021.8 1110.3,1020.9 1112.8,1021.5 1115.3,1022.6 1117.8,1022.1 1120.4,1022.6 1122.9,1022.8 1125.4,1022.5 1127.9,1021.9 1130.4,1023.1 1132.9,1023.0 1135.4,1024.3 1137.9,1023.3 1140.4,1022.7 1142.9,1023.1 1145.5,1023.6 1148.0,1024.5 1150.5,1025.0 1153.0,1024.5 1155.5,1025.6 1158.0,1025.7 1160.5,1024.2 1163.0,1025.8 1165.5,1023.9 1168.1,1026.6 1170.6,1025.3 1173.1,1026.7 1175.6,1025.9 1178.1,1027.0 1180.6,1026.3 1183.1,1026.7 1185.6,1027.1 1188.1,1026.5 1190.6,1025.9 1193.2,1027.7 1195.7,1026.7 1198.2,1027.5 1200.7,1027.8 1203.2,1026.2 1205.7,1029.9 1208.2,1028.9 1210.7,1029.9 1213.2,1028.9 1215.7,1029.0 1218.3,1025.9 1220.8,1028.9 1223.3,1027.9 1225.8,1028.5 1228.3,1030.1" fill="none" stroke="#ff0000" stroke-width="2.8" stroke-linejoin="round"/>
<polyline points="721.2,1079.0 723.7,1078.9 726.2,1078.9 728.7,1078.9 731.2,1078.8 733.8,1079.0 736.3,1078.9 738.8,1078.7 741.3,1078.7 743.8,1078.9 746.3,1078.7 748.8,1078.7 751.3,1078.6 753.8,1078.4 756.3,1078.5 758.9,1078.4 761.4,1078.8 763.9,1078.6 766.4,1078.3 768.9,1078.7 771.4,1078.2 773.9,1078.4 776.4,1078.4 778.9,1077.9 781.4,1078.3 784.0,1078.3 786.5,1078.2 789.0,1077.9 791.5,1077.0 794.0,1078.5 796.5,1077.8 799.0,1077.8 801.5,1077.4 804.0,1077.7 806.6,1078.4 809.1,1077.1 811.6,1077.8 814.1,1077.4 816.6,1077.8 819.1,1077.7 821.6,1077.4 824.1,1076.9 826.6,1076.8 829.1,1077.3 831.7,1076.8 834.2,1077.1 836.7,1076.8 839.2,1076.8 841.7,1076.5 844.2,1077.0 846.7,1076.7 849.2,1076.5 851.7,1076.5 854.3,1076.8 856.8,1075.7 859.3,1076.5 861.8,1075.9 864.3,1076.1 866.8,1075.6 869.3,1077.1 871.8,1075.1 874.3,1076.1 876.8,1076.5 879.4,1075.8 881.9,1074.7 884.4,1075.5 886.9,1076.2 889.4,1075.8 891.9,1074.9 894.4,1076.1 896.9,1075.5 899.4,1075.4 901.9,1074.2 904.5,1075.3 907.0,1074.4 909.5,1075.4 912.0,1075.4 914.5,1074.4 917.0,1074.5 919.5,1075.6 922.0,1074.4 924.5,1074.3 927.1,1074.9 929.6,1074.4 932.1,1074.3 934.6,1074.6 937.1,1074.6 939.6,1074.6 942.1,1074.3 944.6,1074.8 947.1,1074.0 949.6,1074.7 952.2,1073.8 954.7,1073.8 957.2,1074.3 959.7,1073.1 962.2,1072.4 964.7,1072.7 967.2,1074.2 969.7,1072.6 972.2,1073.1 974.8,1073.2 977.3,1073.4 979.8,1073.0 982.3,1072.1 984.8,1072.5 987.3,1073.0 989.8,1073.1 992.3,1072.9 994.8,1072.2 997.3,1071.4 999.9,1073.1 1002.4,1072.3 1004.9,1072.5 1007.4,1072.6 1009.9,1071.9 1012.4,1071.7 1014.9,1072.8 1017.4,1072.5 1019.9,1071.0 1022.4,1071.5 1025.0,1071.3 1027.5,1071.9 1030.0,1071.7 1032.5,1071.1 1035.0,1071.6 1037.5,1072.0 1040.0,1071.1 1042.5,1070.5 1045.0,1071.7 1047.6,1070.2 1050.1,1070.4 1052.6,1071.3 1055.1,1070.7 1057.6,1070.6 1060.1,1070.1 1062.6,1070.0 1065.1,1071.2 1067.6,1071.2 1070.1,1069.5 1072.7,1070.0 1075.2,1069.7 1077.7,1069.7 1080.2,1068.8 1082.7,1070.6 1085.2,1068.9 1087.7,1070.2 1090.2,1069.0 1092.7,1068.5 1095.2,1070.3 1097.8,1069.0 1100.3,1069.4 1102.8,1069.3 1105.3,1069.0 1107.8,1069.7 1110.3,1069.5 1112.8,1068.3 1115.3,1068.1 1117.8,1069.0 1120.4,1069.6 1122.9,1066.7 1125.4,1067.5 1127.9,1068.0 1130.4,1068.9 1132.9,1068.5 1135.4,1067.8 1137.9,1068.6 1140.4,1066.6 1142.9,1067.6 1145.5,1067.3 1148.0,1068.3 1150.5,1068.1 1153.0,1068.0 1155.5,1067.1 1158.0,1067.4 1160.5,1067.3 1163.0,1066.8 1165.5,1066.7 1168.1,1065.7 1170.6,1066.9 1173.1,1067.4 1175.6,1066.6 1178.1,1065.3 1180.6,1066.8 1183.1,1066.3 1185.6,1066.5 1188.1,1065.8 1190.6,1065.8 1193.2,1066.6 1195.7,1066.0 1198.2,1065.0 1200.7,1064.8 1203.2,1064.8 1205.7,1064.8 1208.2,1065.7 1210.7,1065.6 1213.2,1064.5 1215.7,1066.1 1218.3,1065.1 1220.8,1066.4 1223.3,1065.2 1225.8,1065.3 1228.3,1065.6" fill="none" stroke="#ff0000" stroke-width="2.8" stroke-linejoin="round"/>
<polyline points="721.2,1084.0 723.7,1084.0 726.2,1084.0 728.7,1084.0 731.2,1084.0 733.8,1083.7 736.3,1084.0 738.8,1083.9 741.3,1084.1 743.8,1083.9 746.3,1083.9 748.8,1083.9 751.3,1083.9 753.8,1083.7 756.3,1083.4 758.9,1083.7 761.4,1083.7 763.9,1083.8 766.4,1083.0 768.9,1083.2 771.4,1083.4 773.9,1083.4 776.4,1083.7 778.9,1083.6 781.4,1083.4 784.0,1083.4 786.5,1083.7 789.0,1083.6 791.5,1083.2 794.0,1083.2 796.5,1084.0 799.0,1083.3 801.5,1082.8 804.0,1083.4 806.6,1083.1 809.1,1083.7 811.6,1082.9 814.1,1083.5 816.6,1083.5 819.1,1083.2 821.6,1082.2 824.1,1083.2 826.6,1083.4 829.1,1082.7 831.7,1082.8 834.2,1082.2 836.7,1083.3 839.2,1083.4 841.7,1082.9 844.2,1082.6 846.7,1082.5 849.2,1082.2 851.7,1083.2 854.3,1082.9 856.8,1082.6 859.3,1082.2 861.8,1082.3 864.3,1082.6 866.8,1082.9 869.3,1082.0 871.8,1081.9 874.3,1081.1 876.8,1082.3 879.4,1081.5 881.9,1082.7 884.4,1082.4 886.9,1082.4 889.4,1082.3 891.9,1082.5 894.4,1082.3 896.9,1082.0 899.4,1082.2 901.9,1081.6 904.5,1081.9 907.0,1081.8 909.5,1081.1 912.0,1081.6 914.5,1081.6 917.0,1081.7 919.5,1081.6 922.0,1081.3 924.5,1082.0 927.1,1080.9 929.6,1080.7 932.1,1080.8 934.6,1081.7 937.1,1082.2 939.6,1081.5 942.1,1081.2 944.6,1080.8 947.1,1081.3 949.6,1081.3 952.2,1080.3 954.7,1081.4 957.2,1080.4 959.7,1080.5 962.2,1081.7 964.7,1080.8 967.2,1081.2 969.7,1081.4 972.2,1081.8 974.8,1081.6 977.3,1080.5 979.8,1080.9 982.3,1080.5 984.8,1081.2 987.3,1080.7 989.8,1080.6 992.3,1081.4 994.8,1081.4 997.3,1080.1 999.9,1080.2 1002.4,1080.8 1004.9,1080.3 1007.4,1079.8 1009.9,1079.0 1012.4,1080.6 1014.9,1079.7 1017.4,1078.7 1019.9,1079.9 1022.4,1079.0 1025.0,1081.5 1027.5,1078.9 1030.0,1079.8 1032.5,1080.9 1035.0,1079.2 1037.5,1079.0 1040.0,1078.8 1042.5,1078.8 1045.0,1079.5 1047.6,1080.0 1050.1,1079.7 1052.6,1079.4 1055.1,1079.1 1057.6,1079.6 1060.1,1079.2 1062.6,1078.6 1065.1,1078.9 1067.6,1077.6 1070.1,1077.6 1072.7,1079.8 1075.2,1079.4 1077.7,1079.8 1080.2,1079.7 1082.7,1078.5 1085.2,1079.5 1087.7,1079.5 1090.2,1078.9 1092.7,1078.1 1095.2,1078.9 1097.8,1078.8 1100.3,1077.9 1102.8,1078.1 1105.3,1078.1 1107.8,1077.7 1110.3,1079.0 1112.8,1078.1 1115.3,1078.7 1117.8,1077.4 1120.4,1077.5 1122.9,1078.8 1125.4,1077.1 1127.9,1078.8 1130.4,1077.1 1132.9,1077.7 1135.4,1078.5 1137.9,1078.6 1140.4,1078.0 1142.9,1077.7 1145.5,1078.2 1148.0,1077.2 1150.5,1078.6 1153.0,1077.5 1155.5,1077.4 1158.0,1078.8 1160.5,1077.1 1163.0,1078.3 1165.5,1079.2 1168.1,1077.7 1170.6,1077.3 1173.1,1076.4 1175.6,1077.4 1178.1,1075.9 1180.6,1075.8 1183.1,1076.1 1185.6,1075.8 1188.1,1076.5 1190.6,1077.2 1193.2,1076.2 1195.7,1075.9 1198.2,1076.4 1200.7,1076.7 1203.2,1077.7 1205.7,1075.9 1208.2,1076.1 1210.7,1077.4 1213.2,1076.2 1215.7,1075.7 1218.3,1076.3 1220.8,1075.5 1223.3,1075.5 1225.8,1077.2 1228.3,1076.2" fill="none" stroke="#ff0000" stroke-width="2.8" stroke-linejoin="round"/>
<polyline points="721.2,1085.4 723.7,1085.3 726.2,1085.3 728.7,1085.6 731.2,1085.4 733.8,1085.3 736.3,1085.2 738.8,1085.1 741.3,1085.5 743.8,1085.5 746.3,1085.6 748.8,1085.3 751.3,1085.7 753.8,1085.2 756.3,1085.2 758.9,1085.3 761.4,1085.9 763.9,1085.6 766.4,1085.3 768.9,1085.8 771.4,1085.5 773.9,1085.5 776.4,1085.2 778.9,1085.4 781.4,1085.4 784.0,1085.6 786.5,1085.5 789.0,1085.6 791.5,1085.3 794.0,1085.6 796.5,1085.2 799.0,1086.1 801.5,1085.2 804.0,1085.6 806.6,1085.2 809.1,1085.5 811.6,1085.3 814.1,1085.1 816.6,1085.8 819.1,1085.6 821.6,1085.7 824.1,1085.5 826.6,1086.2 829.1,1085.7 831.7,1085.7 834.2,1086.0 836.7,1085.7 839.2,1086.3 841.7,1085.1 844.2,1085.5 846.7,1084.9 849.2,1086.1 851.7,1086.2 854.3,1085.6 856.8,1086.4 859.3,1085.6 861.8,1086.0 864.3,1085.9 866.8,1085.6 869.3,1085.7 871.8,1084.9 874.3,1085.5 876.8,1086.4 879.4,1085.4 881.9,1086.4 884.4,1085.8 886.9,1086.4 889.4,1086.2 891.9,1085.2 894.4,1086.1 896.9,1086.2 899.4,1086.1 901.9,1086.0 904.5,1085.2 907.0,1086.5 909.5,1086.5 912.0,1085.6 914.5,1086.7 917.0,1086.1 919.5,1085.4 922.0,1086.0 924.5,1086.2 927.1,1086.4 929.6,1086.5 932.1,1086.3 934.6,1085.9 937.1,1085.4 939.6,1085.5 942.1,1086.3 944.6,1086.4 947.1,1085.7 949.6,1087.1 952.2,1086.3 954.7,1086.3 957.2,1086.7 959.7,1086.7 962.2,1085.9 964.7,1087.1 967.2,1086.7 969.7,1086.5 972.2,1086.1 974.8,1087.0 977.3,1085.6 979.8,1086.4 982.3,1086.4 984.8,1086.4 987.3,1086.6 989.8,1086.8 992.3,1085.6 994.8,1086.1 997.3,1086.3 999.9,1085.7 1002.4,1086.7 1004.9,1085.9 1007.4,1086.3 1009.9,1086.9 1012.4,1085.9 1014.9,1087.3 1017.4,1086.0 1019.9,1086.9 1022.4,1086.1 1025.0,1085.5 1027.5,1086.0 1030.0,1086.8 1032.5,1086.5 1035.0,1086.7 1037.5,1087.2 1040.0,1087.2 1042.5,1086.4 1045.0,1086.1 1047.6,1087.7 1050.1,1086.6 1052.6,1086.2 1055.1,1086.5 1057.6,1087.2 1060.1,1085.9 1062.6,1087.4 1065.1,1086.1 1067.6,1085.5 1070.1,1088.0 1072.7,1086.4 1075.2,1086.4 1077.7,1086.5 1080.2,1087.2 1082.7,1086.9 1085.2,1087.6 1087.7,1086.6 1090.2,1086.3 1092.7,1087.2 1095.2,1087.4 1097.8,1087.1 1100.3,1086.8 1102.8,1086.7 1105.3,1086.8 1107.8,1086.7 1110.3,1087.7 1112.8,1088.8 1115.3,1086.4 1117.8,1085.8 1120.4,1087.9 1122.9,1087.3 1125.4,1086.7 1127.9,1086.2 1130.4,1086.4 1132.9,1086.0 1135.4,1087.0 1137.9,1086.6 1140.4,1086.6 1142.9,1087.3 1145.5,1086.1 1148.0,1086.5 1150.5,1086.3 1153.0,1087.3 1155.5,1086.2 1158.0,1087.8 1160.5,1086.7 1163.0,1089.0 1165.5,1087.8 1168.1,1086.5 1170.6,1087.4 1173.1,1087.0 1175.6,1088.4 1178.1,1085.9 1180.6,1086.7 1183.1,1087.2 1185.6,1086.8 1188.1,1086.9 1190.6,1086.1 1193.2,1087.0 1195.7,1088.4 1198.2,1087.4 1200.7,1086.2 1203.2,1086.8 1205.7,1087.6 1208.2,1086.8 1210.7,1087.2 1213.2,1086.8 1215.7,1088.6 1218.3,1088.0 1220.8,1086.8 1223.3,1087.5 1225.8,1087.1 1228.3,1085.8" fill="none" stroke="#ff0000" stroke-width="2.8" stroke-linejoin="round"/>
<polyline points="721.2,1091.1 723.7,1091.1 726.2,1091.1 728.7,1091.2 731.2,1091.1 733.8,1091.3 736.3,1091.4 738.8,1091.0 741.3,1091.2 743.8,1091.0 746.3,1091.2 748.8,1091.2 751.3,1091.1 753.8,1091.1 756.3,1091.6 758.9,1091.1 761.4,1091.6 763.9,1091.3 766.4,1090.8 768.9,1091.4 771.4,1091.0 773.9,1091.6 776.4,1091.3 778.9,1091.5 781.4,1091.4 784.0,1091.8 786.5,1091.9 789.0,1091.5 791.5,1092.1 794.0,1092.0 796.5,1091.5 799.0,1091.9 801.5,1092.1 804.0,1092.2 806.6,1091.8 809.1,1092.0 811.6,1091.8 814.1,1092.0 816.6,1091.3 819.1,1092.1 821.6,1092.7 824.1,1092.0 826.6,1092.1 829.1,1092.1 831.7,1092.7 834.2,1091.7 836.7,1092.2 839.2,1092.3 841.7,1092.9 844.2,1092.1 846.7,1092.4 849.2,1091.8 851.7,1092.6 854.3,1092.9 856.8,1092.4 859.3,1092.9 861.8,1092.4 864.3,1093.0 866.8,1092.7 869.3,1092.7 871.8,1092.7 874.3,1092.9 876.8,1093.1 879.4,1092.8 881.9,1093.1 884.4,1092.8 886.9,1093.0 889.4,1094.0 891.9,1093.0 894.4,1092.3 896.9,1092.9 899.4,1092.8 901.9,1092.9 904.5,1093.4 907.0,1093.8 909.5,1092.8 912.0,1092.7 914.5,1093.0 917.0,1093.1 919.5,1093.1 922.0,1093.4 924.5,1093.3 927.1,1093.4 929.6,1093.3 932.1,1094.0 934.6,1093.9 937.1,1093.3 939.6,1093.8 942.1,1095.0 944.6,1093.7 947.1,1095.0 949.6,1092.8 952.2,1093.4 954.7,1093.5 957.2,1094.3 959.7,1094.6 962.2,1094.1 964.7,1094.0 967.2,1094.5 969.7,1094.0 972.2,1093.8 974.8,1093.9 977.3,1094.8 979.8,1095.5 982.3,1094.3 984.8,1094.7 987.3,1094.1 989.8,1093.5 992.3,1093.5 994.8,1094.3 997.3,1093.9 999.9,1093.6 1002.4,1094.6 1004.9,1094.5 1007.4,1094.2 1009.9,1094.8 1012.4,1095.1 1014.9,1095.3 1017.4,1094.9 1019.9,1095.3 1022.4,1094.5 1025.0,1095.2 1027.5,1094.1 1030.0,1094.3 1032.5,1095.9 1035.0,1094.5 1037.5,1095.5 1040.0,1094.4 1042.5,1095.0 1045.0,1095.4 1047.6,1095.0 1050.1,1095.8 1052.6,1095.3 1055.1,1095.3 1057.6,1095.6 1060.1,1095.3 1062.6,1096.3 1065.1,1095.3 1067.6,1096.5 1070.1,1095.4 1072.7,1095.5 1075.2,1095.4 1077.7,1096.3 1080.2,1093.9 1082.7,1096.1 1085.2,1095.9 1087.7,1096.6 1090.2,1095.1 1092.7,1096.5 1095.2,1095.5 1097.8,1096.9 1100.3,1096.1 1102.8,1096.6 1105.3,1095.7 1107.8,1096.6 1110.3,1097.1 1112.8,1096.2 1115.3,1097.4 1117.8,1097.3 1120.4,1096.1 1122.9,1098.0 1125.4,1096.2 1127.9,1097.1 1130.4,1097.5 1132.9,1096.7 1135.4,1096.5 1137.9,1097.4 1140.4,1097.1 1142.9,1096.5 1145.5,1096.6 1148.0,1097.2 1150.5,1097.7 1153.0,1097.9 1155.5,1097.7 1158.0,1096.8 1160.5,1097.0 1163.0,1097.2 1165.5,1096.4 1168.1,1097.7 1170.6,1097.8 1173.1,1097.9 1175.6,1096.2 1178.1,1099.2 1180.6,1097.5 1183.1,1097.5 1185.6,1097.8 1188.1,1096.1 1190.6,1097.0 1193.2,1097.4 1195.7,1098.7 1198.2,1097.7 1200.7,1098.4 1203.2,1098.1 1205.7,1098.1 1208.2,1098.6 1210.7,1097.8 1213.2,1097.1 1215.7,1097.6 1218.3,1098.3 1220.8,1100.0 1223.3,1097.7 1225.8,1097.8 1228.3,1098.8" fill="none" stroke="#ff0000" stroke-width="2.8" stroke-linejoin="round"/>
<polyline points="721.2,1093.1 723.7,1093.1 726.2,1093.2 728.7,1093.1 731.2,1093.4 733.8,1093.4 736.3,1093.3 738.8,1093.6 741.3,1093.4 743.8,1093.3 746.3,1093.7 748.8,1093.4 751.3,1093.7 753.8,1093.5 756.3,1093.6 758.9,1093.8 761.4,1093.9 763.9,1094.2 766.4,1094.0 768.9,1094.1 771.4,1093.6 773.9,1093.8 776.4,1094.4 778.9,1093.9 781.4,1094.1 784.0,1094.4 786.5,1094.2 789.0,1094.1 791.5,1094.6 794.0,1094.6 796.5,1094.5 799.0,1094.9 801.5,1094.6 804.0,1094.8 806.6,1095.0 809.1,1095.1 811.6,1094.8 814.1,1094.7 816.6,1094.9 819.1,1095.4 821.6,1094.9 824.1,1095.2 826.6,1095.1 829.1,1095.0 831.7,1095.8 834.2,1095.6 836.7,1095.8 839.2,1096.0 841.7,1095.0 844.2,1095.4 846.7,1096.6 849.2,1095.8 851.7,1096.2 854.3,1095.6 856.8,1096.1 859.3,1096.3 861.8,1096.3 864.3,1096.2 866.8,1096.4 869.3,1096.6 871.8,1096.7 874.3,1096.5 876.8,1097.2 879.4,1096.8 881.9,1097.0 884.4,1097.2 886.9,1096.7 889.4,1097.7 891.9,1097.4 894.4,1097.7 896.9,1097.1 899.4,1097.7 901.9,1097.5 904.5,1097.4 907.0,1098.4 909.5,1097.6 912.0,1098.2 914.5,1098.1 917.0,1098.1 919.5,1097.7 922.0,1097.8 924.5,1097.4 927.1,1098.3 929.6,1098.7 932.1,1098.8 934.6,1098.3 937.1,1097.9 939.6,1098.6 942.1,1099.1 944.6,1098.8 947.1,1098.9 949.6,1099.1 952.2,1099.6 954.7,1100.6 957.2,1099.6 959.7,1098.9 962.2,1099.4 964.7,1100.8 967.2,1099.7 969.7,1100.8 972.2,1098.8 974.8,1099.9 977.3,1100.7 979.8,1099.7 982.3,1100.7 984.8,1100.0 987.3,1100.4 989.8,1101.2 992.3,1100.2 994.8,1101.4 997.3,1100.0 999.9,1100.8 1002.4,1101.5 1004.9,1102.1 1007.4,1100.2 1009.9,1100.4 1012.4,1102.1 1014.9,1100.4 1017.4,1101.4 1019.9,1101.7 1022.4,1101.7 1025.0,1101.9 1027.5,1101.0 1030.0,1101.9 1032.5,1103.2 1035.0,1100.9 1037.5,1101.7 1040.0,1103.0 1042.5,1102.7 1045.0,1103.1 1047.6,1102.6 1050.1,1102.5 1052.6,1102.7 1055.1,1103.3 1057.6,1103.5 1060.1,1102.6 1062.6,1103.3 1065.1,1101.9 1067.6,1103.9 1070.1,1103.0 1072.7,1103.5 1075.2,1104.2 1077.7,1102.9 1080.2,1103.8 1082.7,1104.6 1085.2,1104.3 1087.7,1103.5 1090.2,1105.1 1092.7,1103.4 1095.2,1104.0 1097.8,1104.7 1100.3,1103.8 1102.8,1103.6 1105.3,1104.5 1107.8,1104.8 1110.3,1103.8 1112.8,1104.1 1115.3,1105.9 1117.8,1105.5 1120.4,1105.6 1122.9,1105.8 1125.4,1106.7 1127.9,1105.1 1130.4,1105.8 1132.9,1105.9 1135.4,1105.1 1137.9,1106.6 1140.4,1106.3 1142.9,1106.2 1145.5,1106.8 1148.0,1106.7 1150.5,1106.1 1153.0,1106.8 1155.5,1105.9 1158.0,1107.5 1160.5,1106.9 1163.0,1108.2 1165.5,1107.4 1168.1,1107.9 1170.6,1106.5 1173.1,1107.1 1175.6,1107.3 1178.1,1106.5 1180.6,1106.9 1183.1,1107.5 1185.6,1108.7 1188.1,1109.3 1190.6,1108.4 1193.2,1108.7 1195.7,1109.1 1198.2,1108.9 1200.7,1110.0 1203.2,1107.7 1205.7,1109.9 1208.2,1109.6 1210.7,1108.8 1213.2,1110.6 1215.7,1108.7 1218.3,1108.8 1220.8,1109.9 1223.3,1110.6 1225.8,1110.2 1228.3,1111.4" fill="none" stroke="#ff0000" stroke-width="2.8" stroke-linejoin="round"/>
<polyline points="721.2,1101.8 723.7,1101.8 726.2,1101.9 728.7,1101.9 731.2,1101.8 733.8,1101.7 736.3,1102.1 738.8,1102.1 741.3,1102.3 743.8,1102.0 746.3,1102.1 748.8,1101.8 751.3,1102.3 753.8,1102.4 756.3,1102.5 758.9,1102.3 761.4,1102.9 763.9,1102.4 766.4,1102.6 768.9,1102.8 771.4,1103.0 773.9,1102.5 776.4,1102.4 778.9,1103.0 781.4,1102.9 784.0,1102.6 786.5,1103.3 789.0,1103.3 791.5,1103.6 794.0,1103.4 796.5,1103.4 799.0,1103.6 801.5,1103.8 804.0,1104.1 806.6,1104.1 809.1,1104.1 811.6,1103.6 814.1,1104.1 816.6,1104.3 819.1,1103.8 821.6,1104.0 824.1,1104.5 826.6,1104.5 829.1,1104.1 831.7,1104.3 834.2,1104.9 836.7,1104.5 839.2,1104.7 841.7,1104.4 844.2,1105.2 846.7,1104.6 849.2,1104.9 851.7,1105.5 854.3,1104.8 856.8,1104.9 859.3,1105.9 861.8,1104.6 864.3,1106.0 866.8,1106.0 869.3,1105.8 871.8,1105.5 874.3,1105.6 876.8,1106.0 879.4,1105.5 881.9,1106.0 884.4,1105.6 886.9,1105.1 889.4,1106.3 891.9,1107.7 894.4,1106.8 896.9,1107.2 899.4,1106.7 901.9,1106.8 904.5,1107.6 907.0,1107.6 909.5,1107.3 912.0,1107.3 914.5,1108.6 917.0,1107.0 919.5,1107.5 922.0,1107.6 924.5,1107.6 927.1,1108.3 929.6,1107.9 932.1,1107.5 934.6,1107.5 937.1,1108.0 939.6,1108.4 942.1,1108.8 944.6,1107.8 947.1,1108.3 949.6,1108.9 952.2,1110.0 954.7,1109.4 957.2,1110.0 959.7,1108.4 962.2,1109.1 964.7,1109.7 967.2,1109.5 969.7,1108.0 972.2,1108.9 974.8,1110.5 977.3,1109.9 979.8,1110.6 982.3,1111.0 984.8,1110.0 987.3,1108.8 989.8,1109.4 992.3,1110.4 994.8,1110.7 997.3,1110.5 999.9,1110.1 1002.4,1111.7 1004.9,1112.1 1007.4,1109.9 1009.9,1111.0 1012.4,1110.3 1014.9,1111.2 1017.4,1110.6 1019.9,1112.0 1022.4,1111.4 1025.0,1110.8 1027.5,1111.3 1030.0,1112.3 1032.5,1111.5 1035.0,1112.7 1037.5,1113.3 1040.0,1112.1 1042.5,1111.6 1045.0,1112.1 1047.6,1113.6 1050.1,1112.3 1052.6,1112.5 1055.1,1113.4 1057.6,1114.9 1060.1,1112.6 1062.6,1112.8 1065.1,1113.2 1067.6,1114.8 1070.1,1114.8 1072.7,1113.2 1075.2,1113.5 1077.7,1113.8 1080.2,1114.4 1082.7,1114.1 1085.2,1114.8 1087.7,1114.8 1090.2,1115.3 1092.7,1114.6 1095.2,1115.2 1097.8,1114.4 1100.3,1114.6 1102.8,1115.8 1105.3,1114.1 1107.8,1116.3 1110.3,1115.3 1112.8,1114.9 1115.3,1114.9 1117.8,1117.6 1120.4,1115.3 1122.9,1115.3 1125.4,1115.2 1127.9,1118.1 1130.4,1117.0 1132.9,1116.7 1135.4,1117.1 1137.9,1115.9 1140.4,1117.5 1142.9,1116.2 1145.5,1116.8 1148.0,1118.5 1150.5,1118.2 1153.0,1118.0 1155.5,1117.7 1158.0,1117.1 1160.5,1118.1 1163.0,1117.4 1165.5,1119.4 1168.1,1120.7 1170.6,1118.7 1173.1,1118.2 1175.6,1119.0 1178.1,1119.6 1180.6,1118.6 1183.1,1117.5 1185.6,1119.3 1188.1,1119.9 1190.6,1120.1 1193.2,1118.0 1195.7,1119.7 1198.2,1119.3 1200.7,1118.9 1203.2,1119.2 1205.7,1120.9 1208.2,1119.5 1210.7,1119.7 1213.2,1120.1 1215.7,1119.8 1218.3,1121.2 1220.8,1121.0 1223.3,1121.5 1225.8,1120.5 1228.3,1121.8" fill="none" stroke="#ff0000" stroke-width="2.8" stroke-linejoin="round"/>
<line x1="721.20" y1="870.48" x2="1228.30" y2="870.48" stroke="#ff0000" stroke-width="3.3" />
<text x="713.1" y="1187.1" text-anchor="end" style="font-size:28px;font-family:'Liberation Serif', serif;" >750</text>
<line x1="721.20" y1="1091.23" x2="726.70" y2="1091.23" stroke="#000" stroke-width="2.6" />
<text x="713.1" y="1100.7" text-anchor="end" style="font-size:28px;font-family:'Liberation Serif', serif;" >800</text>
<line x1="721.20" y1="1004.87" x2="726.70" y2="1004.87" stroke="#000" stroke-width="2.6" />
<text x="713.1" y="1014.4" text-anchor="end" style="font-size:28px;font-family:'Liberation Serif', serif;" >850</text>
<line x1="721.20" y1="918.50" x2="726.70" y2="918.50" stroke="#000" stroke-width="2.6" />
<text x="713.1" y="928.0" text-anchor="end" style="font-size:28px;font-family:'Liberation Serif', serif;" >900</text>
<line x1="721.20" y1="832.13" x2="726.70" y2="832.13" stroke="#000" stroke-width="2.6" />
<text x="713.1" y="841.6" text-anchor="end" style="font-size:28px;font-family:'Liberation Serif', serif;" >950</text>
<line x1="721.20" y1="745.77" x2="726.70" y2="745.77" stroke="#000" stroke-width="2.6" />
<text x="713.1" y="755.3" text-anchor="end" style="font-size:28px;font-family:'Liberation Serif', serif;" >1000</text>
<text x="713.1" y="668.9" text-anchor="end" style="font-size:28px;font-family:'Liberation Serif', serif;" >1050</text>
<text x="721.2" y="1211.2" text-anchor="middle" style="font-size:28px;font-family:'Liberation Serif', serif;" >0</text>
<line x1="822.62" y1="1177.60" x2="822.62" y2="1171.60" stroke="#000" stroke-width="2.6" />
<text x="822.6" y="1211.2" text-anchor="middle" style="font-size:28px;font-family:'Liberation Serif', serif;" >0.01</text>
<line x1="924.04" y1="1177.60" x2="924.04" y2="1171.60" stroke="#000" stroke-width="2.6" />
<text x="924.0" y="1211.2" text-anchor="middle" style="font-size:28px;font-family:'Liberation Serif', serif;" >0.02</text>
<line x1="1025.46" y1="1177.60" x2="1025.46" y2="1171.60" stroke="#000" stroke-width="2.6" />
<text x="1025.5" y="1211.2" text-anchor="middle" style="font-size:28px;font-family:'Liberation Serif', serif;" >0.03</text>
<line x1="1126.88" y1="1177.60" x2="1126.88" y2="1171.60" stroke="#000" stroke-width="2.6" />
<text x="1126.9" y="1211.2" text-anchor="middle" style="font-size:28px;font-family:'Liberation Serif', serif;" >0.04</text>
<text x="1228.3" y="1211.2" text-anchor="middle" style="font-size:28px;font-family:'Liberation Serif', serif;" >0.05</text>
<text x="973.9" y="1242.5" text-anchor="middle" style="font-size:29px;font-family:'Liberation Serif', serif;" textLength="283" lengthAdjust="spacingAndGlyphs">Disorder strength (<tspan font-style="italic">δ</tspan>)</text>
<text transform="translate(663.5,919) rotate(-90)" text-anchor="middle" textLength="156" lengthAdjust="spacingAndGlyphs" style="font-size:32px;font-family:'Liberation Serif', serif"><tspan font-style="italic">ω</tspan>/2<tspan font-style="italic">π</tspan>(MHz)</text>
<text x="1193.0" y="698.5" text-anchor="middle" style="font-size:38px;font-family:'Liberation Sans', sans-serif;" >(d)</text>
</svg></body></html>
